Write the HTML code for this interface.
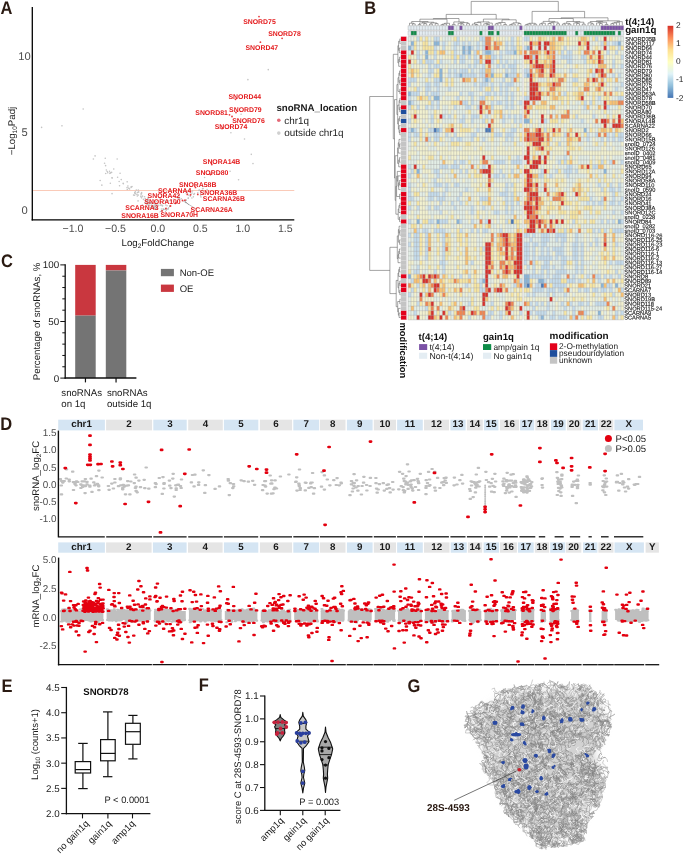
<!DOCTYPE html>
<html><head><meta charset="utf-8"><style>
html,body{margin:0;padding:0;background:#fff;}
svg{display:block;font-family:"Liberation Sans", sans-serif;text-rendering:geometricPrecision;will-change:transform;}
</style></head><body>
<svg width="685" height="855" viewBox="0 0 685 855">
<rect width="685" height="855" fill="#fff"/>
<text transform="translate(0.60,13.90) scale(1,1.1)" font-size="16.5" fill="#2a1a12" font-weight="bold">A</text>
<text transform="translate(364.30,13.70) scale(1,1.1)" font-size="16.5" fill="#2a1a12" font-weight="bold">B</text>
<text transform="translate(1.00,266.60) scale(1,1.1)" font-size="16.5" fill="#2a1a12" font-weight="bold">C</text>
<text transform="translate(0.30,429.60) scale(1,1.1)" font-size="16.5" fill="#2a1a12" font-weight="bold">D</text>
<text transform="translate(1.60,691.50) scale(1,1.1)" font-size="16.5" fill="#2a1a12" font-weight="bold">E</text>
<text transform="translate(198.80,691.40) scale(1,1.1)" font-size="16.5" fill="#2a1a12" font-weight="bold">F</text>
<text transform="translate(407.60,691.60) scale(1,1.1)" font-size="16.5" fill="#2a1a12" font-weight="bold">G</text>
<line x1="33.00" y1="190.50" x2="294.30" y2="190.50" stroke="#f9c4b0" stroke-width="0.9" />
<circle cx="138.06" cy="200.89" r="0.8" fill="#c4c4c4"/>
<circle cx="137.33" cy="196.03" r="0.8" fill="#c4c4c4"/>
<circle cx="134.97" cy="193.37" r="0.8" fill="#c4c4c4"/>
<circle cx="134.74" cy="192.49" r="0.8" fill="#c4c4c4"/>
<circle cx="127.89" cy="186.05" r="0.8" fill="#c4c4c4"/>
<circle cx="145.86" cy="200.77" r="0.8" fill="#c4c4c4"/>
<circle cx="155.24" cy="204.14" r="0.8" fill="#c4c4c4"/>
<circle cx="156.89" cy="209.03" r="0.8" fill="#c4c4c4"/>
<circle cx="105.60" cy="165.67" r="0.8" fill="#c4c4c4"/>
<circle cx="128.74" cy="188.14" r="0.8" fill="#c4c4c4"/>
<circle cx="152.59" cy="200.01" r="0.8" fill="#c4c4c4"/>
<circle cx="156.33" cy="206.43" r="0.8" fill="#c4c4c4"/>
<circle cx="151.18" cy="203.10" r="0.8" fill="#c4c4c4"/>
<circle cx="137.42" cy="192.44" r="0.8" fill="#c4c4c4"/>
<circle cx="138.70" cy="191.95" r="0.8" fill="#c4c4c4"/>
<circle cx="127.26" cy="189.43" r="0.8" fill="#c4c4c4"/>
<circle cx="135.42" cy="193.81" r="0.8" fill="#c4c4c4"/>
<circle cx="147.10" cy="203.40" r="0.8" fill="#c4c4c4"/>
<circle cx="104.57" cy="163.26" r="0.8" fill="#c4c4c4"/>
<circle cx="123.17" cy="183.25" r="0.8" fill="#c4c4c4"/>
<circle cx="145.26" cy="198.54" r="0.8" fill="#c4c4c4"/>
<circle cx="155.97" cy="203.79" r="0.8" fill="#c4c4c4"/>
<circle cx="119.55" cy="185.79" r="0.8" fill="#c4c4c4"/>
<circle cx="141.60" cy="192.43" r="0.8" fill="#c4c4c4"/>
<circle cx="107.20" cy="171.56" r="0.8" fill="#c4c4c4"/>
<circle cx="150.31" cy="202.60" r="0.8" fill="#c4c4c4"/>
<circle cx="110.34" cy="183.21" r="0.8" fill="#c4c4c4"/>
<circle cx="141.02" cy="194.08" r="0.8" fill="#c4c4c4"/>
<circle cx="155.87" cy="209.03" r="0.8" fill="#c4c4c4"/>
<circle cx="147.50" cy="204.78" r="0.8" fill="#c4c4c4"/>
<circle cx="155.37" cy="209.03" r="0.8" fill="#c4c4c4"/>
<circle cx="120.07" cy="173.26" r="0.8" fill="#c4c4c4"/>
<circle cx="154.20" cy="205.27" r="0.8" fill="#c4c4c4"/>
<circle cx="156.32" cy="205.25" r="0.8" fill="#c4c4c4"/>
<circle cx="117.62" cy="177.19" r="0.8" fill="#c4c4c4"/>
<circle cx="138.33" cy="190.03" r="0.8" fill="#c4c4c4"/>
<circle cx="151.16" cy="203.33" r="0.8" fill="#c4c4c4"/>
<circle cx="127.06" cy="187.64" r="0.8" fill="#c4c4c4"/>
<circle cx="154.26" cy="207.40" r="0.8" fill="#c4c4c4"/>
<circle cx="147.50" cy="199.38" r="0.8" fill="#c4c4c4"/>
<circle cx="106.35" cy="170.07" r="0.8" fill="#c4c4c4"/>
<circle cx="112.00" cy="177.79" r="0.8" fill="#c4c4c4"/>
<circle cx="150.26" cy="207.72" r="0.8" fill="#c4c4c4"/>
<circle cx="127.17" cy="181.84" r="0.8" fill="#c4c4c4"/>
<circle cx="154.88" cy="203.45" r="0.8" fill="#c4c4c4"/>
<circle cx="148.05" cy="201.05" r="0.8" fill="#c4c4c4"/>
<circle cx="119.15" cy="181.54" r="0.8" fill="#c4c4c4"/>
<circle cx="155.86" cy="203.99" r="0.8" fill="#c4c4c4"/>
<circle cx="155.26" cy="208.25" r="0.8" fill="#c4c4c4"/>
<circle cx="129.58" cy="188.92" r="0.8" fill="#c4c4c4"/>
<circle cx="142.38" cy="205.03" r="0.8" fill="#c4c4c4"/>
<circle cx="136.32" cy="190.01" r="0.8" fill="#c4c4c4"/>
<circle cx="131.14" cy="187.34" r="0.8" fill="#c4c4c4"/>
<circle cx="152.73" cy="205.85" r="0.8" fill="#c4c4c4"/>
<circle cx="110.46" cy="172.90" r="0.8" fill="#c4c4c4"/>
<circle cx="151.20" cy="205.49" r="0.8" fill="#c4c4c4"/>
<circle cx="121.23" cy="179.59" r="0.8" fill="#c4c4c4"/>
<circle cx="107.73" cy="172.82" r="0.8" fill="#c4c4c4"/>
<circle cx="112.17" cy="178.01" r="0.8" fill="#c4c4c4"/>
<circle cx="154.75" cy="207.84" r="0.8" fill="#c4c4c4"/>
<circle cx="156.98" cy="204.86" r="0.8" fill="#c4c4c4"/>
<circle cx="123.37" cy="183.79" r="0.8" fill="#c4c4c4"/>
<circle cx="148.11" cy="198.90" r="0.8" fill="#c4c4c4"/>
<circle cx="146.35" cy="203.76" r="0.8" fill="#c4c4c4"/>
<circle cx="151.83" cy="203.84" r="0.8" fill="#c4c4c4"/>
<circle cx="149.45" cy="203.16" r="0.8" fill="#c4c4c4"/>
<circle cx="132.03" cy="186.61" r="0.8" fill="#c4c4c4"/>
<circle cx="147.00" cy="203.88" r="0.8" fill="#c4c4c4"/>
<circle cx="109.88" cy="173.37" r="0.8" fill="#c4c4c4"/>
<circle cx="147.53" cy="199.93" r="0.8" fill="#c4c4c4"/>
<circle cx="138.42" cy="192.04" r="0.8" fill="#c4c4c4"/>
<circle cx="142.53" cy="196.16" r="0.8" fill="#c4c4c4"/>
<circle cx="131.28" cy="186.71" r="0.8" fill="#c4c4c4"/>
<circle cx="111.60" cy="172.42" r="0.8" fill="#c4c4c4"/>
<circle cx="105.71" cy="173.43" r="0.8" fill="#c4c4c4"/>
<circle cx="186.31" cy="200.16" r="0.8" fill="#c4c4c4"/>
<circle cx="165.83" cy="204.94" r="0.8" fill="#c4c4c4"/>
<circle cx="202.55" cy="188.73" r="0.8" fill="#c4c4c4"/>
<circle cx="192.04" cy="193.01" r="0.8" fill="#c4c4c4"/>
<circle cx="188.84" cy="195.22" r="0.8" fill="#c4c4c4"/>
<circle cx="181.38" cy="198.79" r="0.8" fill="#c4c4c4"/>
<circle cx="207.11" cy="189.47" r="0.8" fill="#c4c4c4"/>
<circle cx="163.16" cy="209.03" r="0.8" fill="#c4c4c4"/>
<circle cx="202.04" cy="190.53" r="0.8" fill="#c4c4c4"/>
<circle cx="193.83" cy="194.38" r="0.8" fill="#c4c4c4"/>
<circle cx="202.80" cy="193.99" r="0.8" fill="#c4c4c4"/>
<circle cx="175.25" cy="203.87" r="0.8" fill="#c4c4c4"/>
<circle cx="200.57" cy="195.84" r="0.8" fill="#c4c4c4"/>
<circle cx="178.30" cy="198.31" r="0.8" fill="#c4c4c4"/>
<circle cx="185.74" cy="202.43" r="0.8" fill="#c4c4c4"/>
<circle cx="188.29" cy="198.33" r="0.8" fill="#c4c4c4"/>
<circle cx="187.50" cy="192.94" r="0.8" fill="#c4c4c4"/>
<circle cx="163.36" cy="209.03" r="0.8" fill="#c4c4c4"/>
<circle cx="201.01" cy="197.05" r="0.8" fill="#c4c4c4"/>
<circle cx="193.39" cy="196.85" r="0.8" fill="#c4c4c4"/>
<circle cx="186.14" cy="193.06" r="0.8" fill="#c4c4c4"/>
<circle cx="179.40" cy="198.68" r="0.8" fill="#c4c4c4"/>
<circle cx="194.49" cy="193.61" r="0.8" fill="#c4c4c4"/>
<circle cx="161.43" cy="209.03" r="0.8" fill="#c4c4c4"/>
<circle cx="169.73" cy="205.84" r="0.8" fill="#c4c4c4"/>
<circle cx="191.91" cy="197.94" r="0.8" fill="#c4c4c4"/>
<circle cx="203.07" cy="188.55" r="0.8" fill="#c4c4c4"/>
<circle cx="170.87" cy="200.62" r="0.8" fill="#c4c4c4"/>
<circle cx="190.91" cy="193.95" r="0.8" fill="#c4c4c4"/>
<circle cx="168.51" cy="201.06" r="0.8" fill="#c4c4c4"/>
<circle cx="190.01" cy="188.69" r="0.8" fill="#c4c4c4"/>
<circle cx="179.46" cy="197.20" r="0.8" fill="#c4c4c4"/>
<circle cx="190.30" cy="196.14" r="0.8" fill="#c4c4c4"/>
<circle cx="168.33" cy="209.03" r="0.8" fill="#c4c4c4"/>
<circle cx="202.76" cy="186.42" r="0.8" fill="#c4c4c4"/>
<circle cx="201.03" cy="192.59" r="0.8" fill="#c4c4c4"/>
<circle cx="173.62" cy="199.27" r="0.8" fill="#c4c4c4"/>
<circle cx="165.66" cy="209.03" r="0.8" fill="#c4c4c4"/>
<circle cx="199.43" cy="190.14" r="0.8" fill="#c4c4c4"/>
<circle cx="192.54" cy="191.04" r="0.8" fill="#c4c4c4"/>
<circle cx="167.06" cy="205.72" r="0.8" fill="#c4c4c4"/>
<circle cx="179.88" cy="199.48" r="0.8" fill="#c4c4c4"/>
<circle cx="178.15" cy="197.81" r="0.8" fill="#c4c4c4"/>
<circle cx="188.33" cy="197.99" r="0.8" fill="#c4c4c4"/>
<circle cx="198.95" cy="190.39" r="0.8" fill="#c4c4c4"/>
<circle cx="162.22" cy="205.83" r="0.8" fill="#c4c4c4"/>
<circle cx="153.41" cy="207.74" r="0.8" fill="#c4c4c4"/>
<circle cx="153.18" cy="207.24" r="0.8" fill="#c4c4c4"/>
<circle cx="147.70" cy="200.03" r="0.8" fill="#c4c4c4"/>
<circle cx="144.57" cy="196.69" r="0.8" fill="#c4c4c4"/>
<circle cx="156.57" cy="209.03" r="0.8" fill="#c4c4c4"/>
<circle cx="148.92" cy="205.33" r="0.8" fill="#c4c4c4"/>
<circle cx="154.71" cy="206.45" r="0.8" fill="#c4c4c4"/>
<circle cx="153.11" cy="207.08" r="0.8" fill="#c4c4c4"/>
<circle cx="143.48" cy="199.38" r="0.8" fill="#c4c4c4"/>
<circle cx="140.93" cy="196.84" r="0.8" fill="#c4c4c4"/>
<circle cx="160.17" cy="198.41" r="0.8" fill="#c4c4c4"/>
<circle cx="148.39" cy="202.91" r="0.8" fill="#c4c4c4"/>
<circle cx="144.79" cy="202.80" r="0.8" fill="#c4c4c4"/>
<circle cx="162.60" cy="205.79" r="0.8" fill="#c4c4c4"/>
<circle cx="149.68" cy="203.66" r="0.8" fill="#c4c4c4"/>
<circle cx="149.79" cy="202.57" r="0.8" fill="#c4c4c4"/>
<circle cx="147.09" cy="200.10" r="0.8" fill="#c4c4c4"/>
<circle cx="138.23" cy="195.11" r="0.8" fill="#c4c4c4"/>
<circle cx="136.95" cy="194.39" r="0.8" fill="#c4c4c4"/>
<circle cx="154.73" cy="208.03" r="0.8" fill="#c4c4c4"/>
<circle cx="165.98" cy="201.59" r="0.8" fill="#c4c4c4"/>
<circle cx="158.78" cy="205.22" r="0.8" fill="#c4c4c4"/>
<circle cx="135.35" cy="191.70" r="0.8" fill="#c4c4c4"/>
<circle cx="141.66" cy="197.87" r="0.8" fill="#c4c4c4"/>
<circle cx="164.31" cy="200.37" r="0.8" fill="#c4c4c4"/>
<circle cx="161.79" cy="205.08" r="0.8" fill="#c4c4c4"/>
<circle cx="147.10" cy="202.39" r="0.8" fill="#c4c4c4"/>
<circle cx="147.81" cy="197.93" r="0.8" fill="#c4c4c4"/>
<circle cx="140.91" cy="196.17" r="0.8" fill="#c4c4c4"/>
<circle cx="156.11" cy="201.70" r="0.8" fill="#c4c4c4"/>
<circle cx="178.94" cy="195.31" r="0.8" fill="#c4c4c4"/>
<circle cx="133.57" cy="195.10" r="0.8" fill="#c4c4c4"/>
<circle cx="141.54" cy="193.65" r="0.8" fill="#c4c4c4"/>
<circle cx="156.93" cy="206.57" r="0.8" fill="#c4c4c4"/>
<circle cx="160.64" cy="205.16" r="0.8" fill="#c4c4c4"/>
<circle cx="134.55" cy="195.19" r="0.8" fill="#c4c4c4"/>
<circle cx="148.67" cy="205.35" r="0.8" fill="#c4c4c4"/>
<circle cx="152.45" cy="206.32" r="0.8" fill="#c4c4c4"/>
<circle cx="153.04" cy="205.71" r="0.8" fill="#c4c4c4"/>
<circle cx="41.59" cy="127.41" r="0.8" fill="#c4c4c4"/>
<circle cx="61.96" cy="125.87" r="0.8" fill="#c4c4c4"/>
<circle cx="83.19" cy="108.93" r="0.8" fill="#c4c4c4"/>
<circle cx="95.07" cy="155.90" r="0.8" fill="#c4c4c4"/>
<circle cx="105.26" cy="158.21" r="0.8" fill="#c4c4c4"/>
<circle cx="109.51" cy="171.30" r="0.8" fill="#c4c4c4"/>
<circle cx="100.17" cy="180.54" r="0.8" fill="#c4c4c4"/>
<circle cx="113.75" cy="168.99" r="0.8" fill="#c4c4c4"/>
<circle cx="93.38" cy="158.98" r="0.8" fill="#c4c4c4"/>
<circle cx="117.15" cy="158.98" r="0.8" fill="#c4c4c4"/>
<circle cx="101.87" cy="185.16" r="0.8" fill="#c4c4c4"/>
<circle cx="112.05" cy="193.63" r="0.8" fill="#c4c4c4"/>
<circle cx="241.10" cy="114.32" r="0.8" fill="#c4c4c4"/>
<circle cx="247.89" cy="79.67" r="0.8" fill="#c4c4c4"/>
<circle cx="268.27" cy="69.66" r="0.8" fill="#c4c4c4"/>
<circle cx="230.91" cy="132.80" r="0.8" fill="#c4c4c4"/>
<circle cx="244.50" cy="138.96" r="0.8" fill="#c4c4c4"/>
<circle cx="251.29" cy="154.36" r="0.8" fill="#c4c4c4"/>
<circle cx="252.99" cy="163.60" r="0.8" fill="#c4c4c4"/>
<circle cx="238.56" cy="179.77" r="0.8" fill="#c4c4c4"/>
<circle cx="230.06" cy="171.30" r="0.8" fill="#c4c4c4"/>
<circle cx="219.03" cy="173.61" r="0.8" fill="#c4c4c4"/>
<circle cx="210.54" cy="183.62" r="0.8" fill="#c4c4c4"/>
<circle cx="204.60" cy="177.46" r="0.8" fill="#c4c4c4"/>
<circle cx="190.16" cy="190.55" r="0.8" fill="#c4c4c4"/>
<circle cx="197.80" cy="192.86" r="0.8" fill="#c4c4c4"/>
<line x1="182.50" y1="200.50" x2="196.00" y2="209.00" stroke="#7f7f7f" stroke-width="0.5" />
<line x1="170.00" y1="206.00" x2="165.00" y2="212.00" stroke="#7f7f7f" stroke-width="0.5" />
<line x1="189.00" y1="205.00" x2="184.00" y2="200.00" stroke="#7f7f7f" stroke-width="0.5" />
<line x1="159.50" y1="212.00" x2="166.00" y2="208.50" stroke="#7f7f7f" stroke-width="0.5" />
<circle cx="259.00" cy="16.60" r="0.9" fill="#e41a1c" fill-opacity="0.85"/>
<circle cx="282.10" cy="38.30" r="0.9" fill="#e41a1c" fill-opacity="0.85"/>
<circle cx="260.40" cy="42.20" r="0.9" fill="#e41a1c" fill-opacity="0.85"/>
<circle cx="235.50" cy="99.30" r="0.9" fill="#e41a1c" fill-opacity="0.85"/>
<circle cx="236.00" cy="112.50" r="0.9" fill="#e41a1c" fill-opacity="0.85"/>
<circle cx="229.50" cy="114.80" r="0.9" fill="#e41a1c" fill-opacity="0.85"/>
<circle cx="232.00" cy="116.50" r="0.9" fill="#e41a1c" fill-opacity="0.85"/>
<circle cx="222.00" cy="128.50" r="0.9" fill="#e41a1c" fill-opacity="0.85"/>
<circle cx="211.80" cy="164.50" r="0.9" fill="#e41a1c" fill-opacity="0.85"/>
<circle cx="210.50" cy="174.50" r="0.9" fill="#e41a1c" fill-opacity="0.85"/>
<circle cx="195.50" cy="187.40" r="0.9" fill="#e41a1c" fill-opacity="0.85"/>
<circle cx="197.80" cy="194.40" r="0.9" fill="#e41a1c" fill-opacity="0.85"/>
<circle cx="187.30" cy="194.40" r="0.9" fill="#e41a1c" fill-opacity="0.85"/>
<circle cx="190.60" cy="194.80" r="0.9" fill="#e41a1c" fill-opacity="0.85"/>
<circle cx="185.00" cy="200.20" r="0.9" fill="#e41a1c" fill-opacity="0.85"/>
<circle cx="182.50" cy="200.50" r="0.9" fill="#e41a1c" fill-opacity="0.85"/>
<circle cx="176.00" cy="203.00" r="0.9" fill="#e41a1c" fill-opacity="0.85"/>
<circle cx="170.50" cy="206.00" r="0.9" fill="#e41a1c" fill-opacity="0.85"/>
<circle cx="166.00" cy="208.50" r="0.9" fill="#e41a1c" fill-opacity="0.85"/>
<circle cx="162.00" cy="211.00" r="0.9" fill="#e41a1c" fill-opacity="0.85"/>
<text x="243.20" y="24.05" font-size="6.9" fill="#e41a1c" text-anchor="start" font-weight="bold" >SNORD75</text>
<text x="268.20" y="36.05" font-size="6.9" fill="#e41a1c" text-anchor="start" font-weight="bold" >SNORD78</text>
<text x="245.50" y="50.45" font-size="6.9" fill="#e41a1c" text-anchor="start" font-weight="bold" >SNORD47</text>
<text x="228.50" y="99.25" font-size="6.9" fill="#e41a1c" text-anchor="start" font-weight="bold" >SNORD44</text>
<text x="229.10" y="112.05" font-size="6.9" fill="#e41a1c" text-anchor="start" font-weight="bold" >SNORD79</text>
<text x="195.30" y="115.05" font-size="6.9" fill="#e41a1c" text-anchor="start" font-weight="bold" >SNORD81</text>
<text x="232.20" y="122.85" font-size="6.9" fill="#e41a1c" text-anchor="start" font-weight="bold" >SNORD76</text>
<text x="214.70" y="128.95" font-size="6.9" fill="#e41a1c" text-anchor="start" font-weight="bold" >SNORD74</text>
<text x="202.80" y="163.85" font-size="6.9" fill="#e41a1c" text-anchor="start" font-weight="bold" >SNORA14B</text>
<text x="195.80" y="175.15" font-size="6.9" fill="#e41a1c" text-anchor="start" font-weight="bold" >SNORD80</text>
<text x="178.90" y="186.85" font-size="6.9" fill="#e41a1c" text-anchor="start" font-weight="bold" >SNORA58B</text>
<text x="158.00" y="192.65" font-size="6.9" fill="#e41a1c" text-anchor="start" font-weight="bold" >SCARNA4</text>
<text x="199.70" y="195.15" font-size="6.9" fill="#e41a1c" text-anchor="start" font-weight="bold" >SNORA36B</text>
<text x="147.60" y="197.55" font-size="6.9" fill="#e41a1c" text-anchor="start" font-weight="bold" >SNORA42</text>
<text x="202.80" y="201.25" font-size="6.9" fill="#e41a1c" text-anchor="start" font-weight="bold" >SCARNA26B</text>
<text x="144.30" y="203.65" font-size="6.9" fill="#e41a1c" text-anchor="start" font-weight="bold" >SNORA100</text>
<text x="125.30" y="209.85" font-size="6.9" fill="#e41a1c" text-anchor="start" font-weight="bold" >SCARNA3</text>
<text x="190.60" y="211.95" font-size="6.9" fill="#e41a1c" text-anchor="start" font-weight="bold" >SCARNA26A</text>
<text x="121.30" y="218.05" font-size="6.9" fill="#e41a1c" text-anchor="start" font-weight="bold" >SNORA16B</text>
<text x="160.50" y="217.45" font-size="6.9" fill="#e41a1c" text-anchor="start" font-weight="bold" >SNORA70H</text>
<line x1="32.30" y1="7.00" x2="32.30" y2="220.60" stroke="#000" stroke-width="1.3" />
<line x1="31.65" y1="219.95" x2="294.30" y2="219.95" stroke="#000" stroke-width="1.3" />
<text x="24.50" y="214.20" font-size="11.2" fill="#4d4d4d" text-anchor="middle" font-weight="normal" >0</text>
<text x="24.50" y="136.40" font-size="11.2" fill="#4d4d4d" text-anchor="middle" font-weight="normal" >5</text>
<text x="24.50" y="60.30" font-size="11.2" fill="#4d4d4d" text-anchor="middle" font-weight="normal" >10</text>
<text x="73.00" y="231.90" font-size="10.6" fill="#4d4d4d" text-anchor="middle" font-weight="normal" >−1.0</text>
<text x="115.45" y="231.90" font-size="10.6" fill="#4d4d4d" text-anchor="middle" font-weight="normal" >−0.5</text>
<text x="157.90" y="231.90" font-size="10.6" fill="#4d4d4d" text-anchor="middle" font-weight="normal" >0.0</text>
<text x="200.35" y="231.90" font-size="10.6" fill="#4d4d4d" text-anchor="middle" font-weight="normal" >0.5</text>
<text x="242.80" y="231.90" font-size="10.6" fill="#4d4d4d" text-anchor="middle" font-weight="normal" >1.0</text>
<text x="285.25" y="231.90" font-size="10.6" fill="#4d4d4d" text-anchor="middle" font-weight="normal" >1.5</text>
<text x="157.8" y="245.7" font-size="9.7" fill="#1a1a1a" text-anchor="middle">Log<tspan font-size="6.5" dy="2.2">2</tspan><tspan dy="-2.2">FoldChange</tspan></text>
<text transform="translate(14.5,131.0) rotate(-90)" x="0" y="0" font-size="9.7" fill="#1a1a1a" text-anchor="middle">−Log<tspan font-size="6.5" dy="2.2">10</tspan><tspan dy="-2.2">Padj</tspan></text>
<text x="276.40" y="110.80" font-size="9.7" fill="#1a1a1a" text-anchor="start" font-weight="bold" >snoRNA_location</text>
<circle cx="278.8" cy="120.2" r="1.8" fill="#e05060" fill-opacity="0.85"/>
<circle cx="278.8" cy="133.1" r="1.8" fill="#d0d0d0"/>
<text x="284.30" y="123.60" font-size="9.9" fill="#1a1a1a" text-anchor="start" font-weight="normal" >chr1q</text>
<text x="284.30" y="136.20" font-size="9.9" fill="#1a1a1a" text-anchor="start" font-weight="normal" >outside chr1q</text>
<path stroke="#e3eee6" stroke-width="4.568" d="M408.1 38.88h5.71M422.4 38.88h2.86M428.1 38.88h2.86M442.4 38.88h8.57M465.2 38.88h2.86M470.9 38.88h2.86M505.2 38.88h2.86M513.7 38.88h2.86M589.5 38.88h2.85M618.0 38.88h5.70M408.1 43.45h2.86M416.7 43.45h2.86M428.1 43.45h2.86M439.5 43.45h2.86M445.2 43.45h2.86M450.9 43.45h2.86M459.5 43.45h2.86M465.2 43.45h2.86M470.9 43.45h5.71M479.5 43.45h2.86M508.0 43.45h2.86M513.7 43.45h2.86M541.0 43.45h2.85M589.5 43.45h5.70M598.0 43.45h2.85M609.4 43.45h2.85M620.8 43.45h2.85M416.7 48.02h2.86M436.7 48.02h2.86M450.9 48.02h2.86M456.6 48.02h5.71M473.8 48.02h2.86M479.5 48.02h2.86M508.0 48.02h2.86M535.3 48.02h2.85M541.0 48.02h2.85M546.7 48.02h2.85M569.5 48.02h8.55M589.5 48.02h2.85M600.9 48.02h2.85M606.6 48.02h2.85M408.1 52.59h2.86M422.4 52.59h2.86M445.2 52.59h2.86M456.6 52.59h5.71M493.8 52.59h2.86M502.3 52.59h2.86M555.3 52.59h2.85M580.9 52.59h2.85M620.8 52.59h2.85M419.5 57.16h2.86M428.1 57.16h2.86M439.5 57.16h2.86M476.6 57.16h2.86M496.6 57.16h2.86M502.3 57.16h8.56M513.7 57.16h2.86M519.4 57.16h2.86M555.3 57.16h5.70M572.4 57.16h5.70M603.7 57.16h2.85M612.3 57.16h2.85M416.7 61.72h2.86M433.8 61.72h2.86M442.4 61.72h8.57M465.2 61.72h5.71M482.3 61.72h2.86M493.8 61.72h2.86M502.3 61.72h2.86M508.0 61.72h5.71M516.6 61.72h5.71M555.3 61.72h5.70M572.4 61.72h11.40M603.7 61.72h2.85M620.8 61.72h2.85M411.0 66.29h2.86M419.5 66.29h5.71M430.9 66.29h2.86M439.5 66.29h5.71M448.1 66.29h19.99M470.9 66.29h2.86M476.6 66.29h5.71M490.9 66.29h5.71M499.5 66.29h2.86M505.2 66.29h2.86M519.4 66.29h2.86M526.8 66.29h2.85M563.8 66.29h2.85M569.5 66.29h2.85M583.8 66.29h2.85M589.5 66.29h2.85M595.2 66.29h2.85M618.0 66.29h2.85M419.5 70.86h2.86M450.9 70.86h2.86M456.6 70.86h2.86M473.8 70.86h5.71M493.8 70.86h2.86M499.5 70.86h2.86M508.0 70.86h2.86M519.4 70.86h2.86M555.3 70.86h8.55M566.7 70.86h2.85M572.4 70.86h5.70M583.8 70.86h2.85M592.3 70.86h2.85M615.1 70.86h8.55M422.4 75.43h5.71M430.9 75.43h2.86M445.2 75.43h2.86M450.9 75.43h2.86M476.6 75.43h2.86M502.3 75.43h2.86M569.5 75.43h2.85M583.8 75.43h2.85M589.5 75.43h2.85M606.6 75.43h5.70M620.8 75.43h2.85M419.5 80.00h5.71M428.1 80.00h2.86M442.4 80.00h2.86M448.1 80.00h2.86M453.8 80.00h5.71M470.9 80.00h2.86M476.6 80.00h5.71M493.8 80.00h8.57M519.4 80.00h2.86M538.2 80.00h8.55M566.7 80.00h5.70M603.7 80.00h2.85M612.3 80.00h2.85M618.0 80.00h5.70M413.8 84.56h2.86M419.5 84.56h5.71M430.9 84.56h2.86M439.5 84.56h2.86M448.1 84.56h2.86M453.8 84.56h19.99M476.6 84.56h2.86M488.0 84.56h2.86M493.8 84.56h5.71M502.3 84.56h2.86M513.7 84.56h8.57M526.8 84.56h2.85M566.7 84.56h5.70M606.6 84.56h2.85M612.3 84.56h8.55M419.5 89.13h2.86M430.9 89.13h5.71M439.5 89.13h8.57M450.9 89.13h19.99M473.8 89.13h5.71M482.3 89.13h2.86M502.3 89.13h2.86M508.0 89.13h2.86M513.7 89.13h2.86M519.4 89.13h2.86M526.8 89.13h2.85M541.0 89.13h2.85M566.7 89.13h5.70M575.2 89.13h2.85M603.7 89.13h2.85M612.3 89.13h2.85M618.0 89.13h5.70M428.1 93.70h2.86M439.5 93.70h5.71M462.3 93.70h5.71M473.8 93.70h5.71M482.3 93.70h2.86M490.9 93.70h2.86M496.6 93.70h2.86M502.3 93.70h2.86M508.0 93.70h2.86M513.7 93.70h2.86M526.8 93.70h2.85M561.0 93.70h2.85M583.8 93.70h2.85M411.0 98.27h5.71M439.5 98.27h2.86M445.2 98.27h5.71M453.8 98.27h2.86M465.2 98.27h2.86M476.6 98.27h2.86M493.8 98.27h2.86M499.5 98.27h5.71M513.7 98.27h2.86M519.4 98.27h2.86M543.9 98.27h2.85M589.5 98.27h2.85M595.2 98.27h2.85M612.3 98.27h5.70M413.8 102.84h5.71M433.8 102.84h2.86M473.8 102.84h5.71M493.8 102.84h2.86M502.3 102.84h2.86M508.0 102.84h2.86M516.6 102.84h2.86M529.6 102.84h2.85M535.3 102.84h2.85M558.1 102.84h2.85M563.8 102.84h2.85M569.5 102.84h2.85M575.2 102.84h5.70M595.2 102.84h8.55M428.1 107.40h2.86M433.8 107.40h2.86M442.4 107.40h5.71M456.6 107.40h8.57M470.9 107.40h2.86M502.3 107.40h2.86M508.0 107.40h2.86M513.7 107.40h2.86M519.4 107.40h2.86M555.3 107.40h2.85M563.8 107.40h2.85M569.5 107.40h8.55M580.9 107.40h2.85M589.5 107.40h2.85M595.2 107.40h2.85M609.4 107.40h8.55M620.8 107.40h2.85M428.1 111.97h5.71M442.4 111.97h5.71M450.9 111.97h2.86M456.6 111.97h8.57M470.9 111.97h5.71M490.9 111.97h2.86M502.3 111.97h2.86M508.0 111.97h2.86M519.4 111.97h2.86M529.6 111.97h2.85M535.3 111.97h2.85M546.7 111.97h2.85M552.4 111.97h2.85M569.5 111.97h2.85M580.9 111.97h8.55M592.3 111.97h2.85M600.9 111.97h2.85M606.6 111.97h5.70M620.8 111.97h2.85M408.1 116.54h2.86M416.7 116.54h2.86M428.1 116.54h2.86M445.2 116.54h2.86M450.9 116.54h2.86M456.6 116.54h5.71M465.2 116.54h2.86M482.3 116.54h2.86M488.0 116.54h2.86M505.2 116.54h2.86M510.9 116.54h2.86M516.6 116.54h2.86M529.6 116.54h2.85M535.3 116.54h2.85M552.4 116.54h2.85M558.1 116.54h2.85M595.2 116.54h2.85M603.7 116.54h2.85M609.4 116.54h2.85M620.8 116.54h2.85M422.4 121.11h2.86M428.1 121.11h2.86M442.4 121.11h11.42M456.6 121.11h2.86M473.8 121.11h8.56M488.0 121.11h2.86M499.5 121.11h2.86M505.2 121.11h5.71M516.6 121.11h2.86M532.5 121.11h2.85M538.2 121.11h2.85M546.7 121.11h2.85M558.1 121.11h2.85M569.5 121.11h11.40M583.8 121.11h2.85M589.5 121.11h2.85M408.1 125.68h2.86M416.7 125.68h2.86M425.2 125.68h2.86M430.9 125.68h2.86M439.5 125.68h2.86M462.3 125.68h5.71M470.9 125.68h2.86M476.6 125.68h2.86M485.2 125.68h2.86M502.3 125.68h2.86M510.9 125.68h2.86M516.6 125.68h2.86M529.6 125.68h2.85M538.2 125.68h2.85M543.9 125.68h2.85M555.3 125.68h2.85M563.8 125.68h2.85M572.4 125.68h17.11M592.3 125.68h8.55M609.4 125.68h2.85M416.7 130.24h2.86M422.4 130.24h2.86M453.8 130.24h2.86M473.8 130.24h2.86M479.5 130.24h5.71M493.8 130.24h5.71M505.2 130.24h5.71M519.4 130.24h2.86M563.8 130.24h2.85M586.6 130.24h2.85M595.2 130.24h2.85M612.3 130.24h2.85M411.0 134.81h2.86M422.4 134.81h2.86M428.1 134.81h5.71M439.5 134.81h2.86M448.1 134.81h2.86M465.2 134.81h5.71M479.5 134.81h11.42M513.7 134.81h2.86M580.9 134.81h2.85M589.5 134.81h5.70M609.4 134.81h2.85M413.8 139.38h5.71M422.4 139.38h2.86M445.2 139.38h5.71M453.8 139.38h2.86M462.3 139.38h8.56M479.5 139.38h2.86M485.2 139.38h2.86M493.8 139.38h5.71M508.0 139.38h2.86M516.6 139.38h2.86M552.4 139.38h2.85M561.0 139.38h5.70M580.9 139.38h5.70M589.5 139.38h2.85M595.2 139.38h5.70M609.4 139.38h2.85M615.1 139.38h2.85M408.1 143.95h2.86M416.7 143.95h2.86M425.2 143.95h2.86M430.9 143.95h2.86M439.5 143.95h5.71M448.1 143.95h2.86M479.5 143.95h2.86M485.2 143.95h5.71M493.8 143.95h5.71M502.3 143.95h11.42M516.6 143.95h5.71M549.6 143.95h2.85M563.8 143.95h2.85M578.1 143.95h5.70M586.6 143.95h5.70M598.0 143.95h5.70M606.6 143.95h2.85M612.3 143.95h8.55M408.1 148.52h2.86M413.8 148.52h2.86M428.1 148.52h8.56M448.1 148.52h2.86M456.6 148.52h5.71M473.8 148.52h2.86M485.2 148.52h5.71M493.8 148.52h2.86M505.2 148.52h2.86M510.9 148.52h2.86M563.8 148.52h2.85M583.8 148.52h17.11M606.6 148.52h5.70M615.1 148.52h8.55M416.7 153.08h2.86M436.7 153.08h2.86M493.8 153.08h2.86M535.3 153.08h2.85M549.6 153.08h2.85M563.8 153.08h2.85M411.0 157.65h8.56M422.4 157.65h2.86M433.8 157.65h5.71M442.4 157.65h2.86M448.1 157.65h2.86M456.6 157.65h2.86M468.1 157.65h2.86M473.8 157.65h5.71M485.2 157.65h5.71M493.8 157.65h14.28M510.9 157.65h5.71M519.4 157.65h2.86M529.6 157.65h2.85M541.0 157.65h2.85M549.6 157.65h2.85M555.3 157.65h8.55M566.7 157.65h2.85M572.4 157.65h2.85M578.1 157.65h11.40M592.3 157.65h2.85M600.9 157.65h2.85M606.6 157.65h2.85M612.3 157.65h11.40M408.1 162.22h8.56M428.1 162.22h14.27M456.6 162.22h2.86M465.2 162.22h2.86M470.9 162.22h8.56M490.9 162.22h2.86M505.2 162.22h2.86M523.9 162.22h2.85M555.3 162.22h2.85M578.1 162.22h11.40M592.3 162.22h2.85M606.6 162.22h2.85M618.0 162.22h2.85M411.0 166.79h2.86M416.7 166.79h5.71M425.2 166.79h14.28M448.1 166.79h2.86M462.3 166.79h2.86M468.1 166.79h2.86M473.8 166.79h2.86M479.5 166.79h2.86M485.2 166.79h2.86M496.6 166.79h2.86M505.2 166.79h2.86M510.9 166.79h2.86M519.4 166.79h2.86M541.0 166.79h2.85M552.4 166.79h2.85M558.1 166.79h8.55M572.4 166.79h5.70M603.7 166.79h2.85M609.4 166.79h11.40M408.1 171.36h2.86M419.5 171.36h2.86M430.9 171.36h2.86M442.4 171.36h8.57M453.8 171.36h5.71M476.6 171.36h2.86M493.8 171.36h5.71M505.2 171.36h2.86M516.6 171.36h2.86M538.2 171.36h2.85M549.6 171.36h5.70M561.0 171.36h2.85M572.4 171.36h2.85M592.3 171.36h2.85M598.0 171.36h5.70M606.6 171.36h5.70M615.1 171.36h5.70M411.0 175.92h2.86M422.4 175.92h5.71M433.8 175.92h2.86M439.5 175.92h5.71M448.1 175.92h5.71M456.6 175.92h11.42M470.9 175.92h2.86M482.3 175.92h2.86M490.9 175.92h2.86M499.5 175.92h2.86M505.2 175.92h2.86M510.9 175.92h2.86M519.4 175.92h2.86M546.7 175.92h2.85M552.4 175.92h2.85M563.8 175.92h2.85M569.5 175.92h17.11M592.3 175.92h2.85M598.0 175.92h5.70M606.6 175.92h5.70M615.1 175.92h2.85M620.8 175.92h2.85M408.1 180.49h2.86M416.7 180.49h2.86M425.2 180.49h2.86M430.9 180.49h2.86M442.4 180.49h2.86M450.9 180.49h5.71M459.5 180.49h2.86M465.2 180.49h5.71M473.8 180.49h2.86M493.8 180.49h17.13M516.6 180.49h2.86M541.0 180.49h2.85M566.7 180.49h8.55M595.2 180.49h2.85M600.9 180.49h2.85M612.3 180.49h2.85M618.0 180.49h2.85M411.0 185.06h5.71M419.5 185.06h2.86M428.1 185.06h5.71M442.4 185.06h2.86M448.1 185.06h2.86M459.5 185.06h11.42M482.3 185.06h2.86M490.9 185.06h2.86M508.0 185.06h2.86M541.0 185.06h2.85M566.7 185.06h5.70M583.8 185.06h2.85M589.5 185.06h2.85M595.2 185.06h2.85M600.9 185.06h5.70M612.3 185.06h2.85M620.8 185.06h2.85M416.7 189.63h2.86M428.1 189.63h2.86M433.8 189.63h5.71M442.4 189.63h2.86M448.1 189.63h17.13M468.1 189.63h5.71M493.8 189.63h5.71M502.3 189.63h2.86M508.0 189.63h5.71M538.2 189.63h5.70M549.6 189.63h5.70M563.8 189.63h5.70M589.5 189.63h2.85M606.6 189.63h2.85M615.1 189.63h2.85M620.8 189.63h2.85M411.0 194.20h2.86M419.5 194.20h5.71M439.5 194.20h2.86M445.2 194.20h2.86M450.9 194.20h8.56M470.9 194.20h2.86M476.6 194.20h11.42M493.8 194.20h5.71M508.0 194.20h2.86M516.6 194.20h5.71M543.9 194.20h2.85M566.7 194.20h2.85M572.4 194.20h2.85M586.6 194.20h8.55M609.4 194.20h2.85M618.0 194.20h5.70M413.8 198.76h5.71M425.2 198.76h2.86M433.8 198.76h2.86M445.2 198.76h11.42M459.5 198.76h2.86M465.2 198.76h2.86M470.9 198.76h2.86M493.8 198.76h2.86M502.3 198.76h2.86M508.0 198.76h2.86M519.4 198.76h2.86M549.6 198.76h2.85M569.5 198.76h2.85M575.2 198.76h2.85M592.3 198.76h5.70M609.4 198.76h2.85M615.1 198.76h5.70M411.0 203.33h5.71M428.1 203.33h2.86M433.8 203.33h2.86M445.2 203.33h2.86M453.8 203.33h5.71M462.3 203.33h2.86M468.1 203.33h5.71M479.5 203.33h2.86M490.9 203.33h2.86M496.6 203.33h2.86M508.0 203.33h2.86M580.9 203.33h5.70M589.5 203.33h2.85M595.2 203.33h2.85M606.6 203.33h2.85M615.1 203.33h2.85M620.8 203.33h2.85M411.0 207.90h2.86M425.2 207.90h2.86M439.5 207.90h14.28M456.6 207.90h14.28M473.8 207.90h2.86M479.5 207.90h2.86M485.2 207.90h5.71M493.8 207.90h5.71M513.7 207.90h8.57M563.8 207.90h5.70M592.3 207.90h2.85M600.9 207.90h2.85M606.6 207.90h2.85M612.3 207.90h11.40M408.1 212.47h2.86M413.8 212.47h5.71M428.1 212.47h11.42M448.1 212.47h2.86M453.8 212.47h11.42M468.1 212.47h2.86M473.8 212.47h2.86M485.2 212.47h2.86M490.9 212.47h2.86M499.5 212.47h5.71M508.0 212.47h2.86M516.6 212.47h5.71M583.8 212.47h5.70M592.3 212.47h2.85M600.9 212.47h11.40M615.1 212.47h5.70M413.8 217.04h2.86M430.9 217.04h2.86M445.2 217.04h2.86M453.8 217.04h2.86M459.5 217.04h5.71M470.9 217.04h2.86M479.5 217.04h2.86M485.2 217.04h2.86M496.6 217.04h2.86M505.2 217.04h8.56M516.6 217.04h2.86M549.6 217.04h5.70M561.0 217.04h2.85M583.8 217.04h11.40M598.0 217.04h8.55M609.4 217.04h2.85M615.1 217.04h8.55M411.0 221.60h2.86M419.5 221.60h2.86M433.8 221.60h2.86M450.9 221.60h2.86M462.3 221.60h5.71M473.8 221.60h5.71M482.3 221.60h2.86M490.9 221.60h2.86M496.6 221.60h2.86M586.6 221.60h2.85M595.2 221.60h5.70M609.4 221.60h2.85M408.1 226.17h2.86M416.7 226.17h2.86M422.4 226.17h8.57M433.8 226.17h2.86M439.5 226.17h2.86M450.9 226.17h5.71M462.3 226.17h11.42M482.3 226.17h2.86M490.9 226.17h5.71M499.5 226.17h2.86M505.2 226.17h11.42M519.4 226.17h2.86M523.9 226.17h2.85M546.7 226.17h2.85M555.3 226.17h5.70M569.5 226.17h5.70M580.9 226.17h42.76M408.1 230.74h5.71M419.5 230.74h2.86M428.1 230.74h2.86M445.2 230.74h5.71M453.8 230.74h2.86M462.3 230.74h2.86M468.1 230.74h2.86M488.0 230.74h2.86M493.8 230.74h5.71M505.2 230.74h8.56M535.3 230.74h2.85M555.3 230.74h2.85M575.2 230.74h2.85M583.8 230.74h2.85M595.2 230.74h2.85M606.6 230.74h2.85M433.8 235.31h2.86M439.5 235.31h2.86M450.9 235.31h5.71M468.1 235.31h2.86M476.6 235.31h2.86M482.3 235.31h2.86M493.8 235.31h2.86M529.6 235.31h2.85M535.3 235.31h5.70M549.6 235.31h5.70M572.4 235.31h2.85M578.1 235.31h5.70M586.6 235.31h2.85M592.3 235.31h5.70M615.1 235.31h5.70M408.1 239.88h5.71M433.8 239.88h2.86M439.5 239.88h2.86M453.8 239.88h2.86M462.3 239.88h2.86M468.1 239.88h2.86M476.6 239.88h5.71M493.8 239.88h2.86M523.9 239.88h5.70M532.5 239.88h8.55M549.6 239.88h5.70M558.1 239.88h2.85M572.4 239.88h2.85M578.1 239.88h5.70M586.6 239.88h2.85M592.3 239.88h2.85M598.0 239.88h2.85M609.4 239.88h2.85M615.1 239.88h2.85M433.8 244.44h2.86M453.8 244.44h2.86M468.1 244.44h2.86M476.6 244.44h5.71M493.8 244.44h2.86M529.6 244.44h2.85M538.2 244.44h2.85M546.7 244.44h14.25M563.8 244.44h2.85M569.5 244.44h2.85M578.1 244.44h2.85M586.6 244.44h2.85M598.0 244.44h2.85M609.4 244.44h2.85M618.0 244.44h5.70M408.1 249.01h5.71M433.8 249.01h2.86M439.5 249.01h2.86M453.8 249.01h2.86M462.3 249.01h2.86M476.6 249.01h2.86M529.6 249.01h2.85M538.2 249.01h2.85M543.9 249.01h2.85M549.6 249.01h2.85M563.8 249.01h2.85M569.5 249.01h2.85M578.1 249.01h2.85M586.6 249.01h2.85M595.2 249.01h5.70M609.4 249.01h2.85M615.1 249.01h2.85M620.8 249.01h2.85M408.1 253.58h5.71M433.8 253.58h2.86M439.5 253.58h2.86M453.8 253.58h2.86M462.3 253.58h2.86M476.6 253.58h2.86M529.6 253.58h2.85M538.2 253.58h2.85M543.9 253.58h2.85M549.6 253.58h2.85M563.8 253.58h2.85M578.1 253.58h2.85M592.3 253.58h5.70M609.4 253.58h2.85M615.1 253.58h2.85M620.8 253.58h2.85M408.1 258.15h5.71M422.4 258.15h2.86M433.8 258.15h2.86M439.5 258.15h2.86M476.6 258.15h2.86M529.6 258.15h2.85M535.3 258.15h2.85M552.4 258.15h2.85M558.1 258.15h2.85M566.7 258.15h5.70M578.1 258.15h2.85M589.5 258.15h5.70M598.0 258.15h2.85M413.8 262.72h5.71M425.2 262.72h2.86M433.8 262.72h2.86M445.2 262.72h2.86M453.8 262.72h2.86M468.1 262.72h2.86M482.3 262.72h2.86M526.8 262.72h2.85M541.0 262.72h2.85M552.4 262.72h8.55M572.4 262.72h2.85M583.8 262.72h8.55M595.2 262.72h2.85M606.6 262.72h2.85M612.3 262.72h2.85M411.0 267.28h5.71M425.2 267.28h2.86M433.8 267.28h2.86M439.5 267.28h2.86M453.8 267.28h2.86M462.3 267.28h2.86M468.1 267.28h2.86M476.6 267.28h2.86M482.3 267.28h2.86M549.6 267.28h2.85M555.3 267.28h5.70M563.8 267.28h2.85M572.4 267.28h2.85M578.1 267.28h2.85M586.6 267.28h2.85M592.3 267.28h5.70M606.6 267.28h2.85M612.3 267.28h8.55M411.0 271.85h2.86M422.4 271.85h5.71M439.5 271.85h2.86M453.8 271.85h2.86M468.1 271.85h2.86M482.3 271.85h2.86M493.8 271.85h2.86M523.9 271.85h8.55M538.2 271.85h2.85M549.6 271.85h5.70M566.7 271.85h8.55M578.1 271.85h2.85M586.6 271.85h8.55M598.0 271.85h2.85M620.8 271.85h2.85M439.5 276.42h2.86M448.1 276.42h2.86M453.8 276.42h2.86M479.5 276.42h5.71M488.0 276.42h2.86M543.9 276.42h2.85M549.6 276.42h2.85M561.0 276.42h5.70M569.5 276.42h2.85M575.2 276.42h2.85M583.8 276.42h2.85M589.5 276.42h2.85M606.6 276.42h2.85M612.3 276.42h5.70M408.1 280.99h2.86M430.9 280.99h2.86M470.9 280.99h2.86M476.6 280.99h2.86M488.0 280.99h5.71M499.5 280.99h5.71M508.0 280.99h2.86M535.3 280.99h2.85M546.7 280.99h2.85M575.2 280.99h2.85M580.9 280.99h5.70M589.5 280.99h2.85M595.2 280.99h2.85M600.9 280.99h2.85M425.2 285.56h2.86M462.3 285.56h2.86M468.1 285.56h2.86M488.0 285.56h2.86M510.9 285.56h2.86M532.5 285.56h2.85M546.7 285.56h2.85M618.0 285.56h2.85M416.7 290.12h2.86M425.2 290.12h2.86M445.2 290.12h2.86M470.9 290.12h2.86M490.9 290.12h2.86M508.0 290.12h5.71M543.9 290.12h2.85M555.3 290.12h2.85M569.5 290.12h2.85M580.9 290.12h2.85M598.0 290.12h2.85M606.6 290.12h2.85M612.3 290.12h2.85M411.0 294.69h2.86M416.7 294.69h2.86M422.4 294.69h2.86M433.8 294.69h2.86M453.8 294.69h2.86M462.3 294.69h2.86M468.1 294.69h2.86M473.8 294.69h2.86M479.5 294.69h2.86M488.0 294.69h5.71M496.6 294.69h8.57M523.9 294.69h2.85M529.6 294.69h2.85M535.3 294.69h11.40M555.3 294.69h8.55M566.7 294.69h2.85M572.4 294.69h2.85M586.6 294.69h2.85M595.2 294.69h5.70M408.1 299.26h2.86M416.7 299.26h2.86M433.8 299.26h5.71M442.4 299.26h2.86M448.1 299.26h2.86M453.8 299.26h2.86M459.5 299.26h11.42M473.8 299.26h2.86M490.9 299.26h2.86M499.5 299.26h5.71M532.5 299.26h2.85M546.7 299.26h2.85M555.3 299.26h2.85M563.8 299.26h2.85M586.6 299.26h2.85M595.2 299.26h2.85M600.9 299.26h2.85M609.4 299.26h2.85M615.1 299.26h2.85M620.8 299.26h2.85M408.1 303.83h2.86M448.1 303.83h2.86M456.6 303.83h2.86M462.3 303.83h5.71M473.8 303.83h2.86M485.2 303.83h5.71M499.5 303.83h2.86M516.6 303.83h5.71M532.5 303.83h2.85M538.2 303.83h2.85M549.6 303.83h5.70M558.1 303.83h2.85M563.8 303.83h2.85M572.4 303.83h5.70M583.8 303.83h2.85M592.3 303.83h2.85M612.3 303.83h5.70M408.1 308.40h2.86M413.8 308.40h11.42M439.5 308.40h2.86M456.6 308.40h2.86M465.2 308.40h5.71M479.5 308.40h8.56M493.8 308.40h2.86M523.9 308.40h8.55M538.2 308.40h8.55M549.6 308.40h5.70M558.1 308.40h5.70M566.7 308.40h5.70M575.2 308.40h5.70M583.8 308.40h19.96M609.4 308.40h2.85M618.0 308.40h2.85M408.1 312.96h5.71M416.7 312.96h2.86M433.8 312.96h2.86M439.5 312.96h2.86M450.9 312.96h2.86M496.6 312.96h2.86M502.3 312.96h2.86M510.9 312.96h2.86M532.5 312.96h2.85M546.7 312.96h5.70M555.3 312.96h8.55M566.7 312.96h2.85M586.6 312.96h2.85M595.2 312.96h2.85M603.7 312.96h2.85M609.4 312.96h2.85M618.0 312.96h2.85M413.8 317.53h2.86M425.2 317.53h2.86M450.9 317.53h2.86M476.6 317.53h5.71M493.8 317.53h5.71M505.2 317.53h2.86M516.6 317.53h2.86M532.5 317.53h2.85M543.9 317.53h5.70M555.3 317.53h2.85M566.7 317.53h2.85M578.1 317.53h2.85M583.8 317.53h2.85M592.3 317.53h5.70M609.4 317.53h2.85"/>
<path stroke="#f2f1cf" stroke-width="4.568" d="M413.8 38.88h2.86M430.9 38.88h2.86M439.5 38.88h2.86M450.9 38.88h2.86M459.5 38.88h5.71M468.1 38.88h2.86M473.8 38.88h5.71M493.8 38.88h2.86M499.5 38.88h5.71M508.0 38.88h2.86M519.4 38.88h2.86M532.5 38.88h5.70M546.7 38.88h2.85M555.3 38.88h2.85M563.8 38.88h2.85M569.5 38.88h8.55M598.0 38.88h5.70M606.6 38.88h2.85M612.3 38.88h5.70M419.5 43.45h2.86M430.9 43.45h2.86M448.1 43.45h2.86M490.9 43.45h2.86M502.3 43.45h2.86M519.4 43.45h2.86M523.9 43.45h5.70M563.8 43.45h2.85M569.5 43.45h8.55M595.2 43.45h2.85M419.5 48.02h2.86M439.5 48.02h2.86M445.2 48.02h5.71M499.5 48.02h5.71M532.5 48.02h2.85M561.0 48.02h2.85M566.7 48.02h2.85M583.8 48.02h2.85M592.3 48.02h2.85M598.0 48.02h2.85M615.1 48.02h2.85M413.8 52.59h2.86M419.5 52.59h2.86M448.1 52.59h2.86M470.9 52.59h2.86M479.5 52.59h2.86M496.6 52.59h2.86M526.8 52.59h2.85M541.0 52.59h2.85M563.8 52.59h2.85M572.4 52.59h5.70M595.2 52.59h2.85M603.7 52.59h2.85M609.4 52.59h5.70M618.0 52.59h2.85M411.0 57.16h5.71M422.4 57.16h2.86M430.9 57.16h2.86M436.7 57.16h2.86M442.4 57.16h8.57M465.2 57.16h2.86M470.9 57.16h2.86M482.3 57.16h2.86M510.9 57.16h2.86M516.6 57.16h2.86M541.0 57.16h2.85M578.1 57.16h2.85M606.6 57.16h5.70M615.1 57.16h5.70M411.0 61.72h2.86M450.9 61.72h2.86M456.6 61.72h2.86M470.9 61.72h2.86M561.0 61.72h5.70M606.6 61.72h5.70M615.1 61.72h5.70M413.8 66.29h5.71M425.2 66.29h2.86M445.2 66.29h2.86M516.6 66.29h2.86M523.9 66.29h2.85M555.3 66.29h8.55M566.7 66.29h2.85M572.4 66.29h2.85M578.1 66.29h5.70M586.6 66.29h2.85M592.3 66.29h2.85M606.6 66.29h5.70M615.1 66.29h2.85M422.4 70.86h5.71M433.8 70.86h2.86M442.4 70.86h5.71M468.1 70.86h2.86M496.6 70.86h2.86M502.3 70.86h2.86M516.6 70.86h2.86M532.5 70.86h2.85M546.7 70.86h2.85M563.8 70.86h2.85M578.1 70.86h5.70M603.7 70.86h2.85M612.3 70.86h2.85M408.1 75.43h2.86M413.8 75.43h2.86M419.5 75.43h2.86M442.4 75.43h2.86M519.4 75.43h2.86M561.0 75.43h2.85M566.7 75.43h2.85M578.1 75.43h5.70M595.2 75.43h2.85M615.1 75.43h2.85M416.7 80.00h2.86M430.9 80.00h2.86M459.5 80.00h2.86M505.2 80.00h5.71M523.9 80.00h5.70M535.3 80.00h2.85M549.6 80.00h2.85M578.1 80.00h8.55M598.0 80.00h2.85M411.0 84.56h2.86M416.7 84.56h2.86M442.4 84.56h2.86M523.9 84.56h2.85M561.0 84.56h5.70M578.1 84.56h5.70M589.5 84.56h2.85M595.2 84.56h2.85M609.4 84.56h2.85M408.1 89.13h5.71M422.4 89.13h2.86M470.9 89.13h2.86M493.8 89.13h5.71M510.9 89.13h2.86M523.9 89.13h2.85M543.9 89.13h2.85M561.0 89.13h5.70M572.4 89.13h2.85M580.9 89.13h2.85M589.5 89.13h5.70M606.6 89.13h5.70M419.5 93.70h5.71M445.2 93.70h14.27M479.5 93.70h2.86M516.6 93.70h5.71M555.3 93.70h2.85M569.5 93.70h2.85M589.5 93.70h2.85M595.2 93.70h2.85M600.9 93.70h2.85M612.3 93.70h2.85M618.0 93.70h2.85M430.9 98.27h2.86M442.4 98.27h2.86M450.9 98.27h2.86M459.5 98.27h5.71M468.1 98.27h2.86M473.8 98.27h2.86M488.0 98.27h2.86M496.6 98.27h2.86M508.0 98.27h2.86M516.6 98.27h2.86M541.0 98.27h2.85M546.7 98.27h2.85M563.8 98.27h2.85M569.5 98.27h5.70M583.8 98.27h5.70M600.9 98.27h2.85M609.4 98.27h2.85M419.5 102.84h8.56M439.5 102.84h11.42M468.1 102.84h2.86M485.2 102.84h5.71M513.7 102.84h2.86M538.2 102.84h2.85M546.7 102.84h11.40M572.4 102.84h2.85M586.6 102.84h2.85M413.8 107.40h2.86M419.5 107.40h5.71M439.5 107.40h2.86M448.1 107.40h5.71M473.8 107.40h2.86M493.8 107.40h8.57M516.6 107.40h2.86M532.5 107.40h2.85M546.7 107.40h2.85M558.1 107.40h5.70M566.7 107.40h2.85M578.1 107.40h2.85M592.3 107.40h2.85M600.9 107.40h2.85M408.1 111.97h5.71M416.7 111.97h11.42M436.7 111.97h5.71M448.1 111.97h2.86M453.8 111.97h2.86M465.2 111.97h2.86M476.6 111.97h2.86M485.2 111.97h2.86M505.2 111.97h2.86M510.9 111.97h8.57M532.5 111.97h2.85M538.2 111.97h8.55M549.6 111.97h2.85M555.3 111.97h8.55M572.4 111.97h8.55M589.5 111.97h2.85M595.2 111.97h5.70M612.3 111.97h8.55M419.5 116.54h8.56M436.7 116.54h2.86M468.1 116.54h2.86M490.9 116.54h2.86M496.6 116.54h2.86M532.5 116.54h2.85M538.2 116.54h2.85M543.9 116.54h5.70M569.5 116.54h2.85M578.1 116.54h14.25M598.0 116.54h5.70M615.1 116.54h2.85M411.0 121.11h2.86M416.7 121.11h5.71M425.2 121.11h2.86M433.8 121.11h2.86M439.5 121.11h2.86M453.8 121.11h2.86M465.2 121.11h5.71M493.8 121.11h5.71M510.9 121.11h2.86M535.3 121.11h2.85M563.8 121.11h5.70M586.6 121.11h2.85M592.3 121.11h2.85M598.0 121.11h2.85M609.4 121.11h2.85M615.1 121.11h2.85M411.0 125.68h5.71M419.5 125.68h5.71M428.1 125.68h2.86M433.8 125.68h5.71M442.4 125.68h5.71M453.8 125.68h5.71M468.1 125.68h2.86M473.8 125.68h2.86M479.5 125.68h5.71M493.8 125.68h8.57M505.2 125.68h5.71M513.7 125.68h2.86M523.9 125.68h5.70M532.5 125.68h5.70M541.0 125.68h2.85M546.7 125.68h8.55M558.1 125.68h5.70M566.7 125.68h5.70M589.5 125.68h2.85M600.9 125.68h2.85M606.6 125.68h2.85M425.2 130.24h2.86M442.4 130.24h2.86M456.6 130.24h2.86M470.9 130.24h2.86M499.5 130.24h2.86M516.6 130.24h2.86M529.6 130.24h2.85M561.0 130.24h2.85M572.4 130.24h11.40M592.3 130.24h2.85M620.8 130.24h2.85M442.4 134.81h2.86M450.9 134.81h2.86M456.6 134.81h8.57M476.6 134.81h2.86M502.3 134.81h2.86M516.6 134.81h2.86M549.6 134.81h2.85M561.0 134.81h2.85M572.4 134.81h2.85M600.9 134.81h2.85M411.0 139.38h2.86M430.9 139.38h2.86M442.4 139.38h2.86M473.8 139.38h2.86M488.0 139.38h2.86M499.5 139.38h5.71M513.7 139.38h2.86M555.3 139.38h5.70M592.3 139.38h2.85M603.7 139.38h2.85M411.0 143.95h2.86M419.5 143.95h5.71M428.1 143.95h2.86M436.7 143.95h2.86M445.2 143.95h2.86M459.5 143.95h5.71M470.9 143.95h8.56M482.3 143.95h2.86M490.9 143.95h2.86M499.5 143.95h2.86M523.9 143.95h2.85M552.4 143.95h2.85M561.0 143.95h2.85M572.4 143.95h5.70M583.8 143.95h2.85M592.3 143.95h2.85M609.4 143.95h2.85M620.8 143.95h2.85M411.0 148.52h2.86M416.7 148.52h11.42M436.7 148.52h11.42M450.9 148.52h5.71M462.3 148.52h11.42M476.6 148.52h2.86M482.3 148.52h2.86M490.9 148.52h2.86M496.6 148.52h8.57M508.0 148.52h2.86M513.7 148.52h8.57M523.9 148.52h2.85M529.6 148.52h2.85M552.4 148.52h11.40M575.2 148.52h2.85M580.9 148.52h2.85M600.9 148.52h5.70M612.3 148.52h2.85M408.1 153.08h8.56M419.5 153.08h17.13M439.5 153.08h54.25M496.6 153.08h25.70M523.9 153.08h2.85M529.6 153.08h2.85M538.2 153.08h2.85M543.9 153.08h2.85M552.4 153.08h11.40M569.5 153.08h54.17M419.5 157.65h2.86M425.2 157.65h2.86M445.2 157.65h2.86M450.9 157.65h5.71M459.5 157.65h8.57M470.9 157.65h2.86M479.5 157.65h2.86M552.4 157.65h2.85M575.2 157.65h2.85M589.5 157.65h2.85M595.2 157.65h5.70M603.7 157.65h2.85M609.4 157.65h2.85M416.7 162.22h11.42M445.2 162.22h8.56M488.0 162.22h2.86M508.0 162.22h2.86M546.7 162.22h8.55M572.4 162.22h5.70M595.2 162.22h2.85M615.1 162.22h2.85M459.5 166.79h2.86M465.2 166.79h2.86M493.8 166.79h2.86M499.5 166.79h5.71M508.0 166.79h2.86M513.7 166.79h2.86M526.8 166.79h2.85M538.2 166.79h2.85M543.9 166.79h8.55M555.3 166.79h2.85M606.6 166.79h2.85M620.8 166.79h2.85M422.4 171.36h8.57M439.5 171.36h2.86M462.3 171.36h2.86M468.1 171.36h5.71M502.3 171.36h2.86M508.0 171.36h2.86M513.7 171.36h2.86M532.5 171.36h5.70M578.1 171.36h8.55M589.5 171.36h2.85M595.2 171.36h2.85M612.3 171.36h2.85M413.8 175.92h2.86M419.5 175.92h2.86M428.1 175.92h5.71M445.2 175.92h2.86M485.2 175.92h2.86M555.3 175.92h8.55M586.6 175.92h2.85M618.0 175.92h2.85M411.0 180.49h5.71M419.5 180.49h5.71M428.1 180.49h2.86M436.7 180.49h5.71M445.2 180.49h5.71M456.6 180.49h2.86M462.3 180.49h2.86M470.9 180.49h2.86M476.6 180.49h11.42M510.9 180.49h5.71M519.4 180.49h2.86M532.5 180.49h2.85M538.2 180.49h2.85M549.6 180.49h5.70M558.1 180.49h2.85M563.8 180.49h2.85M575.2 180.49h2.85M580.9 180.49h5.70M589.5 180.49h5.70M606.6 180.49h5.70M615.1 180.49h2.85M620.8 180.49h2.85M416.7 185.06h2.86M425.2 185.06h2.86M450.9 185.06h2.86M470.9 185.06h8.56M493.8 185.06h11.42M516.6 185.06h5.71M538.2 185.06h2.85M546.7 185.06h8.55M558.1 185.06h8.55M572.4 185.06h2.85M580.9 185.06h2.85M586.6 185.06h2.85M592.3 185.06h2.85M615.1 185.06h2.85M411.0 189.63h5.71M419.5 189.63h8.56M439.5 189.63h2.86M473.8 189.63h2.86M479.5 189.63h8.56M490.9 189.63h2.86M499.5 189.63h2.86M516.6 189.63h5.71M555.3 189.63h2.85M561.0 189.63h2.85M569.5 189.63h2.85M583.8 189.63h2.85M592.3 189.63h8.55M425.2 194.20h2.86M448.1 194.20h2.86M462.3 194.20h8.56M473.8 194.20h2.86M490.9 194.20h2.86M523.9 194.20h2.85M538.2 194.20h5.70M549.6 194.20h2.85M569.5 194.20h2.85M580.9 194.20h2.85M595.2 194.20h8.55M606.6 194.20h2.85M419.5 198.76h5.71M462.3 198.76h2.86M473.8 198.76h5.71M490.9 198.76h2.86M496.6 198.76h5.71M543.9 198.76h2.85M566.7 198.76h2.85M572.4 198.76h2.85M598.0 198.76h2.85M606.6 198.76h2.85M419.5 203.33h8.56M430.9 203.33h2.86M436.7 203.33h2.86M442.4 203.33h2.86M448.1 203.33h2.86M473.8 203.33h2.86M493.8 203.33h2.86M499.5 203.33h2.86M513.7 203.33h2.86M519.4 203.33h2.86M543.9 203.33h5.70M552.4 203.33h5.70M572.4 203.33h2.85M578.1 203.33h2.85M413.8 207.90h2.86M419.5 207.90h5.71M430.9 207.90h2.86M476.6 207.90h2.86M499.5 207.90h5.71M508.0 207.90h2.86M541.0 207.90h5.70M555.3 207.90h2.85M561.0 207.90h2.85M569.5 207.90h5.70M578.1 207.90h5.70M595.2 207.90h5.70M609.4 207.90h2.85M411.0 212.47h2.86M419.5 212.47h8.56M442.4 212.47h5.71M450.9 212.47h2.86M465.2 212.47h2.86M479.5 212.47h5.71M488.0 212.47h2.86M513.7 212.47h2.86M541.0 212.47h5.70M549.6 212.47h8.55M566.7 212.47h2.85M580.9 212.47h2.85M408.1 217.04h5.71M419.5 217.04h11.42M433.8 217.04h11.42M448.1 217.04h2.86M456.6 217.04h2.86M465.2 217.04h5.71M473.8 217.04h2.86M482.3 217.04h2.86M488.0 217.04h8.56M499.5 217.04h5.71M519.4 217.04h2.86M523.9 217.04h2.85M538.2 217.04h2.85M543.9 217.04h5.70M555.3 217.04h5.70M563.8 217.04h5.70M578.1 217.04h5.70M595.2 217.04h2.85M606.6 217.04h2.85M612.3 217.04h2.85M413.8 221.60h2.86M448.1 221.60h2.86M453.8 221.60h2.86M468.1 221.60h2.86M493.8 221.60h2.86M499.5 221.60h5.71M519.4 221.60h2.86M563.8 221.60h2.85M569.5 221.60h2.85M578.1 221.60h5.70M603.7 221.60h2.85M615.1 221.60h2.85M430.9 226.17h2.86M442.4 226.17h8.57M456.6 226.17h5.71M476.6 226.17h2.86M496.6 226.17h2.86M502.3 226.17h2.86M541.0 226.17h2.85M561.0 226.17h8.55M575.2 226.17h2.85M430.9 230.74h2.86M450.9 230.74h2.86M465.2 230.74h2.86M473.8 230.74h2.86M479.5 230.74h2.86M490.9 230.74h2.86M502.3 230.74h2.86M513.7 230.74h2.86M572.4 230.74h2.85M580.9 230.74h2.85M411.0 235.31h2.86M422.4 235.31h2.86M430.9 235.31h2.86M462.3 235.31h2.86M470.9 235.31h5.71M479.5 235.31h2.86M485.2 235.31h5.71M566.7 235.31h5.70M583.8 235.31h2.85M589.5 235.31h2.85M598.0 235.31h5.70M606.6 235.31h5.70M620.8 235.31h2.85M422.4 239.88h2.86M430.9 239.88h2.86M450.9 239.88h2.86M470.9 239.88h5.71M482.3 239.88h8.56M566.7 239.88h5.70M583.8 239.88h2.85M589.5 239.88h2.85M600.9 239.88h2.85M606.6 239.88h2.85M618.0 239.88h5.70M411.0 244.44h2.86M422.4 244.44h2.86M430.9 244.44h2.86M436.7 244.44h5.71M450.9 244.44h2.86M456.6 244.44h2.86M462.3 244.44h2.86M470.9 244.44h5.71M482.3 244.44h2.86M566.7 244.44h2.85M583.8 244.44h2.85M592.3 244.44h2.85M600.9 244.44h2.85M606.6 244.44h2.85M422.4 249.01h2.86M430.9 249.01h2.86M450.9 249.01h2.86M459.5 249.01h2.86M468.1 249.01h5.71M493.8 249.01h2.86M502.3 249.01h2.86M535.3 249.01h2.85M566.7 249.01h2.85M583.8 249.01h2.85M589.5 249.01h5.70M600.9 249.01h2.85M606.6 249.01h2.85M618.0 249.01h2.85M422.4 253.58h2.86M430.9 253.58h2.86M450.9 253.58h2.86M456.6 253.58h2.86M468.1 253.58h8.57M482.3 253.58h2.86M493.8 253.58h2.86M513.7 253.58h2.86M535.3 253.58h2.85M552.4 253.58h2.85M566.7 253.58h5.70M583.8 253.58h8.55M598.0 253.58h2.85M603.7 253.58h2.85M618.0 253.58h2.85M419.5 258.15h2.86M430.9 258.15h2.86M436.7 258.15h2.86M448.1 258.15h8.56M459.5 258.15h5.71M470.9 258.15h2.86M479.5 258.15h5.71M493.8 258.15h2.86M502.3 258.15h2.86M583.8 258.15h5.70M595.2 258.15h2.85M609.4 258.15h2.85M615.1 258.15h8.55M408.1 262.72h5.71M422.4 262.72h2.86M428.1 262.72h5.71M436.7 262.72h2.86M448.1 262.72h5.71M456.6 262.72h8.57M473.8 262.72h8.56M493.8 262.72h5.71M538.2 262.72h2.85M549.6 262.72h2.85M578.1 262.72h2.85M592.3 262.72h2.85M598.0 262.72h5.70M408.1 267.28h2.86M419.5 267.28h5.71M430.9 267.28h2.86M445.2 267.28h8.56M459.5 267.28h2.86M465.2 267.28h2.86M470.9 267.28h5.71M479.5 267.28h2.86M493.8 267.28h5.71M523.9 267.28h2.85M529.6 267.28h2.85M535.3 267.28h5.70M566.7 267.28h5.70M583.8 267.28h2.85M589.5 267.28h2.85M598.0 267.28h8.55M609.4 267.28h2.85M620.8 267.28h2.85M419.5 271.85h2.86M428.1 271.85h5.71M436.7 271.85h2.86M445.2 271.85h8.56M456.6 271.85h5.71M470.9 271.85h2.86M476.6 271.85h5.71M499.5 271.85h2.86M535.3 271.85h2.85M543.9 271.85h2.85M583.8 271.85h2.85M595.2 271.85h2.85M600.9 271.85h5.70M609.4 271.85h5.70M618.0 271.85h2.85M411.0 276.42h2.86M456.6 276.42h2.86M462.3 276.42h5.71M470.9 276.42h2.86M476.6 276.42h2.86M490.9 276.42h2.86M499.5 276.42h2.86M508.0 276.42h5.71M519.4 276.42h2.86M578.1 276.42h2.85M600.9 276.42h2.85M620.8 276.42h2.85M436.7 280.99h2.86M445.2 280.99h2.86M493.8 280.99h5.71M505.2 280.99h2.86M510.9 280.99h2.86M532.5 280.99h2.85M603.7 280.99h2.85M609.4 280.99h2.85M615.1 280.99h5.70M413.8 285.56h2.86M445.2 285.56h17.13M470.9 285.56h2.86M482.3 285.56h2.86M490.9 285.56h2.86M496.6 285.56h2.86M505.2 285.56h5.71M566.7 285.56h2.85M572.4 285.56h5.70M586.6 285.56h2.85M595.2 285.56h5.70M612.3 285.56h2.85M620.8 285.56h2.85M408.1 290.12h2.86M419.5 290.12h2.86M430.9 290.12h2.86M450.9 290.12h2.86M462.3 290.12h5.71M516.6 290.12h2.86M529.6 290.12h2.85M572.4 290.12h5.70M589.5 290.12h2.85M615.1 290.12h2.85M413.8 294.69h2.86M436.7 294.69h2.86M448.1 294.69h5.71M456.6 294.69h2.86M465.2 294.69h2.86M470.9 294.69h2.86M476.6 294.69h2.86M493.8 294.69h2.86M505.2 294.69h5.71M513.7 294.69h2.86M519.4 294.69h2.86M549.6 294.69h2.85M569.5 294.69h2.85M575.2 294.69h11.40M589.5 294.69h2.85M600.9 294.69h2.85M606.6 294.69h2.85M615.1 294.69h5.70M411.0 299.26h5.71M422.4 299.26h11.42M439.5 299.26h2.86M445.2 299.26h2.86M450.9 299.26h2.86M456.6 299.26h2.86M476.6 299.26h5.71M488.0 299.26h2.86M493.8 299.26h5.71M505.2 299.26h11.42M523.9 299.26h8.55M535.3 299.26h11.40M552.4 299.26h2.85M558.1 299.26h5.70M566.7 299.26h5.70M575.2 299.26h5.70M583.8 299.26h2.85M589.5 299.26h5.70M598.0 299.26h2.85M606.6 299.26h2.85M612.3 299.26h2.85M618.0 299.26h2.85M411.0 303.83h5.71M422.4 303.83h2.86M433.8 303.83h5.71M442.4 303.83h5.71M476.6 303.83h5.71M493.8 303.83h5.71M502.3 303.83h2.86M513.7 303.83h2.86M543.9 303.83h2.85M555.3 303.83h2.85M589.5 303.83h2.85M609.4 303.83h2.85M618.0 303.83h5.70M433.8 308.40h2.86M442.4 308.40h5.71M453.8 308.40h2.86M470.9 308.40h2.86M488.0 308.40h2.86M499.5 308.40h5.71M513.7 308.40h5.71M535.3 308.40h2.85M555.3 308.40h2.85M580.9 308.40h2.85M603.7 308.40h2.85M615.1 308.40h2.85M620.8 308.40h2.85M419.5 312.96h8.56M465.2 312.96h2.86M485.2 312.96h2.86M493.8 312.96h2.86M513.7 312.96h5.71M523.9 312.96h2.85M569.5 312.96h2.85M575.2 312.96h2.85M589.5 312.96h5.70M600.9 312.96h2.85M606.6 312.96h2.85M612.3 312.96h2.85M408.1 317.53h5.71M419.5 317.53h5.71M442.4 317.53h2.86M448.1 317.53h2.86M462.3 317.53h5.71M470.9 317.53h5.71M490.9 317.53h2.86M502.3 317.53h2.86M508.0 317.53h2.86M513.7 317.53h2.86M519.4 317.53h2.86M523.9 317.53h2.85M529.6 317.53h2.85M535.3 317.53h2.85M603.7 317.53h5.70M618.0 317.53h2.85"/>
<path stroke="#c5dcec" stroke-width="4.568" d="M416.7 38.88h2.86M433.8 38.88h5.71M456.6 38.88h2.86M479.5 38.88h5.71M510.9 38.88h2.86M523.9 38.88h5.70M595.2 38.88h2.85M442.4 43.45h2.86M453.8 43.45h5.71M462.3 43.45h2.86M468.1 43.45h2.86M476.6 43.45h2.86M482.3 43.45h2.86M505.2 43.45h2.86M510.9 43.45h2.86M600.9 43.45h2.85M606.6 43.45h2.85M612.3 43.45h5.70M411.0 48.02h2.86M433.8 48.02h2.86M442.4 48.02h2.86M453.8 48.02h2.86M465.2 48.02h2.86M470.9 48.02h2.86M476.6 48.02h2.86M482.3 48.02h2.86M505.2 48.02h2.86M510.9 48.02h5.71M523.9 48.02h2.85M563.8 48.02h2.85M618.0 48.02h2.85M416.7 52.59h2.86M433.8 52.59h2.86M453.8 52.59h2.86M465.2 52.59h2.86M473.8 52.59h2.86M482.3 52.59h2.86M490.9 52.59h2.86M499.5 52.59h2.86M505.2 52.59h8.56M561.0 52.59h2.85M566.7 52.59h5.70M606.6 52.59h2.85M615.1 52.59h2.85M416.7 57.16h2.86M433.8 57.16h2.86M453.8 57.16h2.86M459.5 57.16h5.71M468.1 57.16h2.86M473.8 57.16h2.86M490.9 57.16h5.71M499.5 57.16h2.86M532.5 57.16h2.85M561.0 57.16h11.40M580.9 57.16h5.70M620.8 57.16h2.85M419.5 61.72h2.86M425.2 61.72h8.56M439.5 61.72h2.86M453.8 61.72h2.86M459.5 61.72h5.71M473.8 61.72h5.71M490.9 61.72h2.86M499.5 61.72h2.86M505.2 61.72h2.86M513.7 61.72h2.86M566.7 61.72h5.70M583.8 61.72h2.85M612.3 61.72h2.85M428.1 66.29h2.86M433.8 66.29h5.71M468.1 66.29h2.86M473.8 66.29h2.86M482.3 66.29h2.86M496.6 66.29h2.86M502.3 66.29h2.86M508.0 66.29h8.56M612.3 66.29h2.85M620.8 66.29h2.85M428.1 70.86h5.71M448.1 70.86h2.86M453.8 70.86h2.86M459.5 70.86h8.57M470.9 70.86h2.86M479.5 70.86h5.71M490.9 70.86h2.86M505.2 70.86h2.86M510.9 70.86h5.71M523.9 70.86h5.70M569.5 70.86h2.85M428.1 75.43h2.86M448.1 75.43h2.86M453.8 75.43h5.71M462.3 75.43h14.28M479.5 75.43h5.71M508.0 75.43h8.56M523.9 75.43h2.85M592.3 75.43h2.85M612.3 75.43h2.85M618.0 75.43h2.85M408.1 80.00h8.56M433.8 80.00h5.71M482.3 80.00h2.86M488.0 80.00h2.86M502.3 80.00h2.86M510.9 80.00h2.86M572.4 80.00h5.70M408.1 84.56h2.86M425.2 84.56h5.71M433.8 84.56h5.71M473.8 84.56h2.86M479.5 84.56h8.56M490.9 84.56h2.86M499.5 84.56h2.86M505.2 84.56h8.56M620.8 84.56h2.85M416.7 89.13h2.86M425.2 89.13h5.71M436.7 89.13h2.86M448.1 89.13h2.86M479.5 89.13h2.86M490.9 89.13h2.86M499.5 89.13h2.86M505.2 89.13h2.86M615.1 89.13h2.85M411.0 93.70h8.56M425.2 93.70h2.86M430.9 93.70h8.57M459.5 93.70h2.86M468.1 93.70h5.71M485.2 93.70h5.71M493.8 93.70h2.86M499.5 93.70h2.86M505.2 93.70h2.86M510.9 93.70h2.86M563.8 93.70h2.85M408.1 98.27h2.86M428.1 98.27h2.86M456.6 98.27h2.86M470.9 98.27h2.86M479.5 98.27h5.71M505.2 98.27h2.86M510.9 98.27h2.86M523.9 98.27h5.70M598.0 98.27h2.85M618.0 98.27h5.70M411.0 102.84h2.86M430.9 102.84h2.86M436.7 102.84h2.86M462.3 102.84h5.71M470.9 102.84h2.86M490.9 102.84h2.86M496.6 102.84h5.71M505.2 102.84h2.86M510.9 102.84h2.86M519.4 102.84h2.86M583.8 102.84h2.85M589.5 102.84h2.85M408.1 107.40h2.86M416.7 107.40h2.86M425.2 107.40h2.86M430.9 107.40h2.86M436.7 107.40h2.86M453.8 107.40h2.86M465.2 107.40h5.71M476.6 107.40h2.86M490.9 107.40h2.86M505.2 107.40h2.86M510.9 107.40h2.86M583.8 107.40h2.85M606.6 107.40h2.85M430.9 116.54h2.86M442.4 116.54h2.86M448.1 116.54h2.86M462.3 116.54h2.86M470.9 116.54h8.56M485.2 116.54h2.86M502.3 116.54h2.86M508.0 116.54h2.86M513.7 116.54h2.86M519.4 116.54h2.86M575.2 116.54h2.85M592.3 116.54h2.85M408.1 121.11h2.86M430.9 121.11h2.86M459.5 121.11h5.71M470.9 121.11h2.86M482.3 121.11h2.86M502.3 121.11h2.86M513.7 121.11h2.86M519.4 121.11h2.86M543.9 121.11h2.85M580.9 121.11h2.85M408.1 130.24h2.86M413.8 130.24h2.86M428.1 130.24h5.71M439.5 130.24h2.86M476.6 130.24h2.86M510.9 130.24h5.71M543.9 130.24h2.85M408.1 134.81h2.86M413.8 134.81h5.71M433.8 134.81h5.71M445.2 134.81h2.86M453.8 134.81h2.86M470.9 134.81h5.71M493.8 134.81h8.57M505.2 134.81h8.56M563.8 134.81h2.85M586.6 134.81h2.85M595.2 134.81h2.85M606.6 134.81h2.85M612.3 134.81h2.85M618.0 134.81h5.70M408.1 139.38h2.86M428.1 139.38h2.86M433.8 139.38h5.71M450.9 139.38h2.86M456.6 139.38h5.71M470.9 139.38h2.86M482.3 139.38h2.86M505.2 139.38h2.86M510.9 139.38h2.86M586.6 139.38h2.85M600.9 139.38h2.85M606.6 139.38h2.85M612.3 139.38h2.85M618.0 139.38h5.70M558.1 143.95h2.85M516.6 157.65h2.86M563.8 157.65h2.85M453.8 162.22h2.86M459.5 162.22h5.71M493.8 162.22h11.42M510.9 162.22h11.42M558.1 162.22h2.85M563.8 162.22h2.85M600.9 162.22h2.85M609.4 162.22h2.85M620.8 162.22h2.85M408.1 166.79h2.86M439.5 166.79h8.57M450.9 166.79h8.56M482.3 166.79h2.86M566.7 166.79h5.70M592.3 166.79h5.70M411.0 171.36h2.86M433.8 171.36h5.71M459.5 171.36h2.86M465.2 171.36h2.86M499.5 171.36h2.86M510.9 171.36h2.86M541.0 171.36h2.85M555.3 171.36h2.85M563.8 171.36h8.55M575.2 171.36h2.85M408.1 175.92h2.86M436.7 175.92h2.86M493.8 175.92h5.71M502.3 175.92h2.86M538.2 175.92h5.70M549.6 175.92h2.85M566.7 175.92h2.85M433.8 180.49h2.86M408.1 185.06h2.86M433.8 185.06h8.56M445.2 185.06h2.86M453.8 185.06h5.71M505.2 185.06h2.86M510.9 185.06h2.86M598.0 185.06h2.85M609.4 185.06h2.85M618.0 185.06h2.85M408.1 189.63h2.86M445.2 189.63h2.86M465.2 189.63h2.86M505.2 189.63h2.86M600.9 189.63h2.85M609.4 189.63h5.70M618.0 189.63h2.85M408.1 194.20h2.86M428.1 194.20h11.42M442.4 194.20h2.86M459.5 194.20h2.86M499.5 194.20h8.56M510.9 194.20h2.86M612.3 194.20h2.85M408.1 198.76h5.71M428.1 198.76h5.71M436.7 198.76h8.56M456.6 198.76h2.86M479.5 198.76h8.56M505.2 198.76h2.86M510.9 198.76h2.86M589.5 198.76h2.85M600.9 198.76h2.85M612.3 198.76h2.85M620.8 198.76h2.85M439.5 203.33h2.86M450.9 203.33h2.86M459.5 203.33h2.86M505.2 203.33h2.86M510.9 203.33h2.86M516.6 203.33h2.86M586.6 203.33h2.85M592.3 203.33h2.85M598.0 203.33h5.70M609.4 203.33h5.70M618.0 203.33h2.85M408.1 207.90h2.86M416.7 207.90h2.86M428.1 207.90h2.86M433.8 207.90h5.71M453.8 207.90h2.86M470.9 207.90h2.86M482.3 207.90h2.86M505.2 207.90h2.86M510.9 207.90h2.86M439.5 212.47h2.86M470.9 212.47h2.86M493.8 212.47h5.71M505.2 212.47h2.86M510.9 212.47h2.86M612.3 212.47h2.85M620.8 212.47h2.85M408.1 221.60h2.86M428.1 221.60h5.71M439.5 221.60h8.57M459.5 221.60h2.86M470.9 221.60h2.86M485.2 221.60h2.86M505.2 221.60h2.86M572.4 221.60h2.85M600.9 221.60h2.85M606.6 221.60h2.85M612.3 221.60h2.85M620.8 221.60h2.85M416.7 230.74h2.86M422.4 230.74h5.71M433.8 230.74h11.42M459.5 230.74h2.86M470.9 230.74h2.86M476.6 230.74h2.86M482.3 230.74h5.71M499.5 230.74h2.86M563.8 230.74h2.85M592.3 230.74h2.85M598.0 230.74h2.85M603.7 230.74h2.85M612.3 230.74h11.40M408.1 235.31h2.86M413.8 235.31h5.71M425.2 235.31h2.86M442.4 235.31h2.86M523.9 235.31h5.70M532.5 235.31h2.85M541.0 235.31h8.55M555.3 235.31h11.40M575.2 235.31h2.85M413.8 239.88h5.71M425.2 239.88h2.86M442.4 239.88h2.86M529.6 239.88h2.85M541.0 239.88h8.55M555.3 239.88h2.85M561.0 239.88h5.70M575.2 239.88h2.85M595.2 239.88h2.85M408.1 244.44h2.86M413.8 244.44h5.71M425.2 244.44h2.86M442.4 244.44h2.86M523.9 244.44h5.70M532.5 244.44h5.70M541.0 244.44h5.70M561.0 244.44h2.85M572.4 244.44h5.70M580.9 244.44h2.85M589.5 244.44h2.85M595.2 244.44h2.85M615.1 244.44h2.85M413.8 249.01h5.71M425.2 249.01h2.86M442.4 249.01h2.86M482.3 249.01h2.86M523.9 249.01h5.70M532.5 249.01h2.85M541.0 249.01h2.85M546.7 249.01h2.85M552.4 249.01h11.40M572.4 249.01h5.70M580.9 249.01h2.85M413.8 253.58h5.71M425.2 253.58h2.86M442.4 253.58h2.86M523.9 253.58h5.70M532.5 253.58h2.85M541.0 253.58h2.85M546.7 253.58h2.85M555.3 253.58h8.55M572.4 253.58h5.70M580.9 253.58h2.85M413.8 258.15h5.71M425.2 258.15h2.86M442.4 258.15h2.86M523.9 258.15h5.70M532.5 258.15h2.85M538.2 258.15h14.25M555.3 258.15h2.85M561.0 258.15h5.70M572.4 258.15h5.70M580.9 258.15h2.85M439.5 262.72h5.71M470.9 262.72h2.86M523.9 262.72h2.85M532.5 262.72h2.85M543.9 262.72h5.70M561.0 262.72h5.70M575.2 262.72h2.85M580.9 262.72h2.85M609.4 262.72h2.85M615.1 262.72h8.55M416.7 267.28h2.86M442.4 267.28h2.86M526.8 267.28h2.85M532.5 267.28h2.85M541.0 267.28h8.55M552.4 267.28h2.85M561.0 267.28h2.85M575.2 267.28h2.85M580.9 267.28h2.85M413.8 271.85h5.71M433.8 271.85h2.86M442.4 271.85h2.86M532.5 271.85h2.85M541.0 271.85h2.85M546.7 271.85h2.85M555.3 271.85h11.40M575.2 271.85h2.85M580.9 271.85h2.85M615.1 271.85h2.85M459.5 276.42h2.86M468.1 276.42h2.86M529.6 276.42h14.25M546.7 276.42h2.85M552.4 276.42h8.55M572.4 276.42h2.85M586.6 276.42h2.85M595.2 276.42h5.70M603.7 276.42h2.85M609.4 276.42h2.85M618.0 276.42h2.85M411.0 280.99h2.86M479.5 280.99h2.86M519.4 280.99h2.86M543.9 280.99h2.85M549.6 280.99h11.40M566.7 280.99h8.55M578.1 280.99h2.85M598.0 280.99h2.85M416.7 285.56h2.86M465.2 285.56h2.86M479.5 285.56h2.86M513.7 285.56h2.86M535.3 285.56h5.70M552.4 285.56h14.25M606.6 285.56h5.70M411.0 290.12h2.86M479.5 290.12h5.71M532.5 290.12h11.40M546.7 290.12h8.55M558.1 290.12h5.70M578.1 290.12h2.85M583.8 290.12h5.70M592.3 290.12h5.70M600.9 290.12h5.70M609.4 290.12h2.85M620.8 290.12h2.85M408.1 294.69h2.86M526.8 294.69h2.85M532.5 294.69h2.85M546.7 294.69h2.85M552.4 294.69h2.85M563.8 294.69h2.85M612.3 294.69h2.85M416.7 303.83h2.86M468.1 303.83h2.86M490.9 303.83h2.86M529.6 303.83h2.85M535.3 303.83h2.85M541.0 303.83h2.85M546.7 303.83h2.85M561.0 303.83h2.85M569.5 303.83h2.85M578.1 303.83h5.70M586.6 303.83h2.85M595.2 303.83h11.40M425.2 308.40h2.86M532.5 308.40h2.85M546.7 308.40h2.85M563.8 308.40h2.85M572.4 308.40h2.85M413.8 312.96h2.86M448.1 312.96h2.86M488.0 312.96h5.71M499.5 312.96h2.86M519.4 312.96h2.86M529.6 312.96h2.85M535.3 312.96h11.40M552.4 312.96h2.85M572.4 312.96h2.85M583.8 312.96h2.85M615.1 312.96h2.85M620.8 312.96h2.85M468.1 317.53h2.86M485.2 317.53h5.71M499.5 317.53h2.86M538.2 317.53h2.85M549.6 317.53h5.70M558.1 317.53h8.55M572.4 317.53h2.85M598.0 317.53h5.70M615.1 317.53h2.85"/>
<path stroke="#f7e6a2" stroke-width="4.568" d="M419.5 38.88h2.86M425.2 38.88h2.86M453.8 38.88h2.86M490.9 38.88h2.86M496.6 38.88h2.86M516.6 38.88h2.86M529.6 38.88h2.85M541.0 38.88h5.70M549.6 38.88h2.85M566.7 38.88h2.85M578.1 38.88h2.85M586.6 38.88h2.85M592.3 38.88h2.85M609.4 38.88h2.85M413.8 43.45h2.86M422.4 43.45h5.71M516.6 43.45h2.86M555.3 43.45h8.55M566.7 43.45h2.85M580.9 43.45h2.85M413.8 48.02h2.86M422.4 48.02h11.42M490.9 48.02h2.86M516.6 48.02h5.71M555.3 48.02h5.70M578.1 48.02h5.70M595.2 48.02h2.85M609.4 48.02h5.70M620.8 48.02h2.85M428.1 52.59h5.71M436.7 52.59h2.86M450.9 52.59h2.86M516.6 52.59h2.86M558.1 52.59h2.85M578.1 52.59h2.85M589.5 52.59h2.85M600.9 52.59h2.85M408.1 57.16h2.86M450.9 57.16h2.86M456.6 57.16h2.86M538.2 57.16h2.85M543.9 57.16h2.85M586.6 57.16h2.85M592.3 57.16h5.70M413.8 61.72h2.86M422.4 61.72h2.86M436.7 61.72h2.86M496.6 61.72h2.86M523.9 61.72h5.70M532.5 61.72h2.85M538.2 61.72h5.70M546.7 61.72h2.85M586.6 61.72h5.70M595.2 61.72h2.85M408.1 66.29h2.86M485.2 66.29h2.86M575.2 66.29h2.85M408.1 70.86h2.86M413.8 70.86h5.71M436.7 70.86h2.86M543.9 70.86h2.85M586.6 70.86h2.85M606.6 70.86h2.85M416.7 75.43h2.86M433.8 75.43h5.71M493.8 75.43h8.57M535.3 75.43h2.85M543.9 75.43h5.70M555.3 75.43h5.70M572.4 75.43h5.70M586.6 75.43h2.85M425.2 80.00h2.86M445.2 80.00h2.86M450.9 80.00h2.86M490.9 80.00h2.86M516.6 80.00h2.86M532.5 80.00h2.85M546.7 80.00h2.85M552.4 80.00h5.70M563.8 80.00h2.85M589.5 80.00h2.85M606.6 80.00h5.70M445.2 84.56h2.86M450.9 84.56h2.86M541.0 84.56h5.70M572.4 84.56h5.70M592.3 84.56h2.85M603.7 84.56h2.85M413.8 89.13h2.86M485.2 89.13h5.71M516.6 89.13h2.86M538.2 89.13h2.85M546.7 89.13h2.85M555.3 89.13h5.70M578.1 89.13h2.85M600.9 89.13h2.85M523.9 93.70h2.85M543.9 93.70h2.85M549.6 93.70h2.85M566.7 93.70h2.85M572.4 93.70h5.70M586.6 93.70h2.85M592.3 93.70h2.85M598.0 93.70h2.85M606.6 93.70h2.85M615.1 93.70h2.85M620.8 93.70h2.85M416.7 98.27h2.86M422.4 98.27h5.71M485.2 98.27h2.86M490.9 98.27h2.86M549.6 98.27h2.85M558.1 98.27h5.70M566.7 98.27h2.85M575.2 98.27h2.85M592.3 98.27h2.85M603.7 98.27h5.70M428.1 102.84h2.86M450.9 102.84h8.56M561.0 102.84h2.85M566.7 102.84h2.85M580.9 102.84h2.85M592.3 102.84h2.85M606.6 102.84h2.85M411.0 107.40h2.86M482.3 107.40h2.86M535.3 107.40h11.40M618.0 107.40h2.85M413.8 111.97h2.86M433.8 111.97h2.86M468.1 111.97h2.86M482.3 111.97h2.86M493.8 111.97h5.71M563.8 111.97h2.85M603.7 111.97h2.85M411.0 116.54h2.86M433.8 116.54h2.86M453.8 116.54h2.86M479.5 116.54h2.86M493.8 116.54h2.86M526.8 116.54h2.85M572.4 116.54h2.85M606.6 116.54h2.85M612.3 116.54h2.85M413.8 121.11h2.86M436.7 121.11h2.86M485.2 121.11h2.86M529.6 121.11h2.85M549.6 121.11h8.55M561.0 121.11h2.85M448.1 125.68h2.86M459.5 125.68h2.86M490.9 125.68h2.86M519.4 125.68h2.86M419.5 130.24h2.86M459.5 130.24h11.42M502.3 130.24h2.86M532.5 130.24h2.85M541.0 130.24h2.85M546.7 130.24h5.70M555.3 130.24h2.85M566.7 130.24h2.85M589.5 130.24h2.85M598.0 130.24h2.85M606.6 130.24h2.85M618.0 130.24h2.85M419.5 134.81h2.86M425.2 134.81h2.86M490.9 134.81h2.86M519.4 134.81h2.86M543.9 134.81h2.85M555.3 134.81h5.70M569.5 134.81h2.85M578.1 134.81h2.85M583.8 134.81h2.85M615.1 134.81h2.85M419.5 139.38h2.86M439.5 139.38h2.86M476.6 139.38h2.86M490.9 139.38h2.86M519.4 139.38h2.86M543.9 139.38h2.85M549.6 139.38h2.85M572.4 139.38h5.70M413.8 143.95h2.86M433.8 143.95h2.86M450.9 143.95h8.56M465.2 143.95h5.71M513.7 143.95h2.86M526.8 143.95h5.70M541.0 143.95h5.70M555.3 143.95h2.85M569.5 143.95h2.85M595.2 143.95h2.85M603.7 143.95h2.85M479.5 148.52h2.86M532.5 148.52h2.85M543.9 148.52h8.55M566.7 148.52h8.55M578.1 148.52h2.85M532.5 153.08h2.85M541.0 153.08h2.85M408.1 157.65h2.86M428.1 157.65h5.71M439.5 157.65h2.86M490.9 157.65h2.86M508.0 157.65h2.86M535.3 157.65h2.85M546.7 157.65h2.85M569.5 157.65h2.85M468.1 162.22h2.86M479.5 162.22h2.86M529.6 162.22h2.85M541.0 162.22h2.85M561.0 162.22h2.85M566.7 162.22h2.85M589.5 162.22h2.85M598.0 162.22h2.85M603.7 162.22h2.85M422.4 166.79h2.86M476.6 166.79h2.86M490.9 166.79h2.86M523.9 166.79h2.85M578.1 166.79h2.85M583.8 166.79h2.85M589.5 166.79h2.85M413.8 171.36h2.86M450.9 171.36h2.86M473.8 171.36h2.86M490.9 171.36h2.86M519.4 171.36h2.86M529.6 171.36h2.85M546.7 171.36h2.85M558.1 171.36h2.85M586.6 171.36h2.85M620.8 171.36h2.85M468.1 175.92h2.86M473.8 175.92h8.56M508.0 175.92h2.86M523.9 175.92h2.85M543.9 175.92h2.85M595.2 175.92h2.85M603.7 175.92h2.85M612.3 175.92h2.85M490.9 180.49h2.86M535.3 180.49h2.85M543.9 180.49h5.70M555.3 180.49h2.85M561.0 180.49h2.85M578.1 180.49h2.85M586.6 180.49h2.85M598.0 180.49h2.85M603.7 180.49h2.85M422.4 185.06h2.86M479.5 185.06h2.86M485.2 185.06h2.86M513.7 185.06h2.86M575.2 185.06h2.85M606.6 185.06h2.85M430.9 189.63h2.86M476.6 189.63h2.86M513.7 189.63h2.86M532.5 189.63h2.85M546.7 189.63h2.85M558.1 189.63h2.85M575.2 189.63h2.85M580.9 189.63h2.85M586.6 189.63h2.85M603.7 189.63h2.85M413.8 194.20h5.71M488.0 194.20h2.86M513.7 194.20h2.86M552.4 194.20h2.85M563.8 194.20h2.85M583.8 194.20h2.85M603.7 194.20h2.85M615.1 194.20h2.85M513.7 198.76h2.86M523.9 198.76h2.85M541.0 198.76h2.85M546.7 198.76h2.85M563.8 198.76h2.85M578.1 198.76h11.40M408.1 203.33h2.86M416.7 203.33h2.86M465.2 203.33h2.86M476.6 203.33h2.86M482.3 203.33h5.71M502.3 203.33h2.86M532.5 203.33h2.85M549.6 203.33h2.85M558.1 203.33h2.85M563.8 203.33h8.55M575.2 203.33h2.85M603.7 203.33h2.85M490.9 207.90h2.86M546.7 207.90h8.55M575.2 207.90h2.85M583.8 207.90h8.55M603.7 207.90h2.85M476.6 212.47h2.86M523.9 212.47h2.85M538.2 212.47h2.85M558.1 212.47h8.55M569.5 212.47h8.55M589.5 212.47h2.85M595.2 212.47h5.70M416.7 217.04h2.86M450.9 217.04h2.86M476.6 217.04h2.86M541.0 217.04h2.85M569.5 217.04h8.55M422.4 221.60h5.71M508.0 221.60h2.86M513.7 221.60h5.71M546.7 221.60h2.85M552.4 221.60h2.85M558.1 221.60h2.85M566.7 221.60h2.85M575.2 221.60h2.85M583.8 221.60h2.85M589.5 221.60h5.70M411.0 226.17h5.71M419.5 226.17h2.86M436.7 226.17h2.86M479.5 226.17h2.86M485.2 226.17h2.86M516.6 226.17h2.86M526.8 226.17h2.85M535.3 226.17h2.85M552.4 226.17h2.85M578.1 226.17h2.85M456.6 230.74h2.86M519.4 230.74h2.86M538.2 230.74h2.85M543.9 230.74h2.85M558.1 230.74h5.70M566.7 230.74h2.85M586.6 230.74h5.70M600.9 230.74h2.85M609.4 230.74h2.85M419.5 235.31h2.86M436.7 235.31h2.86M448.1 235.31h2.86M456.6 235.31h5.71M510.9 235.31h2.86M419.5 239.88h2.86M436.7 239.88h2.86M445.2 239.88h5.71M456.6 239.88h5.71M465.2 239.88h2.86M496.6 239.88h2.86M510.9 239.88h2.86M419.5 244.44h2.86M448.1 244.44h2.86M459.5 244.44h2.86M465.2 244.44h2.86M612.3 244.44h2.85M419.5 249.01h2.86M436.7 249.01h2.86M448.1 249.01h2.86M456.6 249.01h2.86M473.8 249.01h2.86M479.5 249.01h2.86M490.9 249.01h2.86M508.0 249.01h2.86M612.3 249.01h2.85M419.5 253.58h2.86M428.1 253.58h2.86M436.7 253.58h2.86M445.2 253.58h5.71M459.5 253.58h2.86M479.5 253.58h2.86M490.9 253.58h2.86M496.6 253.58h2.86M508.0 253.58h2.86M600.9 253.58h2.85M606.6 253.58h2.85M612.3 253.58h2.85M428.1 258.15h2.86M445.2 258.15h2.86M456.6 258.15h2.86M468.1 258.15h2.86M473.8 258.15h2.86M490.9 258.15h2.86M496.6 258.15h5.71M600.9 258.15h2.85M606.6 258.15h2.85M419.5 262.72h2.86M505.2 262.72h2.86M510.9 262.72h2.86M535.3 262.72h2.85M566.7 262.72h5.70M603.7 262.72h2.85M428.1 267.28h2.86M436.7 267.28h2.86M456.6 267.28h2.86M408.1 271.85h2.86M462.3 271.85h2.86M490.9 271.85h2.86M496.6 271.85h2.86M510.9 271.85h2.86M606.6 271.85h2.85M413.8 276.42h2.86M425.2 276.42h2.86M445.2 276.42h2.86M450.9 276.42h2.86M473.8 276.42h2.86M493.8 276.42h2.86M513.7 276.42h2.86M580.9 276.42h2.85M419.5 280.99h2.86M442.4 280.99h2.86M448.1 280.99h5.71M459.5 280.99h8.57M473.8 280.99h2.86M529.6 280.99h2.85M561.0 280.99h5.70M586.6 280.99h2.85M620.8 280.99h2.85M411.0 285.56h2.86M419.5 285.56h2.86M439.5 285.56h2.86M473.8 285.56h5.71M493.8 285.56h2.86M549.6 285.56h2.85M569.5 285.56h2.85M583.8 285.56h2.85M589.5 285.56h5.70M413.8 290.12h2.86M422.4 290.12h2.86M448.1 290.12h2.86M456.6 290.12h2.86M468.1 290.12h2.86M473.8 290.12h5.71M502.3 290.12h2.86M513.7 290.12h2.86M519.4 290.12h2.86M523.9 290.12h5.70M563.8 290.12h2.85M439.5 294.69h2.86M445.2 294.69h2.86M459.5 294.69h2.86M510.9 294.69h2.86M516.6 294.69h2.86M592.3 294.69h2.85M603.7 294.69h2.85M609.4 294.69h2.85M470.9 299.26h2.86M516.6 299.26h5.71M572.4 299.26h2.85M580.9 299.26h2.85M419.5 303.83h2.86M450.9 303.83h2.86M459.5 303.83h2.86M470.9 303.83h2.86M428.1 308.40h2.86M450.9 308.40h2.86M473.8 308.40h5.71M490.9 308.40h2.86M496.6 308.40h2.86M606.6 308.40h2.85M436.7 312.96h2.86M445.2 312.96h2.86M453.8 312.96h2.86M468.1 312.96h2.86M476.6 312.96h2.86M563.8 312.96h2.85M436.7 317.53h2.86M456.6 317.53h2.86M580.9 317.53h2.85M586.6 317.53h5.70M620.8 317.53h2.85"/>
<path stroke="#ef8551" stroke-width="4.568" d="M485.2 38.88h5.71M558.1 38.88h2.85M485.2 43.45h5.71M493.8 43.45h2.86M488.0 48.02h2.86M493.8 48.02h5.71M523.9 52.59h2.85M529.6 52.59h8.55M552.4 52.59h2.85M583.8 52.59h5.70M592.3 52.59h2.85M479.5 57.16h2.86M529.6 57.16h2.85M552.4 57.16h2.85M589.5 57.16h2.85M600.9 61.72h2.85M488.0 66.29h2.86M532.5 66.29h2.85M549.6 66.29h2.85M529.6 70.86h2.85M538.2 70.86h2.85M549.6 70.86h2.85M598.0 70.86h2.85M609.4 70.86h2.85M485.2 75.43h2.86M538.2 75.43h5.70M552.4 75.43h2.85M603.7 75.43h2.85M462.3 80.00h2.86M513.7 80.00h2.86M558.1 80.00h5.70M586.6 80.00h2.85M595.2 80.00h2.85M555.3 84.56h5.70M549.6 89.13h5.70M583.8 89.13h5.70M598.0 89.13h2.85M535.3 93.70h2.85M546.7 93.70h2.85M603.7 93.70h2.85M609.4 93.70h2.85M459.5 102.84h2.86M479.5 102.84h5.71M532.5 102.84h2.85M618.0 102.84h5.70M485.2 107.40h2.86M488.0 111.97h2.86M566.7 111.97h2.85M523.9 116.54h2.85M549.6 116.54h2.85M561.0 116.54h8.55M490.9 121.11h2.86M595.2 121.11h2.85M606.6 121.11h2.85M612.3 121.11h2.85M620.8 125.68h2.85M523.9 130.24h5.70M535.3 130.24h2.85M558.1 130.24h2.85M529.6 134.81h5.70M541.0 134.81h2.85M546.7 134.81h2.85M566.7 134.81h2.85M598.0 134.81h2.85M603.7 134.81h2.85M425.2 139.38h2.86M523.9 139.38h2.85M529.6 139.38h8.55M546.7 139.38h2.85M578.1 139.38h2.85M538.2 148.52h2.85M546.7 153.08h2.85M566.7 153.08h2.85M482.3 162.22h5.71M612.3 162.22h2.85M470.9 166.79h2.86M580.9 166.79h2.85M479.5 171.36h2.86M488.0 180.49h2.86M529.6 180.49h2.85M543.9 185.06h2.85M529.6 189.63h2.85M535.3 189.63h2.85M526.8 194.20h2.85M546.7 194.20h2.85M558.1 194.20h2.85M526.8 198.76h2.85M532.5 198.76h2.85M538.2 198.76h2.85M552.4 198.76h8.55M603.7 198.76h2.85M523.9 203.33h2.85M529.6 203.33h2.85M532.5 207.90h2.85M532.5 212.47h2.85M529.6 217.04h5.70M479.5 221.60h2.86M535.3 221.60h2.85M541.0 221.60h2.85M543.9 226.17h2.85M549.6 226.17h2.85M541.0 230.74h2.85M549.6 230.74h2.85M578.1 230.74h2.85M490.9 235.31h2.86M499.5 235.31h2.86M603.7 235.31h2.85M490.9 239.88h2.86M502.3 239.88h2.86M603.7 239.88h2.85M502.3 244.44h2.86M508.0 244.44h2.86M428.1 249.01h2.86M445.2 249.01h2.86M499.5 249.01h2.86M510.9 249.01h2.86M510.9 253.58h2.86M510.9 258.15h2.86M499.5 262.72h5.71M529.6 262.72h2.85M490.9 267.28h2.86M499.5 267.28h2.86M513.7 267.28h2.86M502.3 271.85h2.86M508.0 271.85h2.86M419.5 276.42h2.86M430.9 276.42h2.86M436.7 276.42h2.86M496.6 276.42h2.86M566.7 276.42h2.85M592.3 276.42h2.85M428.1 280.99h2.86M453.8 280.99h2.86M513.7 280.99h2.86M408.1 285.56h2.86M430.9 285.56h2.86M499.5 285.56h2.86M519.4 285.56h2.86M543.9 285.56h2.85M436.7 290.12h2.86M459.5 290.12h2.86M485.2 290.12h2.86M493.8 290.12h2.86M505.2 290.12h2.86M566.7 290.12h2.85M430.9 294.69h2.86M442.4 294.69h2.86M419.5 299.26h2.86M425.2 303.83h2.86M505.2 303.83h2.86M510.9 303.83h2.86M523.9 303.83h2.85M606.6 303.83h2.85M430.9 308.40h2.86M436.7 308.40h2.86M459.5 308.40h2.86M508.0 308.40h2.86M612.3 308.40h2.85M456.6 312.96h8.57M473.8 312.96h2.86M479.5 312.96h5.71M578.1 312.96h5.70M445.2 317.53h2.86M459.5 317.53h2.86M482.3 317.53h2.86M575.2 317.53h2.85"/>
<path stroke="#f8c172" stroke-width="4.568" d="M538.2 38.88h2.85M552.4 38.88h2.85M561.0 38.88h2.85M580.9 38.88h5.70M496.6 43.45h5.71M532.5 43.45h5.70M549.6 43.45h5.70M583.8 43.45h2.85M603.7 43.45h2.85M549.6 48.02h5.70M439.5 52.59h5.71M476.6 52.59h2.86M519.4 52.59h2.86M538.2 52.59h2.85M543.9 52.59h2.85M549.6 52.59h2.85M485.2 57.16h5.71M546.7 57.16h5.70M600.9 57.16h2.85M479.5 61.72h2.86M543.9 61.72h2.85M549.6 61.72h2.85M592.3 61.72h2.85M529.6 66.29h2.85M543.9 66.29h5.70M598.0 66.29h8.55M411.0 70.86h2.86M485.2 70.86h5.71M535.3 70.86h2.85M589.5 70.86h2.85M411.0 75.43h2.86M488.0 75.43h2.86M516.6 75.43h2.86M532.5 75.43h2.85M563.8 75.43h2.85M598.0 75.43h2.85M465.2 80.00h5.71M473.8 80.00h2.86M600.9 80.00h2.85M615.1 80.00h2.85M538.2 84.56h2.85M546.7 84.56h5.70M583.8 84.56h5.70M598.0 84.56h2.85M595.2 89.13h2.85M541.0 93.70h2.85M552.4 93.70h2.85M558.1 93.70h2.85M578.1 93.70h5.70M419.5 98.27h2.86M552.4 98.27h5.70M578.1 98.27h2.85M541.0 102.84h5.70M609.4 102.84h8.55M488.0 107.40h2.86M526.8 107.40h5.70M549.6 107.40h5.70M586.6 107.40h2.85M598.0 107.40h2.85M499.5 111.97h2.86M523.9 111.97h2.85M499.5 116.54h2.86M555.3 116.54h2.85M620.8 121.11h2.85M450.9 125.68h2.86M445.2 130.24h5.71M490.9 130.24h2.86M569.5 130.24h2.85M600.9 130.24h5.70M609.4 130.24h2.85M615.1 130.24h2.85M523.9 134.81h2.85M552.4 134.81h2.85M566.7 139.38h5.70M546.7 143.95h2.85M566.7 143.95h2.85M535.3 148.52h2.85M532.5 157.65h2.85M442.4 162.22h2.86M569.5 162.22h2.85M516.6 166.79h2.86M598.0 166.79h5.70M416.7 175.92h2.86M453.8 175.92h2.86M513.7 175.92h5.71M532.5 175.92h5.70M589.5 175.92h2.85M523.9 180.49h2.85M523.9 185.06h2.85M532.5 185.06h2.85M555.3 185.06h2.85M578.1 185.06h2.85M488.0 189.63h2.86M572.4 189.63h2.85M578.1 189.63h2.85M555.3 194.20h2.85M578.1 194.20h2.85M468.1 198.76h2.86M488.0 198.76h2.86M516.6 198.76h2.86M561.0 198.76h2.85M488.0 203.33h2.86M538.2 203.33h5.70M538.2 207.90h2.85M558.1 207.90h2.85M535.3 212.47h2.85M546.7 212.47h2.85M578.1 212.47h2.85M513.7 217.04h2.86M523.9 221.60h5.70M543.9 221.60h2.85M473.8 226.17h2.86M488.0 226.17h2.86M413.8 230.74h2.86M516.6 230.74h2.86M523.9 230.74h2.85M569.5 230.74h2.85M428.1 235.31h2.86M445.2 235.31h2.86M465.2 235.31h2.86M496.6 235.31h2.86M508.0 235.31h2.86M513.7 235.31h2.86M612.3 235.31h2.85M428.1 239.88h2.86M499.5 239.88h2.86M508.0 239.88h2.86M513.7 239.88h2.86M612.3 239.88h2.85M428.1 244.44h2.86M445.2 244.44h2.86M490.9 244.44h2.86M496.6 244.44h5.71M510.9 244.44h5.71M465.2 249.01h2.86M496.6 249.01h2.86M513.7 249.01h2.86M603.7 249.01h2.85M465.2 253.58h2.86M499.5 253.58h5.71M465.2 258.15h2.86M508.0 258.15h2.86M513.7 258.15h2.86M603.7 258.15h2.85M612.3 258.15h2.85M465.2 262.72h2.86M490.9 262.72h2.86M508.0 262.72h2.86M488.0 267.28h2.86M502.3 267.28h2.86M508.0 267.28h5.71M465.2 271.85h2.86M473.8 271.85h2.86M416.7 276.42h2.86M442.4 276.42h2.86M502.3 276.42h5.71M413.8 280.99h5.71M433.8 280.99h2.86M439.5 280.99h2.86M456.6 280.99h2.86M468.1 280.99h2.86M516.6 280.99h2.86M592.3 280.99h2.85M606.6 280.99h2.85M612.3 280.99h2.85M422.4 285.56h2.86M428.1 285.56h2.86M442.4 285.56h2.86M502.3 285.56h2.86M516.6 285.56h2.86M529.6 285.56h2.85M578.1 285.56h5.70M603.7 285.56h2.85M428.1 290.12h2.86M439.5 290.12h5.71M453.8 290.12h2.86M618.0 290.12h2.85M425.2 294.69h2.86M620.8 294.69h2.85M485.2 299.26h2.86M603.7 299.26h2.85M428.1 303.83h2.86M439.5 303.83h2.86M453.8 303.83h2.86M526.8 303.83h2.85M566.7 303.83h2.85M411.0 308.40h2.86M448.1 308.40h2.86M510.9 308.40h2.86M428.1 312.96h2.86M505.2 312.96h2.86M433.8 317.53h2.86M453.8 317.53h2.86M510.9 317.53h2.86M569.5 317.53h2.85M612.3 317.53h2.85"/>
<path stroke="#d7302a" stroke-width="4.568" d="M603.7 38.88h2.85M529.6 43.45h2.85M538.2 43.45h2.85M543.9 43.45h5.70M578.1 43.45h2.85M586.6 43.45h2.85M485.2 48.02h2.86M529.6 48.02h2.85M538.2 48.02h2.85M543.9 48.02h2.85M586.6 48.02h2.85M603.7 48.02h2.85M411.0 52.59h2.86M546.7 52.59h2.85M598.0 52.59h2.85M523.9 57.16h5.70M535.3 57.16h2.85M598.0 57.16h2.85M408.1 61.72h2.86M485.2 61.72h5.71M529.6 61.72h2.85M535.3 61.72h2.85M552.4 61.72h2.85M598.0 61.72h2.85M535.3 66.29h8.55M552.4 66.29h2.85M541.0 70.86h2.85M552.4 70.86h2.85M595.2 70.86h2.85M600.9 70.86h2.85M529.6 75.43h2.85M549.6 75.43h2.85M600.9 75.43h2.85M529.6 80.00h2.85M592.3 80.00h2.85M529.6 84.56h8.55M552.4 84.56h2.85M600.9 84.56h2.85M529.6 89.13h8.55M529.6 93.70h5.70M538.2 93.70h2.85M529.6 98.27h11.40M580.9 98.27h2.85M523.9 102.84h5.70M603.7 102.84h2.85M479.5 107.40h2.86M523.9 107.40h2.85M603.7 107.40h2.85M479.5 111.97h2.86M526.8 111.97h2.85M413.8 116.54h2.86M439.5 116.54h2.86M541.0 116.54h2.85M618.0 116.54h2.85M541.0 121.11h2.85M600.9 121.11h5.70M618.0 121.11h2.85M488.0 125.68h2.86M603.7 125.68h2.85M612.3 125.68h8.55M450.9 130.24h2.86M538.2 130.24h2.85M552.4 130.24h2.85M526.8 134.81h2.85M535.3 134.81h5.70M575.2 134.81h2.85M526.8 139.38h2.85M538.2 139.38h5.70M532.5 143.95h8.55M526.8 148.52h2.85M541.0 148.52h2.85M526.8 153.08h2.85M482.3 157.65h2.86M523.9 157.65h5.70M538.2 157.65h2.85M543.9 157.65h2.85M526.8 162.22h2.85M532.5 162.22h8.55M543.9 162.22h2.85M413.8 166.79h2.86M488.0 166.79h2.86M529.6 166.79h8.55M586.6 166.79h2.85M482.3 171.36h8.56M523.9 171.36h5.70M543.9 171.36h2.85M488.0 175.92h2.86M526.8 175.92h5.70M526.8 180.49h2.85M488.0 185.06h2.86M526.8 185.06h5.70M535.3 185.06h2.85M523.9 189.63h5.70M543.9 189.63h2.85M529.6 194.20h8.55M561.0 194.20h2.85M575.2 194.20h2.85M529.6 198.76h2.85M535.3 198.76h2.85M526.8 203.33h2.85M535.3 203.33h2.85M561.0 203.33h2.85M523.9 207.90h8.55M535.3 207.90h2.85M526.8 212.47h5.70M526.8 217.04h2.85M535.3 217.04h2.85M488.0 221.60h2.86M529.6 221.60h5.70M538.2 221.60h2.85M549.6 221.60h2.85M555.3 221.60h2.85M561.0 221.60h2.85M529.6 226.17h5.70M538.2 226.17h2.85M526.8 230.74h8.55M546.7 230.74h2.85M552.4 230.74h2.85M502.3 235.31h5.71M516.6 235.31h5.71M505.2 239.88h2.86M516.6 239.88h5.71M485.2 244.44h5.71M505.2 244.44h2.86M516.6 244.44h5.71M603.7 244.44h2.85M485.2 249.01h5.71M505.2 249.01h2.86M516.6 249.01h5.71M485.2 253.58h5.71M505.2 253.58h2.86M516.6 253.58h5.71M485.2 258.15h5.71M505.2 258.15h2.86M516.6 258.15h5.71M485.2 262.72h5.71M513.7 262.72h8.57M485.2 267.28h2.86M505.2 267.28h2.86M516.6 267.28h5.71M485.2 271.85h5.71M505.2 271.85h2.86M513.7 271.85h8.57M422.4 276.42h2.86M428.1 276.42h2.86M433.8 276.42h2.86M485.2 276.42h2.86M516.6 276.42h2.86M422.4 280.99h5.71M485.2 280.99h2.86M433.8 285.56h5.71M485.2 285.56h2.86M433.8 290.12h2.86M488.0 290.12h2.86M496.6 290.12h5.71M419.5 294.69h2.86M428.1 294.69h2.86M482.3 294.69h5.71M482.3 299.26h2.86M549.6 299.26h2.85M430.9 303.83h2.86M482.3 303.83h2.86M508.0 303.83h2.86M462.3 308.40h2.86M505.2 308.40h2.86M519.4 308.40h2.86M430.9 312.96h2.86M442.4 312.96h2.86M470.9 312.96h2.86M508.0 312.96h2.86M526.8 312.96h2.85M416.7 317.53h2.86M428.1 317.53h5.71M439.5 317.53h2.86M526.8 317.53h2.85"/>
<path stroke="#8ab5d8" stroke-width="4.568" d="M411.0 43.45h2.86M433.8 43.45h5.71M618.0 43.45h2.85M408.1 48.02h2.86M462.3 48.02h2.86M468.1 48.02h2.86M526.8 48.02h2.85M425.2 52.59h2.86M462.3 52.59h2.86M468.1 52.59h2.86M485.2 52.59h5.71M513.7 52.59h2.86M425.2 57.16h2.86M439.5 70.86h2.86M439.5 75.43h2.86M459.5 75.43h2.86M490.9 75.43h2.86M505.2 75.43h2.86M526.8 75.43h2.85M439.5 80.00h2.86M485.2 80.00h2.86M408.1 93.70h2.86M433.8 98.27h5.71M408.1 102.84h2.86M523.9 121.11h5.70M411.0 130.24h2.86M436.7 130.24h2.86M583.8 130.24h2.85M416.7 171.36h2.86M603.7 171.36h2.85M416.7 221.60h2.86M436.7 221.60h2.86M456.6 221.60h2.86M618.0 221.60h2.85M408.1 276.42h2.86M523.9 276.42h5.70M482.3 280.99h2.86M523.9 280.99h5.70M538.2 280.99h5.70M523.9 285.56h2.85M600.9 285.56h2.85M615.1 285.56h2.85M598.0 312.96h2.85M541.0 317.53h2.85"/>
<path stroke="#4a78b6" stroke-width="4.568" d="M433.8 130.24h2.86M485.2 130.24h5.71M510.9 221.60h2.86M526.8 285.56h2.85M541.0 285.56h2.85"/>
<path fill="none" stroke="#a4a4a4" stroke-width="0.4" d="M408.10 36.60V319.82M410.96 36.60V319.82M413.81 36.60V319.82M416.67 36.60V319.82M419.52 36.60V319.82M422.38 36.60V319.82M425.23 36.60V319.82M428.09 36.60V319.82M430.94 36.60V319.82M433.80 36.60V319.82M436.65 36.60V319.82M439.50 36.60V319.82M442.36 36.60V319.82M445.22 36.60V319.82M448.07 36.60V319.82M450.93 36.60V319.82M453.78 36.60V319.82M456.63 36.60V319.82M459.49 36.60V319.82M462.35 36.60V319.82M465.20 36.60V319.82M468.06 36.60V319.82M470.91 36.60V319.82M473.77 36.60V319.82M476.62 36.60V319.82M479.48 36.60V319.82M482.33 36.60V319.82M485.19 36.60V319.82M488.04 36.60V319.82M490.90 36.60V319.82M493.75 36.60V319.82M496.61 36.60V319.82M499.46 36.60V319.82M502.32 36.60V319.82M505.17 36.60V319.82M508.03 36.60V319.82M510.88 36.60V319.82M513.74 36.60V319.82M516.59 36.60V319.82M519.45 36.60V319.82M522.30 36.60V319.82M408.10 36.60H522.30M408.10 41.17H522.30M408.10 45.74H522.30M408.10 50.30H522.30M408.10 54.87H522.30M408.10 59.44H522.30M408.10 64.01H522.30M408.10 68.58H522.30M408.10 73.14H522.30M408.10 77.71H522.30M408.10 82.28H522.30M408.10 86.85H522.30M408.10 91.42H522.30M408.10 95.98H522.30M408.10 100.55H522.30M408.10 105.12H522.30M408.10 109.69H522.30M408.10 114.26H522.30M408.10 118.82H522.30M408.10 123.39H522.30M408.10 127.96H522.30M408.10 132.53H522.30M408.10 137.10H522.30M408.10 141.66H522.30M408.10 146.23H522.30M408.10 150.80H522.30M408.10 155.37H522.30M408.10 159.94H522.30M408.10 164.50H522.30M408.10 169.07H522.30M408.10 173.64H522.30M408.10 178.21H522.30M408.10 182.78H522.30M408.10 187.34H522.30M408.10 191.91H522.30M408.10 196.48H522.30M408.10 201.05H522.30M408.10 205.62H522.30M408.10 210.18H522.30M408.10 214.75H522.30M408.10 219.32H522.30M408.10 223.89H522.30M408.10 228.46H522.30M408.10 233.02H522.30M408.10 237.59H522.30M408.10 242.16H522.30M408.10 246.73H522.30M408.10 251.30H522.30M408.10 255.86H522.30M408.10 260.43H522.30M408.10 265.00H522.30M408.10 269.57H522.30M408.10 274.14H522.30M408.10 278.70H522.30M408.10 283.27H522.30M408.10 287.84H522.30M408.10 292.41H522.30M408.10 296.98H522.30M408.10 301.54H522.30M408.10 306.11H522.30M408.10 310.68H522.30M408.10 315.25H522.30M408.10 319.82H522.30M523.90 36.60V319.82M526.75 36.60V319.82M529.60 36.60V319.82M532.45 36.60V319.82M535.30 36.60V319.82M538.15 36.60V319.82M541.01 36.60V319.82M543.86 36.60V319.82M546.71 36.60V319.82M549.56 36.60V319.82M552.41 36.60V319.82M555.26 36.60V319.82M558.11 36.60V319.82M560.96 36.60V319.82M563.81 36.60V319.82M566.66 36.60V319.82M569.52 36.60V319.82M572.37 36.60V319.82M575.22 36.60V319.82M578.07 36.60V319.82M580.92 36.60V319.82M583.77 36.60V319.82M586.62 36.60V319.82M589.47 36.60V319.82M592.32 36.60V319.82M595.17 36.60V319.82M598.03 36.60V319.82M600.88 36.60V319.82M603.73 36.60V319.82M606.58 36.60V319.82M609.43 36.60V319.82M612.28 36.60V319.82M615.13 36.60V319.82M617.98 36.60V319.82M620.83 36.60V319.82M623.68 36.60V319.82M523.90 36.60H623.68M523.90 41.17H623.68M523.90 45.74H623.68M523.90 50.30H623.68M523.90 54.87H623.68M523.90 59.44H623.68M523.90 64.01H623.68M523.90 68.58H623.68M523.90 73.14H623.68M523.90 77.71H623.68M523.90 82.28H623.68M523.90 86.85H623.68M523.90 91.42H623.68M523.90 95.98H623.68M523.90 100.55H623.68M523.90 105.12H623.68M523.90 109.69H623.68M523.90 114.26H623.68M523.90 118.82H623.68M523.90 123.39H623.68M523.90 127.96H623.68M523.90 132.53H623.68M523.90 137.10H623.68M523.90 141.66H623.68M523.90 146.23H623.68M523.90 150.80H623.68M523.90 155.37H623.68M523.90 159.94H623.68M523.90 164.50H623.68M523.90 169.07H623.68M523.90 173.64H623.68M523.90 178.21H623.68M523.90 182.78H623.68M523.90 187.34H623.68M523.90 191.91H623.68M523.90 196.48H623.68M523.90 201.05H623.68M523.90 205.62H623.68M523.90 210.18H623.68M523.90 214.75H623.68M523.90 219.32H623.68M523.90 223.89H623.68M523.90 228.46H623.68M523.90 233.02H623.68M523.90 237.59H623.68M523.90 242.16H623.68M523.90 246.73H623.68M523.90 251.30H623.68M523.90 255.86H623.68M523.90 260.43H623.68M523.90 265.00H623.68M523.90 269.57H623.68M523.90 274.14H623.68M523.90 278.70H623.68M523.90 283.27H623.68M523.90 287.84H623.68M523.90 292.41H623.68M523.90 296.98H623.68M523.90 301.54H623.68M523.90 306.11H623.68M523.90 310.68H623.68M523.90 315.25H623.68M523.90 319.82H623.68"/>
<path fill="#e4edf3" d="M408.10 25.7h2.85v4.4h-2.85zM410.96 25.7h2.85v4.4h-2.85zM413.81 25.7h2.85v4.4h-2.85zM416.67 25.7h2.85v4.4h-2.85zM419.52 25.7h2.85v4.4h-2.85zM422.38 25.7h2.85v4.4h-2.85zM425.23 25.7h2.85v4.4h-2.85zM428.09 25.7h2.85v4.4h-2.85zM430.94 25.7h2.85v4.4h-2.85zM433.80 25.7h2.85v4.4h-2.85zM436.65 25.7h2.85v4.4h-2.85zM439.50 25.7h2.85v4.4h-2.85zM442.36 25.7h2.85v4.4h-2.85zM445.22 25.7h2.85v4.4h-2.85zM453.78 25.7h2.85v4.4h-2.85zM456.63 25.7h2.85v4.4h-2.85zM462.35 25.7h2.85v4.4h-2.85zM465.20 25.7h2.85v4.4h-2.85zM468.06 25.7h2.85v4.4h-2.85zM470.91 25.7h2.85v4.4h-2.85zM473.77 25.7h2.85v4.4h-2.85zM476.62 25.7h2.85v4.4h-2.85zM479.48 25.7h2.85v4.4h-2.85zM482.33 25.7h2.85v4.4h-2.85zM485.19 25.7h2.85v4.4h-2.85zM493.75 25.7h2.85v4.4h-2.85zM496.61 25.7h2.85v4.4h-2.85zM499.46 25.7h2.85v4.4h-2.85zM502.32 25.7h2.85v4.4h-2.85zM505.17 25.7h2.85v4.4h-2.85zM508.03 25.7h2.85v4.4h-2.85zM510.88 25.7h2.85v4.4h-2.85zM513.74 25.7h2.85v4.4h-2.85zM516.59 25.7h2.85v4.4h-2.85zM523.90 25.7h2.85v4.4h-2.85zM526.75 25.7h2.85v4.4h-2.85zM529.60 25.7h2.85v4.4h-2.85zM532.45 25.7h2.85v4.4h-2.85zM535.30 25.7h2.85v4.4h-2.85zM538.15 25.7h2.85v4.4h-2.85zM541.01 25.7h2.85v4.4h-2.85zM543.86 25.7h2.85v4.4h-2.85zM546.71 25.7h2.85v4.4h-2.85zM549.56 25.7h2.85v4.4h-2.85zM555.26 25.7h2.85v4.4h-2.85zM558.11 25.7h2.85v4.4h-2.85zM560.96 25.7h2.85v4.4h-2.85zM563.81 25.7h2.85v4.4h-2.85zM566.66 25.7h2.85v4.4h-2.85zM569.52 25.7h2.85v4.4h-2.85zM572.37 25.7h2.85v4.4h-2.85zM575.22 25.7h2.85v4.4h-2.85zM578.07 25.7h2.85v4.4h-2.85zM580.92 25.7h2.85v4.4h-2.85zM583.77 25.7h2.85v4.4h-2.85zM586.62 25.7h2.85v4.4h-2.85zM589.47 25.7h2.85v4.4h-2.85zM592.32 25.7h2.85v4.4h-2.85zM595.17 25.7h2.85v4.4h-2.85zM598.03 25.7h2.85v4.4h-2.85z"/>
<path fill="#7b52a6" d="M448.07 25.7h2.85v4.4h-2.85zM450.93 25.7h2.85v4.4h-2.85zM459.49 25.7h2.85v4.4h-2.85zM488.04 25.7h2.85v4.4h-2.85zM490.90 25.7h2.85v4.4h-2.85zM519.45 25.7h2.85v4.4h-2.85zM552.41 25.7h2.85v4.4h-2.85zM600.88 25.7h2.85v4.4h-2.85zM603.73 25.7h2.85v4.4h-2.85zM606.58 25.7h2.85v4.4h-2.85zM609.43 25.7h2.85v4.4h-2.85zM612.28 25.7h2.85v4.4h-2.85zM615.13 25.7h2.85v4.4h-2.85zM617.98 25.7h2.85v4.4h-2.85zM620.83 25.7h2.85v4.4h-2.85z"/>
<path fill="none" stroke="#a4a4a4" stroke-width="0.4" d="M408.10 25.7v4.4M410.96 25.7v4.4M413.81 25.7v4.4M416.67 25.7v4.4M419.52 25.7v4.4M422.38 25.7v4.4M425.23 25.7v4.4M428.09 25.7v4.4M430.94 25.7v4.4M433.80 25.7v4.4M436.65 25.7v4.4M439.50 25.7v4.4M442.36 25.7v4.4M445.22 25.7v4.4M448.07 25.7v4.4M450.93 25.7v4.4M453.78 25.7v4.4M456.63 25.7v4.4M459.49 25.7v4.4M462.35 25.7v4.4M465.20 25.7v4.4M468.06 25.7v4.4M470.91 25.7v4.4M473.77 25.7v4.4M476.62 25.7v4.4M479.48 25.7v4.4M482.33 25.7v4.4M485.19 25.7v4.4M488.04 25.7v4.4M490.90 25.7v4.4M493.75 25.7v4.4M496.61 25.7v4.4M499.46 25.7v4.4M502.32 25.7v4.4M505.17 25.7v4.4M508.03 25.7v4.4M510.88 25.7v4.4M513.74 25.7v4.4M516.59 25.7v4.4M519.45 25.7v4.4M522.30 25.7v4.4M408.10 25.7h114.20M408.10 30.10h114.20M523.90 25.7v4.4M526.75 25.7v4.4M529.60 25.7v4.4M532.45 25.7v4.4M535.30 25.7v4.4M538.15 25.7v4.4M541.01 25.7v4.4M543.86 25.7v4.4M546.71 25.7v4.4M549.56 25.7v4.4M552.41 25.7v4.4M555.26 25.7v4.4M558.11 25.7v4.4M560.96 25.7v4.4M563.81 25.7v4.4M566.66 25.7v4.4M569.52 25.7v4.4M572.37 25.7v4.4M575.22 25.7v4.4M578.07 25.7v4.4M580.92 25.7v4.4M583.77 25.7v4.4M586.62 25.7v4.4M589.47 25.7v4.4M592.32 25.7v4.4M595.17 25.7v4.4M598.03 25.7v4.4M600.88 25.7v4.4M603.73 25.7v4.4M606.58 25.7v4.4M609.43 25.7v4.4M612.28 25.7v4.4M615.13 25.7v4.4M617.98 25.7v4.4M620.83 25.7v4.4M623.68 25.7v4.4M523.90 25.7h99.78M523.90 30.10h99.78"/>
<path fill="#e4edf3" d="M408.10 30.9h2.85v4.4h-2.85zM416.67 30.9h2.85v4.4h-2.85zM419.52 30.9h2.85v4.4h-2.85zM422.38 30.9h2.85v4.4h-2.85zM425.23 30.9h2.85v4.4h-2.85zM428.09 30.9h2.85v4.4h-2.85zM430.94 30.9h2.85v4.4h-2.85zM433.80 30.9h2.85v4.4h-2.85zM436.65 30.9h2.85v4.4h-2.85zM439.50 30.9h2.85v4.4h-2.85zM442.36 30.9h2.85v4.4h-2.85zM445.22 30.9h2.85v4.4h-2.85zM453.78 30.9h2.85v4.4h-2.85zM456.63 30.9h2.85v4.4h-2.85zM459.49 30.9h2.85v4.4h-2.85zM462.35 30.9h2.85v4.4h-2.85zM465.20 30.9h2.85v4.4h-2.85zM468.06 30.9h2.85v4.4h-2.85zM470.91 30.9h2.85v4.4h-2.85zM473.77 30.9h2.85v4.4h-2.85zM476.62 30.9h2.85v4.4h-2.85zM482.33 30.9h2.85v4.4h-2.85zM485.19 30.9h2.85v4.4h-2.85zM493.75 30.9h2.85v4.4h-2.85zM499.46 30.9h2.85v4.4h-2.85zM502.32 30.9h2.85v4.4h-2.85zM505.17 30.9h2.85v4.4h-2.85zM508.03 30.9h2.85v4.4h-2.85zM510.88 30.9h2.85v4.4h-2.85zM513.74 30.9h2.85v4.4h-2.85zM516.59 30.9h2.85v4.4h-2.85zM519.45 30.9h2.85v4.4h-2.85zM566.66 30.9h2.85v4.4h-2.85zM569.52 30.9h2.85v4.4h-2.85zM572.37 30.9h2.85v4.4h-2.85zM578.07 30.9h2.85v4.4h-2.85zM580.92 30.9h2.85v4.4h-2.85zM615.13 30.9h2.85v4.4h-2.85zM620.83 30.9h2.85v4.4h-2.85z"/>
<path fill="#0e8c48" d="M410.96 30.9h2.85v4.4h-2.85zM413.81 30.9h2.85v4.4h-2.85zM448.07 30.9h2.85v4.4h-2.85zM450.93 30.9h2.85v4.4h-2.85zM479.48 30.9h2.85v4.4h-2.85zM488.04 30.9h2.85v4.4h-2.85zM490.90 30.9h2.85v4.4h-2.85zM496.61 30.9h2.85v4.4h-2.85zM523.90 30.9h2.85v4.4h-2.85zM526.75 30.9h2.85v4.4h-2.85zM529.60 30.9h2.85v4.4h-2.85zM532.45 30.9h2.85v4.4h-2.85zM535.30 30.9h2.85v4.4h-2.85zM538.15 30.9h2.85v4.4h-2.85zM541.01 30.9h2.85v4.4h-2.85zM543.86 30.9h2.85v4.4h-2.85zM546.71 30.9h2.85v4.4h-2.85zM549.56 30.9h2.85v4.4h-2.85zM552.41 30.9h2.85v4.4h-2.85zM555.26 30.9h2.85v4.4h-2.85zM558.11 30.9h2.85v4.4h-2.85zM560.96 30.9h2.85v4.4h-2.85zM563.81 30.9h2.85v4.4h-2.85zM575.22 30.9h2.85v4.4h-2.85zM583.77 30.9h2.85v4.4h-2.85zM586.62 30.9h2.85v4.4h-2.85zM589.47 30.9h2.85v4.4h-2.85zM592.32 30.9h2.85v4.4h-2.85zM595.17 30.9h2.85v4.4h-2.85zM598.03 30.9h2.85v4.4h-2.85zM600.88 30.9h2.85v4.4h-2.85zM603.73 30.9h2.85v4.4h-2.85zM606.58 30.9h2.85v4.4h-2.85zM609.43 30.9h2.85v4.4h-2.85zM612.28 30.9h2.85v4.4h-2.85zM617.98 30.9h2.85v4.4h-2.85z"/>
<path fill="none" stroke="#a4a4a4" stroke-width="0.4" d="M408.10 30.9v4.4M410.96 30.9v4.4M413.81 30.9v4.4M416.67 30.9v4.4M419.52 30.9v4.4M422.38 30.9v4.4M425.23 30.9v4.4M428.09 30.9v4.4M430.94 30.9v4.4M433.80 30.9v4.4M436.65 30.9v4.4M439.50 30.9v4.4M442.36 30.9v4.4M445.22 30.9v4.4M448.07 30.9v4.4M450.93 30.9v4.4M453.78 30.9v4.4M456.63 30.9v4.4M459.49 30.9v4.4M462.35 30.9v4.4M465.20 30.9v4.4M468.06 30.9v4.4M470.91 30.9v4.4M473.77 30.9v4.4M476.62 30.9v4.4M479.48 30.9v4.4M482.33 30.9v4.4M485.19 30.9v4.4M488.04 30.9v4.4M490.90 30.9v4.4M493.75 30.9v4.4M496.61 30.9v4.4M499.46 30.9v4.4M502.32 30.9v4.4M505.17 30.9v4.4M508.03 30.9v4.4M510.88 30.9v4.4M513.74 30.9v4.4M516.59 30.9v4.4M519.45 30.9v4.4M522.30 30.9v4.4M408.10 30.9h114.20M408.10 35.30h114.20M523.90 30.9v4.4M526.75 30.9v4.4M529.60 30.9v4.4M532.45 30.9v4.4M535.30 30.9v4.4M538.15 30.9v4.4M541.01 30.9v4.4M543.86 30.9v4.4M546.71 30.9v4.4M549.56 30.9v4.4M552.41 30.9v4.4M555.26 30.9v4.4M558.11 30.9v4.4M560.96 30.9v4.4M563.81 30.9v4.4M566.66 30.9v4.4M569.52 30.9v4.4M572.37 30.9v4.4M575.22 30.9v4.4M578.07 30.9v4.4M580.92 30.9v4.4M583.77 30.9v4.4M586.62 30.9v4.4M589.47 30.9v4.4M592.32 30.9v4.4M595.17 30.9v4.4M598.03 30.9v4.4M600.88 30.9v4.4M603.73 30.9v4.4M606.58 30.9v4.4M609.43 30.9v4.4M612.28 30.9v4.4M615.13 30.9v4.4M617.98 30.9v4.4M620.83 30.9v4.4M623.68 30.9v4.4M523.90 30.9h99.78M523.90 35.30h99.78"/>
<rect x="400.9" y="36.60" width="5.6" height="4.57" fill="#e3001b" stroke="#e0e0e0" stroke-width="0.25"/>
<rect x="400.9" y="41.17" width="5.6" height="4.57" fill="#c4c4c4" stroke="#e0e0e0" stroke-width="0.25"/>
<rect x="400.9" y="45.74" width="5.6" height="4.57" fill="#c4c4c4" stroke="#e0e0e0" stroke-width="0.25"/>
<rect x="400.9" y="50.30" width="5.6" height="4.57" fill="#e3001b" stroke="#e0e0e0" stroke-width="0.25"/>
<rect x="400.9" y="54.87" width="5.6" height="4.57" fill="#e3001b" stroke="#e0e0e0" stroke-width="0.25"/>
<rect x="400.9" y="59.44" width="5.6" height="4.57" fill="#e3001b" stroke="#e0e0e0" stroke-width="0.25"/>
<rect x="400.9" y="64.01" width="5.6" height="4.57" fill="#e3001b" stroke="#e0e0e0" stroke-width="0.25"/>
<rect x="400.9" y="68.58" width="5.6" height="4.57" fill="#e3001b" stroke="#e0e0e0" stroke-width="0.25"/>
<rect x="400.9" y="73.14" width="5.6" height="4.57" fill="#e3001b" stroke="#e0e0e0" stroke-width="0.25"/>
<rect x="400.9" y="77.71" width="5.6" height="4.57" fill="#e3001b" stroke="#e0e0e0" stroke-width="0.25"/>
<rect x="400.9" y="82.28" width="5.6" height="4.57" fill="#e3001b" stroke="#e0e0e0" stroke-width="0.25"/>
<rect x="400.9" y="86.85" width="5.6" height="4.57" fill="#e3001b" stroke="#e0e0e0" stroke-width="0.25"/>
<rect x="400.9" y="91.42" width="5.6" height="4.57" fill="#e3001b" stroke="#e0e0e0" stroke-width="0.25"/>
<rect x="400.9" y="95.98" width="5.6" height="4.57" fill="#e3001b" stroke="#e0e0e0" stroke-width="0.25"/>
<rect x="400.9" y="100.55" width="5.6" height="4.57" fill="#c4c4c4" stroke="#e0e0e0" stroke-width="0.25"/>
<rect x="400.9" y="105.12" width="5.6" height="4.57" fill="#e3001b" stroke="#e0e0e0" stroke-width="0.25"/>
<rect x="400.9" y="109.69" width="5.6" height="4.57" fill="#1f4e9c" stroke="#e0e0e0" stroke-width="0.25"/>
<rect x="400.9" y="114.26" width="5.6" height="4.57" fill="#c4c4c4" stroke="#e0e0e0" stroke-width="0.25"/>
<rect x="400.9" y="118.82" width="5.6" height="4.57" fill="#1f4e9c" stroke="#e0e0e0" stroke-width="0.25"/>
<rect x="400.9" y="123.39" width="5.6" height="4.57" fill="#c4c4c4" stroke="#e0e0e0" stroke-width="0.25"/>
<rect x="400.9" y="127.96" width="5.6" height="4.57" fill="#e3001b" stroke="#e0e0e0" stroke-width="0.25"/>
<rect x="400.9" y="132.53" width="5.6" height="4.57" fill="#c4c4c4" stroke="#e0e0e0" stroke-width="0.25"/>
<rect x="400.9" y="137.10" width="5.6" height="4.57" fill="#c4c4c4" stroke="#e0e0e0" stroke-width="0.25"/>
<rect x="400.9" y="141.66" width="5.6" height="4.57" fill="#c4c4c4" stroke="#e0e0e0" stroke-width="0.25"/>
<rect x="400.9" y="146.23" width="5.6" height="4.57" fill="#c4c4c4" stroke="#e0e0e0" stroke-width="0.25"/>
<rect x="400.9" y="150.80" width="5.6" height="4.57" fill="#c4c4c4" stroke="#e0e0e0" stroke-width="0.25"/>
<rect x="400.9" y="155.37" width="5.6" height="4.57" fill="#c4c4c4" stroke="#e0e0e0" stroke-width="0.25"/>
<rect x="400.9" y="159.94" width="5.6" height="4.57" fill="#c4c4c4" stroke="#e0e0e0" stroke-width="0.25"/>
<rect x="400.9" y="164.50" width="5.6" height="4.57" fill="#e3001b" stroke="#e0e0e0" stroke-width="0.25"/>
<rect x="400.9" y="169.07" width="5.6" height="4.57" fill="#e3001b" stroke="#e0e0e0" stroke-width="0.25"/>
<rect x="400.9" y="173.64" width="5.6" height="4.57" fill="#e3001b" stroke="#e0e0e0" stroke-width="0.25"/>
<rect x="400.9" y="178.21" width="5.6" height="4.57" fill="#e3001b" stroke="#e0e0e0" stroke-width="0.25"/>
<rect x="400.9" y="182.78" width="5.6" height="4.57" fill="#e3001b" stroke="#e0e0e0" stroke-width="0.25"/>
<rect x="400.9" y="187.34" width="5.6" height="4.57" fill="#c4c4c4" stroke="#e0e0e0" stroke-width="0.25"/>
<rect x="400.9" y="191.91" width="5.6" height="4.57" fill="#e3001b" stroke="#e0e0e0" stroke-width="0.25"/>
<rect x="400.9" y="196.48" width="5.6" height="4.57" fill="#e3001b" stroke="#e0e0e0" stroke-width="0.25"/>
<rect x="400.9" y="201.05" width="5.6" height="4.57" fill="#e3001b" stroke="#e0e0e0" stroke-width="0.25"/>
<rect x="400.9" y="205.62" width="5.6" height="4.57" fill="#e3001b" stroke="#e0e0e0" stroke-width="0.25"/>
<rect x="400.9" y="210.18" width="5.6" height="4.57" fill="#e3001b" stroke="#e0e0e0" stroke-width="0.25"/>
<rect x="400.9" y="214.75" width="5.6" height="4.57" fill="#c4c4c4" stroke="#e0e0e0" stroke-width="0.25"/>
<rect x="400.9" y="219.32" width="5.6" height="4.57" fill="#e3001b" stroke="#e0e0e0" stroke-width="0.25"/>
<rect x="400.9" y="223.89" width="5.6" height="4.57" fill="#c4c4c4" stroke="#e0e0e0" stroke-width="0.25"/>
<rect x="400.9" y="228.46" width="5.6" height="4.57" fill="#c4c4c4" stroke="#e0e0e0" stroke-width="0.25"/>
<rect x="400.9" y="233.02" width="5.6" height="4.57" fill="#c4c4c4" stroke="#e0e0e0" stroke-width="0.25"/>
<rect x="400.9" y="237.59" width="5.6" height="4.57" fill="#c4c4c4" stroke="#e0e0e0" stroke-width="0.25"/>
<rect x="400.9" y="242.16" width="5.6" height="4.57" fill="#c4c4c4" stroke="#e0e0e0" stroke-width="0.25"/>
<rect x="400.9" y="246.73" width="5.6" height="4.57" fill="#c4c4c4" stroke="#e0e0e0" stroke-width="0.25"/>
<rect x="400.9" y="251.30" width="5.6" height="4.57" fill="#c4c4c4" stroke="#e0e0e0" stroke-width="0.25"/>
<rect x="400.9" y="255.86" width="5.6" height="4.57" fill="#c4c4c4" stroke="#e0e0e0" stroke-width="0.25"/>
<rect x="400.9" y="260.43" width="5.6" height="4.57" fill="#c4c4c4" stroke="#e0e0e0" stroke-width="0.25"/>
<rect x="400.9" y="265.00" width="5.6" height="4.57" fill="#c4c4c4" stroke="#e0e0e0" stroke-width="0.25"/>
<rect x="400.9" y="269.57" width="5.6" height="4.57" fill="#c4c4c4" stroke="#e0e0e0" stroke-width="0.25"/>
<rect x="400.9" y="274.14" width="5.6" height="4.57" fill="#e3001b" stroke="#e0e0e0" stroke-width="0.25"/>
<rect x="400.9" y="278.70" width="5.6" height="4.57" fill="#c4c4c4" stroke="#e0e0e0" stroke-width="0.25"/>
<rect x="400.9" y="283.27" width="5.6" height="4.57" fill="#e3001b" stroke="#e0e0e0" stroke-width="0.25"/>
<rect x="400.9" y="287.84" width="5.6" height="4.57" fill="#e3001b" stroke="#e0e0e0" stroke-width="0.25"/>
<rect x="400.9" y="292.41" width="5.6" height="4.57" fill="#c4c4c4" stroke="#e0e0e0" stroke-width="0.25"/>
<rect x="400.9" y="296.98" width="5.6" height="4.57" fill="#c4c4c4" stroke="#e0e0e0" stroke-width="0.25"/>
<rect x="400.9" y="301.54" width="5.6" height="4.57" fill="#c4c4c4" stroke="#e0e0e0" stroke-width="0.25"/>
<rect x="400.9" y="306.11" width="5.6" height="4.57" fill="#c4c4c4" stroke="#e0e0e0" stroke-width="0.25"/>
<rect x="400.9" y="310.68" width="5.6" height="4.57" fill="#e3001b" stroke="#e0e0e0" stroke-width="0.25"/>
<rect x="400.9" y="315.25" width="5.6" height="4.57" fill="#e3001b" stroke="#e0e0e0" stroke-width="0.25"/>
<g transform="translate(625.3,0) rotate(0.2) scale(0.5)" fill="#111" stroke="#222" stroke-width="0.24" font-size="11.4">
<text x="0" y="81.77">SNORD35B</text>
<text x="0" y="90.90">SNORD117</text>
<text x="0" y="100.04">SNORD64</text>
<text x="0" y="109.18">SNORD74</text>
<text x="0" y="118.31">SNORD44</text>
<text x="0" y="127.45">SNORD81</text>
<text x="0" y="136.58">SNORD76</text>
<text x="0" y="145.72">SNORD79</text>
<text x="0" y="154.86">SNORD80</text>
<text x="0" y="163.99">SNORD85</text>
<text x="0" y="173.13">SNORD75</text>
<text x="0" y="182.26">SNORD47</text>
<text x="0" y="191.40">SNORD63A</text>
<text x="0" y="200.54">SNORD78</text>
<text x="0" y="209.67">SNORD58B</text>
<text x="0" y="218.81">SNORD70</text>
<text x="0" y="227.94">SNORA80</text>
<text x="0" y="237.08">SNORD36B</text>
<text x="0" y="246.22">SNORA14B</text>
<text x="0" y="255.35">SCARNA22</text>
<text x="0" y="264.49">SNORD2</text>
<text x="0" y="273.62">SNORD66</text>
<text x="0" y="282.76">SNORD15B</text>
<text x="0" y="291.90">snoID_0724</text>
<text x="0" y="301.03">SNORD126</text>
<text x="0" y="310.17">snoID_0402</text>
<text x="0" y="319.30">snoID_0481</text>
<text x="0" y="328.44">snoID_0409</text>
<text x="0" y="337.58">SNORD65</text>
<text x="0" y="346.71">SNORD12A</text>
<text x="0" y="355.85">SNORD94</text>
<text x="0" y="364.98">SNORD58A</text>
<text x="0" y="374.12">SNORD110</text>
<text x="0" y="383.26">snoID_0590</text>
<text x="0" y="392.39">SNORD24</text>
<text x="0" y="401.53">SNORD16</text>
<text x="0" y="410.66">SNORD41</text>
<text x="0" y="419.80">SNORD38A</text>
<text x="0" y="428.94">SNORD12C</text>
<text x="0" y="438.07">snoID_0228</text>
<text x="0" y="447.21">SNORD84</text>
<text x="0" y="456.34">snoID_0282</text>
<text x="0" y="465.48">snoID_0703</text>
<text x="0" y="474.62">SNORD116-26</text>
<text x="0" y="483.75">SNORD116-25</text>
<text x="0" y="492.89">SNORD116-23</text>
<text x="0" y="502.02">SNORD116-6</text>
<text x="0" y="511.16">SNORD116-1</text>
<text x="0" y="520.30">SNORD116-2</text>
<text x="0" y="529.43">SNORD116-13</text>
<text x="0" y="538.57">SNORD116-27</text>
<text x="0" y="547.70">SNORD116-14</text>
<text x="0" y="556.84">SNORD8</text>
<text x="0" y="565.98">SNORD89</text>
<text x="0" y="575.11">SNORD21</text>
<text x="0" y="584.25">SCARNA7</text>
<text x="0" y="593.38">SNORD13</text>
<text x="0" y="602.52">SNORD19B</text>
<text x="0" y="611.66">SNORD118</text>
<text x="0" y="620.79">SNORD115-24</text>
<text x="0" y="629.93">SCARNA9</text>
<text x="0" y="639.06">SCARNA5</text>
</g>
<text x="625.20" y="25.00" font-size="9.7" fill="#111" text-anchor="start" font-weight="bold" >t(4;14)</text>
<text x="625.20" y="33.40" font-size="9.7" fill="#111" text-anchor="start" font-weight="bold" >gain1q</text>
<defs><linearGradient id="cb" x1="0" y1="0" x2="0" y2="1"><stop offset="0.000" stop-color="#d73027"/><stop offset="0.167" stop-color="#fc8d59"/><stop offset="0.333" stop-color="#fee090"/><stop offset="0.500" stop-color="#ffffbf"/><stop offset="0.667" stop-color="#e0f3f8"/><stop offset="0.833" stop-color="#91bfdb"/><stop offset="1.000" stop-color="#4575b4"/></linearGradient></defs>
<rect x="667.60" y="25.80" width="5.70" height="72.10" fill="url(#cb)" />
<text x="676.00" y="28.30" font-size="8.4" fill="#1a1a1a" text-anchor="start" font-weight="normal" >2</text>
<text x="676.00" y="46.30" font-size="8.4" fill="#1a1a1a" text-anchor="start" font-weight="normal" >1</text>
<text x="676.00" y="64.30" font-size="8.4" fill="#1a1a1a" text-anchor="start" font-weight="normal" >0</text>
<text x="676.00" y="82.30" font-size="8.4" fill="#1a1a1a" text-anchor="start" font-weight="normal" >-1</text>
<text x="676.00" y="100.50" font-size="8.4" fill="#1a1a1a" text-anchor="start" font-weight="normal" >-2</text>
<path fill="none" stroke="#5a5a5a" stroke-width="0.55" d="M412.4 23.9L412.4 25.4M415.2 23.9L415.2 25.4M412.4 23.9L415.2 23.9M409.5 23.2L409.5 25.4M413.8 23.2L413.8 23.9M409.5 23.2L413.8 23.2M418.1 24.6L418.1 25.4M420.9 24.6L420.9 25.4M418.1 24.6L420.9 24.6M423.8 23.7L423.8 25.4M426.7 23.7L426.7 25.4M423.8 23.7L426.7 23.7M419.5 23.0L419.5 24.6M425.2 23.0L425.2 23.7M419.5 23.0L425.2 23.0M429.5 24.1L429.5 25.4M432.4 24.1L432.4 25.4M429.5 24.1L432.4 24.1M435.2 23.6L435.2 25.4M438.1 23.6L438.1 25.4M435.2 23.6L438.1 23.6M430.9 22.9L430.9 24.1M436.7 22.9L436.7 23.6M430.9 22.9L436.7 22.9M422.4 22.2L422.4 23.0M433.8 22.2L433.8 22.9M422.4 22.2L433.8 22.2M411.7 21.5L411.7 23.2M428.1 21.5L428.1 22.2M411.7 21.5L428.1 21.5M440.9 24.7L440.9 25.4M443.8 24.7L443.8 25.4M440.9 24.7L443.8 24.7M442.4 24.0L442.4 24.7M446.6 24.0L446.6 25.4M442.4 24.0L446.6 24.0M444.5 23.3L444.5 24.0M449.5 23.3L449.5 25.4M444.5 23.3L449.5 23.3M419.9 19.2L419.9 21.5M447.0 19.2L447.0 23.3M419.9 19.2L447.0 19.2M452.4 24.4L452.4 25.4M455.2 24.4L455.2 25.4M452.4 24.4L455.2 24.4M460.9 24.0L460.9 25.4M463.8 24.0L463.8 25.4M460.9 24.0L463.8 24.0M458.1 23.3L458.1 25.4M462.3 23.3L462.3 24.0M458.1 23.3L462.3 23.3M466.6 23.7L466.6 25.4M469.5 23.7L469.5 25.4M466.6 23.7L469.5 23.7M460.2 22.6L460.2 23.3M468.1 22.6L468.1 23.7M460.2 22.6L468.1 22.6M453.8 21.9L453.8 24.4M464.1 21.9L464.1 22.6M453.8 21.9L464.1 21.9M433.4 18.5L433.4 19.2M459.0 18.5L459.0 21.9M433.4 18.5L459.0 18.5M475.2 24.7L475.2 25.4M478.0 24.7L478.0 25.4M475.2 24.7L478.0 24.7M472.3 24.0L472.3 25.4M476.6 24.0L476.6 24.7M472.3 24.0L476.6 24.0M474.5 22.6L474.5 24.0M480.9 22.6L480.9 25.4M474.5 22.6L480.9 22.6M486.6 24.5L486.6 25.4M489.5 24.5L489.5 25.4M486.6 24.5L489.5 24.5M483.8 23.8L483.8 25.4M488.0 23.8L488.0 24.5M483.8 23.8L488.0 23.8M485.9 23.1L485.9 23.8M492.3 23.1L492.3 25.4M485.9 23.1L492.3 23.1M477.7 21.9L477.7 22.6M489.1 21.9L489.1 23.1M477.7 21.9L489.1 21.9M495.2 23.9L495.2 25.4M498.0 23.9L498.0 25.4M495.2 23.9L498.0 23.9M496.6 23.2L496.6 23.9M500.9 23.2L500.9 25.4M496.6 23.2L500.9 23.2M503.7 24.5L503.7 25.4M506.6 24.5L506.6 25.4M503.7 24.5L506.6 24.5M498.7 22.5L498.7 23.2M505.2 22.5L505.2 24.5M498.7 22.5L505.2 22.5M509.5 24.7L509.5 25.4M512.3 24.7L512.3 25.4M509.5 24.7L512.3 24.7M510.9 24.0L510.9 24.7M515.2 24.0L515.2 25.4M510.9 24.0L515.2 24.0M518.0 23.5L518.0 25.4M520.9 23.5L520.9 25.4M518.0 23.5L520.9 23.5M513.0 22.8L513.0 24.0M519.4 22.8L519.4 23.5M513.0 22.8L519.4 22.8M502.0 19.8L502.0 22.5M516.2 19.8L516.2 22.8M502.0 19.8L516.2 19.8M483.4 19.1L483.4 21.9M509.1 19.1L509.1 19.8M483.4 19.1L509.1 19.1M446.2 14.4L446.2 18.5M496.2 14.4L496.2 19.1M446.2 14.4L496.2 14.4M525.3 24.7L525.3 25.4M528.2 24.7L528.2 25.4M525.3 24.7L528.2 24.7M526.8 24.0L526.8 24.7M531.0 24.0L531.0 25.4M526.8 24.0L531.0 24.0M533.9 24.2L533.9 25.4M536.7 24.2L536.7 25.4M533.9 24.2L536.7 24.2M528.9 23.3L528.9 24.0M535.3 23.3L535.3 24.2M528.9 23.3L535.3 23.3M539.6 23.9L539.6 25.4M542.4 23.9L542.4 25.4M539.6 23.9L542.4 23.9M541.0 23.2L541.0 23.9M545.3 23.2L545.3 25.4M541.0 23.2L545.3 23.2M548.1 23.5L548.1 25.4M551.0 23.5L551.0 25.4M548.1 23.5L551.0 23.5M549.6 22.8L549.6 23.5M553.8 22.8L553.8 25.4M549.6 22.8L553.8 22.8M556.7 23.8L556.7 25.4M559.5 23.8L559.5 25.4M556.7 23.8L559.5 23.8M551.7 22.1L551.7 22.8M558.1 22.1L558.1 23.8M551.7 22.1L558.1 22.1M543.1 21.4L543.1 23.2M554.9 21.4L554.9 22.1M543.1 21.4L554.9 21.4M562.4 24.0L562.4 25.4M565.2 24.0L565.2 25.4M562.4 24.0L565.2 24.0M568.1 24.1L568.1 25.4M570.9 24.1L570.9 25.4M568.1 24.1L570.9 24.1M563.8 23.3L563.8 24.0M569.5 23.3L569.5 24.1M563.8 23.3L569.5 23.3M576.6 23.6L576.6 25.4M579.5 23.6L579.5 25.4M576.6 23.6L579.5 23.6M573.8 22.9L573.8 25.4M578.1 22.9L578.1 23.6M573.8 22.9L578.1 22.9M582.3 24.1L582.3 25.4M585.2 24.1L585.2 25.4M582.3 24.1L585.2 24.1M575.9 22.2L575.9 22.9M583.8 22.2L583.8 24.1M575.9 22.2L583.8 22.2M566.7 21.5L566.7 23.3M579.9 21.5L579.9 22.2M566.7 21.5L579.9 21.5M549.0 18.5L549.0 21.4M573.3 18.5L573.3 21.5M549.0 18.5L573.3 18.5M590.9 23.9L590.9 25.4M593.7 23.9L593.7 25.4M590.9 23.9L593.7 23.9M588.0 22.9L588.0 25.4M592.3 22.9L592.3 23.9M588.0 22.9L592.3 22.9M599.5 23.6L599.5 25.4M602.3 23.6L602.3 25.4M599.5 23.6L602.3 23.6M596.6 22.9L596.6 25.4M600.9 22.9L600.9 23.6M596.6 22.9L600.9 22.9M605.2 24.4L605.2 25.4M608.0 24.4L608.0 25.4M605.2 24.4L608.0 24.4M598.7 22.2L598.7 22.9M606.6 22.2L606.6 24.4M598.7 22.2L606.6 22.2M590.2 21.5L590.2 22.9M602.7 21.5L602.7 22.2M590.2 21.5L602.7 21.5M610.9 23.7L610.9 25.4M613.7 23.7L613.7 25.4M610.9 23.7L613.7 23.7M612.3 23.0L612.3 23.7M616.6 23.0L616.6 25.4M612.3 23.0L616.6 23.0M614.4 22.3L614.4 23.0M619.4 22.3L619.4 25.4M614.4 22.3L619.4 22.3M616.9 21.6L616.9 22.3M622.3 21.6L622.3 25.4M616.9 21.6L622.3 21.6M596.4 20.8L596.4 21.5M619.6 20.8L619.6 21.6M596.4 20.8L619.6 20.8M561.1 17.8L561.1 18.5M608.0 17.8L608.0 20.8M561.1 17.8L608.0 17.8M532.1 11.4L532.1 23.3M584.6 11.4L584.6 17.8M532.1 11.4L584.6 11.4M471.2 1.4L471.2 14.4M558.3 1.4L558.3 11.4M471.2 1.4L558.3 1.4M399.8 38.9L400.5 38.9M399.8 43.5L400.5 43.5M399.8 38.9L399.8 43.5M399.3 48.0L400.5 48.0M399.3 52.6L400.5 52.6M399.3 48.0L399.3 52.6M398.6 41.2L399.8 41.2M398.6 50.3L399.3 50.3M398.6 41.2L398.6 50.3M399.4 57.2L400.5 57.2M399.4 61.7L400.5 61.7M399.4 57.2L399.4 61.7M398.7 59.4L399.4 59.4M398.7 66.3L400.5 66.3M398.7 59.4L398.7 66.3M397.9 45.7L398.6 45.7M397.9 62.9L398.7 62.9M397.9 45.7L397.9 62.9M399.6 70.9L400.5 70.9M399.6 75.4L400.5 75.4M399.6 70.9L399.6 75.4M399.8 80.0L400.5 80.0M399.8 84.6L400.5 84.6M399.8 80.0L399.8 84.6M398.9 73.1L399.6 73.1M398.9 82.3L399.8 82.3M398.9 73.1L398.9 82.3M399.8 89.1L400.5 89.1M399.8 93.7L400.5 93.7M399.8 89.1L399.8 93.7M398.0 77.7L398.9 77.7M398.0 91.4L399.8 91.4M398.0 77.7L398.0 91.4M399.8 98.3L400.5 98.3M399.8 102.8L400.5 102.8M399.8 98.3L399.8 102.8M399.8 107.4L400.5 107.4M399.8 112.0L400.5 112.0M399.8 107.4L399.8 112.0M399.1 100.6L399.8 100.6M399.1 109.7L399.8 109.7M399.1 100.6L399.1 109.7M399.6 116.5L400.5 116.5M399.6 121.1L400.5 121.1M399.6 116.5L399.6 121.1M399.8 130.2L400.5 130.2M399.8 134.8L400.5 134.8M399.8 130.2L399.8 134.8M399.1 125.7L400.5 125.7M399.1 132.5L399.8 132.5M399.1 125.7L399.1 132.5M398.4 118.8L399.6 118.8M398.4 129.1L399.1 129.1M398.4 118.8L398.4 129.1M397.7 105.1L399.1 105.1M397.7 124.0L398.4 124.0M397.7 105.1L397.7 124.0M396.9 84.6L398.0 84.6M396.9 114.5L397.7 114.5M396.9 84.6L396.9 114.5M399.7 143.9L400.5 143.9M399.7 148.5L400.5 148.5M399.7 143.9L399.7 148.5M399.0 139.4L400.5 139.4M399.0 146.2L399.7 146.2M399.0 139.4L399.0 146.2M398.3 142.8L399.0 142.8M398.3 153.1L400.5 153.1M398.3 142.8L398.3 153.1M399.4 157.7L400.5 157.7M399.4 162.2L400.5 162.2M399.4 157.7L399.4 162.2M398.7 159.9L399.4 159.9M398.7 166.8L400.5 166.8M398.7 159.9L398.7 166.8M397.6 147.9L398.3 147.9M397.6 163.4L398.7 163.4M397.6 147.9L397.6 163.4M399.4 180.5L400.5 180.5M399.4 185.1L400.5 185.1M399.4 180.5L399.4 185.1M398.7 182.8L399.4 182.8M398.7 189.6L400.5 189.6M398.7 182.8L398.7 189.6M398.0 175.9L400.5 175.9M398.0 186.2L398.7 186.2M398.0 175.9L398.0 186.2M397.3 171.4L400.5 171.4M397.3 181.1L398.0 181.1M397.3 171.4L397.3 181.1M399.6 194.2L400.5 194.2M399.6 198.8L400.5 198.8M399.6 194.2L399.6 198.8M396.6 176.2L397.3 176.2M396.6 196.5L399.6 196.5M396.6 176.2L396.6 196.5M399.8 203.3L400.5 203.3M399.8 207.9L400.5 207.9M399.8 203.3L399.8 207.9M398.9 205.6L399.8 205.6M398.9 212.5L400.5 212.5M398.9 205.6L398.9 212.5M399.5 217.0L400.5 217.0M399.5 221.6L400.5 221.6M399.5 217.0L399.5 221.6M398.2 209.0L398.9 209.0M398.2 219.3L399.5 219.3M398.2 209.0L398.2 219.3M395.9 186.3L396.6 186.3M395.9 214.2L398.2 214.2M395.9 186.3L395.9 214.2M395.2 155.7L397.6 155.7M395.2 200.3L395.9 200.3M395.2 155.7L395.2 200.3M394.5 99.6L396.9 99.6M394.5 178.0L395.2 178.0M394.5 99.6L394.5 178.0M393.3 54.3L397.9 54.3M393.3 138.8L394.5 138.8M393.3 54.3L393.3 138.8M399.8 230.7L400.5 230.7M399.8 235.3L400.5 235.3M399.8 230.7L399.8 235.3M399.1 226.2L400.5 226.2M399.1 233.0L399.8 233.0M399.1 226.2L399.1 233.0M399.6 239.9L400.5 239.9M399.6 244.4L400.5 244.4M399.6 239.9L399.6 244.4M398.4 229.6L399.1 229.6M398.4 242.2L399.6 242.2M398.4 229.6L398.4 242.2M399.4 249.0L400.5 249.0M399.4 253.6L400.5 253.6M399.4 249.0L399.4 253.6M398.7 251.3L399.4 251.3M398.7 258.1L400.5 258.1M398.7 251.3L398.7 258.1M398.0 254.7L398.7 254.7M398.0 262.7L400.5 262.7M398.0 254.7L398.0 262.7M397.3 235.9L398.4 235.9M397.3 258.7L398.0 258.7M397.3 235.9L397.3 258.7M399.4 267.3L400.5 267.3M399.4 271.9L400.5 271.9M399.4 267.3L399.4 271.9M398.7 269.6L399.4 269.6M398.7 276.4L400.5 276.4M398.7 269.6L398.7 276.4M399.8 281.0L400.5 281.0M399.8 285.6L400.5 285.6M399.8 281.0L399.8 285.6M399.8 290.1L400.5 290.1M399.8 294.7L400.5 294.7M399.8 290.1L399.8 294.7M398.8 283.3L399.8 283.3M398.8 292.4L399.8 292.4M398.8 283.3L398.8 292.4M398.0 273.0L398.7 273.0M398.0 287.8L398.8 287.8M398.0 273.0L398.0 287.8M399.8 299.3L400.5 299.3M399.8 303.8L400.5 303.8M399.8 299.3L399.8 303.8M399.1 313.0L400.5 313.0M399.1 317.5L400.5 317.5M399.1 313.0L399.1 317.5M398.4 308.4L400.5 308.4M398.4 315.2L399.1 315.2M398.4 308.4L398.4 315.2M397.7 301.5L399.8 301.5M397.7 311.8L398.4 311.8M397.7 301.5L397.7 311.8M396.2 280.4L398.0 280.4M396.2 306.7L397.7 306.7M396.2 280.4L396.2 306.7M389.9 247.3L397.3 247.3M389.9 293.6L396.2 293.6M389.9 247.3L389.9 293.6M369.7 96.5L393.3 96.5M369.7 270.4L389.9 270.4M369.7 96.5L369.7 270.4"/>
<text transform="translate(400.4,322.5) rotate(90)" font-size="9.4" fill="#111" font-weight="bold">modification</text>
<text x="418.50" y="340.20" font-size="9.6" fill="#111" text-anchor="start" font-weight="bold" >t(4;14)</text>
<rect x="419.10" y="344.10" width="8.10" height="5.90" fill="#7b52a6" />
<rect x="419.10" y="352.70" width="8.10" height="6.10" fill="#e4edf3" />
<text x="429.40" y="349.90" font-size="8.7" fill="#1a1a1a" text-anchor="start" font-weight="normal" >t(4;14)</text>
<text x="429.40" y="358.60" font-size="8.7" fill="#1a1a1a" text-anchor="start" font-weight="normal" >Non-t(4;14)</text>
<text x="483.00" y="340.20" font-size="9.6" fill="#111" text-anchor="start" font-weight="bold" >gain1q</text>
<rect x="483.00" y="344.10" width="8.20" height="5.90" fill="#0e8c48" />
<rect x="483.00" y="352.70" width="8.20" height="6.10" fill="#e4edf3" />
<text x="493.40" y="349.90" font-size="8.4" fill="#1a1a1a" text-anchor="start" font-weight="normal" >amp/gain 1q</text>
<text x="493.40" y="358.60" font-size="8.4" fill="#1a1a1a" text-anchor="start" font-weight="normal" >No gain1q</text>
<text x="549.60" y="339.20" font-size="9.95" fill="#111" text-anchor="start" font-weight="bold" >modification</text>
<rect x="549.90" y="343.30" width="7.30" height="6.80" fill="#e3001b" />
<rect x="549.90" y="350.10" width="7.30" height="6.80" fill="#1f4e9c" />
<rect x="549.90" y="356.90" width="7.30" height="6.80" fill="#c4c4c4" />
<text x="559.00" y="349.30" font-size="8.3" fill="#1a1a1a" text-anchor="start" font-weight="normal" >2-O-methylation</text>
<text x="559.00" y="356.10" font-size="8.3" fill="#1a1a1a" text-anchor="start" font-weight="normal" >pseudouridylation</text>
<text x="559.00" y="362.90" font-size="8.3" fill="#1a1a1a" text-anchor="start" font-weight="normal" >unknown</text>
<rect x="75.20" y="264.90" width="20.50" height="50.71" fill="#c9373f" />
<rect x="75.20" y="315.61" width="20.50" height="62.49" fill="#747474" />
<rect x="105.80" y="264.90" width="20.50" height="5.55" fill="#c9373f" />
<rect x="105.80" y="270.45" width="20.50" height="107.65" fill="#747474" />
<line x1="65.20" y1="264.30" x2="65.20" y2="378.80" stroke="#111" stroke-width="1.3" />
<line x1="64.60" y1="378.00" x2="136.40" y2="378.00" stroke="#111" stroke-width="1.3" />
<line x1="60.30" y1="378.10" x2="65.20" y2="378.10" stroke="#111" stroke-width="1.0" />
<line x1="62.30" y1="366.78" x2="65.20" y2="366.78" stroke="#111" stroke-width="1.0" />
<line x1="62.30" y1="355.46" x2="65.20" y2="355.46" stroke="#111" stroke-width="1.0" />
<line x1="62.30" y1="344.14" x2="65.20" y2="344.14" stroke="#111" stroke-width="1.0" />
<line x1="62.30" y1="332.82" x2="65.20" y2="332.82" stroke="#111" stroke-width="1.0" />
<line x1="60.30" y1="321.50" x2="65.20" y2="321.50" stroke="#111" stroke-width="1.0" />
<line x1="62.30" y1="310.18" x2="65.20" y2="310.18" stroke="#111" stroke-width="1.0" />
<line x1="62.30" y1="298.86" x2="65.20" y2="298.86" stroke="#111" stroke-width="1.0" />
<line x1="62.30" y1="287.54" x2="65.20" y2="287.54" stroke="#111" stroke-width="1.0" />
<line x1="62.30" y1="276.22" x2="65.20" y2="276.22" stroke="#111" stroke-width="1.0" />
<line x1="60.30" y1="264.90" x2="65.20" y2="264.90" stroke="#111" stroke-width="1.0" />
<line x1="85.45" y1="378.00" x2="85.45" y2="382.40" stroke="#111" stroke-width="1.2" />
<line x1="116.05" y1="378.00" x2="116.05" y2="382.40" stroke="#111" stroke-width="1.2" />
<text x="59.20" y="381.60" font-size="9.8" fill="#1a1a1a" text-anchor="end" font-weight="normal" >0</text>
<text x="59.20" y="325.00" font-size="9.8" fill="#1a1a1a" text-anchor="end" font-weight="normal" >50</text>
<text x="59.20" y="268.40" font-size="9.8" fill="#1a1a1a" text-anchor="end" font-weight="normal" >100</text>
<text x="61.30" y="395.50" font-size="9.66" fill="#1a1a1a" text-anchor="start" font-weight="normal" >snoRNAs</text>
<text x="61.30" y="406.90" font-size="9.66" fill="#1a1a1a" text-anchor="start" font-weight="normal" >on 1q</text>
<text x="106.90" y="395.50" font-size="9.66" fill="#1a1a1a" text-anchor="start" font-weight="normal" >snoRNAs</text>
<text x="106.90" y="406.90" font-size="9.66" fill="#1a1a1a" text-anchor="start" font-weight="normal" >outside 1q</text>
<text transform="translate(39.6,321.4) rotate(-90)" font-size="9.66" fill="#1a1a1a" text-anchor="middle">Percentage of snoRNAs, %</text>
<rect x="160.90" y="268.90" width="13.00" height="7.30" fill="#747474" />
<rect x="160.90" y="284.60" width="13.00" height="7.30" fill="#c9373f" />
<text x="179.70" y="275.90" font-size="9.5" fill="#1a1a1a" text-anchor="start" font-weight="normal" >Non-OE</text>
<text x="179.70" y="291.60" font-size="9.5" fill="#1a1a1a" text-anchor="start" font-weight="normal" >OE</text>
<rect x="58.20" y="419.70" width="46.70" height="10.70" fill="#d5e5f3" />
<text x="81.55" y="427.45" font-size="9.8" fill="#1a1a1a" text-anchor="middle" font-weight="bold" >chr1</text>
<rect x="106.10" y="419.70" width="46.00" height="10.70" fill="#e5e5e5" />
<text x="129.10" y="427.45" font-size="9.8" fill="#1a1a1a" text-anchor="middle" font-weight="bold" >2</text>
<rect x="153.30" y="419.70" width="33.40" height="10.70" fill="#d5e5f3" />
<text x="170.00" y="427.45" font-size="9.8" fill="#1a1a1a" text-anchor="middle" font-weight="bold" >3</text>
<rect x="188.20" y="419.70" width="34.60" height="10.70" fill="#e5e5e5" />
<text x="205.50" y="427.45" font-size="9.8" fill="#1a1a1a" text-anchor="middle" font-weight="bold" >4</text>
<rect x="223.90" y="419.70" width="34.40" height="10.70" fill="#d5e5f3" />
<text x="241.10" y="427.45" font-size="9.8" fill="#1a1a1a" text-anchor="middle" font-weight="bold" >5</text>
<rect x="259.90" y="419.70" width="32.20" height="10.70" fill="#e5e5e5" />
<text x="276.00" y="427.45" font-size="9.8" fill="#1a1a1a" text-anchor="middle" font-weight="bold" >6</text>
<rect x="293.30" y="419.70" width="25.70" height="10.70" fill="#d5e5f3" />
<text x="306.15" y="427.45" font-size="9.8" fill="#1a1a1a" text-anchor="middle" font-weight="bold" >7</text>
<rect x="319.80" y="419.70" width="25.70" height="10.70" fill="#e5e5e5" />
<text x="332.65" y="427.45" font-size="9.8" fill="#1a1a1a" text-anchor="middle" font-weight="bold" >8</text>
<rect x="346.90" y="419.70" width="25.70" height="10.70" fill="#d5e5f3" />
<text x="359.75" y="427.45" font-size="9.8" fill="#1a1a1a" text-anchor="middle" font-weight="bold" >9</text>
<rect x="373.80" y="419.70" width="22.20" height="10.70" fill="#e5e5e5" />
<text x="384.90" y="427.45" font-size="9.8" fill="#1a1a1a" text-anchor="middle" font-weight="bold" >10</text>
<rect x="397.10" y="419.70" width="25.70" height="10.70" fill="#d5e5f3" />
<text x="409.95" y="427.45" font-size="9.8" fill="#1a1a1a" text-anchor="middle" font-weight="bold" >11</text>
<rect x="424.00" y="419.70" width="25.00" height="10.70" fill="#e5e5e5" />
<text x="436.50" y="427.45" font-size="9.8" fill="#1a1a1a" text-anchor="middle" font-weight="bold" >12</text>
<rect x="450.40" y="419.70" width="15.20" height="10.70" fill="#d5e5f3" />
<text x="458.00" y="427.45" font-size="9.8" fill="#1a1a1a" text-anchor="middle" font-weight="bold" >13</text>
<rect x="466.90" y="419.70" width="15.90" height="10.70" fill="#e5e5e5" />
<text x="474.85" y="427.45" font-size="9.8" fill="#1a1a1a" text-anchor="middle" font-weight="bold" >14</text>
<rect x="483.90" y="419.70" width="14.50" height="10.70" fill="#d5e5f3" />
<text x="491.15" y="427.45" font-size="9.8" fill="#1a1a1a" text-anchor="middle" font-weight="bold" >15</text>
<rect x="500.00" y="419.70" width="19.00" height="10.70" fill="#e5e5e5" />
<text x="509.50" y="427.45" font-size="9.8" fill="#1a1a1a" text-anchor="middle" font-weight="bold" >16</text>
<rect x="520.10" y="419.70" width="14.10" height="10.70" fill="#d5e5f3" />
<text x="527.15" y="427.45" font-size="9.8" fill="#1a1a1a" text-anchor="middle" font-weight="bold" >17</text>
<rect x="535.30" y="419.70" width="14.00" height="10.70" fill="#e5e5e5" />
<text x="542.30" y="427.45" font-size="9.8" fill="#1a1a1a" text-anchor="middle" font-weight="bold" >18</text>
<rect x="551.00" y="419.70" width="14.70" height="10.70" fill="#d5e5f3" />
<text x="558.35" y="427.45" font-size="9.8" fill="#1a1a1a" text-anchor="middle" font-weight="bold" >19</text>
<rect x="567.00" y="419.70" width="14.30" height="10.70" fill="#e5e5e5" />
<text x="574.15" y="427.45" font-size="9.8" fill="#1a1a1a" text-anchor="middle" font-weight="bold" >20</text>
<rect x="582.70" y="419.70" width="15.30" height="10.70" fill="#d5e5f3" />
<text x="590.35" y="427.45" font-size="9.8" fill="#1a1a1a" text-anchor="middle" font-weight="bold" >21</text>
<rect x="599.20" y="419.70" width="14.10" height="10.70" fill="#e5e5e5" />
<text x="606.25" y="427.45" font-size="9.8" fill="#1a1a1a" text-anchor="middle" font-weight="bold" >22</text>
<rect x="614.40" y="419.70" width="28.60" height="10.70" fill="#d5e5f3" />
<text x="628.70" y="427.45" font-size="9.8" fill="#1a1a1a" text-anchor="middle" font-weight="bold" >X</text>
<rect x="58.20" y="542.40" width="46.70" height="10.30" fill="#d5e5f3" />
<text x="81.55" y="549.95" font-size="9.8" fill="#1a1a1a" text-anchor="middle" font-weight="bold" >chr1</text>
<rect x="106.10" y="542.40" width="45.50" height="10.30" fill="#e5e5e5" />
<text x="128.85" y="549.95" font-size="9.8" fill="#1a1a1a" text-anchor="middle" font-weight="bold" >2</text>
<rect x="152.90" y="542.40" width="33.70" height="10.30" fill="#d5e5f3" />
<text x="169.75" y="549.95" font-size="9.8" fill="#1a1a1a" text-anchor="middle" font-weight="bold" >3</text>
<rect x="188.00" y="542.40" width="34.60" height="10.30" fill="#e5e5e5" />
<text x="205.30" y="549.95" font-size="9.8" fill="#1a1a1a" text-anchor="middle" font-weight="bold" >4</text>
<rect x="223.90" y="542.40" width="34.40" height="10.30" fill="#d5e5f3" />
<text x="241.10" y="549.95" font-size="9.8" fill="#1a1a1a" text-anchor="middle" font-weight="bold" >5</text>
<rect x="259.90" y="542.40" width="32.20" height="10.30" fill="#e5e5e5" />
<text x="276.00" y="549.95" font-size="9.8" fill="#1a1a1a" text-anchor="middle" font-weight="bold" >6</text>
<rect x="293.30" y="542.40" width="25.70" height="10.30" fill="#d5e5f3" />
<text x="306.15" y="549.95" font-size="9.8" fill="#1a1a1a" text-anchor="middle" font-weight="bold" >7</text>
<rect x="319.80" y="542.40" width="25.70" height="10.30" fill="#e5e5e5" />
<text x="332.65" y="549.95" font-size="9.8" fill="#1a1a1a" text-anchor="middle" font-weight="bold" >8</text>
<rect x="346.90" y="542.40" width="25.70" height="10.30" fill="#d5e5f3" />
<text x="359.75" y="549.95" font-size="9.8" fill="#1a1a1a" text-anchor="middle" font-weight="bold" >9</text>
<rect x="373.80" y="542.40" width="22.20" height="10.30" fill="#e5e5e5" />
<text x="384.90" y="549.95" font-size="9.8" fill="#1a1a1a" text-anchor="middle" font-weight="bold" >10</text>
<rect x="397.10" y="542.40" width="25.70" height="10.30" fill="#d5e5f3" />
<text x="409.95" y="549.95" font-size="9.8" fill="#1a1a1a" text-anchor="middle" font-weight="bold" >11</text>
<rect x="424.00" y="542.40" width="25.50" height="10.30" fill="#e5e5e5" />
<text x="436.75" y="549.95" font-size="9.8" fill="#1a1a1a" text-anchor="middle" font-weight="bold" >12</text>
<rect x="450.70" y="542.40" width="16.10" height="10.30" fill="#d5e5f3" />
<text x="458.75" y="549.95" font-size="9.8" fill="#1a1a1a" text-anchor="middle" font-weight="bold" >13</text>
<rect x="467.90" y="542.40" width="14.30" height="10.30" fill="#e5e5e5" />
<text x="475.05" y="549.95" font-size="9.8" fill="#1a1a1a" text-anchor="middle" font-weight="bold" >14</text>
<rect x="483.60" y="542.40" width="15.40" height="10.30" fill="#d5e5f3" />
<text x="491.30" y="549.95" font-size="9.8" fill="#1a1a1a" text-anchor="middle" font-weight="bold" >15</text>
<rect x="500.00" y="542.40" width="16.90" height="10.30" fill="#e5e5e5" />
<text x="508.45" y="549.95" font-size="9.8" fill="#1a1a1a" text-anchor="middle" font-weight="bold" >16</text>
<rect x="518.00" y="542.40" width="15.70" height="10.30" fill="#d5e5f3" />
<text x="525.85" y="549.95" font-size="9.8" fill="#1a1a1a" text-anchor="middle" font-weight="bold" >17</text>
<rect x="534.80" y="542.40" width="14.30" height="10.30" fill="#e5e5e5" />
<text x="541.95" y="549.95" font-size="9.8" fill="#1a1a1a" text-anchor="middle" font-weight="bold" >18</text>
<rect x="550.20" y="542.40" width="15.00" height="10.30" fill="#d5e5f3" />
<text x="557.70" y="549.95" font-size="9.8" fill="#1a1a1a" text-anchor="middle" font-weight="bold" >19</text>
<rect x="565.90" y="542.40" width="15.40" height="10.30" fill="#e5e5e5" />
<text x="573.60" y="549.95" font-size="9.8" fill="#1a1a1a" text-anchor="middle" font-weight="bold" >20</text>
<rect x="583.00" y="542.40" width="14.40" height="10.30" fill="#d5e5f3" />
<text x="590.20" y="549.95" font-size="9.8" fill="#1a1a1a" text-anchor="middle" font-weight="bold" >21</text>
<rect x="598.40" y="542.40" width="15.10" height="10.30" fill="#e5e5e5" />
<text x="605.95" y="549.95" font-size="9.8" fill="#1a1a1a" text-anchor="middle" font-weight="bold" >22</text>
<rect x="614.50" y="542.40" width="29.40" height="10.30" fill="#d5e5f3" />
<text x="629.20" y="549.95" font-size="9.8" fill="#1a1a1a" text-anchor="middle" font-weight="bold" >X</text>
<rect x="645.60" y="542.40" width="13.30" height="10.30" fill="#e5e5e5" />
<text x="652.25" y="549.95" font-size="9.8" fill="#1a1a1a" text-anchor="middle" font-weight="bold" >Y</text>
<path fill="none" stroke="#bfbfbf" stroke-width="2.20" stroke-linecap="round" d="M86.3 484.4h1.4M91.3 491.9h1.4M60.8 494.4h1.4M98.2 470.6h1.4M75.9 481.3h1.4M77.1 482.0h1.4M96.7 483.8h1.4M59.7 479.2h1.4M68.6 481.3h1.4M72.0 471.7h1.4M82.7 485.3h1.4M89.2 486.7h1.4M97.9 485.3h1.4M65.8 469.3h1.4M84.7 479.0h1.4M80.2 488.0h1.4M80.2 484.4h1.4M60.6 485.5h1.4M95.8 476.2h1.4M84.4 493.1h1.4M86.3 481.9h1.4M94.7 484.6h1.4M81.5 481.4h1.4M84.8 486.1h1.4M75.3 485.3h1.4M68.5 479.5h1.4M75.1 481.9h1.4M63.5 481.1h1.4M72.7 482.1h1.4M72.8 490.0h1.4M90.4 478.7h1.4M61.0 481.1h1.4M74.3 484.0h1.4M101.5 477.5h1.4M93.9 485.5h1.4M83.7 481.4h1.4M98.0 486.3h1.4M62.1 482.6h1.4M65.6 478.5h1.4M81.9 486.9h1.4M89.1 485.5h1.4M98.2 490.2h1.4M81.0 485.0h1.4M93.1 482.4h1.4M75.1 482.3h1.4M135.4 490.9h1.4M122.6 484.9h1.4M139.8 487.2h1.4M119.7 478.4h1.4M107.7 486.0h1.4M117.8 486.2h1.4M134.7 488.0h1.4M122.0 488.1h1.4M122.0 489.3h1.4M144.1 488.2h1.4M129.2 494.4h1.4M114.2 479.0h1.4M136.5 492.3h1.4M138.2 480.6h1.4M135.4 477.7h1.4M133.6 483.1h1.4M108.4 489.8h1.4M125.9 485.7h1.4M133.9 474.5h1.4M114.2 482.5h1.4M127.7 485.3h1.4M124.8 494.3h1.4M145.5 467.5h1.4M143.5 479.8h1.4M148.1 488.7h1.4M120.0 485.4h1.4M119.6 479.3h1.4M112.7 488.5h1.4M127.0 481.1h1.4M123.4 486.7h1.4M111.1 483.6h1.4M135.3 486.7h1.4M130.1 481.5h1.4M180.5 488.0h1.4M169.1 485.7h1.4M175.5 490.0h1.4M172.1 478.6h1.4M163.3 484.0h1.4M163.5 483.2h1.4M158.6 478.0h1.4M161.6 493.9h1.4M154.7 487.2h1.4M177.7 484.7h1.4M162.3 477.1h1.4M172.5 473.8h1.4M173.6 496.6h1.4M170.3 488.1h1.4M163.2 488.5h1.4M176.6 484.9h1.4M155.4 484.1h1.4M180.8 479.5h1.4M154.7 483.2h1.4M175.5 488.3h1.4M168.7 480.6h1.4M179.8 486.1h1.4M163.2 483.3h1.4M175.1 485.3h1.4M198.1 482.3h1.4M204.1 492.9h1.4M204.7 485.2h1.4M214.4 488.9h1.4M191.8 475.0h1.4M202.6 470.3h1.4M190.7 482.4h1.4M218.8 486.4h1.4M193.4 486.4h1.4M208.2 475.1h1.4M194.2 474.7h1.4M197.9 484.9h1.4M228.6 495.1h1.4M243.4 481.2h1.4M253.9 484.8h1.4M229.6 483.2h1.4M240.5 480.3h1.4M233.0 486.3h1.4M232.8 484.0h1.4M232.1 488.1h1.4M247.7 481.7h1.4M227.5 479.1h1.4M227.7 480.7h1.4M252.0 480.8h1.4M270.2 483.7h1.4M262.4 485.0h1.4M288.2 474.5h1.4M264.9 486.6h1.4M271.1 483.7h1.4M270.9 480.3h1.4M264.8 481.1h1.4M273.3 489.2h1.4M275.8 488.5h1.4M272.3 493.3h1.4M266.5 493.6h1.4M270.9 483.4h1.4M269.5 475.5h1.4M274.2 487.7h1.4M279.7 476.5h1.4M274.4 480.4h1.4M264.1 481.2h1.4M261.9 490.2h1.4M270.8 493.7h1.4M274.4 487.6h1.4M264.3 485.7h1.4M310.5 487.2h1.4M298.8 469.5h1.4M310.0 483.5h1.4M298.4 485.1h1.4M304.7 482.7h1.4M298.2 483.7h1.4M310.4 482.7h1.4M304.6 490.4h1.4M295.0 482.0h1.4M312.9 493.7h1.4M299.6 488.2h1.4M296.3 490.6h1.4M305.3 482.8h1.4M295.4 481.6h1.4M313.7 488.2h1.4M298.6 486.1h1.4M299.5 490.0h1.4M311.9 473.0h1.4M296.0 477.3h1.4M308.2 487.9h1.4M311.4 482.5h1.4M323.7 475.4h1.4M340.6 483.3h1.4M333.1 480.2h1.4M326.6 479.5h1.4M323.7 489.6h1.4M338.5 485.3h1.4M335.6 485.0h1.4M336.4 478.1h1.4M340.4 482.5h1.4M329.2 485.3h1.4M320.8 486.7h1.4M321.4 472.1h1.4M363.2 476.8h1.4M365.9 485.0h1.4M350.8 481.1h1.4M362.9 482.7h1.4M349.3 495.2h1.4M366.2 490.5h1.4M353.6 483.1h1.4M350.7 484.3h1.4M355.9 480.3h1.4M369.7 477.9h1.4M361.4 486.0h1.4M357.5 486.1h1.4M355.3 487.5h1.4M351.7 491.5h1.4M369.4 486.0h1.4M357.2 490.7h1.4M360.7 494.5h1.4M352.7 482.8h1.4M352.4 488.5h1.4M353.3 485.8h1.4M353.4 474.2h1.4M386.4 484.9h1.4M377.5 489.5h1.4M388.9 488.1h1.4M392.0 482.0h1.4M383.6 490.6h1.4M376.5 492.7h1.4M375.2 478.0h1.4M386.2 488.8h1.4M387.7 484.4h1.4M389.5 492.4h1.4M375.9 488.6h1.4M382.6 483.2h1.4M378.7 484.2h1.4M375.3 483.2h1.4M392.4 489.6h1.4M419.6 473.8h1.4M398.9 471.8h1.4M413.4 480.2h1.4M402.7 490.2h1.4M418.0 483.2h1.4M406.8 464.3h1.4M414.8 487.0h1.4M405.2 484.5h1.4M416.8 478.8h1.4M403.6 481.1h1.4M404.0 490.8h1.4M412.1 490.6h1.4M403.1 478.7h1.4M417.6 481.8h1.4M407.4 488.9h1.4M404.8 481.5h1.4M411.5 488.4h1.4M410.4 484.6h1.4M407.7 484.9h1.4M405.4 476.1h1.4M409.6 481.4h1.4M406.6 482.7h1.4M417.9 490.0h1.4M398.1 489.3h1.4M400.6 486.2h1.4M410.9 480.3h1.4M405.3 483.7h1.4M410.3 486.8h1.4M417.4 481.1h1.4M402.4 487.1h1.4M401.9 473.8h1.4M403.6 492.4h1.4M408.4 471.5h1.4M427.9 471.9h1.4M445.3 477.8h1.4M431.4 469.0h1.4M441.1 482.7h1.4M444.5 480.5h1.4M441.5 482.3h1.4M445.3 477.5h1.4M434.0 471.8h1.4M436.9 477.9h1.4M428.9 479.5h1.4M434.7 490.7h1.4M426.8 483.1h1.4M425.5 486.1h1.4M445.6 482.9h1.4M429.2 485.2h1.4M425.3 494.2h1.4M443.0 485.2h1.4M425.5 480.2h1.4M443.5 478.1h1.4M439.2 488.0h1.4M434.1 487.7h1.4M442.5 482.1h1.4M425.3 487.9h1.4M428.6 485.8h1.4M461.2 474.9h1.4M456.3 484.5h1.4M459.2 480.2h1.4M453.4 485.3h1.4M461.9 483.6h1.4M453.7 477.6h1.4M475.3 483.0h1.4M470.8 485.5h1.4M469.0 489.0h1.4M476.0 485.6h1.4M479.0 481.3h1.4M474.8 484.4h1.4M471.7 481.9h1.4M474.7 492.4h1.4M469.6 491.0h1.4M469.6 498.9h1.4M474.2 483.2h1.4M477.7 467.9h1.4M477.5 482.2h1.4M473.4 482.2h1.4M475.0 482.6h1.4M475.1 487.7h1.4M478.4 486.5h1.4M476.4 484.9h1.4M475.6 474.5h1.4M472.5 497.1h1.4M470.5 481.3h1.4M485.7 480.0h1.4M494.9 481.5h1.4M487.9 482.2h1.4M493.5 492.2h1.4M489.0 486.7h1.4M494.0 486.8h1.4M494.2 473.8h1.4M485.2 471.8h1.4M491.7 478.8h1.4M490.5 483.1h1.4M490.9 491.7h1.4M492.4 485.8h1.4M502.5 484.7h1.4M509.2 487.4h1.4M514.8 485.4h1.4M506.0 487.0h1.4M505.9 481.4h1.4M508.6 486.5h1.4M510.8 480.7h1.4M508.1 485.2h1.4M515.3 486.8h1.4M507.2 487.4h1.4M514.3 481.7h1.4M506.5 472.8h1.4M508.6 492.6h1.4M510.8 486.0h1.4M512.5 474.2h1.4M513.3 486.9h1.4M508.5 484.4h1.4M511.2 491.5h1.4M510.4 474.7h1.4M506.4 488.5h1.4M503.2 478.7h1.4M505.9 490.6h1.4M515.4 496.9h1.4M512.6 483.2h1.4M508.7 480.6h1.4M502.3 481.4h1.4M505.8 480.2h1.4M514.7 480.9h1.4M503.3 483.8h1.4M503.0 486.0h1.4M509.2 487.0h1.4M515.0 482.7h1.4M504.7 493.1h1.4M528.4 484.8h1.4M524.5 482.1h1.4M521.2 488.7h1.4M526.3 492.6h1.4M526.7 480.8h1.4M529.7 484.2h1.4M528.0 479.4h1.4M523.0 492.3h1.4M522.6 483.4h1.4M526.3 487.3h1.4M524.2 490.6h1.4M528.3 485.7h1.4M523.1 479.4h1.4M526.6 477.5h1.4M524.6 490.6h1.4M522.1 487.7h1.4M522.1 482.0h1.4M529.9 484.0h1.4M524.4 484.2h1.4M528.7 490.9h1.4M524.7 480.3h1.4M526.8 485.4h1.4M522.5 489.5h1.4M520.5 482.2h1.4M521.0 490.8h1.4M526.4 482.0h1.4M531.1 482.1h1.4M530.8 486.4h1.4M523.3 487.3h1.4M520.6 487.0h1.4M526.7 488.5h1.4M524.3 484.4h1.4M529.9 487.9h1.4M529.0 481.0h1.4M522.3 489.2h1.4M522.9 480.0h1.4M526.3 476.4h1.4M521.4 483.2h1.4M526.3 490.3h1.4M541.6 478.4h1.4M541.8 487.6h1.4M541.3 478.8h1.4M541.4 485.0h1.4M556.6 495.0h1.4M557.8 483.3h1.4M561.0 479.1h1.4M557.9 487.9h1.4M557.9 479.5h1.4M559.6 483.3h1.4M559.5 483.3h1.4M560.1 492.3h1.4M559.4 488.6h1.4M558.1 491.1h1.4M557.5 484.0h1.4M556.7 477.8h1.4M560.4 485.2h1.4M557.7 482.6h1.4M557.2 481.7h1.4M556.2 472.2h1.4M560.4 495.9h1.4M561.2 475.7h1.4M557.7 481.6h1.4M560.7 486.1h1.4M561.1 487.5h1.4M561.2 474.7h1.4M560.3 479.4h1.4M559.4 481.8h1.4M571.6 484.5h1.4M576.8 488.2h1.4M573.0 484.9h1.4M571.5 485.9h1.4M577.2 484.8h1.4M574.1 484.9h1.4M571.9 495.9h1.4M576.6 479.6h1.4M571.4 487.0h1.4M575.2 481.0h1.4M577.7 475.5h1.4M576.8 486.8h1.4M575.6 503.2h1.4M573.0 481.6h1.4M577.0 480.9h1.4M589.5 484.7h1.4M589.4 483.1h1.4M589.5 483.1h1.4M603.8 492.3h1.4M602.2 490.3h1.4M602.3 486.4h1.4M602.1 486.4h1.4M602.7 487.1h1.4M605.6 478.5h1.4M604.6 482.5h1.4M603.3 486.1h1.4M602.5 481.0h1.4M606.0 486.6h1.4M603.6 475.3h1.4M605.1 495.0h1.4M603.9 484.4h1.4M605.9 481.5h1.4M603.1 487.2h1.4M626.8 486.5h1.4M615.9 481.9h1.4M627.9 488.6h1.4M628.0 479.2h1.4M623.8 487.5h1.4M619.2 483.0h1.4M622.1 484.4h1.4M616.2 482.3h1.4M620.7 473.9h1.4M615.8 482.4h1.4M623.1 482.5h1.4M616.7 475.4h1.4M638.8 476.9h1.4M635.3 484.1h1.4M616.7 481.9h1.4M633.6 484.5h1.4M637.0 484.0h1.4M633.9 484.9h1.4M624.9 491.5h1.4M622.3 481.4h1.4M618.1 490.7h1.4"/>
<path fill="none" stroke="#bfbfbf" stroke-width="1.90" stroke-linecap="round" d="M485.1 485.5h0.1M485.1 487.3h0.1M485.1 489.1h0.1M485.1 490.9h0.1M485.1 492.7h0.1M485.1 494.5h0.1M485.1 496.3h0.1M485.1 498.1h0.1M485.1 499.9h0.1M485.1 501.7h0.1M485.1 503.5h0.1M485.1 505.3h0.1"/>
<path fill="none" stroke="#e3000f" stroke-width="2.70" stroke-linecap="round" d="M64.7 468.1h1.2M75.2 503.1h1.2M89.4 435.7h1.2M89.4 444.9h1.2M89.4 454.7h1.2M89.4 456.8h1.2M89.4 458.6h1.2M89.4 460.4h1.2M87.2 464.8h1.2M89.7 464.8h1.2M97.5 464.2h1.2M100.4 464.0h1.2M111.3 461.5h1.2M112.0 466.3h1.2M119.7 462.6h1.2M119.7 465.2h1.2M122.3 469.0h1.2M124.5 504.0h1.2M147.9 501.8h1.2M161.0 449.9h1.2M159.9 532.4h1.2M184.2 473.8h1.2M179.6 506.2h1.2M188.6 449.5h1.2M248.6 466.3h1.2M256.2 469.0h1.2M265.9 469.6h1.2M265.9 472.7h1.2M296.1 454.3h1.2M323.4 470.7h1.2M328.5 447.0h1.2M324.5 524.8h1.2M369.9 441.6h1.2M433.9 472.9h1.2M413.7 502.4h1.2M467.4 516.9h1.2M491.1 454.3h1.2M484.5 506.8h1.2M484.5 509.3h1.2M484.5 512.1h1.2M519.8 505.5h1.2M539.3 448.1h1.2M539.3 461.9h1.2M555.3 460.4h1.2M556.4 463.0h1.2M562.5 467.9h1.2M571.0 458.0h1.2M571.0 466.3h1.2M571.0 470.3h1.2M589.2 467.4h1.2M604.5 453.8h1.2M604.5 471.1h1.2"/>
<line x1="58.40" y1="430.60" x2="58.40" y2="537.40" stroke="#111" stroke-width="1.4" />
<line x1="58.60" y1="536.80" x2="104.80" y2="536.80" stroke="#111" stroke-width="1.3" />
<line x1="106.20" y1="536.80" x2="152.00" y2="536.80" stroke="#111" stroke-width="1.3" />
<line x1="153.30" y1="536.80" x2="186.60" y2="536.80" stroke="#111" stroke-width="1.3" />
<line x1="188.20" y1="536.80" x2="222.70" y2="536.80" stroke="#111" stroke-width="1.3" />
<line x1="223.90" y1="536.80" x2="258.20" y2="536.80" stroke="#111" stroke-width="1.3" />
<line x1="259.90" y1="536.80" x2="292.00" y2="536.80" stroke="#111" stroke-width="1.3" />
<line x1="293.30" y1="536.80" x2="318.90" y2="536.80" stroke="#111" stroke-width="1.3" />
<line x1="319.80" y1="536.80" x2="345.40" y2="536.80" stroke="#111" stroke-width="1.3" />
<line x1="346.90" y1="536.80" x2="372.50" y2="536.80" stroke="#111" stroke-width="1.3" />
<line x1="373.80" y1="536.80" x2="395.90" y2="536.80" stroke="#111" stroke-width="1.3" />
<line x1="397.10" y1="536.80" x2="422.70" y2="536.80" stroke="#111" stroke-width="1.3" />
<line x1="424.00" y1="536.80" x2="448.90" y2="536.80" stroke="#111" stroke-width="1.3" />
<line x1="450.40" y1="536.80" x2="465.50" y2="536.80" stroke="#111" stroke-width="1.3" />
<line x1="466.90" y1="536.80" x2="482.70" y2="536.80" stroke="#111" stroke-width="1.3" />
<line x1="484.10" y1="536.80" x2="497.60" y2="536.80" stroke="#111" stroke-width="1.3" />
<line x1="500.90" y1="536.80" x2="517.80" y2="536.80" stroke="#111" stroke-width="1.3" />
<line x1="519.50" y1="536.80" x2="535.30" y2="536.80" stroke="#111" stroke-width="1.3" />
<line x1="538.80" y1="536.80" x2="545.20" y2="536.80" stroke="#111" stroke-width="1.3" />
<line x1="554.60" y1="536.80" x2="563.70" y2="536.80" stroke="#111" stroke-width="1.3" />
<line x1="569.90" y1="536.80" x2="580.20" y2="536.80" stroke="#111" stroke-width="1.3" />
<line x1="588.50" y1="536.80" x2="591.80" y2="536.80" stroke="#111" stroke-width="1.3" />
<line x1="601.00" y1="536.80" x2="608.60" y2="536.80" stroke="#111" stroke-width="1.3" />
<line x1="614.00" y1="536.80" x2="643.30" y2="536.80" stroke="#111" stroke-width="1.3" />
<text x="56.50" y="436.30" font-size="9.9" fill="#4d4d4d" text-anchor="end" font-weight="normal" >1.5</text>
<text x="56.50" y="453.40" font-size="9.9" fill="#4d4d4d" text-anchor="end" font-weight="normal" >1.0</text>
<text x="56.50" y="470.50" font-size="9.9" fill="#4d4d4d" text-anchor="end" font-weight="normal" >0.5</text>
<text x="56.50" y="487.60" font-size="9.9" fill="#4d4d4d" text-anchor="end" font-weight="normal" >0.0</text>
<text x="56.50" y="504.70" font-size="9.9" fill="#4d4d4d" text-anchor="end" font-weight="normal" >-0.5</text>
<text x="56.50" y="521.80" font-size="9.9" fill="#4d4d4d" text-anchor="end" font-weight="normal" >-1.0</text>
<text transform="translate(38.7,476.0) rotate(-90)" font-size="9.6" fill="#1a1a1a" text-anchor="middle">snoRNA_log<tspan font-size="6.4" dy="2.2">2</tspan><tspan dy="-2.2">FC</tspan></text>
<circle cx="608.4" cy="438.5" r="3.5" fill="#e3000f"/>
<circle cx="608.4" cy="448.4" r="3.5" fill="#c0c0c0"/>
<text x="615.50" y="442.00" font-size="9.6" fill="#1a1a1a" text-anchor="start" font-weight="normal" >P&lt;0.05</text>
<text x="615.50" y="451.90" font-size="9.6" fill="#1a1a1a" text-anchor="start" font-weight="normal" >P&gt;0.05</text>
<path fill="#bfbfbf" d="M60.6 610.9H103.4V620.1H60.6zM106.6 610.9H150.7V620.1H106.6zM153.9 610.9H185.8V620.1H153.9zM188.9 610.9H221.7V620.1H188.9zM224.8 610.9H257.4V620.1H224.8zM260.8 610.9H291.2V620.1H260.8zM294.2 610.9H318.1V620.1H294.2zM320.7 610.9H344.6V620.1H320.7zM347.8 610.9H371.7V620.1H347.8zM374.7 610.9H395.1V620.1H374.7zM398.0 610.9H421.9V620.1H398.0zM424.9 610.9H448.6V620.1H424.9zM451.6 610.9H465.9V620.1H451.6zM468.8 610.9H481.3V620.1H468.8zM484.5 610.9H498.1V620.1H484.5zM500.9 610.9H516.0V620.1H500.9zM521.1 610.9H534.2V620.1H521.1zM540.6 610.9H546.0V620.1H540.6zM549.6 610.9H559.2V620.1H549.6zM571.1 610.9H578.9V620.1H571.1zM589.0 610.9H591.4V620.1H589.0zM601.6 610.9H607.4V620.1H601.6zM615.1 610.9H648.6V620.1H615.1z"/>
<path fill="none" stroke="#bfbfbf" stroke-width="2.10" stroke-linecap="round" d="M67.5 610.4h1.1M69.6 610.3h1.1M94.3 620.6h1.1M60.8 611.1h1.1M99.5 609.5h1.1M70.3 620.6h1.1M89.5 609.5h1.1M97.1 611.1h1.1M62.1 609.6h1.1M87.6 610.8h1.1M61.6 621.5h1.1M79.5 609.5h1.1M77.3 620.0h1.1M96.7 620.1h1.1M63.8 620.6h1.1M97.8 622.5h1.1M65.7 610.2h1.1M74.8 620.2h1.1M97.6 610.5h1.1M81.5 608.7h1.1M102.0 611.0h1.1M67.3 609.2h1.1M60.8 621.5h1.1M69.9 610.6h1.1M83.8 620.1h1.1M75.1 610.6h1.1M75.1 611.1h1.1M99.1 620.5h1.1M93.0 611.0h1.1M82.3 620.1h1.1M77.6 621.2h1.1M97.4 610.8h1.1M81.7 620.6h1.1M84.0 610.9h1.1M94.1 610.4h1.1M96.1 610.9h1.1M62.1 620.0h1.1M74.7 620.2h1.1M101.6 610.6h1.1M87.7 611.0h1.1M61.8 620.7h1.1M67.0 610.6h1.1M85.7 608.9h1.1M80.5 620.1h1.1M82.9 610.1h1.1M76.6 621.1h1.1M100.3 619.9h1.1M71.0 610.2h1.1M71.3 611.1h1.1M66.4 621.7h1.1M64.6 620.4h1.1M93.4 621.2h1.1M96.7 610.3h1.1M74.1 610.2h1.1M97.6 620.7h1.1M69.0 621.7h1.1M85.8 619.9h1.1M79.9 620.0h1.1M77.2 620.3h1.1M100.8 610.6h1.1M91.7 620.5h1.1M98.1 610.6h1.1M94.7 610.7h1.1M85.7 611.0h1.1M100.9 610.8h1.1M92.2 621.3h1.1M63.3 610.2h1.1M73.9 611.0h1.1M65.1 620.7h1.1M94.2 610.0h1.1M81.7 620.5h1.1M80.2 609.7h1.1M97.1 619.9h1.1M78.7 620.2h1.1M72.1 611.0h1.1M70.5 610.0h1.1M74.3 621.7h1.1M64.2 609.2h1.1M67.8 610.7h1.1M93.1 609.0h1.1M70.9 610.1h1.1M95.0 620.8h1.1M67.4 620.3h1.1M66.7 620.8h1.1M64.0 610.4h1.1M91.6 620.5h1.1M101.9 620.1h1.1M74.6 620.5h1.1M71.5 620.2h1.1M95.8 620.6h1.1M98.1 620.0h1.1M90.4 621.4h1.1M99.8 610.2h1.1M88.3 620.5h1.1M88.4 608.9h1.1M69.6 609.5h1.1M128.0 610.8h1.1M121.0 609.6h1.1M107.0 620.0h1.1M142.0 620.6h1.1M111.9 620.6h1.1M136.9 611.1h1.1M128.1 611.0h1.1M147.5 620.0h1.1M121.5 610.4h1.1M128.7 620.7h1.1M125.5 621.3h1.1M126.2 620.0h1.1M139.9 620.2h1.1M107.2 610.7h1.1M120.7 610.3h1.1M126.2 622.4h1.1M113.2 620.3h1.1M111.4 620.5h1.1M133.6 619.9h1.1M136.7 620.6h1.1M110.3 620.1h1.1M117.1 609.8h1.1M131.4 622.0h1.1M141.2 609.6h1.1M144.6 610.0h1.1M144.9 610.9h1.1M114.5 620.0h1.1M126.9 610.4h1.1M129.4 620.1h1.1M127.7 610.2h1.1M123.4 610.4h1.1M110.5 610.9h1.1M141.9 619.9h1.1M119.9 620.4h1.1M118.2 610.9h1.1M138.6 611.0h1.1M128.6 620.7h1.1M130.5 610.3h1.1M137.8 620.7h1.1M120.8 619.9h1.1M139.7 620.5h1.1M108.0 620.2h1.1M113.7 609.4h1.1M143.1 611.0h1.1M117.3 610.2h1.1M118.7 620.0h1.1M136.3 610.5h1.1M145.4 620.6h1.1M119.0 620.4h1.1M149.4 610.6h1.1M130.7 619.9h1.1M131.4 610.9h1.1M115.7 620.4h1.1M145.0 609.1h1.1M148.6 610.3h1.1M115.7 621.1h1.1M134.8 609.4h1.1M139.7 609.5h1.1M108.7 619.9h1.1M111.4 610.5h1.1M108.7 610.2h1.1M119.3 610.4h1.1M144.1 610.3h1.1M137.9 620.4h1.1M118.6 620.4h1.1M148.7 609.3h1.1M126.5 610.6h1.1M121.6 610.6h1.1M134.6 611.0h1.1M110.6 620.4h1.1M106.8 609.4h1.1M136.4 620.4h1.1M108.5 620.5h1.1M130.4 621.1h1.1M143.0 620.4h1.1M114.1 610.7h1.1M124.3 610.9h1.1M140.6 610.1h1.1M138.7 619.9h1.1M119.7 610.3h1.1M139.7 620.3h1.1M148.0 611.1h1.1M126.4 620.4h1.1M148.8 609.8h1.1M145.8 620.9h1.1M145.5 620.6h1.1M141.7 620.0h1.1M139.5 611.1h1.1M129.0 620.1h1.1M147.4 610.9h1.1M110.5 610.2h1.1M123.7 610.1h1.1M127.6 610.8h1.1M139.4 620.7h1.1M119.6 620.4h1.1M120.1 610.3h1.1M139.6 610.7h1.1M129.5 620.0h1.1M145.7 620.7h1.1M157.3 610.4h1.1M162.6 620.9h1.1M180.9 621.9h1.1M175.1 621.5h1.1M166.9 620.8h1.1M165.4 611.1h1.1M154.5 620.7h1.1M155.0 609.9h1.1M163.6 610.7h1.1M175.7 620.6h1.1M173.2 620.3h1.1M162.0 610.6h1.1M158.0 621.4h1.1M171.4 610.6h1.1M172.9 619.9h1.1M178.2 620.0h1.1M178.0 609.6h1.1M165.6 611.0h1.1M168.9 610.4h1.1M161.4 611.0h1.1M168.6 610.6h1.1M183.1 620.0h1.1M184.0 619.9h1.1M158.4 610.9h1.1M182.0 620.4h1.1M168.6 620.2h1.1M168.8 620.8h1.1M180.5 620.4h1.1M174.6 610.5h1.1M163.1 609.7h1.1M172.4 609.7h1.1M180.7 620.4h1.1M170.2 610.6h1.1M160.7 610.5h1.1M176.8 621.0h1.1M171.6 610.3h1.1M167.9 621.1h1.1M179.5 609.8h1.1M158.5 620.4h1.1M164.4 622.6h1.1M167.0 610.2h1.1M167.1 619.9h1.1M161.5 611.0h1.1M179.2 620.7h1.1M176.3 610.8h1.1M167.6 610.0h1.1M160.8 621.4h1.1M183.9 620.1h1.1M172.7 610.0h1.1M159.2 609.8h1.1M177.5 609.9h1.1M170.9 610.5h1.1M160.0 610.6h1.1M171.5 621.7h1.1M165.4 610.9h1.1M172.4 620.7h1.1M165.9 609.6h1.1M157.5 620.5h1.1M154.9 621.4h1.1M175.3 609.9h1.1M166.2 620.5h1.1M156.3 621.5h1.1M174.8 610.4h1.1M172.8 620.9h1.1M172.1 620.0h1.1M177.9 621.2h1.1M173.8 611.1h1.1M157.9 620.4h1.1M173.2 621.2h1.1M163.1 610.5h1.1M176.0 610.4h1.1M177.5 609.0h1.1M218.0 621.0h1.1M209.8 620.1h1.1M199.4 620.7h1.1M211.1 610.7h1.1M205.5 610.2h1.1M189.8 610.7h1.1M205.6 620.0h1.1M219.8 610.0h1.1M203.7 610.9h1.1M201.7 620.1h1.1M193.0 620.0h1.1M190.0 609.8h1.1M217.9 609.1h1.1M214.5 610.5h1.1M214.9 621.2h1.1M216.6 621.0h1.1M207.6 620.4h1.1M208.5 610.7h1.1M191.7 620.4h1.1M202.3 609.2h1.1M196.7 609.6h1.1M214.2 620.1h1.1M202.7 620.2h1.1M189.3 620.3h1.1M219.7 611.1h1.1M191.8 610.1h1.1M197.6 620.2h1.1M213.6 620.1h1.1M217.9 609.5h1.1M198.5 610.9h1.1M189.1 608.9h1.1M197.9 610.5h1.1M216.0 611.0h1.1M218.2 611.0h1.1M208.9 610.0h1.1M216.3 620.1h1.1M191.6 610.3h1.1M198.6 610.6h1.1M192.7 609.4h1.1M213.3 620.7h1.1M200.8 620.8h1.1M194.7 620.0h1.1M217.2 620.1h1.1M191.6 610.6h1.1M207.1 610.3h1.1M194.5 620.1h1.1M198.6 610.4h1.1M215.1 609.5h1.1M196.6 620.5h1.1M215.1 621.0h1.1M220.4 620.0h1.1M192.6 610.5h1.1M191.3 609.2h1.1M210.8 620.7h1.1M194.6 610.9h1.1M190.8 620.2h1.1M209.6 619.9h1.1M193.3 620.2h1.1M204.7 621.5h1.1M192.2 610.6h1.1M215.4 619.9h1.1M199.3 610.1h1.1M189.7 622.3h1.1M191.0 620.9h1.1M203.6 620.2h1.1M202.4 620.5h1.1M205.6 619.9h1.1M212.8 610.0h1.1M217.6 619.9h1.1M193.5 610.4h1.1M219.9 620.6h1.1M214.9 620.1h1.1M200.0 621.5h1.1M209.2 611.0h1.1M241.4 610.2h1.1M231.0 620.0h1.1M248.4 609.4h1.1M254.4 620.2h1.1M230.1 619.9h1.1M227.5 610.9h1.1M238.5 609.9h1.1M237.4 620.2h1.1M242.1 621.4h1.1M230.4 620.1h1.1M241.2 609.5h1.1M249.8 610.6h1.1M233.6 611.0h1.1M230.9 610.3h1.1M230.1 611.1h1.1M256.1 620.7h1.1M227.6 610.8h1.1M241.2 620.4h1.1M250.5 610.4h1.1M244.5 610.5h1.1M226.8 609.8h1.1M255.0 610.0h1.1M233.3 610.4h1.1M242.0 611.1h1.1M230.6 620.4h1.1M231.2 621.0h1.1M249.4 620.0h1.1M252.4 621.6h1.1M254.9 620.0h1.1M241.4 621.0h1.1M228.0 610.6h1.1M230.5 610.4h1.1M228.8 620.6h1.1M247.2 621.2h1.1M248.2 611.1h1.1M252.1 610.2h1.1M240.7 620.0h1.1M247.4 611.1h1.1M245.6 620.7h1.1M246.7 609.8h1.1M251.2 609.9h1.1M231.9 611.1h1.1M235.2 620.6h1.1M239.7 610.7h1.1M255.3 619.9h1.1M237.5 620.1h1.1M244.8 621.9h1.1M248.2 610.1h1.1M245.2 620.5h1.1M254.6 610.8h1.1M234.8 621.2h1.1M252.8 620.5h1.1M227.1 610.6h1.1M231.3 621.8h1.1M226.3 622.2h1.1M232.0 611.1h1.1M255.0 610.9h1.1M253.0 620.0h1.1M233.7 610.2h1.1M236.2 610.5h1.1M241.5 609.3h1.1M252.0 608.9h1.1M247.8 621.3h1.1M235.5 610.6h1.1M243.1 610.2h1.1M237.8 611.0h1.1M249.8 609.1h1.1M250.3 609.9h1.1M251.1 621.1h1.1M242.8 622.4h1.1M240.0 620.2h1.1M228.5 620.1h1.1M235.4 620.4h1.1M253.2 608.6h1.1M262.9 622.2h1.1M265.3 621.3h1.1M267.4 620.2h1.1M269.3 621.0h1.1M275.1 620.6h1.1M287.8 621.5h1.1M282.2 610.5h1.1M276.5 609.8h1.1M263.8 609.7h1.1M261.8 620.4h1.1M271.0 620.4h1.1M263.8 620.6h1.1M274.0 620.8h1.1M283.2 610.9h1.1M272.2 609.0h1.1M272.9 620.0h1.1M281.1 620.1h1.1M269.8 610.7h1.1M279.6 620.8h1.1M263.5 611.0h1.1M287.8 621.0h1.1M281.7 620.2h1.1M289.0 609.7h1.1M281.5 621.0h1.1M274.4 622.1h1.1M274.9 621.2h1.1M276.6 610.1h1.1M261.3 620.6h1.1M268.4 610.9h1.1M270.7 610.1h1.1M265.2 620.6h1.1M268.9 610.7h1.1M287.2 620.4h1.1M268.7 610.3h1.1M287.7 610.3h1.1M288.2 620.3h1.1M265.0 611.1h1.1M288.3 610.0h1.1M288.7 621.8h1.1M279.0 620.6h1.1M278.1 621.2h1.1M282.2 610.5h1.1M288.8 610.0h1.1M277.5 611.0h1.1M263.4 621.4h1.1M264.5 620.2h1.1M262.9 610.2h1.1M276.6 620.7h1.1M277.5 620.0h1.1M280.9 609.4h1.1M261.9 610.7h1.1M276.4 620.5h1.1M277.0 621.9h1.1M280.3 621.4h1.1M281.6 610.9h1.1M281.6 620.3h1.1M271.7 610.7h1.1M283.1 610.6h1.1M286.5 620.3h1.1M267.0 621.5h1.1M283.5 620.8h1.1M264.8 621.1h1.1M288.8 620.8h1.1M264.7 620.7h1.1M270.9 611.0h1.1M287.1 610.9h1.1M289.6 620.6h1.1M271.0 620.1h1.1M275.5 620.1h1.1M316.9 621.4h1.1M304.2 620.8h1.1M298.9 610.2h1.1M304.6 619.9h1.1M296.0 610.4h1.1M315.9 610.5h1.1M311.5 610.8h1.1M305.9 610.2h1.1M313.0 620.6h1.1M309.3 610.2h1.1M300.1 611.0h1.1M295.6 621.0h1.1M306.2 610.5h1.1M294.8 610.8h1.1M306.4 611.0h1.1M312.2 610.8h1.1M298.7 620.2h1.1M316.5 620.4h1.1M299.4 620.9h1.1M310.2 621.7h1.1M296.1 609.7h1.1M298.2 610.1h1.1M312.2 621.3h1.1M300.0 621.8h1.1M309.2 621.6h1.1M305.5 620.2h1.1M297.0 610.4h1.1M312.9 620.0h1.1M294.6 610.2h1.1M307.5 620.7h1.1M303.0 609.9h1.1M308.1 610.9h1.1M299.3 620.4h1.1M300.7 610.1h1.1M300.0 620.3h1.1M306.8 610.6h1.1M299.8 610.9h1.1M305.8 610.6h1.1M302.5 620.7h1.1M303.6 610.6h1.1M314.0 620.5h1.1M298.8 610.5h1.1M294.7 609.9h1.1M312.0 609.9h1.1M303.4 610.1h1.1M296.1 621.3h1.1M295.6 621.2h1.1M305.8 610.6h1.1M305.7 610.4h1.1M309.8 620.0h1.1M312.9 620.7h1.1M310.7 610.9h1.1M295.9 610.0h1.1M308.0 620.0h1.1M306.4 610.6h1.1M335.2 611.0h1.1M321.4 609.1h1.1M341.5 620.5h1.1M324.1 620.6h1.1M327.3 619.9h1.1M325.3 620.3h1.1M334.9 610.3h1.1M334.5 620.8h1.1M335.9 620.4h1.1M333.2 620.2h1.1M336.9 611.0h1.1M338.0 609.2h1.1M335.0 620.3h1.1M331.7 610.9h1.1M324.9 610.9h1.1M325.8 610.6h1.1M339.7 610.3h1.1M335.1 620.0h1.1M329.1 610.9h1.1M322.7 620.7h1.1M329.3 620.2h1.1M340.0 620.4h1.1M321.9 619.9h1.1M338.3 610.2h1.1M342.3 620.6h1.1M334.1 610.9h1.1M325.5 620.4h1.1M336.8 620.6h1.1M321.1 621.0h1.1M339.5 611.0h1.1M326.7 620.5h1.1M322.7 621.5h1.1M336.0 609.9h1.1M339.8 610.3h1.1M328.9 620.6h1.1M341.1 611.0h1.1M332.0 621.0h1.1M324.1 610.8h1.1M343.0 610.6h1.1M335.0 621.5h1.1M323.9 611.2h1.1M321.6 611.1h1.1M334.4 610.3h1.1M341.6 609.9h1.1M338.9 609.7h1.1M336.1 621.4h1.1M336.8 610.7h1.1M324.8 619.9h1.1M325.8 611.0h1.1M321.8 611.0h1.1M341.6 610.1h1.1M330.8 620.1h1.1M328.8 620.5h1.1M323.3 610.6h1.1M329.0 609.7h1.1M351.1 620.1h1.1M363.1 620.3h1.1M370.4 609.8h1.1M348.5 620.4h1.1M350.7 610.9h1.1M368.6 609.9h1.1M367.7 621.1h1.1M359.6 611.1h1.1M352.1 620.5h1.1M357.4 610.4h1.1M350.1 621.5h1.1M359.1 609.5h1.1M360.4 609.9h1.1M354.9 621.7h1.1M355.8 610.0h1.1M366.7 620.5h1.1M364.1 610.1h1.1M358.6 610.7h1.1M362.7 620.0h1.1M354.1 621.2h1.1M362.3 610.2h1.1M358.0 610.3h1.1M368.0 610.2h1.1M367.3 620.4h1.1M357.7 609.7h1.1M366.8 611.0h1.1M359.7 610.9h1.1M350.4 610.1h1.1M369.2 620.9h1.1M350.3 621.3h1.1M362.5 610.4h1.1M352.8 621.5h1.1M365.3 619.9h1.1M368.4 609.3h1.1M358.6 608.8h1.1M368.3 620.4h1.1M349.0 620.6h1.1M351.6 611.0h1.1M356.0 620.9h1.1M353.1 610.8h1.1M349.9 620.5h1.1M359.2 611.0h1.1M356.0 622.4h1.1M367.6 621.3h1.1M360.6 610.9h1.1M369.7 611.0h1.1M354.8 620.2h1.1M349.3 610.6h1.1M367.1 620.1h1.1M363.0 619.9h1.1M361.4 609.0h1.1M356.8 620.4h1.1M370.2 610.6h1.1M353.3 619.9h1.1M369.6 610.8h1.1M392.0 609.8h1.1M386.9 609.9h1.1M378.8 610.9h1.1M378.4 610.5h1.1M377.9 610.5h1.1M379.7 609.0h1.1M382.2 609.3h1.1M384.3 611.1h1.1M389.8 609.1h1.1M380.6 620.5h1.1M390.8 609.5h1.1M387.0 621.8h1.1M383.3 620.5h1.1M389.0 620.5h1.1M390.9 609.9h1.1M382.3 610.2h1.1M386.2 620.8h1.1M388.7 610.1h1.1M384.9 620.7h1.1M393.5 620.1h1.1M375.0 609.0h1.1M375.2 620.8h1.1M377.3 608.6h1.1M382.4 609.6h1.1M384.0 621.2h1.1M386.6 610.7h1.1M384.3 620.9h1.1M378.2 620.8h1.1M382.9 610.9h1.1M390.0 611.1h1.1M378.1 609.3h1.1M387.1 620.8h1.1M392.3 610.2h1.1M393.7 621.0h1.1M385.2 611.0h1.1M393.7 611.0h1.1M384.1 621.4h1.1M383.5 621.6h1.1M392.8 620.4h1.1M375.2 611.1h1.1M382.7 620.1h1.1M376.7 610.8h1.1M383.7 610.4h1.1M376.8 610.2h1.1M390.9 610.7h1.1M381.3 621.0h1.1M393.6 610.3h1.1M408.3 619.9h1.1M413.7 610.7h1.1M412.0 621.3h1.1M420.4 610.6h1.1M409.4 621.2h1.1M419.6 610.7h1.1M406.5 620.8h1.1M401.2 610.3h1.1M399.4 611.1h1.1M404.5 610.9h1.1M413.3 610.3h1.1M409.2 610.6h1.1M400.2 610.9h1.1M419.4 621.7h1.1M400.2 610.0h1.1M404.2 610.8h1.1M412.2 620.5h1.1M410.1 610.6h1.1M405.6 611.1h1.1M406.8 609.1h1.1M399.3 610.5h1.1M398.2 610.7h1.1M404.1 609.9h1.1M406.1 611.1h1.1M401.4 609.9h1.1M420.3 611.2h1.1M420.4 610.8h1.1M401.0 621.9h1.1M407.2 610.2h1.1M407.3 621.4h1.1M398.6 620.4h1.1M413.6 609.9h1.1M403.5 620.0h1.1M410.9 621.6h1.1M403.4 620.5h1.1M418.2 610.6h1.1M400.3 621.7h1.1M419.4 610.9h1.1M402.7 620.4h1.1M398.5 611.0h1.1M413.8 620.5h1.1M406.5 620.0h1.1M401.1 620.6h1.1M416.4 620.0h1.1M412.6 610.3h1.1M420.2 620.0h1.1M413.1 620.3h1.1M419.3 620.3h1.1M402.0 610.7h1.1M412.3 620.2h1.1M419.5 609.6h1.1M418.6 619.9h1.1M398.3 611.0h1.1M404.1 611.0h1.1M414.5 611.0h1.1M432.9 610.6h1.1M431.4 619.9h1.1M432.3 622.4h1.1M433.5 610.3h1.1M434.0 620.2h1.1M433.8 610.7h1.1M434.5 611.1h1.1M432.8 620.6h1.1M432.7 610.4h1.1M446.9 611.1h1.1M435.6 620.1h1.1M441.4 621.6h1.1M440.4 610.0h1.1M440.9 610.5h1.1M434.9 622.1h1.1M437.9 611.1h1.1M430.5 620.0h1.1M425.3 620.4h1.1M427.7 621.4h1.1M428.5 609.6h1.1M437.9 610.0h1.1M427.3 610.3h1.1M439.1 610.8h1.1M436.0 620.0h1.1M433.2 620.6h1.1M427.4 621.1h1.1M433.0 610.2h1.1M443.1 621.8h1.1M430.0 609.7h1.1M433.2 621.4h1.1M443.7 609.6h1.1M440.6 610.6h1.1M426.9 620.0h1.1M434.3 620.6h1.1M430.9 610.2h1.1M435.4 620.4h1.1M446.8 620.4h1.1M439.1 610.1h1.1M446.7 620.6h1.1M428.7 620.8h1.1M444.0 620.4h1.1M427.2 620.3h1.1M429.9 610.1h1.1M438.9 620.8h1.1M428.0 621.4h1.1M437.8 610.7h1.1M438.3 610.6h1.1M431.6 610.8h1.1M430.7 621.2h1.1M431.1 621.5h1.1M427.9 610.8h1.1M438.3 620.7h1.1M444.4 621.1h1.1M435.9 620.1h1.1M453.0 620.8h1.1M454.3 620.6h1.1M462.9 611.2h1.1M462.1 611.1h1.1M451.9 620.0h1.1M462.2 620.1h1.1M455.1 620.9h1.1M461.6 620.0h1.1M463.8 620.4h1.1M462.8 619.9h1.1M459.2 610.0h1.1M460.3 610.3h1.1M461.6 610.7h1.1M463.8 610.9h1.1M461.0 610.8h1.1M459.9 610.1h1.1M456.8 620.4h1.1M452.2 611.1h1.1M453.5 611.0h1.1M462.0 609.9h1.1M463.6 620.1h1.1M453.2 610.8h1.1M462.9 620.5h1.1M464.3 620.9h1.1M462.5 620.4h1.1M461.0 609.7h1.1M452.8 620.0h1.1M462.4 610.7h1.1M455.3 610.5h1.1M451.8 621.4h1.1M458.0 619.9h1.1M462.8 620.8h1.1M452.5 610.8h1.1M463.1 610.6h1.1M477.5 620.1h1.1M476.7 610.6h1.1M472.5 620.0h1.1M474.4 611.1h1.1M474.4 610.8h1.1M475.6 610.6h1.1M470.1 620.9h1.1M479.2 620.0h1.1M472.0 620.9h1.1M473.0 609.9h1.1M473.0 621.1h1.1M474.1 610.3h1.1M473.6 621.6h1.1M472.1 623.1h1.1M478.1 621.3h1.1M479.8 620.1h1.1M472.5 610.9h1.1M471.2 610.4h1.1M473.3 609.3h1.1M477.3 620.5h1.1M477.8 610.5h1.1M475.8 620.5h1.1M477.4 622.1h1.1M471.2 620.4h1.1M479.2 620.0h1.1M478.6 620.8h1.1M476.8 610.7h1.1M478.7 610.0h1.1M468.9 610.9h1.1M469.4 620.0h1.1M489.9 610.7h1.1M485.1 611.0h1.1M484.9 610.6h1.1M489.6 620.1h1.1M487.7 620.0h1.1M492.7 609.9h1.1M488.0 620.9h1.1M495.8 610.6h1.1M493.3 610.5h1.1M485.4 610.1h1.1M484.8 610.8h1.1M492.1 610.3h1.1M495.3 610.4h1.1M491.6 610.2h1.1M493.7 611.1h1.1M492.6 620.3h1.1M493.2 611.2h1.1M490.0 608.9h1.1M489.2 621.0h1.1M493.3 621.3h1.1M495.2 620.6h1.1M489.0 619.9h1.1M484.9 620.9h1.1M496.8 610.3h1.1M494.2 620.0h1.1M493.3 611.1h1.1M484.6 610.9h1.1M496.6 610.5h1.1M485.2 620.2h1.1M488.7 610.9h1.1M488.8 610.8h1.1M487.7 609.5h1.1M502.6 610.0h1.1M502.9 611.0h1.1M509.9 620.6h1.1M513.7 610.9h1.1M505.0 620.1h1.1M513.0 610.0h1.1M501.2 611.0h1.1M502.3 610.6h1.1M510.6 610.4h1.1M502.3 620.2h1.1M505.0 621.4h1.1M502.9 620.8h1.1M510.6 622.0h1.1M504.7 610.4h1.1M501.2 620.6h1.1M514.8 610.2h1.1M506.2 611.1h1.1M507.4 621.4h1.1M511.5 620.5h1.1M508.4 610.5h1.1M507.5 610.2h1.1M505.9 620.1h1.1M502.9 620.2h1.1M503.8 610.1h1.1M504.1 610.5h1.1M501.2 610.4h1.1M510.7 610.6h1.1M503.5 620.9h1.1M501.9 611.1h1.1M502.4 609.5h1.1M505.5 609.9h1.1M502.1 621.0h1.1M506.8 608.6h1.1M503.1 611.0h1.1M513.3 610.4h1.1M531.2 609.9h1.1M532.5 620.9h1.1M526.4 620.7h1.1M530.2 620.5h1.1M530.9 620.8h1.1M525.3 620.8h1.1M523.2 610.8h1.1M531.7 620.3h1.1M523.6 610.4h1.1M532.3 621.3h1.1M527.9 621.4h1.1M532.7 609.7h1.1M523.7 610.9h1.1M525.2 620.8h1.1M527.2 621.3h1.1M527.0 620.5h1.1M528.9 619.9h1.1M530.9 621.6h1.1M523.6 619.9h1.1M521.2 610.8h1.1M532.4 610.5h1.1M521.7 621.5h1.1M527.1 620.1h1.1M530.3 609.7h1.1M522.9 621.5h1.1M529.0 620.3h1.1M521.5 609.1h1.1M529.5 610.7h1.1M524.5 609.8h1.1M525.9 610.5h1.1M527.3 609.8h1.1M543.0 619.9h1.1M542.9 620.3h1.1M540.7 610.3h1.1M542.9 610.0h1.1M541.2 622.0h1.1M544.2 619.9h1.1M542.1 611.1h1.1M543.6 610.7h1.1M543.1 610.3h1.1M542.7 609.8h1.1M544.0 621.1h1.1M543.9 620.5h1.1M541.2 619.9h1.1M542.0 611.1h1.1M551.1 619.9h1.1M558.0 609.9h1.1M553.0 621.1h1.1M554.6 620.9h1.1M553.8 619.9h1.1M556.7 611.1h1.1M550.2 610.6h1.1M550.0 608.5h1.1M555.6 610.7h1.1M556.8 609.4h1.1M550.4 621.6h1.1M552.4 611.1h1.1M552.1 620.6h1.1M556.2 610.7h1.1M552.6 620.0h1.1M553.3 610.3h1.1M557.6 620.1h1.1M556.3 620.1h1.1M555.7 621.1h1.1M552.5 610.9h1.1M553.7 620.4h1.1M553.5 619.9h1.1M556.0 621.4h1.1M573.5 620.3h1.1M573.6 620.6h1.1M575.8 609.9h1.1M576.5 610.3h1.1M577.2 620.1h1.1M574.4 610.1h1.1M575.7 620.5h1.1M576.8 622.3h1.1M576.1 610.9h1.1M571.2 620.1h1.1M575.5 609.9h1.1M574.6 620.9h1.1M573.1 610.2h1.1M573.1 609.5h1.1M577.1 610.5h1.1M571.5 620.1h1.1M576.8 610.4h1.1M573.9 620.2h1.1M571.2 611.0h1.1M589.3 610.8h1.1M589.2 610.3h1.1M589.2 610.5h1.1M589.6 610.8h1.1M590.0 611.1h1.1M590.2 610.0h1.1M589.8 621.0h1.1M605.6 621.2h1.1M605.9 610.8h1.1M601.7 620.7h1.1M603.5 609.7h1.1M604.6 609.2h1.1M603.6 611.1h1.1M602.6 620.0h1.1M605.2 620.6h1.1M604.3 611.0h1.1M605.0 619.9h1.1M604.3 609.9h1.1M605.2 621.3h1.1M603.6 610.4h1.1M604.5 611.1h1.1M605.9 619.9h1.1M615.3 609.9h1.1M645.8 620.6h1.1M626.7 610.8h1.1M642.4 610.6h1.1M646.2 620.4h1.1M627.7 610.2h1.1M645.6 620.8h1.1M624.2 610.0h1.1M636.9 620.7h1.1M624.6 621.0h1.1M643.2 611.0h1.1M644.2 610.5h1.1M619.0 620.3h1.1M621.3 610.7h1.1M636.0 610.8h1.1M626.6 610.6h1.1M646.0 609.3h1.1M632.2 610.2h1.1M636.3 610.6h1.1M626.3 621.3h1.1M629.9 611.1h1.1M630.8 610.9h1.1M632.2 621.1h1.1M626.5 610.4h1.1M634.3 610.5h1.1M620.7 611.0h1.1M636.2 609.7h1.1M642.7 608.6h1.1M645.3 610.2h1.1M618.8 610.2h1.1M645.1 619.9h1.1M635.1 620.8h1.1M625.2 610.4h1.1M618.4 609.4h1.1M644.8 610.5h1.1M632.0 620.0h1.1M642.3 610.1h1.1M615.2 609.8h1.1M618.8 620.5h1.1M618.6 620.7h1.1M625.3 611.1h1.1M622.7 621.0h1.1M623.0 619.9h1.1M646.8 620.1h1.1M627.6 620.8h1.1M633.3 620.8h1.1M616.2 611.1h1.1M630.8 620.5h1.1M643.0 620.5h1.1M625.4 620.0h1.1M623.0 619.9h1.1M639.0 621.9h1.1M647.3 620.2h1.1M642.5 608.6h1.1M629.3 610.9h1.1M642.2 610.7h1.1M621.1 609.6h1.1M623.5 611.1h1.1M621.1 610.9h1.1M630.6 620.4h1.1M625.5 609.1h1.1M641.7 620.3h1.1M625.1 610.6h1.1M637.6 610.1h1.1M617.7 620.5h1.1M620.5 610.7h1.1M645.9 610.5h1.1M629.4 619.9h1.1M627.9 619.9h1.1M623.3 610.7h1.1M639.5 620.9h1.1M629.6 621.4h1.1M639.4 619.9h1.1M646.7 611.0h1.1M635.2 620.1h1.1M641.3 620.9h1.1"/>
<path fill="none" stroke="#e3000f" stroke-width="2.40" stroke-linecap="round" d="M94.3 594.1h1.3M61.3 593.2h1.3M85.8 603.7h1.3M60.9 592.6h1.3M73.4 607.5h1.3M75.9 610.4h1.3M94.8 592.8h1.3M68.4 608.0h1.3M69.9 601.1h1.3M99.0 584.0h1.3M84.8 610.7h1.3M91.6 602.3h1.3M63.0 600.6h1.3M86.4 607.3h1.3M74.6 609.3h1.3M72.9 605.1h1.3M63.5 610.8h1.3M88.8 609.9h1.3M63.0 611.0h1.3M88.9 604.6h1.3M64.9 594.4h1.3M77.5 603.9h1.3M82.4 610.8h1.3M69.4 611.0h1.3M82.7 605.0h1.3M90.1 607.0h1.3M95.9 600.9h1.3M88.8 609.7h1.3M98.1 606.5h1.3M100.9 608.2h1.3M99.5 587.6h1.3M75.2 605.3h1.3M92.0 604.7h1.3M99.3 606.4h1.3M69.2 571.9h1.3M92.8 602.8h1.3M75.6 620.9h1.3M68.0 624.4h1.3M75.6 631.5h1.3M78.1 635.2h1.3M88.2 632.0h1.3M99.1 624.2h1.3M81.9 621.1h1.3M78.2 625.7h1.3M91.8 625.9h1.3M78.4 622.9h1.3M71.6 624.4h1.3M62.0 629.4h1.3M93.9 627.3h1.3M101.9 622.9h1.3M60.7 626.1h1.3M84.5 651.6h1.3M70.0 627.3h1.3M80.6 620.7h1.3M94.9 624.0h1.3M76.8 625.5h1.3M89.4 630.8h1.3M76.1 621.9h1.3M93.5 634.0h1.3M95.8 642.1h1.3M73.4 625.6h1.3M95.1 622.0h1.3M72.9 621.7h1.3M126.8 606.7h1.3M130.2 609.2h1.3M131.1 608.9h1.3M127.3 607.8h1.3M145.1 598.4h1.3M114.3 606.4h1.3M113.6 593.1h1.3M142.3 607.1h1.3M118.1 593.1h1.3M132.5 600.8h1.3M142.9 592.3h1.3M149.2 596.4h1.3M139.6 606.8h1.3M133.9 604.8h1.3M149.3 599.4h1.3M133.0 610.0h1.3M137.1 589.5h1.3M144.8 604.5h1.3M137.5 604.4h1.3M118.7 603.0h1.3M135.3 609.4h1.3M129.3 606.7h1.3M113.4 597.0h1.3M111.0 604.6h1.3M113.9 605.8h1.3M129.1 595.4h1.3M108.0 610.9h1.3M142.0 606.0h1.3M147.7 608.3h1.3M140.3 586.2h1.3M146.7 608.3h1.3M113.6 601.1h1.3M111.6 604.3h1.3M142.1 610.6h1.3M108.2 589.9h1.3M121.0 608.0h1.3M118.3 629.0h1.3M108.9 627.9h1.3M131.3 621.3h1.3M110.4 630.0h1.3M124.2 623.5h1.3M118.7 635.7h1.3M117.0 632.8h1.3M138.3 624.8h1.3M117.9 624.8h1.3M116.5 634.9h1.3M125.2 632.0h1.3M144.2 628.9h1.3M142.6 622.2h1.3M135.9 620.6h1.3M148.7 631.1h1.3M127.9 625.9h1.3M142.7 623.3h1.3M129.1 620.8h1.3M114.1 637.9h1.3M122.5 623.1h1.3M147.1 633.4h1.3M128.7 642.6h1.3M133.1 635.6h1.3M146.8 621.5h1.3M116.3 639.5h1.3M134.4 621.6h1.3M123.6 626.6h1.3M155.1 596.0h1.3M163.2 607.1h1.3M179.8 609.1h1.3M170.3 608.2h1.3M181.8 591.8h1.3M160.8 609.3h1.3M156.8 583.6h1.3M184.2 608.7h1.3M154.4 597.1h1.3M158.2 608.9h1.3M165.9 596.6h1.3M158.2 610.0h1.3M173.5 601.0h1.3M161.8 606.0h1.3M155.0 587.5h1.3M156.3 601.5h1.3M181.4 601.3h1.3M160.9 606.9h1.3M159.4 609.2h1.3M159.4 597.8h1.3M172.5 611.1h1.3M178.2 609.3h1.3M165.7 607.6h1.3M173.2 598.9h1.3M156.5 601.2h1.3M176.0 610.4h1.3M179.8 595.5h1.3M162.1 621.5h1.3M156.9 621.8h1.3M172.8 635.2h1.3M177.1 624.6h1.3M169.5 624.1h1.3M179.6 622.3h1.3M178.3 620.5h1.3M173.1 630.5h1.3M181.8 639.0h1.3M184.3 633.7h1.3M180.6 628.9h1.3M178.4 622.1h1.3M158.1 621.9h1.3M163.0 628.8h1.3M165.8 624.1h1.3M176.9 621.1h1.3M171.3 631.2h1.3M158.8 623.6h1.3M171.8 628.2h1.3M168.9 631.4h1.3M155.2 625.6h1.3M191.6 602.1h1.3M215.9 608.6h1.3M219.7 591.3h1.3M207.2 595.9h1.3M214.6 610.9h1.3M189.4 590.2h1.3M207.7 608.6h1.3M218.7 607.8h1.3M212.4 609.4h1.3M206.9 602.8h1.3M218.0 586.4h1.3M194.1 608.8h1.3M194.8 595.0h1.3M196.5 608.1h1.3M200.7 606.1h1.3M193.1 591.8h1.3M200.2 594.4h1.3M219.4 605.8h1.3M199.6 609.7h1.3M207.7 610.8h1.3M213.7 597.4h1.3M195.9 601.6h1.3M196.1 627.4h1.3M207.6 635.8h1.3M218.8 630.8h1.3M193.7 621.6h1.3M196.7 632.9h1.3M218.7 621.8h1.3M212.3 626.0h1.3M197.5 625.3h1.3M216.3 627.7h1.3M202.9 643.1h1.3M219.1 629.3h1.3M194.4 627.8h1.3M191.1 642.4h1.3M206.8 624.6h1.3M211.8 623.8h1.3M220.3 622.0h1.3M233.1 606.1h1.3M255.3 593.8h1.3M227.9 610.3h1.3M227.6 603.8h1.3M226.1 603.3h1.3M248.5 605.9h1.3M227.0 599.2h1.3M233.0 610.7h1.3M254.0 602.7h1.3M255.9 610.4h1.3M239.4 610.5h1.3M250.4 609.4h1.3M232.7 586.9h1.3M228.5 620.7h1.3M225.5 626.5h1.3M253.2 622.9h1.3M248.4 622.9h1.3M243.6 625.1h1.3M229.6 624.2h1.3M238.3 641.4h1.3M253.4 635.0h1.3M242.4 621.5h1.3M239.8 628.1h1.3M289.5 595.3h1.3M282.3 604.5h1.3M287.2 601.0h1.3M278.6 607.9h1.3M269.3 603.1h1.3M276.0 604.6h1.3M264.2 610.7h1.3M267.1 606.0h1.3M280.3 604.9h1.3M278.4 594.1h1.3M274.1 603.0h1.3M287.7 611.3h1.3M283.1 596.0h1.3M275.7 605.4h1.3M271.6 604.9h1.3M263.1 610.8h1.3M272.6 610.4h1.3M280.8 608.2h1.3M272.9 598.3h1.3M280.9 608.2h1.3M275.6 608.7h1.3M280.3 597.2h1.3M274.6 601.9h1.3M276.2 610.4h1.3M272.7 608.5h1.3M278.0 600.1h1.3M278.4 606.2h1.3M281.1 620.5h1.3M275.1 620.7h1.3M283.0 622.8h1.3M261.9 627.3h1.3M284.3 623.7h1.3M272.9 630.8h1.3M270.2 621.7h1.3M263.4 625.8h1.3M287.9 622.7h1.3M276.1 625.2h1.3M273.4 620.5h1.3M261.1 626.3h1.3M277.5 626.5h1.3M289.1 621.4h1.3M270.5 623.6h1.3M283.6 622.5h1.3M285.7 620.5h1.3M287.8 626.1h1.3M264.6 626.2h1.3M312.1 607.6h1.3M303.0 610.2h1.3M310.4 610.7h1.3M298.5 596.2h1.3M315.5 603.8h1.3M311.1 606.7h1.3M294.3 611.0h1.3M306.3 607.8h1.3M308.6 609.2h1.3M307.4 608.5h1.3M307.8 607.8h1.3M300.0 609.3h1.3M302.6 599.7h1.3M316.0 610.4h1.3M314.6 600.9h1.3M294.3 608.6h1.3M305.5 597.6h1.3M303.5 594.6h1.3M309.8 607.2h1.3M314.4 608.7h1.3M307.8 605.7h1.3M313.8 621.0h1.3M308.7 624.2h1.3M300.2 625.6h1.3M316.6 627.9h1.3M308.2 637.3h1.3M297.9 620.9h1.3M298.6 623.7h1.3M307.8 635.5h1.3M316.3 631.8h1.3M311.3 633.0h1.3M307.1 623.7h1.3M296.0 621.2h1.3M310.2 623.8h1.3M300.7 624.1h1.3M303.9 623.5h1.3M306.2 625.6h1.3M330.4 607.9h1.3M335.3 608.8h1.3M341.0 594.1h1.3M334.8 608.1h1.3M334.4 606.9h1.3M327.4 600.7h1.3M326.5 611.2h1.3M332.7 598.6h1.3M326.1 605.7h1.3M341.7 606.2h1.3M333.3 606.9h1.3M322.9 598.2h1.3M340.4 592.3h1.3M341.2 586.3h1.3M336.4 611.0h1.3M323.8 605.2h1.3M334.0 597.8h1.3M342.7 590.9h1.3M321.5 596.0h1.3M329.4 610.4h1.3M340.0 603.7h1.3M323.4 620.9h1.3M322.1 621.2h1.3M328.1 639.9h1.3M324.2 620.7h1.3M340.5 630.3h1.3M338.7 623.0h1.3M327.1 622.5h1.3M329.4 621.6h1.3M321.5 622.9h1.3M333.3 622.0h1.3M332.7 621.2h1.3M326.8 621.0h1.3M328.4 637.3h1.3M331.6 624.9h1.3M350.2 600.0h1.3M353.2 598.9h1.3M365.7 605.2h1.3M364.1 603.5h1.3M357.3 608.6h1.3M354.6 609.3h1.3M355.1 609.0h1.3M367.2 603.7h1.3M370.4 611.0h1.3M361.2 609.8h1.3M367.9 602.4h1.3M357.1 608.2h1.3M356.9 606.4h1.3M365.1 608.9h1.3M354.9 607.5h1.3M354.3 608.4h1.3M349.4 600.3h1.3M366.4 610.4h1.3M354.3 603.5h1.3M350.8 621.6h1.3M362.6 622.4h1.3M368.2 624.7h1.3M368.1 623.4h1.3M357.5 641.1h1.3M366.5 637.3h1.3M360.6 638.1h1.3M359.3 625.7h1.3M353.7 629.0h1.3M366.5 622.6h1.3M349.1 635.9h1.3M354.9 621.9h1.3M377.6 606.9h1.3M393.2 608.5h1.3M383.1 606.7h1.3M389.9 607.6h1.3M393.1 606.3h1.3M378.3 610.3h1.3M380.0 607.3h1.3M379.1 595.7h1.3M393.5 591.6h1.3M386.7 601.0h1.3M388.2 608.8h1.3M375.5 597.6h1.3M391.2 607.2h1.3M381.8 594.7h1.3M391.0 626.0h1.3M383.0 623.8h1.3M387.4 631.3h1.3M385.1 628.6h1.3M380.0 622.2h1.3M383.2 621.1h1.3M393.8 648.4h1.3M381.5 620.8h1.3M378.8 620.7h1.3M375.4 621.3h1.3M404.0 598.4h1.3M417.3 605.5h1.3M412.4 609.9h1.3M418.8 579.3h1.3M408.3 597.2h1.3M420.6 611.1h1.3M413.0 601.6h1.3M400.2 591.2h1.3M413.0 610.4h1.3M417.6 602.8h1.3M410.6 605.7h1.3M407.5 604.6h1.3M402.3 608.3h1.3M411.4 610.8h1.3M406.9 600.0h1.3M414.4 606.3h1.3M405.1 588.5h1.3M417.0 609.5h1.3M418.4 591.7h1.3M417.0 605.6h1.3M400.2 601.1h1.3M418.2 603.8h1.3M400.1 609.5h1.3M416.6 606.3h1.3M415.2 610.7h1.3M399.5 596.8h1.3M410.8 597.6h1.3M411.4 609.4h1.3M410.3 604.8h1.3M405.4 606.8h1.3M415.2 627.8h1.3M405.1 623.6h1.3M409.1 622.0h1.3M408.7 623.3h1.3M420.4 638.3h1.3M417.3 622.1h1.3M413.8 625.2h1.3M402.2 630.2h1.3M413.3 635.4h1.3M414.6 622.1h1.3M412.9 622.8h1.3M403.2 620.7h1.3M420.0 625.5h1.3M418.4 636.5h1.3M408.4 622.1h1.3M403.6 642.6h1.3M398.4 631.0h1.3M417.6 625.0h1.3M420.2 620.9h1.3M398.5 623.0h1.3M405.8 626.5h1.3M405.7 630.2h1.3M408.8 622.5h1.3M431.7 583.0h1.3M431.4 611.0h1.3M429.0 586.9h1.3M435.8 607.3h1.3M445.8 597.5h1.3M427.3 609.5h1.3M443.8 609.8h1.3M439.1 589.4h1.3M445.5 593.5h1.3M442.0 604.4h1.3M441.3 607.6h1.3M435.1 601.5h1.3M432.9 596.2h1.3M440.5 603.7h1.3M438.0 601.5h1.3M434.7 611.1h1.3M432.0 608.7h1.3M435.2 606.7h1.3M441.5 608.1h1.3M431.1 604.9h1.3M434.2 603.3h1.3M441.0 594.0h1.3M440.8 605.5h1.3M425.8 597.3h1.3M426.3 580.3h1.3M444.9 607.9h1.3M425.6 609.9h1.3M437.5 632.5h1.3M444.4 624.6h1.3M436.7 629.5h1.3M431.3 622.6h1.3M429.2 632.7h1.3M441.8 630.8h1.3M427.7 630.2h1.3M433.4 624.9h1.3M434.9 634.0h1.3M426.1 642.3h1.3M441.7 621.2h1.3M442.0 624.5h1.3M446.9 621.3h1.3M434.8 621.2h1.3M430.8 621.0h1.3M425.7 622.1h1.3M438.8 620.8h1.3M442.7 627.1h1.3M457.2 602.7h1.3M457.2 610.6h1.3M457.6 606.9h1.3M454.6 606.2h1.3M453.8 620.6h1.3M459.1 622.9h1.3M456.4 620.9h1.3M469.9 607.5h1.3M472.4 609.9h1.3M472.0 601.6h1.3M471.3 606.3h1.3M470.6 584.7h1.3M474.7 591.5h1.3M472.6 609.7h1.3M476.3 609.6h1.3M474.8 610.1h1.3M469.1 635.5h1.3M469.4 633.5h1.3M469.9 630.8h1.3M470.1 624.0h1.3M477.2 621.5h1.3M494.4 580.5h1.3M493.4 605.8h1.3M484.8 611.1h1.3M490.9 595.2h1.3M494.3 604.2h1.3M484.5 605.3h1.3M494.1 601.2h1.3M495.9 610.3h1.3M486.5 596.8h1.3M495.7 601.7h1.3M492.9 601.9h1.3M491.7 611.1h1.3M487.6 609.9h1.3M488.9 610.5h1.3M495.8 621.3h1.3M493.4 636.1h1.3M492.4 623.9h1.3M492.4 621.6h1.3M491.4 624.1h1.3M485.5 621.5h1.3M492.2 623.8h1.3M490.2 622.0h1.3M486.5 623.7h1.3M512.7 607.1h1.3M505.1 611.1h1.3M501.6 592.2h1.3M510.8 608.9h1.3M504.9 608.2h1.3M512.9 609.8h1.3M512.3 591.3h1.3M507.4 611.2h1.3M503.4 595.9h1.3M506.5 610.0h1.3M508.4 602.4h1.3M503.0 607.6h1.3M509.5 597.4h1.3M507.4 605.8h1.3M511.3 594.2h1.3M511.9 592.8h1.3M508.0 606.3h1.3M505.8 597.2h1.3M512.2 625.9h1.3M512.5 627.8h1.3M508.6 624.9h1.3M504.5 620.8h1.3M508.3 621.3h1.3M506.1 621.0h1.3M514.0 623.1h1.3M502.4 622.7h1.3M512.8 629.5h1.3M501.1 623.2h1.3M504.7 631.6h1.3M511.5 621.2h1.3M528.2 609.0h1.3M529.0 611.3h1.3M522.8 608.5h1.3M523.9 598.4h1.3M523.0 592.1h1.3M531.7 600.2h1.3M528.3 595.1h1.3M522.5 610.4h1.3M525.0 592.0h1.3M522.5 610.7h1.3M532.2 602.8h1.3M527.0 605.1h1.3M521.9 609.7h1.3M532.4 600.8h1.3M528.3 610.6h1.3M521.8 597.1h1.3M525.1 591.7h1.3M523.0 607.0h1.3M522.9 602.7h1.3M521.7 608.2h1.3M531.6 608.0h1.3M525.9 606.7h1.3M526.5 609.3h1.3M531.2 626.7h1.3M526.2 638.8h1.3M522.0 625.9h1.3M521.8 624.2h1.3M522.7 624.6h1.3M531.3 621.2h1.3M524.2 629.1h1.3M526.1 621.0h1.3M526.6 624.1h1.3M526.7 621.5h1.3M524.6 622.1h1.3M521.2 635.2h1.3M527.5 623.2h1.3M529.6 623.7h1.3M527.3 622.1h1.3M532.4 624.5h1.3M521.6 632.5h1.3M523.7 625.2h1.3M542.5 590.3h1.3M540.8 609.9h1.3M543.0 610.9h1.3M540.9 605.2h1.3M544.3 598.4h1.3M542.5 604.8h1.3M541.1 598.0h1.3M544.0 607.1h1.3M541.0 605.9h1.3M542.1 637.4h1.3M541.8 620.8h1.3M542.4 629.1h1.3M541.0 641.1h1.3M541.7 636.4h1.3M542.6 637.7h1.3M540.6 628.7h1.3M550.4 609.7h1.3M552.4 611.0h1.3M553.0 592.1h1.3M556.2 600.1h1.3M553.1 610.0h1.3M554.7 609.3h1.3M552.2 599.2h1.3M552.6 607.0h1.3M555.4 591.6h1.3M557.0 608.3h1.3M551.7 596.9h1.3M552.0 606.0h1.3M553.4 604.0h1.3M557.6 582.9h1.3M552.0 598.1h1.3M557.3 595.0h1.3M556.8 608.7h1.3M555.7 603.7h1.3M552.0 608.6h1.3M550.8 596.1h1.3M552.2 609.1h1.3M551.0 625.2h1.3M554.2 622.3h1.3M550.2 623.8h1.3M557.1 623.8h1.3M555.7 621.5h1.3M555.9 625.9h1.3M556.8 639.2h1.3M556.8 633.1h1.3M556.4 627.1h1.3M551.2 630.4h1.3M554.6 621.2h1.3M553.7 623.2h1.3M550.9 625.8h1.3M556.9 621.8h1.3M549.7 635.1h1.3M550.3 642.1h1.3M557.2 632.9h1.3M551.6 628.4h1.3M550.0 623.8h1.3M572.4 602.8h1.3M571.6 596.5h1.3M573.5 596.6h1.3M575.6 582.8h1.3M574.2 608.6h1.3M571.8 599.7h1.3M575.9 585.6h1.3M577.5 626.9h1.3M576.1 623.7h1.3M575.7 622.1h1.3M576.9 621.3h1.3M573.5 621.6h1.3M589.7 606.8h1.3M589.7 610.9h1.3M590.1 610.9h1.3M589.8 625.3h1.3M590.1 630.7h1.3M602.8 604.3h1.3M602.7 591.4h1.3M601.8 607.7h1.3M603.1 609.8h1.3M605.4 610.4h1.3M605.6 567.8h1.3M604.2 610.2h1.3M601.6 602.4h1.3M603.9 608.1h1.3M603.3 634.9h1.3M604.1 634.4h1.3M602.2 622.1h1.3M602.2 621.6h1.3M603.9 625.0h1.3M605.0 631.1h1.3M603.2 621.8h1.3M640.4 600.7h1.3M646.9 608.7h1.3M627.3 611.2h1.3M626.0 604.9h1.3M622.4 608.0h1.3M629.2 592.7h1.3M625.8 594.6h1.3M637.5 604.5h1.3M621.8 604.8h1.3M642.3 591.5h1.3M616.3 594.6h1.3M623.0 605.6h1.3M628.5 602.1h1.3M625.4 608.9h1.3M624.0 621.1h1.3M625.9 635.5h1.3M622.9 635.2h1.3M621.5 620.8h1.3M634.6 620.6h1.3M621.7 621.5h1.3M630.4 622.7h1.3M643.1 628.1h1.3M642.0 624.9h1.3M618.6 632.8h1.3M88.0 607.7h1.3M87.2 603.4h1.3M94.1 604.8h1.3M98.9 609.4h1.3M94.0 608.3h1.3M91.4 608.9h1.3M89.5 605.4h1.3M93.0 609.7h1.3M90.3 610.9h1.3M86.2 607.2h1.3M102.2 611.5h1.3M97.6 601.5h1.3M90.6 603.3h1.3M98.5 611.5h1.3M84.5 608.7h1.3M95.4 609.7h1.3M85.1 600.5h1.3M95.2 611.5h1.3M101.6 605.6h1.3M98.6 606.7h1.3M102.4 599.6h1.3M87.8 597.6h1.3M95.2 610.2h1.3M89.5 600.9h1.3M84.5 602.7h1.3M90.3 604.8h1.3M100.0 599.7h1.3M91.2 604.0h1.3M97.7 598.1h1.3M88.8 607.5h1.3M94.8 603.7h1.3M96.9 603.3h1.3M92.4 609.2h1.3M101.1 609.9h1.3M102.3 608.1h1.3M91.2 608.7h1.3M92.9 604.5h1.3M83.0 601.4h1.3M83.2 608.6h1.3M87.5 610.2h1.3M83.8 607.0h1.3M83.4 607.4h1.3M99.8 607.9h1.3M102.3 603.5h1.3M100.4 604.8h1.3M101.7 604.1h1.3M100.7 609.8h1.3M101.1 611.2h1.3M93.3 608.6h1.3M83.1 605.8h1.3M84.7 603.5h1.3M90.6 608.4h1.3M87.8 611.5h1.3M89.3 602.0h1.3M96.3 606.0h1.3M96.8 607.3h1.3M101.1 607.4h1.3M84.6 607.5h1.3M100.9 606.7h1.3M102.2 605.9h1.3M87.0 610.2h1.3M101.5 607.5h1.3M92.3 606.8h1.3M99.9 604.0h1.3M92.4 610.1h1.3M92.4 611.8h1.3M93.2 608.3h1.3M90.5 605.6h1.3M87.8 605.8h1.3M86.3 604.8h1.3M100.8 609.2h1.3M88.5 601.4h1.3M88.1 607.7h1.3M102.5 608.3h1.3M101.2 607.2h1.3M92.8 609.2h1.3M87.5 608.9h1.3M101.9 611.7h1.3M84.2 611.8h1.3M91.9 603.1h1.3M85.8 609.6h1.3M97.0 607.5h1.3M96.7 610.1h1.3M97.5 608.9h1.3M85.7 607.9h1.3M86.4 568.0h1.3M86.9 570.5h1.3M490.4 559.3h1.3M560.4 559.6h1.3M138.3 581.0h1.3M393.4 564.6h1.3M161.3 662.0h1.3M127.3 637.0h1.3M331.4 661.0h1.3M517.4 661.5h1.3M544.4 658.5h1.3"/>
<line x1="58.60" y1="557.60" x2="58.60" y2="665.40" stroke="#111" stroke-width="1.4" />
<line x1="57.90" y1="664.70" x2="105.20" y2="664.70" stroke="#111" stroke-width="1.3" />
<line x1="105.80" y1="664.70" x2="151.90" y2="664.70" stroke="#111" stroke-width="1.3" />
<line x1="152.60" y1="664.70" x2="186.90" y2="664.70" stroke="#111" stroke-width="1.3" />
<line x1="187.70" y1="664.70" x2="222.90" y2="664.70" stroke="#111" stroke-width="1.3" />
<line x1="223.60" y1="664.70" x2="258.60" y2="664.70" stroke="#111" stroke-width="1.3" />
<line x1="259.60" y1="664.70" x2="292.40" y2="664.70" stroke="#111" stroke-width="1.3" />
<line x1="293.00" y1="664.70" x2="319.30" y2="664.70" stroke="#111" stroke-width="1.3" />
<line x1="319.50" y1="664.70" x2="345.80" y2="664.70" stroke="#111" stroke-width="1.3" />
<line x1="346.60" y1="664.70" x2="372.90" y2="664.70" stroke="#111" stroke-width="1.3" />
<line x1="373.50" y1="664.70" x2="396.30" y2="664.70" stroke="#111" stroke-width="1.3" />
<line x1="396.80" y1="664.70" x2="423.10" y2="664.70" stroke="#111" stroke-width="1.3" />
<line x1="423.70" y1="664.70" x2="449.80" y2="664.70" stroke="#111" stroke-width="1.3" />
<line x1="450.40" y1="664.70" x2="467.10" y2="664.70" stroke="#111" stroke-width="1.3" />
<line x1="467.60" y1="664.70" x2="482.50" y2="664.70" stroke="#111" stroke-width="1.3" />
<line x1="483.30" y1="664.70" x2="499.30" y2="664.70" stroke="#111" stroke-width="1.3" />
<line x1="499.70" y1="664.70" x2="517.20" y2="664.70" stroke="#111" stroke-width="1.3" />
<line x1="517.70" y1="664.70" x2="534.00" y2="664.70" stroke="#111" stroke-width="1.3" />
<line x1="534.50" y1="664.70" x2="549.40" y2="664.70" stroke="#111" stroke-width="1.3" />
<line x1="549.90" y1="664.70" x2="565.50" y2="664.70" stroke="#111" stroke-width="1.3" />
<line x1="565.60" y1="664.70" x2="581.60" y2="664.70" stroke="#111" stroke-width="1.3" />
<line x1="582.70" y1="664.70" x2="597.70" y2="664.70" stroke="#111" stroke-width="1.3" />
<line x1="598.10" y1="664.70" x2="613.80" y2="664.70" stroke="#111" stroke-width="1.3" />
<line x1="614.20" y1="664.70" x2="644.20" y2="664.70" stroke="#111" stroke-width="1.3" />
<line x1="645.30" y1="664.70" x2="659.20" y2="664.70" stroke="#111" stroke-width="1.3" />
<text x="56.50" y="563.35" font-size="9.9" fill="#4d4d4d" text-anchor="end" font-weight="normal" >5.0</text>
<text x="56.50" y="591.98" font-size="9.9" fill="#4d4d4d" text-anchor="end" font-weight="normal" >2.5</text>
<text x="56.50" y="620.60" font-size="9.9" fill="#4d4d4d" text-anchor="end" font-weight="normal" >0.0</text>
<text x="56.50" y="649.23" font-size="9.9" fill="#4d4d4d" text-anchor="end" font-weight="normal" >-2.5</text>
<text transform="translate(38.9,596.0) rotate(-90)" font-size="9.6" fill="#1a1a1a" text-anchor="middle">mRNA_log<tspan font-size="6.4" dy="2.2">2</tspan><tspan dy="-2.2">FC</tspan></text>
<line x1="66.40" y1="686.90" x2="66.40" y2="814.30" stroke="#111" stroke-width="1.3" />
<line x1="65.80" y1="813.70" x2="150.40" y2="813.70" stroke="#111" stroke-width="1.3" />
<line x1="61.20" y1="813.60" x2="66.40" y2="813.60" stroke="#111" stroke-width="1.1" />
<text x="59.60" y="817.00" font-size="9.8" fill="#1a1a1a" text-anchor="end" font-weight="normal" >2.0</text>
<line x1="61.20" y1="788.38" x2="66.40" y2="788.38" stroke="#111" stroke-width="1.1" />
<text x="59.60" y="791.78" font-size="9.8" fill="#1a1a1a" text-anchor="end" font-weight="normal" >2.5</text>
<line x1="61.20" y1="763.16" x2="66.40" y2="763.16" stroke="#111" stroke-width="1.1" />
<text x="59.60" y="766.56" font-size="9.8" fill="#1a1a1a" text-anchor="end" font-weight="normal" >3.0</text>
<line x1="61.20" y1="737.94" x2="66.40" y2="737.94" stroke="#111" stroke-width="1.1" />
<text x="59.60" y="741.34" font-size="9.8" fill="#1a1a1a" text-anchor="end" font-weight="normal" >3.5</text>
<line x1="61.20" y1="712.72" x2="66.40" y2="712.72" stroke="#111" stroke-width="1.1" />
<text x="59.60" y="716.12" font-size="9.8" fill="#1a1a1a" text-anchor="end" font-weight="normal" >4.0</text>
<line x1="61.20" y1="687.50" x2="66.40" y2="687.50" stroke="#111" stroke-width="1.1" />
<text x="59.60" y="690.90" font-size="9.8" fill="#1a1a1a" text-anchor="end" font-weight="normal" >4.5</text>
<line x1="82.50" y1="813.70" x2="82.50" y2="818.40" stroke="#111" stroke-width="1.1" />
<line x1="107.90" y1="813.70" x2="107.90" y2="818.40" stroke="#111" stroke-width="1.1" />
<line x1="132.50" y1="813.70" x2="132.50" y2="818.40" stroke="#111" stroke-width="1.1" />
<line x1="82.90" y1="743.40" x2="82.90" y2="761.60" stroke="#111" stroke-width="1.2" />
<line x1="82.90" y1="773.00" x2="82.90" y2="788.60" stroke="#111" stroke-width="1.2" />
<line x1="78.20" y1="743.40" x2="87.70" y2="743.40" stroke="#111" stroke-width="1.2" />
<line x1="78.20" y1="788.60" x2="87.70" y2="788.60" stroke="#111" stroke-width="1.2" />
<rect x="75.20" y="761.60" width="15.40" height="11.40" fill="#fff" stroke="#111" stroke-width="1.2"/>
<line x1="75.20" y1="769.60" x2="90.60" y2="769.60" stroke="#111" stroke-width="1.2" />
<line x1="107.90" y1="711.90" x2="107.90" y2="739.60" stroke="#111" stroke-width="1.2" />
<line x1="107.90" y1="760.80" x2="107.90" y2="776.70" stroke="#111" stroke-width="1.2" />
<line x1="103.00" y1="711.90" x2="112.40" y2="711.90" stroke="#111" stroke-width="1.2" />
<line x1="103.00" y1="776.70" x2="112.40" y2="776.70" stroke="#111" stroke-width="1.2" />
<rect x="100.60" y="739.60" width="14.60" height="21.20" fill="#fff" stroke="#111" stroke-width="1.2"/>
<line x1="100.60" y1="753.40" x2="115.20" y2="753.40" stroke="#111" stroke-width="1.2" />
<line x1="132.90" y1="715.40" x2="132.90" y2="723.30" stroke="#111" stroke-width="1.2" />
<line x1="132.90" y1="744.30" x2="132.90" y2="758.90" stroke="#111" stroke-width="1.2" />
<line x1="128.30" y1="715.40" x2="137.50" y2="715.40" stroke="#111" stroke-width="1.2" />
<line x1="128.30" y1="758.90" x2="137.50" y2="758.90" stroke="#111" stroke-width="1.2" />
<rect x="125.50" y="723.30" width="14.80" height="21.00" fill="#fff" stroke="#111" stroke-width="1.2"/>
<line x1="125.50" y1="731.70" x2="140.30" y2="731.70" stroke="#111" stroke-width="1.2" />
<text x="105.90" y="694.70" font-size="9.6" fill="#111" text-anchor="middle" font-weight="bold" >SNORD78</text>
<text x="104.50" y="802.50" font-size="9.3" fill="#1a1a1a" text-anchor="start" font-weight="normal" >P &lt; 0.0001</text>
<text transform="translate(37.8,744.5) rotate(-90)" font-size="9.5" fill="#1a1a1a" text-anchor="middle">Log<tspan font-size="6.4" dy="2.2">10</tspan><tspan dy="-2.2"> (counts+1)</tspan></text>
<text transform="translate(89.50,824.2) rotate(-45)" font-size="9.5" fill="#1a1a1a" text-anchor="end">no gain1q</text>
<text transform="translate(111.90,824.2) rotate(-45)" font-size="9.5" fill="#1a1a1a" text-anchor="end">gain1q</text>
<text transform="translate(135.50,824.2) rotate(-45)" font-size="9.5" fill="#1a1a1a" text-anchor="end">amp1q</text>
<line x1="264.80" y1="695.40" x2="264.80" y2="811.00" stroke="#111" stroke-width="1.3" />
<line x1="264.20" y1="810.40" x2="340.40" y2="810.40" stroke="#111" stroke-width="1.3" />
<line x1="260.00" y1="810.40" x2="264.80" y2="810.40" stroke="#111" stroke-width="1.1" />
<text x="258.60" y="813.80" font-size="9.8" fill="#1a1a1a" text-anchor="end" font-weight="normal" >0.6</text>
<line x1="260.00" y1="787.52" x2="264.80" y2="787.52" stroke="#111" stroke-width="1.1" />
<text x="258.60" y="790.92" font-size="9.8" fill="#1a1a1a" text-anchor="end" font-weight="normal" >0.7</text>
<line x1="260.00" y1="764.64" x2="264.80" y2="764.64" stroke="#111" stroke-width="1.1" />
<text x="258.60" y="768.04" font-size="9.8" fill="#1a1a1a" text-anchor="end" font-weight="normal" >0.8</text>
<line x1="260.00" y1="741.76" x2="264.80" y2="741.76" stroke="#111" stroke-width="1.1" />
<text x="258.60" y="745.16" font-size="9.8" fill="#1a1a1a" text-anchor="end" font-weight="normal" >0.9</text>
<line x1="260.00" y1="718.88" x2="264.80" y2="718.88" stroke="#111" stroke-width="1.1" />
<text x="258.60" y="722.28" font-size="9.8" fill="#1a1a1a" text-anchor="end" font-weight="normal" >1.0</text>
<line x1="260.00" y1="696.00" x2="264.80" y2="696.00" stroke="#111" stroke-width="1.1" />
<text x="258.60" y="699.40" font-size="9.8" fill="#1a1a1a" text-anchor="end" font-weight="normal" >1.1</text>
<line x1="280.30" y1="810.40" x2="280.30" y2="815.30" stroke="#111" stroke-width="1.1" />
<line x1="302.80" y1="810.40" x2="302.80" y2="815.30" stroke="#111" stroke-width="1.1" />
<line x1="325.20" y1="810.40" x2="325.20" y2="815.30" stroke="#111" stroke-width="1.1" />
<path d="M280.20,714.60 L279.60,717.40 L276.50,719.90 L273.20,722.30 L275.90,724.80 L274.60,726.70 L275.90,729.80 L275.50,732.90 L277.10,736.00 L279.20,738.50 L280.20,740.90 L280.20,740.90 L281.20,738.50 L283.30,736.00 L284.90,732.90 L284.50,729.80 L285.80,726.70 L284.50,724.80 L287.20,722.30 L283.90,719.90 L280.80,717.40 L280.20,714.60 Z" fill="#808080" stroke="#111" stroke-width="1.1" stroke-linejoin="round"/>
<line x1="273.30" y1="722.40" x2="287.10" y2="722.40" stroke="#111" stroke-width="0.9" />
<line x1="275.40" y1="728.50" x2="285.00" y2="728.50" stroke="#111" stroke-width="0.9" />
<line x1="275.50" y1="733.00" x2="284.90" y2="733.00" stroke="#111" stroke-width="0.9" />
<path d="M302.80,712.40 L302.30,716.10 L299.70,719.90 L298.80,722.30 L299.70,726.10 L299.70,729.20 L295.60,732.90 L298.10,736.00 L296.60,741.60 L299.10,745.30 L302.10,748.40 L302.30,762.00 L301.30,767.00 L300.80,770.70 L301.80,774.40 L302.10,777.50 L300.80,783.10 L302.10,788.10 L302.80,793.00 L302.80,793.00 L303.50,788.10 L304.80,783.10 L303.50,777.50 L303.80,774.40 L304.80,770.70 L304.30,767.00 L303.30,762.00 L303.50,748.40 L306.50,745.30 L309.00,741.60 L307.50,736.00 L310.00,732.90 L305.90,729.20 L305.90,726.10 L306.80,722.30 L305.90,719.90 L303.30,716.10 L302.80,712.40 Z" fill="#c8c8c8" stroke="#111" stroke-width="1.1" stroke-linejoin="round"/>
<line x1="299.00" y1="723.50" x2="306.60" y2="723.50" stroke="#111" stroke-width="0.9" />
<line x1="295.80" y1="733.30" x2="309.80" y2="733.30" stroke="#111" stroke-width="0.9" />
<line x1="296.70" y1="741.20" x2="308.90" y2="741.20" stroke="#111" stroke-width="0.9" />
<path d="M325.50,727.00 L325.00,732.30 L323.00,737.20 L320.50,742.20 L318.30,749.00 L319.50,754.60 L321.20,759.60 L322.80,764.50 L323.30,769.50 L323.60,774.40 L323.30,778.20 L324.00,781.90 L325.00,786.80 L325.50,792.40 L325.50,792.40 L326.00,786.80 L327.00,781.90 L327.70,778.20 L327.40,774.40 L327.70,769.50 L328.20,764.50 L329.80,759.60 L331.50,754.60 L332.70,749.00 L330.50,742.20 L328.00,737.20 L326.00,732.30 L325.50,727.00 Z" fill="#a8a8a8" stroke="#111" stroke-width="1.1" stroke-linejoin="round"/>
<line x1="318.50" y1="747.20" x2="332.50" y2="747.20" stroke="#111" stroke-width="0.9" />
<line x1="319.50" y1="754.60" x2="331.50" y2="754.60" stroke="#111" stroke-width="0.9" />
<line x1="322.80" y1="765.00" x2="328.20" y2="765.00" stroke="#111" stroke-width="0.9" />
<circle cx="274.3" cy="722.3" r="1.9" fill="#c8203c"/>
<circle cx="278.0" cy="722.1" r="1.9" fill="#c8203c"/>
<circle cx="282.3" cy="722.0" r="1.9" fill="#c8203c"/>
<circle cx="286.1" cy="722.6" r="1.9" fill="#c8203c"/>
<circle cx="286.3" cy="727.0" r="1.9" fill="#c8203c"/>
<circle cx="280.5" cy="728.5" r="1.9" fill="#c8203c"/>
<circle cx="277.4" cy="732.9" r="1.9" fill="#c8203c"/>
<circle cx="282.3" cy="732.9" r="1.9" fill="#c8203c"/>
<circle cx="276.7" cy="734.1" r="1.9" fill="#c8203c"/>
<circle cx="300.9" cy="723.0" r="1.9" fill="#2a3f9f"/>
<circle cx="305.3" cy="722.3" r="1.9" fill="#2a3f9f"/>
<circle cx="296.6" cy="732.9" r="1.9" fill="#2a3f9f"/>
<circle cx="299.7" cy="733.5" r="1.9" fill="#2a3f9f"/>
<circle cx="302.8" cy="733.3" r="1.9" fill="#2a3f9f"/>
<circle cx="305.9" cy="733.3" r="1.9" fill="#2a3f9f"/>
<circle cx="309.0" cy="732.9" r="1.9" fill="#2a3f9f"/>
<circle cx="300.9" cy="735.0" r="1.9" fill="#2a3f9f"/>
<circle cx="297.2" cy="741.0" r="1.9" fill="#2a3f9f"/>
<circle cx="300.9" cy="742.8" r="1.9" fill="#2a3f9f"/>
<circle cx="304.7" cy="742.2" r="1.9" fill="#2a3f9f"/>
<circle cx="302.8" cy="771.3" r="1.9" fill="#2a3f9f"/>
<circle cx="302.8" cy="783.1" r="1.9" fill="#2a3f9f"/>
<circle cx="325.5" cy="741.6" r="1.6" fill="#111"/>
<circle cx="322.0" cy="747.8" r="1.6" fill="#111"/>
<circle cx="328.9" cy="748.4" r="1.6" fill="#111"/>
<circle cx="322.0" cy="750.9" r="1.6" fill="#111"/>
<circle cx="322.0" cy="759.6" r="1.6" fill="#111"/>
<circle cx="328.9" cy="757.7" r="1.6" fill="#111"/>
<circle cx="325.5" cy="765.1" r="1.6" fill="#111"/>
<circle cx="325.5" cy="778.2" r="1.6" fill="#111"/>
<text x="299.30" y="805.30" font-size="9.3" fill="#1a1a1a" text-anchor="start" font-weight="normal" >P = 0.003</text>
<text transform="translate(240.7,756.6) rotate(-90)" font-size="9.47" fill="#1a1a1a" text-anchor="middle">score C at 28S-4593-SNORD78</text>
<text transform="translate(284.30,821.3) rotate(-45)" font-size="9.5" fill="#1a1a1a" text-anchor="end">amp1q</text>
<text transform="translate(306.80,821.3) rotate(-45)" font-size="9.5" fill="#1a1a1a" text-anchor="end">gain1q</text>
<text transform="translate(329.20,821.3) rotate(-45)" font-size="9.5" fill="#1a1a1a" text-anchor="end">no gain1q</text>
<defs><filter id="gb" x="-20%" y="-20%" width="140%" height="140%"><feGaussianBlur stdDeviation="4.5"/></filter></defs>
<path filter="url(#gb)" fill="#d2d2d2" d="M475.6,717.1 L474.6,731.3 L483.1,741.1 L488.5,749.8 L490.6,767.4 L499.1,778.3 L502.4,793.5 L509.8,806.7 L520.5,817.6 L533.3,828.5 L537.6,837.2 L556.7,837.2 L578.1,830.7 L582.4,815.4 L593.0,797.9 L597.3,782.7 L599.4,769.6 L594.4,755.7 L593.0,749.8 L601.5,734.6 L603.7,721.5 L599.4,704.0 L586.7,693.1 L569.6,690.9 L560.0,694.1 L552.5,689.8 L531.1,693.1 L514.1,694.2 L499.1,700.7 L486.3,708.4 L477.8,714.9Z"/>
<g transform="scale(0.5)" fill="none" stroke-linejoin="round" stroke-linecap="round">
<path stroke="#9c9c9c" stroke-width="1.0" d="M1119 1371l2 4l4 0l4 -2l5 3l1 4l-5 4l-5 2l-4 -2l-6 -1l-5 5l1 6l2 6l4 4l5 1M958 1456l-7 -3l-6 -2l-5 -3l-3 -5l-7 0l3 -6l4 -5l-3 -4l-1 -6l2 6l2 6l0 6M1020 1382l6 3l5 0l1 -7l-3 -4l-4 3l0 6l5 1l6 -2l3 -6l7 0l4 5l0 5l-7 1l-4 -2M1130 1692l5 0l-7 -1l-2 -4l2 -7l0 -5l-2 -4l-4 -6l-4 -4l-1 -7l-5 -2l-6 0l-4 5l-4 6M951 1425l-3 -4l0 -6l0 5l1 5l-2 4l4 3l1 5l-5 2l-6 4l-6 3l-5 5l-1 5M1009 1565l-6 -4l-5 1l-3 6l-5 2l-4 0l-7 0l-5 -5l5 -5l-1 -5M1164 1399l3 -6l-3 -4l-6 -4l-5 -3l-3 6l-5 5l-4 -1l2 -6l3 -4l5 1l5 4l3 6l1 6l5 2M1182 1604l2 4l3 6l5 1l2 -4l0 -6l1 -6l0 -7l1 -5l-5 -4l-6 -2l-5 0l-5 -4l0 -5l3 -5M1001 1582l4 2l4 4l0 6l-3 5l-7 -1l-6 -3l5 1l5 3l-1 5l-4 3l6 0l2 -5M989 1503l-1 -4l-3 -6l4 -5l0 -6l2 -4l6 -3l4 -2l4 1l6 0l6 0l5 1l5 0l4 -2l-1 -6M1154 1681l5 3l6 -1l4 -5l-3 -6l3 -4l-2 -7l-6 2l-2 -4l2 -4l3 -6l5 -3l5 4l0 6l-4 5M1058 1608l-1 6l-3 6l-5 2l-6 0l-4 -2l-3 -6l-2 -5l6 -4l6 -3l5 -4l-2 -4l1 -5l1 -6l2 -5M964 1427l4 4l6 4l5 1l5 1l6 4l5 4l2 7l-2 5l0 7l-1 7l-1 5l-2 6l1 6l-6 2M1060 1651l4 -6l-1 -5l-3 -4l-5 -2l-6 -2l-5 -2l-6 -2l-7 2l-6 4l-5 0l-5 -4l-1 -5l-1 -6l-2 -4M1100 1681l5 2l5 5l1 6l-3 -6l-7 0l-5 1l-4 6l-2 -4l-6 -1l-5 -3l-4 -3l-6 -1M1093 1394l6 1l4 3l2 6l7 0l2 -5l2 -5l4 -3l3 -5l5 -3l5 -3l2 -5l1 -6l-4 4M1127 1637l0 7l4 4l4 -5l1 -6l-2 -6l-6 -3l-6 1l-1 7l3 6l6 2l5 -4l1 -6l-3 -4l-5 0M1189 1570l-4 3l-5 -4l-5 -3l-5 4l1 7l5 1l4 -5l0 -5l0 -6l-5 -4l-6 -4l-7 -1l-3 5l3 6M1199 1579l2 5l3 4l1 6l-2 6l-3 6l-5 1l-4 -6l2 -6l5 1l4 1l-6 4l-7 2l-7 1M994 1384l-4 -2l-1 -6l-5 2M1163 1653l-5 -1l-6 -1l-6 -1l-5 -1l-7 2l-4 4l-3 6l-2 6l0 5l2 5l3 5l3 4l2 4M1127 1614l1 -5l4 -3l4 5l-5 5l-4 -4l-4 -2l3 -4l5 -3l6 2l2 4l-2 5l-5 2l-6 1l-1 -4M1012 1590l-3 -3l-2 -5l1 -4l3 -4l3 -6l4 -1l7 1l6 -2l1 -5l-2 -5l1 -7l-2 -7l-3 -5l-1 -5M1199 1479l3 -4l5 -4l5 -2l7 0l-6 0l-4 -4l0 -5l0 -5l3 -4l6 2l6 1l-6 -1M1122 1384l5 5l-1 5l-3 7l-3 5l1 5l3 6l3 5l5 3l5 2l4 6l3 4l2 4l-1 4l3 6M967 1489l-1 6l1 6l-3 6l5 3l6 4l4 4l0 7l-4 5l-5 3l-4 -4l2 -5l7 -3l6 0M1040 1372l-3 3l-4 1l-1 7l4 1l5 -3l5 -3l3 -6l-6 2l-4 -1l5 1l4 4M1222 1447l-2 -4l-5 -4l-4 -5l-4 -5l-5 2l-6 4l-7 0l-5 -1l-5 -4l-1 -5l0 -6l5 -3l6 -3M1189 1481l4 4l3 6l4 5l-6 -2l-6 -2l-2 -6l-1 -5l0 -6l-3 -4l-6 -1l-5 2l-6 2l-4 6M1061 1392l0 -6l-1 -7l-6 -3l-1 5l1 4l3 5l4 2l6 -4l1 -7l-6 -4l-4 -4l-2 7l-4 -2M973 1418l-1 7l-6 0l-6 0l-5 -2l-3 -5l-2 -6l6 -2l5 -3l1 -5l2 4l4 5l1 6M1148 1651l5 1l5 -1l4 -3l5 -2l4 -5l5 -3l3 -7l4 -6l5 -3l6 -2l2 -5l1 -6l0 -6l-4 -5M1157 1456l-3 -4l-6 -1l-4 1l-5 2l1 6l4 5l3 4l0 7l7 1l5 -4l5 -4l0 -4l-6 2l-4 5M1132 1373l5 -4l2 -6l0 6l-2 7l-4 3l-6 -1l-5 0l-5 -5l3 -4l5 -1l1 5l-6 4l-6 -4M1089 1675l-6 -1l-3 5l-2 4l0 4l7 -2l2 -5l0 -6l3 -4l-4 -6l-5 0l-7 3l-2 5l-5 4l2 6M1090 1528l4 -4l4 -3l4 -5l-2 -7l2 -4l-1 -5l0 -5l2 -6l3 -3l3 -6l3 -4l5 -5l4 -6l1 -6M993 1407l3 5l3 6l-1 7l-4 4l-2 4l1 6l5 3l5 0l6 2l5 3l4 5l1 5l-3 4l-1 4M1158 1619l-2 -7l-3 -6l-4 -3l-6 0l-2 4l-2 5l-1 7l1 5l1 4l-5 3l-5 2l0 4l3 6l4 3M1201 1572l-5 -4l-5 -3l-4 -4l-2 -5l-4 -5l-6 0l-6 -2l-6 -3l-2 -5l0 -6l2 -6l0 -6l2 -4l0 -7M1208 1556l-1 6l0 6l4 5l-6 -4l-5 -4l-7 -2l-6 2l1 6l2 5l1 6l-5 4l-5 -3l-7 0M1130 1632l7 1l5 -2l1 -7l-1 -6l-3 -6l-5 1l-5 -1l-5 3l-2 4l3 3l6 1l4 2l-3 4l-4 4M950 1417l2 6l-6 4l-5 0l-7 0l2 5l3 6l6 3l6 -2l2 -4l2 -6l2 -4l1 -5l-2 -5M1044 1391l4 4l1 5l-2 5l-4 2l-6 -2l-1 -5l1 -6l5 2l6 5l-3 4l-7 -1l-4 -3l-2 -5l-1 -7M1093 1682l-6 2l-5 -2l-6 0l-6 -2l3 -5l7 0l5 1l6 0l6 1l6 2l-3 5l-7 2l-6 0l-5 -3M1216 1401l1 6l4 3l-5 -1l-4 -4l-4 -2l-5 2l-6 2l-5 4l-2 4l-4 6l-5 1l-4 -4M1104 1479l-2 -4l-1 -5l1 -6l4 -2l6 -1l6 4l4 3l2 4l0 7l-3 5l-3 6l-4 3l-4 -4l0 -5M1160 1638l-6 -4l-2 -6l-4 -4l-6 2l4 4l4 4l5 -1l5 -1l4 -3l2 -5l-2 -7l-6 -2l-5 -5l-4 -6M1002 1601l3 -4l3 -4l2 -5l-5 -5l-4 2l-6 1l-4 3l1 6l6 -2l6 -3l5 -1l6 -4l0 -4M1215 1430l-5 -2l-4 3l2 5l2 6l3 3l3 3l6 1l0 7l-3 5l0 5l-7 -3l-6 -1l-2 -6M1104 1491l2 6l4 5l5 -1l-1 -6l-5 -5l-3 -5l3 -5l7 0l4 5l1 6l-3 4l0 5l3 5l5 3M1213 1538l3 -4l-6 1l-5 -2l-5 2l-4 1l-1 6l4 6l1 5l-5 5l-1 6l-1 5l-3 5l2 7M988 1551l1 7l-2 7l-3 -6l2 -6l-2 -6l2 -5l6 -4l4 -5l1 -6l-4 -3l2 -6l6 -3l5 0M1022 1631l0 -5l-1 -6l-2 -5l-4 -6l-4 -3l-5 -4l-5 -4l-4 -2l-4 -5l1 -7l6 -3l6 0l6 3l5 -1M1171 1370l4 5l-1 4l-4 6l-4 1l-5 -2l-5 -5l3 -4l6 0l2 4l-2 5l-3 6l-3 5l-4 4l-5 1M1023 1436l0 -7l-3 -3l-7 2l-1 7l-5 2l-2 -7l5 -4l3 3l3 5l5 5l-2 5l-4 4l-1 7l-5 0M1143 1670l5 -4l4 -5l4 -4l2 -5l5 -4l6 -1l5 5l-3 4l-4 4l-5 4l-5 -5l-3 -3l-5 -1l-7 1M1004 1399l5 -2l-2 -6l0 -6l0 -5l4 -4l1 7l-2 6l0 7l4 6l3 4l4 5l4 3l6 0M1091 1424l-3 4l-6 3l-5 3l-5 3l-1 5l0 7l4 3l4 5l6 -1l5 0l7 1l5 -1l1 -7l6 -4M1202 1385l-3 6l-4 5l0 5l2 6l-3 4l0 6l3 5l1 4l3 6l3 6l3 6l-1 4l-3 5l-1 4M1188 1407l-5 -1l-2 -6l2 -7l0 -5l2 -6l4 0l3 4l-5 5l-5 2l-5 1l-3 -4l0 -6l3 -6l5 -2M1201 1579l-7 2l-5 1l-1 6l3 6l6 0l4 -3l-2 -4l-7 2l-6 0l-5 0l-1 -7l6 -1l6 2l4 3M1163 1666l0 -5l-3 -4l-3 -4l1 -5l3 -5l4 -4l4 -4l5 -3l6 -2l5 -2l4 -2l-6 1l-5 3M929 1454l5 -2l4 -2l4 0l6 1l0 5l-3 5l-3 4l-6 1l-5 0l1 -6l5 0M1109 1408l2 5l3 4l5 1l6 -1l4 2l-3 6l-4 1l-5 3l-7 -1l-4 -4l-1 -5l-2 -5l-3 -3l-6 -1M1216 1453l-5 -1l-5 0l-3 -5l0 -6l3 -3l6 2l2 4l-1 4l-4 4l-6 -2l-5 2l-6 2l-3 -4l2 -5M1179 1549l3 6l-3 5l-2 5l-5 -2l-4 -4l0 -6l3 -4l6 -1l6 2l5 3l3 4l-2 5l3 5l3 5M994 1477l1 -5l3 -6l4 -3l4 -3l2 -4l6 -3l6 1l7 0l3 3l0 7l1 5l-2 6l-6 4l-5 -1M1156 1454l6 0l6 2l4 4l6 1l7 -1l7 2l4 -3l4 -4l1 -6l-1 -5l1 -4l-4 -5l-3 -5l1 -7M1206 1492l-7 2l-5 3l4 4l4 -4l-4 -5l-5 -1l-6 2l-4 4l-2 4l1 7l-5 3l-6 2l-4 -3M1153 1540l6 3l1 6l-7 1l-5 -3l-4 -6l1 -7l4 -3l7 2l-1 4l-5 -3l-5 1l3 6l3 6l5 1M1138 1387l3 -6l4 -4l4 -2l7 -1l5 -4l6 -2l6 2l4 3l-3 6l-6 3l-5 -4l-2 -4l2 -5l6 3M1124 1396l-2 -5l5 -4l4 -1l3 4l0 5l-1 7l-2 6l-6 2l-4 -5l-5 -5l1 -6l-3 -5l-2 -6l5 -5M1126 1646l-6 3l-3 6l1 5l4 1l6 -3l3 -5l-1 -5l-4 -5l-4 -4l-5 4l1 6l2 7l6 1l6 -2M1178 1370l4 4l2 5l-2 6l-6 0l-5 2l-6 3l-7 0l-3 -4l-3 -4l-4 -4l-3 -4l-2 -6l4 5M1039 1377l-6 0l-2 6l2 5l6 4l5 -1l6 2l6 -2l5 0l5 2l3 5l2 6l-3 6l-2 5l-5 3M1139 1609l-4 -3l-1 -5l-2 -4l-1 -4l2 -5l4 -3l5 -5l2 -6l-2 -6l-6 -1l-5 0l-6 -1l-4 -1l-3 -3M1202 1479l4 -5l0 -6l-1 -7l-3 -6l-1 -6l-6 -2l-6 0l-2 6l-1 6l-4 5l-5 3l-6 -2l-7 0l-7 2M1070 1481l-2 4l-2 7l-6 2l-3 -3l4 -5l5 -3l4 4l-2 7l-7 1l-5 -1l-4 -5l0 -6l2 -7l6 0M991 1557l-3 5l7 0l3 4l0 5l-3 4l-3 6l4 3l6 1l7 1l4 -4l4 -5M1207 1449l6 2l1 -5l-2 -5l-7 -1l-3 4l-2 6l5 5l4 3l1 5l-4 3l-4 4l-5 -1l-4 -5l1 -6M951 1418l5 2l4 3l1 7l-4 3l-7 0l-1 -6l-4 -6l-5 1l3 4l5 4l5 -3l-2 -5l-5 2l-1 5M1170 1501l6 2l4 -2l4 -2l5 -3l3 -5l-1 -5l0 -7l-6 3l-3 3l-2 4l-3 4l3 4l4 3l6 -2M1084 1691l-5 0l-4 -4l-4 -6l2 -4l5 -1l4 3l4 5l5 3l5 0l7 -1l6 2l6 4l-1 -6M1035 1408l-4 2l-6 -1l-6 0l-3 -3l-3 -3l-2 -5l-1 -6l0 -6l-1 -6l5 3l4 6l-1 6l-5 3M1109 1386l-3 -6l1 -6l1 -6l-3 -4l-6 -4l2 6l1 5l-3 4l-6 0l-5 -1l-3 -6M1205 1448l3 -5l6 -4l5 -5l6 -3l5 -3l-4 3l-4 1l-3 6l-5 2l-7 -1l-5 2l-4 2l-2 5M1173 1502l-1 -7l-1 -5l5 -4l5 0l6 2l5 2l3 3l-1 4l-3 6l-4 2l-4 2l-6 1l-5 -1l-3 -4M1112 1694l-5 1l7 -2l4 -2l1 -4l-3 -5l-5 -3l-4 -2l-6 1l-3 4l-4 2l-2 -4l-1 -6l3 -3M1188 1580l1 7l2 5l4 2l6 1l5 -1l-6 0l-7 2l-5 2l-5 5l-3 6l-1 6l0 7l0 5M1090 1630l-3 6l-5 5l-7 0l-5 -1l-6 -2l-5 3l3 6l3 6l3 5l4 5l5 3l5 3l5 -3l4 -5M1157 1367l0 5l7 -1l6 0l-3 5l1 6l6 2l7 0l1 5l-1 6l4 4l3 4l1 6l3 5M1161 1677l-6 -1l-5 1l-2 7l-4 -4l-6 -3l-1 5l4 6l6 -2l2 -6l-4 -4l-4 -2l-5 0l-6 3M1113 1549l6 -2l2 -5l0 -5l-4 -4l-5 0l-1 6l1 5l4 3l4 -3l3 -4l-3 -5l-6 -2l-6 1l-6 4M1085 1696l-6 1l6 -3l-3 -4l-6 -1l-4 -2l-2 -5l6 -1l6 -2l1 -6M1133 1630l-6 1l-4 -5l-2 -6l4 -3l4 3l0 7l-6 4l-4 6l2 5l6 3l4 -2l-3 -6l-3 -5l-6 1M1112 1467l-5 -2l-6 -2l-3 -6l-2 -5l0 -6l3 -4l4 -5l1 -4l1 -5l3 -5l6 -4l6 -1l5 2l6 1M1030 1635l-5 -1l-2 -4l4 -5l5 -4l5 0l7 1l6 -1l2 -6l4 0l5 0l5 0l5 2l7 -1l7 -1M1031 1392l4 4l-1 4l-5 5l-3 4l-5 0l-6 -2l-3 -4l-2 -6l5 0l-3 3l2 7l6 -1l6 2l1 5M1067 1389l-3 -4l-6 -2l-6 3l-3 5l6 3l5 0l6 2l4 -1l2 -7l6 -3l7 2l2 4l-1 5l-2 6M973 1512l-2 -7l-4 -2l-5 -3l-3 -6l-4 -3l5 1l5 -3l4 -5l-2 -4l-4 -4l-7 -2l-6 2l-4 4M1092 1588l5 -1l4 -3l6 -2l6 -3l2 -4l-4 -6l-4 5l3 5l3 4l7 -1l3 -3l-2 -5l-5 -2l-6 1M1206 1567l0 6l-4 5l-4 3l-6 4l-6 1l-6 -2l-4 -5l-5 -3l-3 -5l-7 -2l-6 -3l-6 0l-4 3l-7 1M1197 1574l3 4l6 -2l1 -5l-3 -6l-2 4l-5 0l-1 -6l6 -2l3 3l-3 5l-1 6l2 5l4 4M1167 1436l-5 -5l-1 -5l4 -4l3 -4l6 -1l5 5l0 6l-3 3l-4 2l-7 -1l-6 0l-3 -5l-3 -5l0 -5M1077 1681l-1 -5l1 -5l1 -5l6 -1l6 2l3 5l-2 6l-3 5l2 4l1 7l1 5l-4 -5l-2 -4M1195 1411l-7 0l-4 -2l-7 -1l-5 1l-4 5l-6 2l-5 -1l-3 -5l0 -5l-2 -6l-3 -6l-1 -5l-2 -4l-4 -5M1071 1630l-5 5l-1 5l2 5l6 4l7 1l5 -3l4 -5l-1 -5l-2 -5l-1 -7l-2 -4l-2 -6l7 -2l4 3M1095 1385l-2 -5l0 -6l4 -3l5 -1l5 1l4 -4l-4 6l-4 3l0 6l-3 6l-2 5l-4 4l-4 4M967 1479l-5 1l-6 -2l-5 -1l-5 -4l-2 -4l-3 -4l-2 -6l3 -5l0 -6l-1 -7l0 -5l-4 -3l-5 -1M976 1463l-4 1l-7 -1l-5 1l-6 -3l-7 -2l-6 -1l-6 0l0 -6l0 -5l2 -5l1 -6l4 -4l6 -3M1200 1483l2 5l-4 5l-7 -3l-1 -5l6 -4l2 -6l7 -2l4 2l-2 5l2 5l-2 -6l-4 1M928 1450l5 -2l6 2l4 6l-1 6l5 4l6 -2l6 -3l4 -3l-1 -5l1 -5l0 -6l-4 -4l-6 -1l-6 -3M958 1414l1 6l5 2l5 -1l4 -6l-2 -6l-5 -4l-4 -1l-3 4l-2 4l2 4l6 2l5 0l1 4l-4 4M1154 1624l-4 5l-2 7l3 5l5 3l5 2l1 5l-4 2l-6 1l-5 -3l-4 -3l-2 -5l5 -5l1 -6l-2 -6M1125 1391l6 4l7 2l5 0l4 5l3 4l-1 6l0 6l-2 5l-4 5l-3 4l-5 4l-4 4l-2 4l-1 6M1091 1682l5 3l4 1l4 -5l1 -5l-1 -6l-3 -5l-5 -4l-5 -3l-2 -7l-1 -4l5 -4l6 -2l4 -3l5 -3M1002 1580l1 -4l5 -3l4 3l4 5l-3 5l-4 2l-6 -1l-5 -3l-4 -5l3 -6l5 -5l0 -5l-3 -3l-5 1M1068 1676l-5 -3l-5 -1l5 4l-2 -6l-2 -5l0 -6l-1 -4l-1 -5l-1 -5l6 -4l4 -2l7 -2M1198 1499l-4 -2l-1 -6l0 -7l-2 -5l-3 -6l-5 -3l-5 2l-5 1l-6 -1l-5 1l-6 1l-6 4l-6 3l-5 5M1036 1635l-1 5l-2 5l-5 -2l-1 -7l-1 -5l-2 -7l-2 -5l-6 3l-6 3l-4 -3l6 -2l5 0M975 1535l6 3l6 1l5 4l3 4l3 7l-2 5l-5 -3l-5 -5l0 -6l5 -1l3 3l0 6l-4 2l-5 1M1186 1624l-6 4l-6 0l-5 2l-6 1l-6 -1l-5 0l-6 2l-6 -2l-5 -2l-6 -3l1 -6l0 -5l0 -5l5 -5M1079 1674l-1 -5l-1 -5l6 -3l6 -3l5 -2l5 -2l3 6l-1 6l-4 2l-6 -2l-4 2l-4 -5l-4 -5l0 -5M1080 1454l-2 -5l-2 -6l-5 -4l-5 0l-3 4l-1 7l2 6l6 4l6 1l5 -5l4 -5l1 -4l5 -2l7 1M1187 1392l1 -6l-5 -4l-5 4l-3 5l-2 7l5 4l5 -4l4 -4l3 -4l0 -5l-5 -2l-7 2l-3 6l1 6M1016 1378l6 0l2 5l-2 4l-5 0l-4 -6l-5 -3l-3 4l0 7l4 5l4 2l4 -2l6 2l-2 5l-2 7M977 1413l-2 -4l4 -6l6 -1l5 5l0 5l-1 6l-2 6l-5 4l-4 2l-5 -2l-4 -3l0 -4l3 -4l7 2M1029 1564l-7 -1l-6 -1l-6 1l1 6l5 4l5 -1l3 3l1 7l6 4l5 1l5 1l2 5l-1 5l-5 4M1162 1680l1 -7l-1 -5l-5 0l-4 3l-4 4l-3 4l0 5l6 2l4 -5l2 -5l-2 -5l-7 0l-3 4l1 7M953 1468l6 0l4 -1l1 -6l-5 -3l-6 2l0 4l4 5l3 4l6 -3l2 -6l-3 -4l-6 -3l-5 1l-3 5M1013 1625l0 -5l-2 -6l-1 -7l1 -4l2 -5l-1 -6l-5 -3l-6 -1l-6 -2l-5 1l1 -6l-1 -7M1099 1376l3 6l4 5l-1 5l-1 6l-2 5l-2 6l-5 4l-1 6l3 4l4 3l4 3l6 -2l5 3l6 0M1101 1380l-3 6l0 4l3 6l7 1l5 -5l5 -3l-2 -5l-2 -4l1 -4l5 -3l4 2l0 5l4 4l4 3M1050 1441l-5 5l-5 2l-3 -7l5 -5l7 1l4 2l7 2l2 7l5 -1l4 -5l-4 -5l-1 -5l3 -5l6 -1M1111 1683l-3 5l-7 3l-4 2l-6 -3l-1 -6l1 -7l1 -6l-1 -4l5 -4l7 -1l6 3l4 2l5 -2l5 1M1204 1482l5 3l1 5l-3 -5l-5 -4l-4 -5l-1 -5l-1 -5l-6 -1l-6 1l-4 4l-3 5l-3 5l-1 5M1155 1658l4 3l2 6l0 6l1 5l-2 4l-6 3l3 -4l7 -1l-5 0l-4 4l-7 2l-5 0M1115 1384l-3 -6l-1 -6l-2 -6l0 5l2 4l3 4l5 4l5 3l4 5l3 7l2 5l-1 5l2 5M1131 1382l-3 -4l-3 -6l-4 5l-4 -2l-4 -5l3 4l6 2l0 -5l-1 5l0 4l4 2M1193 1603l-5 5l-5 4l-1 7l-4 3l-7 2l-4 5l-5 4l-4 3l-4 6l-4 2l-5 4l-3 3l-7 3l-1 5M1127 1384l-6 -1l-5 -1l-5 -2l-7 0l-5 -2l-4 -4l-5 -5l-6 2l-6 -3l3 3l1 4l-5 4M1121 1626l5 1l6 -3l1 -7l-6 -3l-5 2l-5 4l-6 2l-4 -4l0 -5l3 -5l2 -6l6 -3l6 1l2 5M1163 1671l1 6l-7 2l-4 -3l2 -6l-5 -1l-1 -4l1 -4l3 -4l5 0l5 -1l4 -3l-2 -5l0 -5l-2 -5M1209 1559l-4 -2l-5 -4l-6 0l-6 -1l-6 -1l0 -5l-2 -5l-4 -5l-6 -1l-5 -5l-2 -6l6 -4l5 -3l4 -5M1203 1472l4 -6l5 -5l4 -3l4 -5l3 -5l-6 3l-6 2l-4 4l-1 4l-6 3l-5 2l-5 -1l-6 -3M1167 1641l6 1l5 -1l-2 -5l-5 -1l-4 4l-3 6l-4 3l1 6l3 6l4 2l-5 4l0 5l0 6M1104 1694l0 -5l-1 -4l-1 -6l2 -5l0 -7l-5 0l-6 3l-6 3l-5 -1l-5 0l-5 3l-4 -3l-4 -2M989 1393l0 -6l6 0l5 -1l4 -4l6 4l4 -4l6 1l6 1l4 4l-1 4l-5 1l-4 -4M1145 1527l6 0l1 4l-4 3l-5 0l0 -6l3 -6l3 -4l4 -6l-4 -4l-5 3l0 7l4 1l5 -2l-3 -6M1190 1606l4 5l4 3l1 -6l0 -5l-2 -4l2 -6l5 0l-2 -6l1 -5l1 -5l0 -5l0 -6M1108 1693l2 -5l7 -2l3 4l4 3l6 -2l5 -5l2 -5l1 -7l-5 -3l-5 -1l-3 -3l-4 1l-4 5l3 5M1199 1608l-1 7l-6 -3l-4 -3l-4 -3l-5 -4l-4 -2l-7 -2l-6 2l-2 4l-1 4l-1 7l-2 6l3 6M1096 1649l4 5l4 1l3 -5l2 -4l2 -5l4 -4l5 0l6 1l5 4l1 6l-2 6l-4 4l-6 4l-1 -6M1027 1640l-5 -3l-5 -6l-5 -2l6 0l4 -5l3 -4l-2 -6l-5 -4l-4 -3l-7 -1l-4 6M1056 1644l5 -6l6 -1l2 4l-1 6l-3 5l0 7l-2 6l-2 6l0 -4l-6 -2l-2 -4l-7 1M1166 1424l5 -4l5 -4l6 -4l4 -3l4 -5l3 -4l5 -5l7 -3l3 -5l-4 5l-2 6l0 5l3 4M950 1448l-5 1l-5 -4l3 -5l5 0l5 2l7 2l3 3l0 5l-3 4l-5 2l-4 -3l-5 2l-6 1l-7 1M1197 1420l-3 5l5 3l5 1l5 0l7 -2l4 -3l0 -7l-4 -4l-6 -3l-4 -3l-2 -5l-5 0l-5 0l-4 4M1075 1655l-6 4l-3 6l0 6l-2 6l-2 -6l-5 -4l-6 -2l-5 -2l0 -5l-1 -6l1 -5M1208 1578l-5 -3l-5 1l-3 4l1 5l5 1l5 -3l3 -5l2 -5l0 -6l-5 -1l-2 -4l-1 -5l5 -3M1025 1618l5 1l4 -1l5 0l5 2l1 5l3 6l2 5l1 7l-1 5l-2 6l0 7l3 5l3 6M1023 1378l6 -4l-1 -5l2 5l6 2l6 2l6 1l6 0l2 -4l4 -2l3 -6l2 -7M1062 1603l4 4l4 3l1 6l-1 5l0 5l4 4l3 4l4 3l5 3l5 -2l6 -2l4 1l7 2l4 3M1172 1638l-7 2l1 -7l6 0l1 6l1 5l-2 6l-6 2l-7 -1l-2 -6l4 -4l5 -1l-1 -5l-5 -2l-3 -7M1176 1618l-6 -1l-6 4l-5 -3l-1 -5l0 -5l3 -3l3 3l-1 5l-4 3l-3 -3l-1 -5l4 -4l4 3l3 -3M1112 1402l6 0l4 2l3 4l2 7l6 0l-1 -4l4 -4l6 -1l5 4l4 -3l5 1l5 1l4 -3l-2 -6M1088 1541l-3 6l-4 3l-3 -5l-4 -6l-2 -6l-2 -5l1 -7l5 -5l5 -4l3 -3l6 -3l5 -4l4 -2l6 -2M1177 1590l-1 -6l1 -7l-3 -4l-1 -5l5 -5l5 3l3 4l-3 5l-6 2l-3 3l-1 6l-5 1l-5 2l-2 5M1153 1606l-7 1l-3 -5l-2 -5l4 -4l7 1l4 4l0 6l-2 6l-5 0l-6 -3l-5 -1l-1 -6l4 -4l5 1M1189 1546l-1 -5l-3 -4l-5 -2l-5 1l-4 2l0 4l3 6l5 0l6 -1l-2 -5l-3 -5l-5 1l-3 4l1 5M974 1520l-2 -7l-3 -5l-6 -4l5 -1l6 -3l0 -7l-3 -6l-3 -5l3 -5l4 -4l4 -4l4 2l4 4M1065 1412l3 5l4 2l0 -5l5 -2l5 1l4 6l-1 4l-5 3l-4 -4l-2 -5l-1 -5l3 -5l5 0l0 6M1153 1673l5 2l5 1l5 0l-4 0l-3 4l4 -3l-5 5l0 -5l-3 -5l-5 -3M1221 1421l-4 6l-2 7l0 5l2 4l1 7l-1 5l-3 5l-2 5l-3 4l-5 4l0 7l2 4M1036 1643l-4 2l4 0l5 -3l6 -5l4 -4l3 -6l2 -4l6 -4l4 -3l5 -4l5 -2l5 1l6 0M1166 1682l-6 1l-3 -5l-2 -4l1 -4l1 -7l5 -5l5 -1l4 3l-3 6l-5 1l-4 -5l1 -6l1 -4l6 -1M1024 1428l-4 -3l0 -6l5 -5l4 4l-3 6l-5 4l-1 6l4 5l6 -3l4 -5l-4 -2l-6 1l-3 4l-6 0M1198 1486l2 6l-1 7l3 6l-4 5l1 7l6 0l5 -3l4 5l1 4M1079 1669l-3 6l-1 5l-1 6l-2 7l5 1l6 0l6 0l5 2l-4 -5l-4 -2l-5 2M995 1570l1 -5l3 -6l1 -6l1 -6l2 -7l0 -5l2 -4l4 -4l2 -4l3 -6l-4 -4l-5 1l-7 1l-3 4M1019 1609l-5 -3l-3 -4l-7 -2l-2 6l-2 4l1 -6l1 -5l-1 -6l-6 -4l-2 -6l-3 -7M1165 1459l-6 0l-5 -2l-4 -2l-3 -5l-2 -6l-3 -4l-3 -5l1 -5l4 -3l5 -1l6 2l2 5l-1 5l-2 5M1040 1656l-4 -4l4 -4l0 -5l-2 -6l-5 -2l-6 -4l0 -5l-5 -3l-6 1l-4 3M995 1589l-2 -6l5 0l3 4l2 6l-2 4l3 6l3 6l7 0l3 -4l0 -6l0 -6l3 -6l3 -4l1 -5M1018 1579l-3 -5l-6 4l2 5l2 5l4 5l6 3l5 -2l0 -7l-5 -3l-5 5l-1 5l5 1l4 -5l4 -2M1070 1617l5 -4l4 4l-2 7l-1 6l1 5l2 5l-3 4l-5 3l-7 0l-5 -4l-5 -4l-5 -3l-5 -2l-7 -2M1120 1529l-5 0l-5 -3l-6 -3l-4 -2l-4 -3l-3 -6l-3 -6l2 -4l-3 -5l-3 -3l-5 -4l-4 -2l-6 -2l-5 -4M1148 1672l1 -7l6 -3l0 6l-4 3l-2 4l-4 4l2 7l4 1l6 2l3 -5l4 -2l-2 -4M997 1560l-6 4l-5 4l5 1l5 2l5 1l4 3l4 3l6 0l4 2l0 6l-1 5l-2 5M1172 1410l-1 -4l0 -5l2 -6l3 -6l3 -4l4 -2l4 -2l6 3l0 6l1 5l-2 6l-1 5l-4 4l-7 1M1151 1672l5 2l5 0l6 2l-1 7l0 -7l-3 -4l-4 2l3 4M1039 1638l-7 0l-6 0l6 -4l5 -5l3 -6l-2 -5l-3 -3l-4 -2l-7 1l-6 -1l-4 -5l0 -6l-4 -4M1033 1532l-5 -4l-3 -5l-1 -5l-3 -4l-3 -6l-1 -6l1 -4l-3 -4l-5 0l-6 1l-4 5l6 4l6 1l7 2M1197 1561l4 -4l5 2l0 5l-3 6l-5 -5l-4 3l2 6l7 0l5 -3l2 -6l-1 -5l-5 0l-4 3l4 5M1193 1459l2 4l3 6l-5 3l-4 -1l-5 -5l-3 -6l-4 -3l-4 -5l-4 -5l0 -6l4 -5l3 -4l-2 -6l-4 -5M1166 1469l3 -3l2 -7l-4 -6l-5 0l-6 3l-4 0l-5 1l-4 3l1 6l2 4l5 2l5 0l2 -4l6 1M1080 1660l-3 -5l-5 1l-4 3l0 5l5 1l7 -2l1 -4l-5 -4l-6 -4l-6 -1l-2 4l2 6l5 3l5 4M958 1496l1 -7l-3 -4l-5 -1l5 0l5 3l5 2l3 4l1 6l-1 7l3 5l2 4l5 0M956 1419l4 -4l5 -3l5 -3l5 1l4 0l6 3l5 4l6 1l3 -4l3 -5l0 -6l3 -5l3 -4l4 -4M1204 1589l-6 1l-5 -3l-5 -3l-7 -2l-6 -2l-4 2l-6 3l-4 3l-3 4l1 5l4 4l2 5l1 5l5 1M951 1413l6 3l7 -1l4 -4l3 -3l4 -2l7 -2l6 1l6 0l5 3l5 -1l6 -1l7 1l4 -5M1021 1394l-4 3l-4 2l-7 2l-7 1l2 -6l0 -7l2 -4l-4 -3l-3 4l-4 1l-5 -4M1062 1574l6 2l1 7l-3 5l-5 5l-5 -3l0 -5l-4 -4l-5 0l-4 4l-1 4l4 3l5 2l6 -4l6 0M1058 1496l4 6l1 6l0 7l3 5l1 7l2 7l0 5l-6 4l-6 3l-4 3l-4 3l-3 4l-5 4l-5 1M1134 1596l-1 -5l-5 0l-6 3l3 5l3 5l5 4l7 1l4 -5l3 -4l-2 -5l-5 -1l-6 -2l-3 -4l-6 -4M1067 1390l-3 -5l-3 -5l-2 -5l3 -4l6 -2l3 5l1 5l-4 6l-3 3l-7 1l-6 -2l-3 -3l0 -5l5 -4M1035 1375l6 4l7 0l4 -4l1 -5l5 4l4 1l7 1l5 -2l4 -3l-1 7l5 4M1107 1689l-2 5l5 -5l4 -3l1 -6l1 -6l-4 -6l-2 -6l-2 -7l0 -5l1 -6l2 -5l-7 0l-2 -5M1182 1395l-3 6l-5 2l-6 1l-2 -5l6 -2l2 5l1 6l-5 2l-4 -4l0 -6l6 -1l-1 6l-3 5l-5 4M1147 1679l3 5l-4 -2l-6 -4l0 -5l7 0l5 3l0 7l-5 3l-4 0l-5 -5l3 -4l1 -6M1047 1638l-1 -5l-4 -2l-5 -1l-4 -4l-5 0l-5 -4l2 -5l5 -3l3 -5l6 -3l5 0l5 3l3 5l2 5M936 1433l-3 7l5 -3l7 -1l5 -1l4 0l4 2l6 3l4 4l7 2l3 5l5 1l5 1l5 -2M1088 1611l2 -6l-4 -5l-4 0l-6 0l-4 2l-3 5l0 6l4 5l5 1l2 -4l6 0l1 6l-4 5l-7 1M980 1532l-4 -3l4 -4l2 -5l7 1l5 3l7 -1l0 -5l-4 -5l-6 -1l-5 0l-5 -2l-5 -4l3 -7l4 -5M1207 1521l-2 5l5 5l4 5l2 6l0 6l-1 6l-5 3l-7 1l-4 -3l-6 0l-4 -1l-5 3l0 6M1010 1486l6 0l2 -4l-1 -5l4 -5l4 -1l2 4l-2 6l-1 6l-5 3l-6 0l-4 -2l-4 -4l-6 2l-4 -4M1167 1627l-6 3l-4 5l-6 3l0 7l1 5l6 3l6 2l6 -2l4 -2l1 -4l3 -5l3 -4l3 -5l1 -6M1090 1682l-1 5l-1 7l-1 -5l-5 -1l-5 -1l-5 0l6 1l6 2l7 -1l5 -1l7 0l6 4M1179 1508l-6 -2l0 -5l3 -4l4 -2l3 4l-5 4l-5 0l-6 -3l3 -4l5 -1l4 5l-3 4l-7 2l-1 -7M1197 1393l-3 -5l-5 -3l-6 3l0 6l5 3l7 2l7 -2l4 -3l3 -4l-6 -2l-6 0l-4 2M1199 1491l7 -1l-6 -3l-3 -5l1 -5l6 -1l4 4l-3 -5l-4 -4l-4 2l2 4l5 1l6 -4M1079 1496l6 -2l6 -1l4 6l-4 4l-4 -2l-5 -4l-4 -2l-6 -3l-2 -7l-1 -7l5 0l4 1l5 5l-3 6M1157 1633l-1 7l-2 7l3 6l-1 5l4 2l5 1l2 6l-3 4l-7 3l-1 5l0 -6l0 -7l-4 -3M1107 1484l4 -6l6 -3l6 0l4 6l-1 5l-5 3l-6 1l-6 -2l-5 -3l0 -6l4 -3l2 -5l2 -5l0 -5M1164 1648l-1 -6l-2 -4l-3 -4l-4 -6l-4 -5l-7 0l-6 0l-4 -3l-5 -3l-5 -1l-6 2l-6 -2l-7 -2l-5 4M1140 1480l6 1l6 -2l0 -6l-3 -4l-3 -4l-4 -5l-5 1l-5 4l-3 3l0 6l-1 5l1 7l1 6l3 3M1152 1599l-4 -4l-3 -6l-1 -5l0 -5l3 -5l0 -7l-5 -3l-7 3l-1 6l-3 4l-6 1l-5 -1l-5 0l-5 4M971 1543l0 -5l-3 -7l-3 -6l2 5l-1 5l-2 -4l-5 -4l5 1l2 6l0 5l1 5M1043 1372l6 2l4 -3l-6 2l-7 0l-4 1l-1 7l2 5l4 6l3 5l-4 6l-2 5l0 5l0 5M1200 1599l-5 -4l-6 1l-1 5l1 5l2 4l4 1l-5 -3l-2 -5l2 -7l2 -6l4 -4l4 -6l4 5M1137 1667l-2 4l5 4l3 6l4 2l7 -3l6 -2l-1 -5l6 -2l4 5l1 5M1119 1401l-2 6l-4 4l1 5l5 5l-4 4l-3 6l-5 5l-6 1l-5 -3l-4 -4l4 -3l5 1l7 -2l5 -2M947 1424l4 3l5 4l2 6l-5 4l-4 3l-4 2l-7 1l-4 -3l-3 -4l3 -6l6 -1l6 -2l7 -2l6 -4M973 1542l1 7l5 3l4 4l6 2l5 -2l5 -2l-1 -5l-2 -5l-5 1l-5 2l-6 3l0 7l5 1l6 0M993 1547l6 3l6 1l5 -1l6 3l6 3l5 5l6 0l4 5l5 5l5 5l5 1l4 5l7 0l5 4M1014 1396l-1 -6l5 -3l2 -7l6 -2l3 3l-2 5l-6 3l-6 -2l0 -7l7 0l-1 5l3 5l2 6l-1 5M1141 1680l4 4l-5 -3l-1 -4l0 -6l4 -5l3 -5l1 -7l-2 -5l-5 -3l-3 -5l-3 -6l-4 -6l-6 -2M1074 1452l0 -5l-6 -3l-5 0l-5 4l-1 7l-5 4l-5 -2l1 -6l5 -2l4 2l-4 5l-3 4l-1 6l2 7M1090 1688l2 -7l5 -4l3 -4l4 -5l6 -4l4 -5l6 -2l7 1l2 4l-2 4l1 6l2 4l1 6l-5 2M1157 1467l-1 6l-3 6l-5 2l-6 2l-5 1l-6 0l-6 0l-6 -2l-4 -2l-3 -3l-5 -4l-2 -5l-2 -5l-3 -3"/>
<path stroke="#858585" stroke-width="1.0" d="M1024 1522l-2 2l1 3l2 0l1 -3l-1 -4l-2 1l-3 0l-2 -2l3 0M1101 1473l3 -1l3 -2l3 0l3 1l2 2l3 1l2 2l1 2l2 1M1001 1574l2 -3l3 -1l3 0l2 -3l1 -2l0 -3l0 -2l0 -3l0 -3M1094 1561l3 0l3 -2l2 -3l-1 -3l-3 -2l-3 1l-1 2l0 2l-1 2M1051 1614l-3 0l-3 1l-2 -1l0 -3l2 -1l3 0l2 2l0 3l-3 1M1137 1547l-2 0l-3 2l1 2l2 -1l1 -3l0 -3l-1 -2l-1 -3l1 -3M1049 1424l3 -2l3 -1l1 2l2 2l0 3l0 2l0 3l-2 1l-3 0M1166 1586l0 -2l2 -2l3 0l2 2l0 3l-1 2l-2 0l-3 2l-2 1M1119 1681l3 0l1 3l-1 2l-2 1l-3 0l-2 1l-4 0l-3 2l0 3M1185 1550l1 -3l3 -1l3 1l3 2l3 1l2 -1l2 3l1 2l1 2M1089 1590l-3 0l-2 -2l-3 0l-3 0l2 -2l0 -3l-1 -3l0 -3l0 -4M1084 1637l-2 0l-3 2l0 2l-1 2l1 3l1 3l0 3l-1 2l-1 2M1054 1482l-3 -2l-3 -1l-2 -2l-1 -3l-1 -2l-3 -2l-2 2l-3 0l-1 -2M1145 1602l-3 1l-3 -2l-1 -3l2 -3l2 -2l2 -2l3 -1l2 2l0 3M976 1460l2 1l3 -2l2 -1l3 -1l3 1l2 2l-1 3l-3 -1l-2 -2M1118 1398l0 2l0 3l-3 0l-3 -1l-3 -1l-1 -2l-1 -2l-2 -1l-2 -3M1164 1400l-3 0l-1 2l3 1l1 3l-2 2l-2 1l-1 2l-3 1l-2 -1M1109 1653l1 3l2 2l3 1l2 1l2 1l3 -1l2 -3l0 -3l2 -2M1136 1672l-2 -2l-1 -3l-1 -2l1 -3l3 0l3 -2l1 -3l1 -3l2 -2M1190 1576l2 -2l2 -2l3 -1l2 3l-2 3l-3 0l-3 -2l-2 -2l-1 -3M1070 1492l2 2l2 1l2 1l2 -3l2 -2l1 -2l-1 -3l-2 -1l-3 1M1175 1430l1 -3l-1 -3l2 -2l2 1l0 3l0 2l0 2l2 2l2 -1M1090 1453l-3 0l-3 -1l-3 -1l0 -3l1 -2l3 0l4 0l2 -3l-2 -2M1042 1527l1 -2l-2 0l-2 -2l-2 3l2 3l1 3l-2 1l-3 2l0 3M996 1467l0 4l1 2l1 -2l-1 -2l-3 -1l-2 -2l-2 -1l0 -3l3 1M942 1415l3 -1l2 1l3 1l3 0l2 3l2 2l-2 3l-2 3l-3 -1M1050 1531l-2 -2l-3 0l-1 2l-2 3l-2 2l-2 1l-2 2l-1 3l3 0M1043 1581l-2 -2l0 -3l-3 -2l-1 -3l2 -1l2 -1l3 1l3 1l3 -1M1074 1618l1 -3l2 -2l1 -2l2 -1l2 -2l2 -1l0 -2l-2 -2l-3 -2M1007 1524l-2 -2l2 -3l3 1l0 3l-2 2l-3 1l-3 1l-2 -3l-2 -2M1105 1631l2 -2l1 -2l0 -3l0 -2l1 -2l3 -1l1 -3l3 -2l2 -1M1049 1647l-2 -1l-3 1l-3 -1l-3 2l-2 3l-2 -3l-3 1l-1 -2M1174 1427l-2 -2l2 -2l2 2l-1 2l-2 3l3 2l3 0l0 -3l-2 -2M1025 1443l2 0l2 -1l2 -2l-2 -2l-3 2l1 2l2 0l2 -1l2 2M983 1529l-3 1l-3 -1l-1 -2l-1 -3l-1 -2l1 -2l-2 -3l-3 -1l-3 0M1175 1530l0 3l2 2l2 2l-2 3l-1 3l-2 2l-3 2l0 3l-1 2M1022 1560l-2 1l-3 1l0 -3l2 -3l3 -2l2 -2l2 1l2 1l1 2M962 1441l-2 0l-3 1l-1 2l-3 2l-3 2l-3 1l-3 1l-2 3l-1 2M1161 1518l0 -3l0 -3l-2 -3l-3 2l-2 2l-3 2l-1 2l1 2l2 -1M1119 1622l1 3l-2 1l-2 0l0 -3l-2 -3l-3 1l0 2l1 2l2 -2M1030 1572l-1 -3l1 -2l2 -1l3 0l2 0l2 1l-2 2l-3 1l-2 2M1007 1474l3 0l2 -2l3 -1l0 -3l-2 -2l-1 -3l-1 -3l0 -4l-1 -2M1071 1520l-2 2l0 3l2 0l2 -3l2 -2l2 1l3 -2l1 -3l1 -2M1086 1478l0 -3l2 -2l3 -1l2 0l1 3l-2 1l-2 -2l-1 -2l-1 -3M1123 1603l3 -2l2 -2l-2 -2l-3 -2l-3 0l-3 1l-3 1l-1 3l0 2M961 1459l2 2l-1 2l-3 2l-2 -2l-2 0l-3 -2l-3 -1l-1 -2l1 -3M1082 1466l-2 2l-3 -2l1 -3l2 -3l0 3l-2 2l-2 -1l-2 1l-2 3M1041 1572l-1 3l-1 3l-2 2l-2 -1l-3 -2l1 -2l3 0l3 2l0 4M1120 1660l1 3l-1 3l-2 1l-2 -2l2 -3l2 -1l2 0l3 2l1 3M1128 1427l3 0l2 -2l2 1l1 3l2 3l1 2l-2 2l-3 -1l-1 -2M1058 1597l2 -2l2 -2l2 -2l2 0l3 0l3 2l-1 2l-1 3l-1 3M1149 1541l-3 -1l-3 0l-2 1l-2 -1l-1 -2l-3 -1l-2 0l-1 3l-1 2M972 1511l-4 0l-1 2l1 2l2 1l2 -2l2 -1l3 1l1 3l-1 3M1021 1588l-1 2l1 3l2 2l2 1l2 -1l2 -2l1 -2l0 -3l1 -3M998 1412l2 2l2 0l2 -1l2 -3l0 -2l0 -3l2 0l2 0l2 2M1094 1540l-2 -2l-2 -2l-3 -1l-2 1l-2 2l-2 2l-3 2l-2 1l-3 0M1145 1539l-2 -1l0 -3l-1 -3l2 -1l2 -2l3 -2l2 -2l2 -1l3 0M1078 1422l-3 -2l2 -2l1 -3l3 -1l-1 3l-2 2l-2 -2l1 -3l3 -1M1091 1566l-2 -2l0 -3l3 -2l1 -3l2 -2l1 -3l-1 -2l-2 -2l-1 -3M1205 1444l-3 0l-2 -2l-1 -3l-1 -2l-1 -2l1 -3l2 -2l3 -1l3 2M1050 1420l2 -1l2 -1l2 2l2 2l2 2l3 0l2 -1l2 0l1 2M1084 1430l2 -1l2 -3l1 -2l3 -1l0 2l-1 3l-2 3l-1 3l1 2M1019 1548l3 1l1 3l1 3l-1 2l-1 3l-1 3l1 3l3 2l3 -1M1107 1554l-3 0l-3 2l-1 3l-2 2l2 2l2 0l2 -2l2 -3l-2 -3M1170 1437l-3 -1l-3 1l-3 0l-2 -2l-3 -2l-2 -3l-3 -1l-1 -3l-3 -2M1097 1508l1 -3l1 -2l2 -2l2 -2l3 2l-1 3l-3 0l-3 1l0 -3M1159 1647l2 0l3 1l4 0l4 0l1 -2l3 0l-2 -2l-1 -2M1050 1422l1 3l-1 2l-3 1l-2 2l-2 2l1 3l0 3l-3 2l-3 0M1130 1450l0 3l0 2l-1 3l0 2l-2 1l-2 1l-3 1l-3 0l0 2M1062 1661l0 2l0 3l0 3l1 3l0 3l2 3l0 -3l1 -3M1104 1640l0 3l0 3l1 3l1 3l-1 3l1 2l1 2l-2 2l-2 3M1064 1597l0 -3l1 -2l1 -2l1 -2l-2 -3l-3 -1l-4 0l-2 0l-3 0M1026 1496l-1 3l2 2l3 -1l1 -2l3 1l0 4l0 3l-1 3l-2 3M1122 1457l-2 -3l-2 -2l-3 0l-3 1l-3 0l-2 1l-2 -3l-2 -1l-3 -1M1079 1603l-1 -3l-3 -2l-2 -3l-2 -2l-2 -3l-3 0l-3 2l-3 -1l-1 -2M982 1538l-3 1l-2 2l-1 3l0 4l3 0l1 -2l-1 -3l-2 -3l-1 -3M1110 1592l2 1l-1 3l-1 -2l0 -3l1 -2l0 -2l2 -3l2 -2l-1 -3M1102 1453l0 -3l-2 -1l-3 -1l-3 -2l-2 2l2 3l-1 3l-2 3l2 2M1034 1515l0 -3l1 -3l2 -2l3 1l1 3l-2 2l-3 -1l-1 -2l-1 -3M1029 1475l-1 -3l2 -2l2 -2l3 1l0 3l1 3l0 3l1 2l0 2M1029 1374l1 3l-1 3l-1 2l1 3l0 2l-2 2l-2 2l-3 1M1149 1426l-1 2l0 2l1 2l0 3l-2 1l1 3l-1 3l-1 2l-3 1M1025 1570l-2 -2l0 -3l1 -3l3 -1l3 -1l3 2l0 2l2 2l3 -1M1147 1630l-3 0l-3 -1l-2 -3l0 -3l0 -3l-1 -2l-2 -2l0 -3l0 -3M1111 1605l-2 -2l-2 -2l-3 -1l-1 -2l-2 2l0 3l1 3l2 3l2 2M1007 1548l2 2l1 3l0 3l-1 3l-3 2l-1 2l2 -2l2 -2l-1 -2M976 1433l3 1l1 3l0 3l-2 2l-2 -1l0 -3l3 -2l2 -1l1 -2M1134 1597l-3 -1l-3 0l-2 0l-2 -3l2 -3l2 -2l-1 -2l-2 -3l-1 -2M1161 1397l2 2l1 2l1 2l2 1l3 1l2 -3l0 -3l-2 -1l-3 2M1076 1368l3 1l2 0l2 1l3 -2l0 -2l2 2l2 1M996 1405l-1 -3l3 -2l2 1l-1 3l-3 0l-3 -1l0 -3l-3 -2l-2 2M1071 1398l-1 3l-1 2l1 3l1 3l2 1l1 3l-1 3l0 3l0 3M1067 1428l-1 2l-2 2l-3 2l-3 1l-2 -2l0 -3l0 -2l1 -2l2 -1M1048 1638l-3 0l-3 1l-2 3l0 3l1 2l3 1l3 2l1 2l1 3M1091 1678l2 -2l2 -3l3 1l3 1l3 -1l3 1l2 1l3 0l3 0M1051 1490l3 1l2 2l0 3l-3 1l-4 0l-3 -1l-2 -2l1 -3l0 -3M1090 1420l3 -1l2 -3l2 2l2 3l2 2l1 2l-3 1l0 -3l3 1M1019 1409l-3 0l0 -3l0 -2l2 0l0 3l-3 0l-1 -3l0 -2l3 -2M1105 1628l-2 -3l2 -2l3 -1l1 -2l0 -3l-3 1l-3 -1l-2 -2l-1 -3M1102 1650l-2 -3l-1 -3l-3 0l-2 2l-2 -2l1 -2l0 -3l-1 -3l-3 1M1100 1627l-2 1l-3 1l-3 -2l-3 -2l-2 -3l-1 -3l-1 -3l-2 -3l0 -2M1143 1662l0 -3l-1 -2l-3 -2l-2 1l-2 2l-2 -1l0 -3l3 0l1 3M965 1449l-3 -1l-3 -1l-2 -2l-2 -3l0 -3l-1 -3l-2 -2l-2 -2l-3 -1M955 1476l-1 3l1 3l2 2l2 2l2 1l3 1l3 -1l3 -1l3 -1M1005 1487l0 2l3 1l3 -1l2 -2l0 -3l-3 0l-2 -2l0 -3l2 -2M1162 1466l0 2l-3 2l-2 -3l0 -3l1 -3l-1 -2l-1 -3l-2 -2l-3 -2M1112 1493l-1 3l-3 1l-3 2l-1 2l2 3l2 1l3 2l3 0l3 2M1050 1451l-1 -3l-1 -3l-2 -2l-3 2l-2 2l-1 -2l0 -3l3 -1l1 2M1153 1681l-2 -2l-1 -2l-1 -2l-2 -2l-2 -3l-3 0l-3 0l-2 1l-2 2M1094 1490l1 3l-2 2l-2 1l-2 2l-2 0l-3 1l-2 3l-2 2l-2 2M1082 1602l-2 -1l-3 2l-3 2l-1 3l0 3l1 3l-1 3l0 3l2 2M1126 1655l1 -3l0 -3l0 -4l-1 -3l1 -3l1 -2l3 -1l2 -1l2 -2M1122 1561l-3 1l-2 -2l0 -4l-3 -1l-1 -2l0 -3l1 -2l2 -2l2 -2M1117 1587l1 -2l2 -2l3 -2l3 -2l2 1l3 0l3 0l3 -1l3 -2M1165 1374l-1 -2l-3 1l-2 1l0 3l1 2l-2 1l1 2l2 -3l3 1M1090 1396l3 -1l3 -1l3 0l3 0l2 1l3 -1l2 -2l2 -2l2 -2M1168 1506l2 -2l2 -2l3 1l3 -1l4 0l2 -1l2 1l3 0l3 -1M1065 1599l2 3l1 3l0 3l2 0l1 -3l-1 -3l0 -3l-1 -2l0 -3M1016 1525l-3 -1l0 -3l1 -2l3 -2l3 1l2 1l1 2l1 2l0 2M1084 1679l2 1l1 3l-1 3l-1 3l-1 3l-1 3l0 3l3 -1M1166 1380l1 2l2 1l2 -2l-1 -3l1 -2l3 0l3 1l2 2l-3 2M1082 1410l2 -3l0 -2l-2 -2l-3 0l-2 3l-1 3l2 1l3 0l2 -2M1117 1647l2 -1l2 -1l3 0l2 1l0 3l0 2l0 3l-2 3l-3 -1M1143 1487l2 -1l2 1l3 -1l2 -2l-2 -2l-2 -1l-3 0l0 -3l3 0M1118 1569l0 3l-2 2l-2 -2l0 -2l-2 -2l-1 -3l3 0l1 -2l-3 -1M1079 1596l0 3l-3 -1l-4 0l-2 2l-2 0l-4 0l-3 -1l-3 1l-2 2M1092 1603l2 2l0 4l0 3l1 3l0 3l-1 2l-2 3l-2 0l-2 2M1138 1412l-3 1l-2 2l-1 3l-2 3l0 3l0 3l-2 -1l-1 -3l1 -3M1106 1504l1 3l-2 1l-3 0l-2 1l-1 2l1 2l3 1l1 -2l-1 -3M1084 1667l-3 -1l-3 0l-3 -1l-3 1l-2 -1l-4 -1l-2 -1l-2 2l-2 2M1021 1380l-3 1l-3 1l-3 1l-2 2l-2 1l-2 -3l-1 -3l-2 1M938 1432l2 0l2 0l3 0l2 0l3 1l3 1l3 1l3 0l2 -2M1133 1611l-3 1l-3 1l-3 2l-3 -1l-2 -2l0 -3l-2 -2l-3 -2l-2 -3M1042 1597l3 0l3 0l2 1l2 -3l2 -1l3 -1l2 -1l2 0l2 1M992 1500l-1 -2l-3 -1l-1 2l3 2l2 -1l1 -3l0 -3l-1 -2l-3 -2M995 1450l2 -1l2 2l3 1l3 2l0 3l-1 3l-3 0l-3 -2l-3 0M1039 1521l-2 1l-3 0l-1 -3l2 -2l1 2l1 3l3 2l1 -2l0 -3M1103 1445l3 0l3 0l3 1l2 0l2 3l0 3l-1 2l2 3l-1 2M1123 1590l-2 -1l0 -3l3 -1l2 -2l1 -3l3 -2l2 -3l1 -3l1 -3M1122 1583l2 -1l2 -2l1 -2l1 -3l-1 -3l-2 -2l-3 2l-1 2l-1 3M1108 1425l2 -2l3 1l2 3l-1 3l-2 2l-2 2l2 3l2 2l3 1M1068 1393l3 -1l1 -2l-2 -2l-2 -1l-3 -1l-3 0l-1 2l-2 2l-2 3M1161 1523l-1 -3l2 -3l2 -3l-1 -3l-3 2l-3 -1l-2 3l2 1l2 1M1124 1664l2 -3l2 1l1 3l-2 2l-3 1l-2 -1l-2 0l-3 -1l-3 0M1176 1521l2 2l2 3l1 3l1 3l1 2l2 1l3 0l1 -3l0 -2M1004 1508l1 2l2 3l2 3l3 0l2 2l2 1l3 1l1 2l-1 3M1070 1545l3 2l1 2l-2 1l-2 -3l1 -2l1 -2l2 -2l1 -3l-3 -1M1054 1550l-1 3l0 3l0 3l2 2l1 2l3 0l3 0l1 3l1 2M1118 1580l-2 -3l-1 -3l-1 -2l-2 -3l-2 -2l-3 1l-1 2l-1 2l1 3M1151 1465l0 3l-3 0l-3 -1l-2 -3l2 -2l1 -3l2 -1l3 0l1 3M1128 1541l-2 -1l-3 -2l-2 -1l1 -3l1 -3l-2 -2l-2 2l-1 2l1 3M1097 1638l1 -2l0 -3l-2 -2l-3 -2l-1 -3l-3 0l-3 0l-2 1l-2 1M994 1544l3 -2l3 0l3 0l2 0l3 0l3 0l1 -2l3 -3l0 -3M1074 1660l-1 3l-3 0l-1 -2l2 -2l2 -2l2 0l4 -1l2 1l2 3M996 1436l-1 3l2 1l3 -1l1 -3l-1 -2l-3 -1l-1 -3l2 -2l3 2M976 1417l-3 2l0 3l3 -1l3 0l3 0l3 1l2 1l2 -3l2 -3M1116 1476l1 -3l-2 -2l-3 0l-3 0l-1 2l2 2l3 1l3 0l1 3M1073 1595l3 -1l3 -1l3 -2l3 -1l3 0l2 1l1 2l0 3l-2 3M1200 1610l-3 -1l-3 1l-2 1l-2 0l-1 -2l2 -1l2 -3l1 -3l2 0M997 1424l-3 0l-2 -2l1 -3l1 -3l1 -2l3 -1l2 -1l1 -3l2 -2M1144 1414l0 -3l-3 0l-1 2l0 2l2 1l3 0l2 1l2 1l1 2M1126 1658l-3 0l-1 -3l-2 -1l-2 -2l0 -3l3 0l2 2l2 2l1 3M1119 1457l2 -2l3 1l2 1l2 1l0 3l-1 2l-2 2l0 3l-3 0M1049 1567l-2 1l-2 2l0 3l-1 2l-2 3l-2 2l-1 2l-1 2l-1 2M1140 1676l2 3l2 1l3 0l3 0l3 2l1 3l-3 1M1158 1422l2 2l1 3l1 2l1 3l1 2l0 2l-3 2l-3 1l1 3M1039 1557l3 0l2 2l3 1l3 2l2 -2l3 0l3 1l2 2l3 0M1100 1394l-3 2l-3 0l-2 -1l-3 -1l-2 -2l-3 1l-2 1l0 3l0 3M1020 1590l-1 3l1 3l1 3l2 3l3 1l2 2l1 2l2 1l3 0M969 1516l1 3l1 3l0 2l-2 3l0 3l1 3l2 2l2 3l2 2M1188 1562l3 2l-1 3l0 3l-2 2l-1 2l1 3l3 1l2 3l-2 2M1127 1682l2 1l1 2l-1 3l-1 3l-3 1l-2 -1l1 -3l2 -2l3 -1M1133 1472l-1 -2l0 -3l2 -2l3 -2l3 0l4 0l2 2l2 2l2 2M1088 1545l1 3l0 3l-1 3l1 3l0 2l0 3l-2 2l-2 2l-2 2M1034 1410l-2 -2l-2 -2l0 -3l-1 -2l-1 -2l2 -2l2 1l0 3l-2 2M1088 1421l2 2l-2 2l-2 0l-2 3l-1 3l2 0l2 -1l1 -3l0 -3M1060 1489l2 -1l3 -1l3 2l3 1l2 -1l2 -2l0 -3l1 -3l2 -2M1084 1665l-2 3l0 3l-2 3l2 3l2 2l3 1l3 -2l2 -2l2 -3M1179 1637l-1 -2l-3 -1l-3 1l-2 -3l-2 -2l-1 -3l1 -2l2 -3l1 -2M1089 1455l-2 -3l-3 1l2 3l2 -1l2 -3l-1 -2l-3 -1l-1 3l2 3M1128 1428l1 2l0 3l-3 0l-1 2l-2 2l-1 3l-1 2l-1 3l-1 2M1137 1626l-1 2l1 3l2 1l3 -1l1 -3l2 -3l0 -3l-2 -1l-2 1M958 1460l-2 -2l-3 -2l-2 2l1 3l-1 2l-3 -1l-3 2l-3 -1l-3 -2M1128 1546l1 -3l-2 1l-3 2l2 3l3 1l1 -3l2 -2l1 3l0 2M1079 1618l-2 -1l-2 -3l-1 -2l-3 -1l-3 -1l-4 0l-3 -1l-2 2l-3 1M1084 1384l-3 -1l-3 -1l-3 -2l-1 -3l1 -3l2 -3l2 1l2 1l1 3M1196 1567l-2 0l-3 0l-2 -1l-3 0l-2 -2l-2 0l-3 1l-2 2l-2 3M1187 1555l2 -1l2 -2l1 -2l-1 -2l-3 -1l-1 3l0 3l2 1l3 -1M1052 1408l-1 3l-2 1l-1 3l0 3l-2 2l-2 0l-1 -2l3 -2l2 0M1160 1611l1 -3l1 -2l2 -2l1 2l0 3l-2 1l-2 -1l-3 0l-3 -1M1103 1465l1 -2l3 -1l2 2l0 3l0 2l1 3l2 2l1 3l-3 2M1013 1566l-3 -1l-1 -3l-2 -3l-2 -1l-2 -1l-2 1l1 3l0 2l1 3M1210 1430l-2 -2l-2 -2l-2 -1l-2 1l-1 2l0 2l-2 2l-2 3l-1 2M1002 1460l-1 2l-1 4l-1 2l-3 2l-3 0l-3 1l-2 2l-2 3l-2 2M1044 1544l-2 -2l0 -3l2 -2l3 1l1 2l3 -1l1 -2l0 -3l-3 -1M984 1449l2 0l3 -1l2 -1l0 -3l-1 -2l-2 -3l-2 -3l-3 -1l-3 0M1106 1619l-1 2l-3 -1l-1 -3l2 -2l2 0l2 2l-2 2l-3 -1l-3 -2M1195 1401l1 2l-1 3l-2 1l-3 1l-3 2l-2 -1l-2 -2l-2 -2l-1 -2M1154 1467l3 -1l2 -1l2 -2l1 -3l2 -2l0 -2l2 -2l2 0l0 2M1080 1646l-1 3l0 4l0 3l-3 2l-2 2l2 2l2 2l-2 2l-3 1M1018 1411l3 -1l2 1l1 3l-1 3l-2 2l-3 0l-3 -2l0 -3l-2 -2M1128 1441l0 -3l2 -2l2 -3l2 0l3 2l0 3l-1 3l-2 2l-2 -2M1021 1612l3 2l1 4l-1 2l-3 0l-2 0l1 3l1 2l1 3l-2 3M1052 1624l-3 1l-3 -1l-3 0l-2 -2l0 -3l0 -2l1 -2l-1 -3l-2 -2M1179 1537l2 3l2 0l4 -1l3 -1l2 -3l-1 -3l0 -3l1 -3l3 -1M1092 1588l1 3l0 3l0 2l-2 2l1 2l0 3l1 2l2 2l2 1M1191 1410l2 0l2 -1l2 -2l1 3l-2 2l-2 -3l-2 -2l0 -2l3 -1M1172 1468l3 1l3 -1l2 2l2 3l-2 2l-3 1l-3 -1l-3 -1l2 -2M1215 1470l-2 1l-3 0l-3 -2l-2 -1l-2 -2l0 -3l0 -2l1 -2l2 -2M1066 1410l3 0l1 -3l-2 -3l-2 -1l-1 3l1 2l3 1l1 -2l-1 -3M1027 1621l-1 -3l1 -3l-1 -2l-3 -1l-2 -1l-4 0l-1 3l1 3l3 1M1203 1538l-3 2l-1 2l2 3l3 2l2 -2l1 -2l-1 -3l-3 -1l-3 -1M1029 1448l-1 2l-2 1l-1 2l-2 0l-3 1l-3 0l-4 0l-2 0l-2 1M1049 1548l3 0l2 -1l3 0l2 0l2 -2l0 -2l-3 -1l0 3l1 2M1015 1429l1 -2l-1 -2l-3 -2l-2 -1l-3 -1l-3 -1l-2 2l1 2l3 2M1075 1544l0 -3l2 -2l2 -2l-1 -2l-2 -2l-2 1l-3 -1l-3 -2l-2 0M1154 1646l3 -2l-1 -2l-3 -2l0 3l1 2l3 1l2 -1l1 -3l1 -3M995 1476l2 -2l2 -2l2 0l3 2l1 2l0 3l-2 2l-3 1l-2 -1M1111 1568l3 0l2 -1l3 -2l1 -3l1 -2l-1 -2l-2 -2l-3 -2l-3 -1M1080 1670l2 3l1 2l-1 2l-3 1l-2 1l-3 -1l-2 -2l0 -3l3 0M1180 1536l3 0l3 1l3 1l3 2l3 0l2 3l2 2l1 3l0 2M1104 1549l-3 1l-2 2l1 3l3 0l3 0l3 1l3 0l2 1l2 1M1019 1435l2 1l1 2l0 3l1 3l-1 3l3 1l0 4l2 1l3 0M1164 1565l-2 -1l-2 -2l0 -4l1 -3l0 -2l-1 -2l-2 -2l-3 -1l-2 -1M1105 1490l0 2l-1 2l-2 -1l-2 -3l0 -4l3 -1l1 -2l0 -3l-1 -3M987 1500l1 -2l1 -2l3 -2l2 -2l2 2l3 1l3 1l3 1l2 1M1056 1386l3 1l1 2l2 2l1 2l1 2l2 3l1 2l3 2l1 3M979 1535l-2 0l-3 1l-3 -2l-1 -2l1 -2l2 -2l1 -3l1 -3l3 0M1065 1495l-2 1l0 3l1 3l3 2l1 2l0 3l0 3l0 2l0 3M1137 1580l-1 3l0 2l1 2l3 1l3 0l3 1l3 0l3 0l3 -1M1160 1568l-3 1l-2 0l-3 0l-3 -1l-3 0l-2 2l-1 2l-2 -2l0 -2M1122 1550l3 -2l2 0l3 1l1 -2l-1 -3l-3 -1l-3 1l-2 2l-3 2M1158 1621l0 3l0 3l-2 3l-3 1l-3 -1l-3 -2l-2 -3l-1 -3l2 -2M1173 1510l-1 3l-2 2l-3 -2l-3 -2l-3 1l-2 0l-3 -1l-3 0l-3 -2M1155 1671l-3 -2l-1 2l-2 0l-3 2l-3 -1l-2 -2l-3 2l-1 2l-3 1M1123 1620l2 -3l2 -3l1 -3l-1 -2l-3 -1l-3 1l-2 2l0 2l-1 2M1115 1515l1 -2l3 1l2 1l-1 3l-3 1l-3 -1l-1 -2l0 -2l3 1M1002 1424l-2 -3l-1 -2l-1 -2l-2 -2l-2 -2l-1 -2l-3 -1l-3 1l-2 -3M1081 1412l-3 -2l-3 -2l-2 -2l-2 -2l0 -2l0 -3l-3 -1l-2 -1l-2 -1M1051 1570l-3 2l0 3l3 2l3 2l3 -1l0 -3l-2 -2l-1 2l1 3M1018 1445l0 2l1 3l-3 3l-2 1l-2 3l-3 2l-2 -2l2 -3l2 -2M1097 1435l2 2l2 2l2 2l-1 3l-1 2l-3 1l-2 0l-2 2l-2 3M1168 1571l3 0l3 -2l2 2l1 2l2 2l2 0l2 -2l1 -3l-1 -2M1075 1403l3 0l1 -3l3 0l-2 1l-2 -3l-2 1l3 2l3 -1l0 -2M1017 1424l1 -2l2 -1l2 1l3 2l-1 3l0 3l-2 2l-1 3l-2 0M1089 1479l-3 -2l-2 2l-3 0l-2 -2l-1 -3l1 -3l2 -2l-1 -2l1 -2M963 1455l1 -3l0 -2l-3 -2l-2 -2l1 -3l0 -3l2 -1l3 -1l2 -3M1140 1432l-2 0l-1 -3l3 0l0 2l-2 3l1 2l0 2l-1 3l-1 3M1187 1389l0 -3l-1 -2l-2 -1l-2 -1l-3 1l-2 1l0 3l-1 3l-1 2M1087 1661l1 3l3 1l3 1l1 -3l0 -3l-2 -3l-1 -3l-2 -2l-2 -2M1094 1513l0 2l-2 2l-3 2l-2 2l-2 1l-3 1l0 3l2 1l3 2M1158 1517l-2 -1l-2 -1l-3 -1l0 -3l3 0l3 -1l2 2l2 2l3 -1M1096 1603l-2 3l-3 0l-2 -1l-2 2l-2 3l-3 1l-3 -1l-3 0l-2 -2M1060 1590l1 2l2 2l1 2l1 2l-1 3l0 3l1 3l1 2l1 2M1120 1538l-1 -2l0 -3l2 -3l3 -1l3 -1l2 -2l3 0l-1 3l-3 1M1057 1443l2 -2l3 -1l2 -1l2 3l3 1l1 3l1 2l1 2l0 3M1123 1378l1 3l-3 1l-2 2l-2 3l2 2l2 2l-1 2l-3 2l-2 3M991 1414l-3 0l-3 1l-3 1l-3 0l-2 0l-2 -1l-2 -1l-2 -1l-2 -1M1175 1577l0 3l3 1l1 -2l-1 -3l-3 0l-3 2l0 3l3 1l2 -2M1008 1562l-1 3l-2 3l1 3l1 3l2 3l3 2l3 1l2 2l-1 2M1143 1559l-3 1l-1 2l-3 0l-3 -2l-2 -3l-2 -3l1 -3l1 -3l0 -3M1160 1539l2 2l0 3l-1 2l1 3l2 -2l2 -3l3 0l3 2l2 2M1167 1427l3 -1l-2 -3l3 0l1 2l0 3l-2 -1l-3 0l-2 -2l0 -3M1029 1626l-2 1l0 2l1 3l3 1l2 2l3 1l2 -1l2 -3l-3 -1M1081 1500l2 -2l2 -3l1 -2l-1 -3l-1 -3l-3 -1l-1 2l-1 2l1 2M1041 1594l-1 -3l1 -2l2 -2l3 0l2 2l0 2l-2 0l0 -3l2 -3M1151 1585l-1 2l1 3l1 2l-2 2l-2 2l1 3l1 2l2 2l1 3M1092 1602l2 2l2 3l-1 2l2 3l3 1l2 -2l1 -3l1 -2l2 -2M1106 1370l3 1l2 -2l3 -1l1 -2l1 -3l-1 3M1091 1572l-2 1l-3 1l-3 -1l-2 -3l-2 -1l-3 -2l-2 -3l-1 -3l1 -3M1163 1564l-1 3l2 2l2 -2l2 -3l-1 -2l-3 1l-2 2l0 2l2 1M1010 1599l2 -2l3 1l3 1l3 2l3 -1l0 -3l0 -3l-2 -1l-3 1M1158 1510l0 3l-1 3l-1 3l-3 2l-2 1l-2 0l-2 -2l-1 -3l-1 -3M1208 1541l3 1l2 1l2 2l2 2l1 -2l-1 -3l-2 3M1037 1599l3 -2l2 -1l3 1l3 1l1 -2l-3 0l-3 -1l-3 -1l-2 -2M1015 1491l2 3l3 -1l1 -3l1 -3l-2 -3l-2 -2l-3 0l-3 -2l-2 -2M1071 1597l-1 -2l3 -2l3 0l3 1l2 3l1 3l-1 3l0 2l-2 1M1152 1669l2 -2l2 1l-1 2l-3 0l-3 -1l-3 -2l-2 -1l-2 1l0 2M946 1464l-2 -1l1 -3l3 0l2 3l2 2l-1 2l-3 2l-2 1l-3 -2M1150 1474l2 -3l1 -3l-2 0l-3 1l-3 0l-3 -2l0 -3l-2 -2l-1 -3M1065 1536l1 3l-1 3l-3 2l-3 -1l1 -3l2 0l2 -1l3 1l3 0M1117 1470l2 2l2 3l1 2l1 2l1 2l0 4l0 3l2 1l3 -2M1149 1552l2 0l2 -1l1 3l0 3l-1 2l-1 3l-1 2l-1 2l-1 2M1167 1415l-2 2l-3 -1l-1 -3l1 -3l2 -2l3 0l2 -1l2 -1l3 -1M1115 1422l1 3l2 2l3 0l2 2l2 2l2 -1l2 -2l3 0l3 2M1128 1476l3 -2l3 1l2 1l0 3l1 2l1 3l-1 3l-1 2l0 3M1092 1530l-2 -1l-1 3l3 1l1 -2l2 1l3 1l0 2l1 3l3 0M1088 1504l-1 -2l0 -4l-3 -1l-3 -1l-2 -2l-2 -3l-3 1l-1 2l-2 2M1104 1664l0 2l-1 3l0 3l-1 3l1 2l-1 2l-2 2l-2 2l-1 3M1156 1390l3 2l3 2l2 -1l2 -1l3 -2l2 -1l1 -3l0 -3l-1 -3M1159 1378l2 -3l-1 -3l-3 -1l-1 -3l-3 2l-2 1l-2 -2l1 -2M1042 1389l1 3l2 2l2 3l2 2l3 2l2 0l2 -2l2 -2l0 -3M1110 1687l-3 0l-2 -1l-1 -2l-2 -2l-2 -1l-3 0l-2 -1l-3 -2l-3 1M1003 1478l-3 1l-3 -1l-2 -3l-2 -2l0 -3l-1 -3l1 -3l3 -1l3 0M990 1484l2 1l3 1l3 -2l2 -2l2 -1l2 -1l2 -2l-1 -2l-3 -1M958 1408l0 2l2 1l2 2l3 -1l1 -3l-1 -2l-1 -2l-2 -1l-3 2M1139 1676l2 3l1 2l1 2l1 2l2 2l-2 -3l1 -3l-3 -1M1018 1568l2 1l3 2l3 2l1 3l2 2l3 3l3 1l-1 3l0 2M1163 1561l0 -3l2 -2l1 -2l-1 -3l0 -3l0 -3l0 -2l-2 -2l-1 -2M1104 1547l2 2l2 -2l1 -2l-1 -3l-2 1l-1 3l0 3l2 2l0 3M1047 1399l-3 1l-1 2l-1 2l-1 2l-1 2l-2 1l-2 1l-2 0l-2 -1M1060 1396l2 1l2 -2l1 -2l0 -3l0 -2l-1 -2l-3 -2l-3 2l0 2M1120 1433l-2 0l-3 0l-3 0l-3 -1l-3 2l-3 1l-1 2l0 3l1 2M1068 1669l0 -3l0 -2l-2 -2l-2 -3l-1 -3l-2 -1l-3 -1l-3 -2l-2 0M1138 1470l0 2l2 2l3 1l2 -2l-1 -3l-2 -2l-3 -1l-3 1l2 2M973 1467l1 3l-3 2l-2 2l-2 1l-3 1l-3 1l-3 -2l0 -3l3 -2M1192 1477l-3 1l-2 2l2 3l3 1l2 -3l1 -2l3 -2l-1 -3l-2 -1M1060 1461l2 2l0 2l-1 3l-1 3l-1 2l1 2l2 2l2 -2l1 -3M1188 1387l-1 3l0 3l2 3l1 2l-3 0l-3 0l-2 -2l-1 -3l0 -3M971 1444l-2 -2l-1 -3l-1 -3l2 -2l3 0l2 2l3 -2l3 -1l3 0M1079 1452l-1 2l-3 1l0 -4l2 -2l3 0l3 0l2 3l-2 0l1 -3M1157 1394l3 1l3 0l2 -3l-2 -1l-2 1l1 3l2 1l0 2l-3 2M1029 1593l-1 2l-3 1l-3 0l-2 -2l-3 -1l-2 -1l-3 -1l-3 0l-1 2M1138 1508l-2 2l-2 3l-1 2l0 2l2 2l3 2l2 -1l2 -1l2 1M1038 1485l-1 3l0 2l-2 1l-2 2l-2 2l-3 -1l-2 -1l-2 -2l0 -3M1122 1448l-2 -1l-2 -1l-3 1l-1 3l0 3l-2 3l2 3l1 3l3 -1M1078 1409l1 -2l1 -2l2 1l1 3l3 0l3 2l3 2l3 1l0 3M1058 1621l0 3l3 2l2 2l1 2l0 3l-1 3l0 2l-2 2l-1 2M1071 1444l2 1l2 1l1 3l0 2l2 2l1 3l2 1l3 -1l3 -1M1069 1393l0 3l0 3l0 3l-2 -1l2 -2l3 1l-1 3l-2 -2l-3 -1M1134 1609l3 1l3 1l2 -1l2 -2l0 -3l-2 -2l0 -3l-3 -2l-2 -1M1174 1560l-2 3l-3 -1l-1 2l1 3l2 0l2 -3l-2 -2l-3 1l-2 2M1081 1634l3 2l2 2l2 2l3 2l-1 2l-3 1l-3 0l-1 -3l-2 -2M969 1504l2 0l3 1l3 0l2 -2l2 0l2 2l1 2l2 2l2 0M975 1505l-1 -3l1 -3l0 -3l-2 -3l-3 -2l-3 -1l-3 -1l-3 -1l-2 2M1087 1469l3 0l-1 3l-3 -1l0 -3l1 -2l2 1l3 0l2 1l2 0M1008 1598l2 0l2 0l3 1l2 2l0 2l-1 3l-2 1l-2 1l-2 0M1119 1369l3 2l2 1l3 2l1 -2l-3 0l-3 1l1 3l2 0l3 -1M1164 1484l2 -2l1 -3l0 -2l-2 -1l-2 -1l-3 -1l-2 2l0 3l2 1M1080 1566l2 -2l2 -1l1 2l2 2l2 2l1 2l0 3l2 2l3 2M1155 1616l1 -4l-1 -3l1 -2l0 -2l-1 -2l-1 -2l-1 -2l-1 -3l-1 -2M1067 1451l-1 -3l-1 -3l-2 0l-3 0l-3 -1l-3 0l-3 -1l-2 0l-1 -2M1032 1460l-3 0l-3 -1l0 -3l2 -2l3 0l2 0l3 0l2 -3l1 -3M1156 1613l1 2l3 1l2 0l1 -2l-1 -2l-2 -2l-3 1l-2 -2l-3 0M1176 1540l1 -3l2 -1l3 0l2 0l3 0l3 0l3 -1l2 -1l2 -2M1140 1579l2 -1l4 0l2 0l3 -1l1 -3l1 -3l2 -3l2 -2l2 -1M996 1570l-2 0l-3 2l-2 2l0 2l2 3l3 0l2 0l2 -1l2 -1M1076 1568l-2 -1l-3 1l-2 3l0 2l-2 3l0 3l0 3l0 3l1 2M1153 1396l0 3l-2 2l-2 0l-2 -3l-1 -3l0 -3l1 -2l2 2l1 3M1105 1465l-2 1l-3 -1l2 -2l3 -2l3 1l0 3l-1 2l-3 -1l1 -3M970 1495l0 -3l1 -2l1 -2l0 -3l0 -3l1 -3l1 -2l2 -2l3 -2M977 1409l2 -1l3 1l1 2l0 2l-3 2l-3 1l-3 0l-1 2l0 3M936 1446l-2 2l-1 3l-1 3l-2 2l2 -3l2 -2l0 -3l1 -2M1150 1592l2 1l3 -1l3 0l3 2l2 1l3 -1l1 -3l0 -2l3 -2M1034 1610l-2 -2l-3 1l-3 0l-1 2l-1 2l-1 3l2 3l2 2l-1 3M1141 1580l3 0l3 1l2 2l1 2l-1 3l-1 2l-1 3l-1 2l-1 2M1070 1417l0 3l-1 2l0 2l1 2l2 3l3 1l1 3l0 3l-1 3M1212 1448l-1 3l-1 2l0 3l3 2l3 0l2 -2l1 -2l0 -3l-3 -1M1101 1518l3 -2l0 -3l-1 -3l-3 0l-3 1l-1 3l2 2l2 0l3 -1M1148 1679l-1 -2l1 -2l2 -2l3 0l2 1l2 2l-3 1l-2 -2l1 -3M1059 1480l3 0l3 1l2 1l3 1l1 3l1 3l-2 2l-2 1l-1 -2M1000 1490l1 -2l3 0l1 2l-2 1l-2 -3l1 -2l1 -2l3 0l2 2M1169 1588l1 3l1 3l2 2l2 1l3 0l3 1l3 1l3 0l3 2M1110 1657l2 -1l1 2l1 2l-2 2l1 3l0 3l2 2l1 -3l0 -3M1056 1560l3 2l2 -3l-1 -3l-2 -1l-3 0l-2 3l2 2l3 0l1 -2M1075 1460l-2 -1l-2 -2l-2 0l-2 -3l-3 0l-1 2l-1 2l0 2l2 1M1177 1542l-1 2l-1 3l2 2l3 1l3 2l3 0l2 -2l0 -2l-1 -2M1180 1370l-1 3l2 3l-1 3l-3 1l-2 -1l-3 -2l-2 -2l0 -3M1107 1613l1 3l1 3l-1 2l2 2l2 2l0 3l2 1l0 3l-3 2M1007 1528l1 2l2 2l2 2l2 0l2 -1l1 -2l1 -2l1 -2l-1 -2M954 1469l-3 2l-3 -1l-3 1l1 2l3 2l3 2l3 -1l2 -1l-3 -2M1215 1450l1 3l1 3l2 0l3 -2l-1 -3l-1 -3l-2 -2l-2 -3l-1 -3M1122 1534l1 3l2 2l2 2l3 2l2 1l3 1l3 0l3 0l3 1M1087 1488l-2 2l-3 -1l-1 -3l1 -3l2 -1l1 3l1 3l-1 3l-1 3M1049 1466l-2 0l-1 -2l-3 -2l-2 -2l-3 -2l-3 1l-2 1l-3 2l-3 1M1166 1388l1 3l-3 1l2 1l0 -3l2 -3l2 2l-3 2l-2 -1l0 -4M1038 1518l1 2l3 -1l2 -3l3 0l1 -3l1 -2l0 -2l-1 -2l-3 -1M1050 1568l-3 0l-2 3l-2 3l0 2l2 3l3 1l3 1l2 0l2 -2M1120 1594l1 2l1 2l1 3l1 2l-3 1l-3 -2l0 -2l-1 -3l-3 -2M1118 1676l-3 -1l-2 -3l-3 0l-2 1l-3 1l-2 1l-1 3l-2 3l-2 3M1165 1641l-2 3l-3 2l-1 3l-3 1l-3 2l-2 1l-2 3l-3 0l-1 3M1032 1596l-1 -2l-2 -3l-2 -1l-2 0l-3 2l1 3l2 2l3 0l3 0M1185 1537l-2 -2l-3 -2l-2 -3l2 -2l2 -3l2 -2l2 1l2 2l0 3M1172 1540l0 -2l0 -3l-2 -3l-1 -3l1 -2l1 -3l1 -2l-1 -3l-2 -2M1078 1567l0 3l-1 3l-3 2l-2 1l-3 1l-2 2l-1 3l-1 3l-3 2M1056 1471l-2 -2l-3 0l-3 1l-2 2l2 3l2 1l2 2l3 -1l1 -2M1155 1472l-3 -1l-3 0l-2 2l0 3l2 2l-2 2l-3 1l-2 -1l0 -3M1166 1539l-3 0l-1 2l0 3l3 -1l3 -2l0 -2l-2 -3l-3 0l0 -3M1032 1511l0 -3l2 -3l3 -2l1 -3l2 -2l1 -2l1 -3l0 -3l-2 -3M1096 1553l-2 -1l-3 1l-2 2l-2 2l-3 2l-2 2l0 3l2 3l1 3M1018 1568l-2 -2l3 -1l2 -2l3 0l3 -2l1 -3l2 -2l3 -1l1 3M1006 1585l2 -2l3 0l3 1l2 -1l-1 -3l-2 -2l-2 -2l-2 -2l-2 -3M1179 1525l-1 -2l-2 -2l-1 -2l-1 -2l-1 -3l-3 -1l-2 -1l1 -2l3 0M1174 1445l-3 -2l-2 -2l-1 -2l-1 -2l0 -3l-2 -1l-3 -1l-2 1l-3 -1M981 1540l-1 3l-3 -1l-1 -3l-1 -2l-3 1l0 -3l0 -2l2 -1l3 2M1154 1567l0 3l1 3l0 3l1 3l-2 2l-2 0l-4 0l-3 1l-2 2M1116 1645l4 0l2 1l2 2l2 1l3 0l3 1l2 -2l-3 -1l-3 1M1103 1627l0 -3l-3 -1l-1 -3l-3 -1l-3 0l-3 1l-3 -1l-1 -3l0 -4M1134 1411l3 -1l2 1l0 3l-2 2l-2 2l-2 1l-2 0l-2 1l-2 2M1046 1460l2 2l3 2l3 2l3 1l2 2l0 3l0 3l-2 3l-2 2M1124 1629l-2 3l-2 2l-3 2l-2 3l-2 2l-1 3l-3 0l-2 -1l-1 -3M1091 1557l2 -2l2 -1l3 2l0 2l1 3l2 2l2 -1l3 0l1 -2M1079 1462l-2 1l-2 2l-3 -1l-2 -2l0 -3l-1 -3l1 -3l3 -1l3 1M1186 1514l-2 -1l-2 -2l1 -2l2 1l2 -2l1 -3l1 -3l-1 -3l0 -3M1058 1383l-2 3l0 3l-1 3l2 1l3 2l1 2l3 2l3 -1l2 -2M1059 1631l0 -3l3 -1l0 -3l-3 0l-2 0l-3 1l-2 2l1 2l1 3M1016 1476l-2 -2l-2 -2l-3 -1l0 -3l2 -1l3 0l3 1l2 2l2 1M1097 1639l2 3l1 2l3 1l2 1l3 1l1 -2l2 0l2 -1l0 -3M967 1477l-2 1l-2 0l-2 -2l-3 0l-2 1l-3 1l-2 -1l-2 2M1037 1631l2 2l1 2l-2 3l-3 0l-2 1l-4 0l-2 3l1 3l3 -1M1203 1536l0 -3l-3 1l1 2l2 1l3 0l0 -2l3 -1l2 2l1 2M1144 1526l-1 -3l-1 -3l3 -1l2 2l1 3l-1 3l-1 3l-3 -1l-1 -3M1076 1665l2 3l3 2l2 2l1 2l1 2l2 1l2 -2l3 -1l2 -2M1033 1442l2 1l3 1l3 0l2 -2l2 1l3 1l2 1l0 3l-1 3M1176 1558l2 1l3 1l-1 2l-1 3l-1 2l0 3l0 3l1 2l-1 2M1049 1601l3 0l3 0l3 0l3 2l2 3l0 2l3 0l2 -2l0 -4M1178 1405l3 -2l2 2l-2 2l0 3l-3 1l-3 -2l-1 -3l3 1l2 2M1111 1692l-2 -2l-2 -2l-1 2l1 2l3 -1l3 -2l1 -3l-1 -3l-1 -3M1100 1598l-2 2l-3 -1l0 -3l0 -3l-2 -2l-2 -2l-2 -2l-3 -1l-3 2M1104 1455l0 -3l0 -3l0 -2l2 -2l-1 -3l-1 -3l2 -3l0 -3l0 -3M1118 1543l0 -2l-1 -2l2 -3l0 -3l-3 -1l-3 1l-3 2l-1 3l1 2M1171 1649l-2 2l2 2l3 1l-2 3l-2 2l0 3l2 3l1 2M1117 1406l1 3l-2 3l-1 2l-1 3l-2 0l-2 2l1 3l3 1l3 1M1151 1561l3 -1l3 0l1 -3l2 -3l3 0l3 0l3 2l2 2l1 3M1155 1542l0 -2l0 -3l-2 -2l-2 -1l-3 -1l-2 -3l1 -3l1 -3l1 -3M1120 1479l-2 2l0 3l0 3l3 1l1 3l1 3l0 2l1 2l-2 2M1104 1411l0 2l0 3l1 2l1 3l-1 2l-3 1l-3 -1l-1 -3l0 -2M1030 1560l3 0l3 0l3 0l2 0l3 -1l2 -2l2 -1l4 0l2 2M1098 1685l2 -2l3 -1l3 -2l2 0l3 1l2 2l2 3l2 1l3 0M962 1423l-2 -2l-2 0l-2 1l-2 3l-2 2l-2 1l-2 1l-1 2l-1 3M1117 1634l1 -2l3 -2l3 -1l-1 -3l-1 -3l-3 -1l-2 2l0 3l1 2M1082 1400l2 3l1 2l0 3l0 2l-1 2l-2 3l1 2l0 2l1 3M1009 1521l0 3l1 2l0 3l3 1l3 0l2 -1l2 -1l-2 -3l2 -2M1155 1513l1 3l1 2l2 2l2 2l1 3l1 3l1 3l3 0l2 -2M1009 1447l3 0l2 1l2 2l3 1l2 1l2 1l3 1l3 2l0 2M1204 1452l0 -3l1 -3l3 -2l2 -3l3 1l3 0l3 2l-1 3l0 2M1115 1691l0 3l2 1l2 -3l-1 -3l-3 -1l0 3l2 -1l1 -3l-1 -2M1215 1454l2 2l-1 3l-2 3l-1 3l2 2l1 3l2 2l-2 0M1121 1483l3 -2l3 1l2 -2l3 0l3 -1l2 0l3 1l3 2l1 2M1103 1427l-2 2l-2 0l-3 -1l-2 -2l-2 -2l2 -3l3 0l2 0l2 1M1116 1573l1 -2l2 -3l0 -2l-2 -2l-2 -1l-1 -3l0 -3l1 -3l-2 -3M1110 1385l0 3l2 1l2 -1l1 -3l-3 -1l-3 0l-3 2l2 1l2 -2M1156 1449l-3 1l-3 1l-1 -3l-2 1l-1 3l-1 2l3 2l3 2l3 1M1071 1567l2 3l2 1l3 0l2 0l2 1l1 3l-1 3l0 4l-2 2M1183 1468l-1 -2l2 -2l2 1l2 0l1 -3l3 -1l2 -2l2 -2l0 -4M1137 1556l-3 0l-1 -2l-1 -3l-1 -2l-1 -3l0 -2l-1 -2l-2 -1l-3 0M1025 1415l0 3l1 2l1 2l-2 2l-3 2l-2 1l-1 -2l0 -3l-1 -2M1065 1633l3 -2l3 2l1 3l-2 2l-2 2l-2 1l-1 -3l-1 -3l2 -2M1015 1608l0 4l-2 2l-3 0l-2 1l1 4l3 1l3 0l2 -2l1 -3M1118 1441l1 -2l3 0l2 2l-1 3l-2 2l-3 1l-2 2l-3 -1l-1 -2M1168 1541l3 -2l3 0l2 2l1 2l1 3l1 3l-1 3l-1 4l-4 0M1167 1437l1 -3l1 -2l3 -1l2 2l2 1l3 2l3 -2l3 -1l3 1M1009 1507l2 0l3 0l3 -1l2 2l2 3l2 1l2 2l3 1l3 2M1131 1658l-3 -1l-3 1l-2 1l-1 3l1 2l0 3l1 3l-1 2l1 3M1125 1654l2 2l-1 3l-3 0l-3 -2l1 -3l3 0l1 2l-1 3l-2 2M1099 1506l-1 3l0 2l-2 2l-3 0l0 2l-2 2l-2 3l-2 -1l-2 -3M993 1558l0 3l-1 2l-3 1l-3 0l1 -3l1 -3l1 -2l2 0l2 0M1008 1526l0 -3l-1 -4l2 -3l2 -2l2 -2l3 -1l1 -2l2 -2l3 -1M1071 1608l-1 -2l-1 -3l-3 -1l-2 2l-1 2l-1 3l-1 3l-3 1l-2 2M1021 1628l2 2l2 0l3 -1l3 -1l2 -2l2 0l2 -1l1 -2l1 -3M1103 1432l2 -1l3 0l2 -2l0 -3l-1 -3l-1 -2l-1 -2l-2 -1l-1 -3M1123 1511l-2 2l2 2l4 0l3 -1l2 -3l0 -3l-2 -2l-3 1l-3 1M1053 1594l-3 0l-1 -2l-1 -2l1 -3l2 -2l2 1l3 0l3 -1l0 -3M1140 1616l-1 3l3 0l3 0l1 3l-1 2l-1 3l-3 1l-2 -2l1 -3M1129 1453l-3 1l1 3l-2 2l1 3l2 2l3 -1l2 0l1 3l0 3M1122 1461l0 3l2 2l3 0l2 0l3 0l0 -2l-2 -2l0 -3l0 -3M1165 1521l0 -3l0 -3l3 -1l3 0l3 -1l2 -2l2 -1l3 -1l3 1M984 1516l-2 2l-1 3l3 1l2 -1l-1 -2l-2 -2l-2 2l-2 1l-2 -2M1082 1433l-1 2l-1 3l1 2l2 2l2 -1l2 0l2 1l3 0l3 -2M1024 1437l-2 2l-3 -1l1 -3l3 -2l3 -1l3 1l0 2l-2 2l-3 2M1073 1628l0 -4l-1 -3l-2 -2l1 -3l3 0l1 3l-2 2l-3 -1l-2 -2M1113 1560l-3 0l-2 0l-2 -1l-1 3l2 2l-2 3l-1 3l2 3l-3 2M1082 1372l-2 2l-2 -2l2 -2l1 2l-2 1l0 -3l1 -2l2 -1l3 0M1017 1446l-3 -1l-3 -1l0 3l3 1l2 1l3 -1l2 -2l-2 -2l-1 -3M1017 1571l-2 1l-2 1l-2 0l-2 3l1 2l2 3l3 1l2 -1l2 -2M1026 1377l0 3l-3 2l-2 2l-3 1l-3 0l-3 -2l-3 2l-2 1l-1 2M936 1444l1 -2l0 -3l-1 -3l-2 -3l-2 -2l-2 2l3 1l2 2M1103 1436l-1 -3l-1 -3l-1 -2l-2 -3l-2 -2l-2 -2l-3 0l0 2l1 3M1103 1576l-3 1l-2 -1l-1 -3l0 -3l0 -3l0 -3l-1 -3l0 -2l-2 -3M1006 1467l-3 0l-2 1l-2 2l-3 1l-2 1l-2 3l-1 2l-1 3l-2 3M993 1516l-1 2l-1 2l0 3l-1 3l3 1l3 -1l2 -2l3 -2l1 -3M1095 1572l-2 -3l-1 -3l0 -3l-3 0l-2 -1l-3 1l-1 3l1 3l2 2M1043 1571l1 2l2 3l1 2l-2 3l-1 2l-2 1l-1 2l1 3l-1 3M977 1523l-3 1l-3 1l-2 1l-3 0l-3 -2l1 -3l3 0M1052 1425l0 -2l-2 -2l-3 -1l0 -2l-2 -3l-2 1l1 2l1 3l1 2M1129 1427l-3 0l-2 -3l3 -2l2 2l1 2l1 2l1 3l3 2l3 -2M1007 1486l0 3l1 2l3 1l3 -2l2 -3l-1 -3l-3 -2l-3 -1l-3 2M1155 1554l1 -3l2 -3l-1 -3l-2 0l-2 1l-1 3l-2 1l-1 -2l1 -3M1002 1435l3 1l1 3l1 2l1 3l-1 3l-1 3l-1 2l0 3l-2 2M1083 1418l-2 2l-1 3l-1 2l-2 1l-2 1l-1 3l-2 2l-1 2l-2 2M1031 1419l0 2l1 2l1 3l2 2l2 1l3 -2l3 -1l2 -2l3 1M1041 1480l0 -3l0 -3l3 -1l3 2l3 2l3 0l0 3l-2 -1l-3 -1M969 1529l0 2l2 3l0 2l0 3l2 2l0 3l-2 1l2 0M1051 1595l2 -1l1 -3l-1 -3l0 -3l-1 -3l-3 1l-1 3l1 2l0 2M1150 1596l-2 -1l-3 -1l1 -3l0 -4l-1 -3l0 -3l0 -3l2 -2l3 -1M1143 1592l3 0l1 2l0 3l-3 -1l-3 -2l1 -3l2 -2l2 -1l3 -1M988 1434l-4 1l-2 -1l-2 -2l-3 -1l-2 -1l-3 -2l-1 -3l-3 0l-2 0M963 1463l-1 2l2 2l2 2l1 2l2 3l2 2l1 2l-2 2l-3 1M1065 1381l2 -1l3 0l3 0l3 0l3 -1l3 -1l1 -3l2 -2l1 -3M1128 1407l2 -3l0 -3l2 -2l1 -3l3 0l3 1l2 0l2 2l3 1M1009 1453l-2 -3l-3 0l-3 -2l-2 -2l-3 0l-3 -1l-2 -1l-2 -2l0 -3M967 1412l1 -2l2 -3l2 0l1 2l3 0l2 1l3 1l2 1l3 1M1151 1486l-2 -2l-3 2l-2 2l0 2l2 1l3 0l1 -2l1 -3l0 -2M1153 1432l1 -3l2 -2l2 -1l2 0l2 1l2 2l2 1l2 1l0 3M1092 1671l3 -1l1 -2l1 -2l-1 -3l-3 0l-2 -1l-2 2l-1 2l1 3M1063 1579l-1 -2l-1 -2l-1 -2l-3 -1l-3 0l-2 0l-3 -1l-4 0l-3 -2M1132 1606l2 2l3 0l-1 -3l0 -3l-2 -2l-3 -1l-2 0l-3 0l-3 0M1000 1589l0 -3l0 -2l0 -3l2 -2l2 -1l1 2l2 1l2 0l3 0M1150 1419l-2 -2l-3 1l-2 2l-3 1l-3 1l-3 1l-3 2l0 3l-2 2M1116 1429l0 2l-2 2l-1 2l-3 1l-2 -1l-2 -3l-1 -3l-3 0l-1 -2M1216 1441l-2 1l2 2l2 -1l2 -2l2 -2l-1 -3l-2 -1l-3 -1l-3 -1M1152 1382l-3 0l-2 0l-1 -2l1 -3l0 -2l2 -3l-1 -2l-1 -3M1017 1631l0 3l0 -3l1 -3l-1 -3l-3 2l-2 0l-2 -1M1142 1584l1 -2l2 -3l1 -3l2 0l2 1l2 -2l3 -2l2 -2l1 -2M1048 1625l-1 -3l-3 -2l-3 0l-2 1l-3 -1l-2 -2l1 -3l-2 -3l-2 -2M1054 1414l1 2l3 -1l0 3l-2 2l-2 0l-1 -2l0 -3l0 -3l-3 -2M1150 1604l2 -2l2 -1l1 3l2 2l3 -1l0 -3l0 -2l-3 2l1 2M1056 1413l-1 3l-1 3l1 3l0 3l2 3l2 2l1 2l2 2l1 3M1095 1367l2 -2l2 -1l3 0l2 -1l3 1l3 2l2 2l2 2l3 1M1074 1410l2 0l2 -3l-1 -2l-1 -2l-3 1l-2 1l-3 2l-1 3l0 3M1141 1661l2 -3l-2 -1l-3 0l-1 3l2 3l2 2l3 -1l-1 -3l-2 -3M972 1412l1 3l1 3l2 2l3 2l2 3l2 2l2 0l2 -1l-1 -3M1115 1459l1 2l2 2l3 1l2 3l3 2l2 2l1 2l-2 2l-3 -1M1019 1616l2 2l3 1l2 2l2 2l2 1l-1 3l-2 2l-3 0l0 -4M1032 1405l0 -4l0 -2l-1 -2l1 -2l-1 -2l0 -2l0 -3l2 -3l3 0M1041 1489l-2 2l-2 2l0 3l-1 3l-3 1l-2 0l-3 -2l1 -3l2 -3M993 1575l0 -3l-2 -2l-2 1l0 3l3 -1l2 -2l0 -3l0 -3l0 -3M1018 1461l-2 -2l-2 -2l-3 -1l-2 3l-1 2l1 2l1 3l2 2l3 2M992 1416l-2 -2l-2 0l-2 3l-3 0l-2 2l-1 2l-1 3l-2 1l-2 -1M1164 1578l-1 -3l2 -2l2 -1l2 0l-1 2l0 3l3 -1l2 -1l0 -3M997 1423l0 -3l1 -2l-2 -2l-3 -1l-2 -2l0 -2l1 -3l2 -2l2 -2M1029 1480l2 -1l3 0l3 -1l3 1l0 3l2 2l1 2l1 3l2 2M1106 1558l2 -1l3 -1l3 0l2 2l2 2l2 2l1 2l2 2l2 2M1043 1637l3 -2l2 0l3 -1l-2 -2l-3 -1l-3 0l-2 -1l-3 0l-2 0M1201 1570l-2 -1l1 -3l3 -1l4 1l3 -2l1 -2l1 -3l-1 -3l-3 -2M1085 1588l2 -2l3 -1l0 -3l2 -2l2 -2l-2 -3l-1 -3l-3 -1l-2 -3M1043 1449l-2 3l-2 2l-2 3l-3 1l-2 1l-3 -2l-2 -1l-3 0l-2 -2M1085 1488l0 3l-1 3l-3 2l-2 -2l-1 -2l2 -1l1 -2l2 -2l0 -3M970 1483l-3 0l-2 -1l-3 0l0 2l-1 3l-3 0l-3 0l-3 -1M1070 1575l-1 3l1 3l1 3l2 0l3 -1l2 -2l-1 -2l-3 0l-2 0M1181 1597l2 1l1 2l2 2l2 2l3 -1l0 -3l-2 -2l-3 -1l-3 1M1120 1402l-1 3l-3 0l-1 -3l2 -3l2 0l1 3l-1 3l-2 2l-3 2M1094 1637l-1 -3l-1 -2l-4 0l-2 2l1 3l4 0l3 1l3 2l2 0M1122 1664l-1 -2l2 -1l2 -1l3 -1l2 0l3 -2l2 1l2 3l0 2M1162 1373l2 0l0 3l-3 2l-3 2l-3 0l0 -2l3 -1l3 0l0 3M1188 1395l3 0l2 -2l1 -2l2 -3l2 -2l2 -2l0 -3M1081 1408l-2 3l-2 2l-2 3l1 2l3 -2l1 -2l1 -3l-2 -2l-3 1M963 1435l2 1l2 0l2 -2l-2 -2l0 -3l2 -2l-1 -2l-3 1l-1 2M1057 1451l3 0l0 -3l-1 -3l-1 -3l-1 -3l2 -2l0 -3l0 -3l2 -3M1055 1549l3 0l2 -2l-1 -3l-2 -2l-2 -2l-2 -2l-2 -2l-2 -2l-2 -2M994 1549l3 0l4 0l0 3l2 1l3 -1l3 0l2 1l2 2l2 2M1000 1559l3 0l4 0l3 1l3 0l3 1l3 0l2 1l1 2l0 3M1049 1460l-1 -3l-1 -3l-1 -2l-3 -1l-2 2l-1 2l1 3l2 3l3 1M1027 1509l0 2l3 2l1 3l2 2l-2 3l-1 2l-1 3l-2 3l-2 1M1096 1408l4 0l2 -1l0 -3l-1 -2l-3 -1l-3 1l-3 1l-1 3l0 3M1123 1450l-2 1l0 4l-2 3l-2 1l-1 3l2 2l0 3l2 2l2 1M1030 1488l-1 2l1 2l2 2l2 2l3 1l2 2l0 2l-1 3l1 2M1037 1405l0 3l-1 2l0 3l0 3l0 4l0 3l1 2l0 3l1 2M1106 1414l2 1l3 0l-1 -3l0 -2l0 -3l3 -1l3 0l3 1l3 -1M972 1515l3 0l2 0l3 0l2 -1l-1 -2l-1 -2l0 -3l3 -1l3 1M1037 1629l-1 3l-3 0l0 -3l0 -3l-1 -3l1 -2l-1 -3l-2 -3l-2 -1M1199 1471l-3 1l-2 1l-2 1l-2 2l-2 2l-1 3l1 3l0 3l-3 1M1030 1597l-2 -3l-3 -1l-2 1l-3 0l-3 1l-3 2l-2 2l0 3l1 2M1158 1426l0 3l0 3l0 2l1 3l-2 3l-3 1l-3 1l-1 -2l-2 1M1122 1505l-3 -1l-3 1l-1 2l1 3l-1 3l1 2l0 3l2 3l0 2M1128 1539l3 -1l2 1l3 -1l2 -1l2 -2l2 -2l1 -3l0 -3l1 -3M1038 1443l2 -2l2 -2l3 1l1 3l0 2l-2 1l-3 -1l-3 -2l-3 0M1020 1542l1 -2l2 -2l2 -3l-1 -3l0 -2l-1 -2l0 -2l2 -1l3 0M1145 1522l0 3l1 3l2 2l-1 3l-1 3l-1 2l-3 1l-3 0l-2 -1M1144 1645l0 -4l0 -3l-1 -2l-1 -2l-2 -2l-3 1l-3 0l-1 -3l3 -1M1063 1480l2 -3l1 -3l0 -3l-2 -1l-2 -3l-3 0l-2 -2l-1 -3l-2 -3M1167 1532l1 -3l2 -3l3 -1l3 0l2 0l3 0l1 2l-3 2l-2 -1M1028 1471l-2 1l-3 -1l0 -2l2 -1l3 -1l3 2l-1 2l1 3l-2 3M1085 1692l-1 -2l-2 -2l-3 -2l-2 -2l-1 -2l-2 0l-2 3l0 3l0 3M970 1476l1 -3l-3 -2l-2 2l2 2l3 1l1 -3l0 -3l-1 -2l-3 -1M1047 1556l0 2l-2 0l-3 0l-1 -2l2 -2l0 -3l1 -2l1 -3l2 -2M1194 1472l1 4l1 2l2 3l1 2l1 2l1 3l0 3l1 2l-1 3M1070 1390l0 -3l0 -2l-3 1l-2 3l-2 2l-3 1l-3 0l-1 -3l1 -3M1074 1407l-3 0l0 -3l1 -3l3 -1l1 -3l2 -1l3 1l1 4l0 4M1058 1605l-1 -2l-1 -3l-1 -2l-1 -2l0 -3l0 -3l0 -2l1 -3l0 -3M1108 1556l2 0l3 0l4 0l2 -1l3 -1l3 -1l2 -1l1 -2l-1 -3M1111 1638l-2 -3l-3 -1l-2 1l-2 2l-1 3l-2 2l-2 2l0 3l-1 2M1034 1565l0 3l1 2l3 -2l2 -3l2 -3l0 -3l-2 -1l-1 -3l-1 -3M1186 1588l-1 -3l-1 -3l-2 -3l-2 1l-2 0l-3 -2l-3 -1l-3 -2l-2 -1M1087 1533l1 -3l-1 -3l-2 -1l1 -3l0 -3l-1 -3l-1 -3l1 -3l2 -2M1121 1585l-1 -2l-3 0l-2 -1l-3 0l-3 2l-1 3l0 3l0 3l1 3M1041 1624l2 -3l-2 -3l-3 -1l-2 -2l-3 -1l-4 0l-2 -1l-1 -3l1 -2M1176 1579l0 -3l1 -3l1 -3l3 0l2 2l2 3l-1 3l-1 3l3 1M1158 1558l-1 -3l-1 -2l1 -2l-1 -3l-2 -2l-3 0l-2 1l-2 1l-3 2M1064 1596l-3 1l-3 1l-3 1l-1 3l2 1l2 -1l-1 -2l-3 1l-3 2M1021 1506l-2 1l-3 -2l-2 -1l-2 -1l-1 -2l1 -2l3 0l2 1l3 -1M1125 1448l1 -2l3 -1l3 -1l3 0l1 -2l1 -2l2 -1l2 1l1 3M977 1485l-1 -2l-2 -2l-1 -2l-3 2l0 2l2 1l3 1l3 1l-1 2M1122 1431l1 3l0 3l-4 0l-2 -2l-2 -2l2 -2l2 -2l0 -3l-3 -1M1183 1473l1 -2l1 2l0 3l-2 3l-3 -1l0 -3l0 -3l2 -3l3 1M1076 1378l-2 -3l-3 -2l-2 3l1 2l2 2l3 2l2 -2l3 1l3 -2M1045 1545l1 -3l-2 -2l-3 2l-1 3l-1 2l-1 2l-2 2l0 3l3 0M1097 1495l-2 -2l-2 -1l-2 -2l-3 0l-3 -1l-1 3l1 3l1 3l0 3M1098 1606l2 -3l0 -3l2 -2l3 1l1 2l3 2l1 2l2 2l3 1M1203 1453l0 -3l2 -2l1 -2l-1 -2l1 -2l3 -1l3 0l3 1l-1 3M1072 1454l-1 3l-3 0l-2 -2l0 -3l2 1l2 2l3 1l3 -1l-2 -3M1070 1400l1 2l2 3l1 3l1 3l2 2l3 2l2 2l-2 2l-4 1M1109 1640l-2 0l-3 0l-1 2l-1 3l0 3l-1 3l-2 2l-3 2l-1 2M1036 1627l3 -1l2 -2l3 1l-2 1l-2 -1l-3 -2l1 -3l2 -3l2 2M957 1475l2 -2l1 -2l0 -2l0 -2l-2 -2l2 -2l3 1l3 2l2 2M1060 1662l3 -2l3 1l3 0l3 0l3 -1l3 0l3 1l2 -2l1 -2M1100 1657l-2 -3l-4 0l-2 1l-3 2l-2 2l-1 3l-2 0l-3 2l-4 0M974 1446l-3 -1l-3 -1l-3 1l-3 1l-3 1l-2 -2l-3 -1l-1 -3l0 -3M1049 1582l-3 -1l-3 0l-3 -1l-2 1l1 2l1 3l0 3l0 3l-3 0M1059 1584l1 -3l-3 -2l-2 -2l-1 -2l-3 0l-2 2l-1 2l1 2l1 3M1078 1420l-1 2l-2 2l0 2l1 2l3 1l2 2l3 2l3 -2l1 -2M1148 1518l-2 3l-1 3l-2 2l-2 2l-2 3l-3 -1l-3 -1l-3 0l-2 -2M1120 1559l3 2l0 3l0 3l-1 2l-3 0l-1 -3l0 -3l1 -3l3 -2M1005 1381l-3 2l0 2l3 0l2 -1l1 -3l-1 -3M1091 1580l2 -3l3 2l2 2l2 2l2 2l2 1l0 2l2 3l0 2M1019 1520l1 3l3 1l3 -1l3 -1l2 1l2 3l0 3l-1 3l-2 3M1064 1396l1 -3l0 -3l3 -1l2 -2l2 -2l4 1l3 1l0 3l-1 2M1120 1468l-3 -1l-2 -2l-3 -2l-2 -3l-1 -3l-1 -3l0 -3l0 -2l0 -2M1068 1395l3 2l2 -3l-1 -3l-1 -2l-3 -1l-3 0l0 -2l2 -2l2 0M1007 1517l1 3l-1 3l-3 0l-3 1l-2 -2l2 -2l2 -2l2 1l2 1M1108 1412l-2 -2l-2 -1l-2 -2l-3 -2l-3 -1l-2 1l-2 3l-2 1l-3 2M1053 1394l2 -2l3 -1l2 2l1 3l2 3l2 1l2 -1l1 -3l2 -2M1030 1607l2 2l1 3l-1 2l0 3l1 2l1 3l3 -2l2 -2l3 -1M1154 1636l1 3l0 3l1 3l0 3l-1 2l-3 1l-1 -2l0 -2l-1 -2M955 1451l3 0l2 0l2 1l2 2l1 2l0 2l-3 1l-4 0l-3 -1M1128 1676l3 -1l2 -2l0 -3l-1 -2l-1 -3l-1 -3l-1 -3l1 -3l1 -3M1118 1433l2 2l-1 3l0 3l-2 3l-3 1l-1 -3l-1 -3l-1 -3l-1 -3M1068 1427l2 3l2 3l0 3l1 3l-1 3l1 3l1 3l1 3l1 3M1154 1590l-1 -3l2 -1l4 0l3 1l0 2l0 2l0 3l-2 2l-2 -2M1110 1633l-2 -1l-2 1l-1 2l-2 3l-3 2l-2 1l-3 2l-2 1l-2 2M982 1479l-1 -3l-3 -1l-3 0l-3 -1l0 -4l0 -3l3 0l3 1l1 2M1013 1527l3 1l2 0l3 -2l3 -2l2 -2l2 -1l1 -3l2 -3l2 -1M1108 1600l1 -3l3 -1l2 -1l3 -1l2 -2l3 -2l2 -1l2 -2l3 -1M1089 1609l-1 -3l0 -3l-2 -1l-3 -2l-2 -1l-1 -2l-2 -3l-1 -2l1 -3M1086 1531l-1 2l-3 0l-3 -2l-2 -2l-2 -2l-3 -2l1 -2l3 -1l2 2M1200 1406l2 2l2 0l3 -1l1 -3l3 -1l1 -3l-2 -2l-3 0l-1 2M1081 1498l0 -3l-2 -1l-2 1l-2 2l-1 3l2 2l3 0l3 -1l1 -3M1098 1627l2 3l1 -2l0 -2l-2 -2l-2 1l0 2l3 1l1 -3l-3 -2M1036 1531l1 3l3 -1l1 -2l-1 -2l-3 1l-2 3l0 3l1 2l2 1M1052 1514l2 -3l2 -2l2 -1l3 0l2 -2l2 -1l3 -2l2 0l1 3M982 1435l2 -3l3 1l2 1l0 3l0 3l0 3l-2 1l-2 -1l-2 -2M1050 1614l1 2l3 0l2 -2l-1 -3l-3 0l-3 0l-2 -2l1 -2l3 -2M998 1476l0 -3l2 -1l3 0l3 -2l0 -2l-1 -2l-3 -2l-2 -2l-1 -3M1153 1668l1 -2l1 -2l-2 -2l-3 -2l-2 -3l-2 0l-3 1l-2 -1l-2 -2M1119 1400l-1 -2l2 -2l0 -3l-1 -3l-2 -1l-1 -3l-2 -2l-2 -2l-3 -2M1101 1419l0 -3l0 -3l1 -3l1 -2l1 -3l0 -3l0 -3l-1 -2l1 -2M1009 1588l3 0l2 -3l2 -2l-1 -3l-2 -2l-2 -2l-3 -1l-2 0l-3 1M1041 1643l3 0l2 -3l0 -3l-2 -1l-3 1l-2 3l3 0l1 -3l-3 -2M979 1473l-2 2l-1 2l-1 3l-1 3l2 1l3 -1l2 -3l1 -2l1 -2M1059 1382l2 2l1 3l0 3l2 3l0 3l0 2l-1 3l-1 2l-2 2M1006 1499l-2 -2l-1 -3l0 -2l-2 -3l-1 -2l-1 -2l0 -3l-2 -1l-3 0M1056 1585l0 -3l-3 -2l-2 1l-3 1l-2 -3l-3 -2l0 -3l1 -2l1 -2M1100 1487l3 2l2 1l3 -1l0 -3l1 -2l2 -3l3 0l3 1l2 0M1054 1458l2 -3l1 -2l-2 -2l-2 0l-2 -1l-1 -2l-2 -1l-3 -1l-2 -3M1105 1661l-1 -3l-2 0l-3 2l0 3l1 2l1 2l1 2l1 3l3 0M1078 1520l0 -3l-2 -3l2 -2l2 1l0 3l-2 0l-3 -2l-1 -3l-1 -2M1052 1437l2 -2l3 -1l3 -1l3 0l3 0l3 1l1 3l3 1l2 -1M1095 1557l2 -1l3 -2l3 -1l3 1l2 1l2 2l0 3l1 3l2 2M1095 1617l-3 1l-3 1l-2 -1l-1 -2l-3 -3l-3 -1l-2 0l-2 0l-2 0M1074 1431l0 -3l-2 -2l-2 -2l-2 -1l-2 -1l-3 1l-3 1l-2 0l-3 -2M1179 1600l2 -2l2 -1l2 -2l0 -3l-1 -3l1 -2l1 -3l3 1l3 1M1078 1389l-2 -2l-2 -3l0 -2l3 -1l2 1l1 3l-1 3l1 2l2 -2M1134 1586l0 4l0 3l-3 1l-2 1l-1 3l-2 3l-3 2l-2 2l-3 -1M1079 1532l2 1l2 -2l-1 -3l-3 0l-3 2l-3 1l-1 3l3 2l2 -3M1096 1551l1 -3l-3 -1l-2 2l-2 3l1 3l1 3l2 1l3 -1l3 -1M1150 1618l2 1l0 3l0 3l0 2l-1 3l-2 0l-3 2l-3 0l-1 2M1155 1556l2 -3l3 -2l-2 -2l-1 -3l-3 0l-3 1l-3 0l-1 2l-2 2M1009 1505l-3 -1l-2 -2l-2 -1l-3 0l-3 0l-3 1l-2 1l-2 0l-2 1M1209 1449l-2 -2l-2 -3l-2 -1l-3 0l-2 -2l-3 -1l-3 -2l-1 -3l0 -3M1124 1428l-2 1l-3 1l-3 0l-3 1l-3 1l-3 2l-3 0l-3 0l-1 3M1093 1541l0 -3l1 -3l2 -2l3 1l3 -1l3 -1l3 0l3 0l3 0M1180 1528l3 1l2 0l4 0l1 2l0 3l-2 2l-3 1l0 3l2 3M980 1471l-1 3l0 2l2 3l3 0l3 0l3 -2l-1 -3l0 -2l0 -3M1148 1522l-2 1l-1 3l0 3l-3 -1l0 3l-1 2l0 2l3 0l3 -2M1063 1476l0 -2l-1 -3l-1 -2l-3 -1l-3 -1l-2 -2l-2 -2l-3 -1l-3 -2M1068 1616l0 -4l1 -2l2 -2l3 -2l1 -3l0 -3l-2 -2l-3 1l-2 2M1204 1442l3 2l0 3l-2 1l-2 -2l0 -2l-2 -2l0 -2l-3 0l-1 3M1022 1460l0 3l-1 3l1 3l1 3l-1 3l0 2l-1 2l-3 2l-2 2M998 1432l1 3l3 0l-3 -1l-3 -2l-2 -3l2 -2l0 -4l-3 0l-2 2M1027 1569l2 -2l1 -3l1 -2l3 -1l2 -2l2 -1l2 1l3 -1l0 -3M1195 1407l2 -2l1 -3l-1 -2l1 -3l2 -2l1 3l-1 2l1 3l2 1M1061 1447l2 -2l3 0l2 1l2 -1l3 -1l3 2l0 2l-2 3l-1 2M1092 1403l-2 2l-3 2l-2 0l-2 -1l-3 -1l0 -2l0 -4l2 -2l1 -3M1072 1494l-2 -3l-1 -2l-3 0l-3 -1l-2 -2l-1 -3l-1 -2l-2 -1l-2 2M1095 1668l2 2l2 0l3 -1l1 -2l3 -1l2 3l1 2l-2 2l-2 1M1046 1607l2 0l3 0l3 0l3 0l1 3l0 2l-3 1l-2 2l1 3M1096 1680l1 3l-1 3l-1 3l-2 2l-3 0l-3 0l-2 -2l-1 -3l-1 -2M955 1447l-3 -1l-2 -2l-2 -1l-3 -1l-3 -1l-3 0l-1 -3l-1 -3l0 -3M1030 1431l-3 1l-2 1l-3 1l-1 2l0 2l-2 2l-2 3l-3 1l-2 1M1051 1466l4 0l2 1l3 1l3 0l3 1l3 1l3 1l3 -1l3 1M1049 1576l1 -2l1 -2l0 -2l-1 -2l-2 0l-3 -1l-3 0l-2 -1l-3 -1M1021 1622l2 -2l3 0l2 2l3 1l3 1l2 1l3 0l3 -1l3 -1M1080 1642l3 -2l3 0l2 0l-2 2l-2 -1l-3 -1l1 -3l2 -1l3 2M1076 1480l3 -1l1 -2l0 -3l-1 -2l0 -3l-2 -2l-3 -1l-2 1l-3 1M1059 1411l2 -1l-2 -1l-3 0l-2 2l0 3l2 1l3 -1l1 -3l3 -2M1189 1520l0 3l-1 3l-1 2l-2 2l-2 -2l-2 -1l0 -4l1 -3l-1 -3M995 1401l2 -1l1 -3l1 -2l1 -3l-1 -2l-2 -1l-2 2l-2 2l-3 3M1091 1508l3 -2l3 -2l3 0l3 -2l3 -1l2 -3l3 -1l1 2l0 3M1188 1540l1 2l-1 2l-3 1l-3 -1l-1 -3l3 0l4 0l1 2l2 1M1095 1454l-2 -2l0 -3l-2 -2l0 -3l1 -3l-2 -3l0 -3l-1 -3l0 -2M1093 1611l3 0l3 -1l2 -1l2 -2l2 -1l2 -1l2 -1l2 -1l2 -2M1133 1606l2 -2l3 -2l0 -3l-1 -3l-2 0l-3 0l-4 0l-2 2l-3 0M1186 1534l3 1l3 1l1 2l-2 3l-3 1l-2 1l-2 -2l2 -3l2 1M957 1435l-2 1l-2 0l-2 -2l-1 -3l0 -3l3 0l3 0l2 2l0 3M1052 1410l-3 0l-2 1l1 3l2 2l2 3l3 1l1 3l2 2l2 -2M1126 1554l1 2l0 3l2 2l-1 3l-1 3l-3 0l-3 0l-2 -1l-3 0M1016 1547l2 2l3 2l2 2l3 -1l4 0l2 1l3 -1l2 1l2 0M1169 1538l0 3l-3 1l-3 -1l-1 -3l-1 -3l2 -2l1 -3l1 -3l2 -2M1070 1657l2 0l2 1l0 3l-1 3l1 3l-1 3l-3 1l-3 1l-3 0M1113 1460l2 -1l2 0l3 -2l3 1l2 2l2 2l3 0l0 3l0 3M1094 1574l-2 0l-2 -2l1 -3l1 -2l3 -1l1 2l0 3l0 2l-3 2M1082 1524l3 1l3 -2l3 1l3 0l3 0l0 -3l-1 -2l-1 -2l-3 -1M1130 1590l-2 3l-2 2l-2 -3l-3 -2l-3 1l-2 1l3 2l3 -1l1 -3M1077 1586l2 -1l3 1l3 2l1 2l-2 2l-2 0l-2 2l1 3l3 -2M1155 1612l1 3l1 2l2 2l3 0l3 1l3 1l2 2l0 3l1 3M1123 1430l3 0l3 -2l1 -3l0 -3l-2 -2l-2 -2l-3 -2l-2 -3l-2 1M1157 1562l-3 0l-3 0l1 3l1 3l0 2l0 3l0 3l0 2l-1 3M1054 1415l3 -1l3 -2l2 0l3 1l2 1l3 -2l2 2l2 1l-1 2M1158 1546l-2 3l-2 2l-2 3l-2 -2l2 -3l2 -1l2 0l2 1l-3 2M1145 1379l2 -1l3 0l3 0l3 0l3 0l2 -2l2 -1l3 -1l2 1M1043 1575l-3 1l0 -2l2 0l2 2l-1 3l2 2l3 -1l1 -2l-1 -2M1069 1614l-1 -2l2 -2l3 0l0 3l-2 2l1 2l2 1l2 -2l1 -3M1132 1478l-2 3l-2 3l2 2l2 0l0 -3l-1 -2l-2 -1l-2 -1l-3 0M1177 1520l-2 -1l-3 -1l-1 2l-2 2l-1 3l0 3l-1 3l0 3l0 2M1111 1445l2 2l-1 3l-3 0l-2 -2l1 -3l3 -1l3 0l3 2l3 2M1067 1677l-3 -1l2 -2l-1 -3l-1 -3l-2 -3l-2 -1l-2 2l-3 0M1060 1440l3 0l3 1l2 0l2 -2l0 -4l-1 -2l-2 -2l-3 -2l-3 0M1076 1601l-3 -1l-3 -1l0 -4l2 -1l2 1l2 1l2 1l2 -1l2 -2M1145 1420l-2 -3l-2 -3l-2 -2l-3 -2l-2 1l-2 0l-3 1l-3 0l-2 -1M1023 1612l1 -2l2 -3l2 -2l2 -3l0 -3l-1 -2l-1 -3l0 -3l2 -2M1038 1627l2 -2l3 1l1 2l0 2l-1 3l-2 0l-4 0l-1 2l-1 3M1132 1673l-3 -1l-3 2l-3 1l-2 1l-2 0l-3 0l-2 0l-3 -1l-3 1M983 1454l1 -3l0 -3l0 -3l2 -2l3 -1l1 -3l1 -3l2 -3l2 -1M996 1572l-1 -3l1 -3l2 -2l3 -1l3 1l2 0l3 1l3 1l1 2M1097 1532l1 3l-1 2l-2 1l-3 -2l-3 -1l-1 -2l2 -3l3 1l3 0M1179 1630l1 2l1 2l2 3l2 -3l2 -1l-3 0l-3 0M1012 1471l2 1l2 -3l1 -2l2 -2l2 2l-2 2l-2 2l-3 -1l0 -3M973 1425l-3 -1l-2 -1l-2 1l-3 2l-2 2l-2 2l1 3l3 2l2 2M1133 1689l-3 -2l-3 -1l-2 1l2 3l1 3l-3 -1l-2 0l-3 0M994 1429l2 -1l3 1l2 2l2 -1l3 -1l2 2l2 2l1 3l3 1M1005 1391l-3 -2l-3 0l-3 0l-2 2l-2 2l-2 3l-1 4l2 3l2 -2M1076 1581l2 -2l-2 -3l-3 1l1 3l0 3l0 2l2 2l0 2l-2 0M1108 1682l1 2l1 2l3 0l2 -2l-2 -2l-3 0l1 2l2 1l3 1M1129 1589l2 3l1 3l-3 1l-3 -1l-1 -2l3 -1l3 1l3 1l1 2M1203 1545l1 3l2 -1l2 0l1 2l1 2l-1 3l2 1l1 -2l3 2M990 1425l-2 -2l0 -3l1 -2l2 0l1 -3l2 0l2 -2l-1 -2l-2 0M1127 1554l-2 2l-3 0l-3 -2l1 -2l1 -2l3 -1l2 2l-1 3l-3 0M1061 1511l0 3l2 2l3 1l0 -2l-2 -2l0 3l1 3l3 1l1 -3M956 1449l2 1l2 -1l3 2l3 -2l1 -2l0 -3l-2 -2l0 -3l-1 -3M1192 1392l1 2l1 2l2 3l2 1l3 0l2 -1l2 2l-1 2l1 2M1059 1637l0 2l3 1l3 1l1 -2l-2 -2l-2 -1l-3 -1l-1 2l-2 1M1083 1680l-2 0l-2 0l-1 -3l-2 -2l-1 -3l0 -2l2 -3l3 -1l2 0M1150 1627l-3 0l-2 2l1 2l3 -1l1 -3l4 0l2 1l2 2l-3 1M1057 1564l-2 -3l-3 -2l-2 -3l2 -1l3 0l3 1l2 2l2 2l3 1M1204 1414l0 2l-2 2l-3 0l-3 0l-3 1l-3 -1l-2 3l-2 2l1 3M1167 1392l3 0l3 -1l2 -1l2 1l0 3l1 3l3 0l2 -2l-2 -2M1077 1600l0 3l-3 2l-1 2l-1 3l0 2l-1 2l3 2l-1 3l0 3M1133 1527l3 -1l3 0l3 2l-1 2l-2 0l-2 0l-2 -1l-1 -3l-1 -3M1049 1556l2 -2l0 -2l3 0l2 -1l3 -1l-1 -3l-2 -2l3 -2l3 -1M978 1438l-2 0l-3 -1l-2 -1l1 -3l3 -1l3 -1l3 0l0 3l-2 2M1003 1452l2 0l2 -1l1 -2l2 -2l1 -2l-2 -1l-2 0l-3 2l0 3M977 1477l-1 3l-1 3l-1 2l-2 3l0 3l0 2l1 3l2 3l3 1M994 1562l1 -3l2 -1l1 2l1 3l2 2l2 2l-1 2l1 3l3 2M1178 1555l-3 -1l-3 0l-2 -3l1 -3l2 -2l3 0l3 1l3 1l3 2M1208 1451l-3 -1l-2 -2l-2 -2l0 -3l3 1l3 -1l2 0l3 0l2 -2M1032 1573l-3 0l-1 -3l-2 -1l-3 -1l-1 -2l0 -3l2 -3l3 -2l2 -2M1185 1495l-3 1l0 2l3 2l2 0l1 -2l-1 -2l-3 -1l0 -2l2 -2M1157 1604l0 3l0 2l2 3l1 3l-1 3l-1 2l1 3l3 0l1 -3M1167 1443l1 3l0 2l0 3l-1 2l-3 -1l-3 0l-3 -1l-2 -2l0 -3M1153 1523l3 -2l2 -2l1 -2l2 -2l2 -2l1 -3l1 -2l3 -1l2 0M1179 1405l-3 2l-2 3l0 2l-3 1l-2 2l-3 -1l-2 -1l-1 -3l3 1M1063 1646l3 1l2 2l1 3l-2 2l-1 2l-3 2l-3 -2l-1 -3l3 -1M1134 1688l3 1l2 0l3 1l3 -1l1 -3l-1 -3l1 -3l0 -3l-2 -3M1090 1626l-3 -1l-3 0l-3 1l-1 -3l1 -2l-2 -2l-3 -1l-3 1l-3 1M1056 1474l0 -3l-1 -3l0 -2l2 -3l1 -3l-1 -3l-1 -2l-3 -2l-2 2M1012 1547l-2 3l-3 1l-2 -1l-2 -2l3 -2l2 -1l1 2l1 3l4 0M1108 1491l-3 -1l-1 -2l-3 0l-2 0l-3 1l-3 0l-3 0l-3 0l-4 1M1100 1635l-2 0l-3 0l-1 -2l1 -2l2 -3l3 0l3 0l0 2l3 -1M977 1526l0 -3l0 -3l-2 -2l-3 -1l-2 -2l0 -2l0 -3l-1 -2l-3 -2M981 1484l3 1l1 3l0 2l-2 2l-3 1l-2 0l-2 0l-2 1l-1 2M1220 1434l1 -3l1 -3l0 -3l2 -3l-3 -1l-3 -2l-1 -3l0 -4M1009 1477l3 1l3 -1l1 -2l-1 -2l2 -2l1 2l2 2l3 2l-1 3M1004 1531l1 3l-1 3l2 2l1 2l3 2l2 -1l3 -2l2 -1l1 2M1077 1626l2 -2l-2 -1l-2 2l-2 1l1 2l2 1l3 1l2 -1l0 -3M1051 1447l2 -2l0 -2l3 -2l3 1l2 0l3 -1l0 -3l-3 -1l-2 2M1167 1507l0 -2l0 -3l-2 -1l-1 3l-1 3l2 2l2 3l0 2l-2 1M1105 1413l-1 3l-1 3l2 3l1 3l-3 2l-3 -1l-2 -3l-2 -2l-1 -3M946 1435l3 0l3 0l3 -1l2 0l3 -2l0 -3l-2 -3l-2 -3l-3 -2M1040 1526l3 -1l2 3l2 2l1 3l-1 3l2 3l0 2l1 2l-1 3M1097 1682l1 2l3 -1l0 -3l-1 -3l-3 0l-3 1l1 3l-1 2l-3 -1M1166 1663l-1 -2l3 -2l3 0l2 1l0 2l0 3l-2 0l-2 2M1114 1594l-3 -1l-2 -3l-3 0l-2 3l0 3l1 3l1 3l-3 1l-1 -3M1081 1643l-1 2l-2 2l-3 1l-2 2l2 2l3 1l3 0l1 -2l-2 -2M953 1465l-1 -2l2 -1l0 -3l-1 -3l-2 -2l-2 2l0 4l2 2l0 2M994 1536l2 3l-1 2l-2 2l-3 2l-2 -1l-2 -1l-2 -3l-1 -3l1 -3M1073 1540l2 0l0 3l3 0l1 -3l1 -3l3 -2l3 1l-2 2l-2 2M1122 1385l3 2l3 1l0 2l0 2l-1 3l-2 2l-3 0l-2 -2l-2 -2M991 1550l-2 2l-1 -2l-2 -3l1 -2l2 -2l2 1l2 1l-1 3l-1 3M1017 1470l2 -2l1 -3l1 -3l3 -1l3 -1l3 0l3 -1l2 3l-1 3M1013 1418l2 0l2 -2l2 -1l3 1l3 2l3 1l3 0l3 -2l2 -1M1062 1499l3 0l3 1l3 1l3 0l3 -1l2 -3l0 -2l-1 -3l0 -3M997 1499l1 2l2 0l2 -2l-1 -3l-2 -3l-1 -2l-2 -2l-3 0l-3 -1M1051 1524l3 0l3 0l3 0l2 -2l2 -2l1 -3l2 -3l0 -2l-2 -2M1124 1654l3 -2l2 1l3 1l2 -2l3 -2l2 -2l2 -2l2 -2l1 -3M1172 1394l1 2l-2 3l-3 1l-3 1l-3 2l-2 -2l-2 -2l-1 -3l2 -3M1199 1546l-2 2l-1 2l-3 -1l-3 2l-2 -1l-3 -2l1 -2l2 -2l2 -2M1011 1578l-2 2l-3 -1l-3 0l-3 -1l-3 0l-2 -1l-2 -2l-2 -2l-1 -2M1197 1583l1 2l0 3l-2 2l-3 1l-3 -1l-2 -2l-2 1l-2 2l-3 1M1086 1450l3 1l1 3l-1 2l-2 -1l-2 -3l0 -3l1 -3l3 0l0 3M964 1538l3 0l3 0l1 3l0 4l-1 2l0 -3l-2 -3M966 1475l2 -2l2 -2l2 -2l2 -2l1 -3l-1 -2l-2 -2l-3 -2l-2 -2M1195 1414l0 -3l0 -3l-2 -3l-3 2l-2 2l-1 2l-1 3l1 3l2 2M1152 1650l-2 -1l-1 2l2 2l3 -1l2 -2l2 -1l3 -2l3 0l-1 3M1042 1563l-3 -2l-3 -2l-3 2l-3 -1l0 -2l2 -3l1 -2l1 -2l1 -3M1017 1582l-2 -3l-3 1l-2 3l1 2l2 -3l-2 -2l-3 -1l-2 2l0 3M1071 1556l0 -3l-3 -2l-3 1l-2 1l-1 2l-3 1l-3 0l-3 2l-3 0M985 1409l-2 1l-1 3l-2 3l1 3l2 2l3 1l3 2l1 -2l1 -3M1016 1544l-3 0l-3 -1l-2 -1l-2 -2l-2 -3l-1 -3l2 -1l-1 -3l0 -3M1044 1379l0 -3l1 -3l-2 -2l-1 3l-1 3l1 2l0 3M1105 1481l2 -1l2 0l2 2l1 3l2 0l3 1l-2 3l-3 0l-3 0M1129 1419l1 3l2 0l0 2l3 1l1 -2l2 0l2 1l1 3l-2 2M1200 1528l1 2l-2 2l-3 1l-3 1l0 3l0 2l3 1l3 -1l1 -3M1194 1519l3 2l3 1l2 -2l1 -2l0 -2l2 -3l2 2l3 0M1111 1560l2 -2l3 0l2 -2l0 -2l0 -3l-2 -2l-3 1l-3 2l-2 2M1122 1476l-2 2l-2 1l-2 3l-1 -2l1 -3l0 -3l2 1l-2 2l-3 0M1100 1507l2 -1l2 -2l0 -3l0 -2l-1 -2l-2 -2l-2 2l0 3l3 0M1153 1573l-3 0l-3 -1l-3 2l-4 0l-2 0l-4 0l-3 0l1 3l2 2M1041 1596l1 -2l-2 -1l-3 -2l0 -3l1 -3l3 -1l3 1l3 0l2 0M1121 1628l1 -3l1 -3l1 -2l0 -3l1 -3l0 -2l1 -2l2 -2l1 -2M1182 1429l-3 1l-2 1l-1 3l1 2l0 2l-1 3l-3 0l0 -2l2 -2M1086 1568l3 1l2 1l0 2l-1 2l-3 2l-2 1l-1 2l2 2l1 3M1142 1528l-2 1l-2 -3l-3 0l-3 -1l-2 -2l-3 0l-2 -2l2 -3l2 -2M1066 1563l1 -3l2 -1l2 -1l3 1l2 3l2 2l1 2l2 1l3 1M1187 1419l0 -3l0 -3l0 -3l1 -3l1 -2l1 -3l0 -3l-2 -3l-2 0M1202 1455l1 2l1 2l0 3l1 3l-1 3l-1 3l-1 2l-3 2l-1 -2M963 1444l-1 3l1 3l-3 1l0 -2l1 -3l3 1l-1 3l-2 1l-3 -1M1036 1456l2 -2l2 -1l1 -2l3 -1l3 0l2 2l3 0l2 -3l3 0M1156 1669l3 1l1 -3l-3 -2l2 -3l-3 -1l-2 -2l0 -3l2 -1l3 2M1148 1588l-3 0l-2 1l-2 -3l0 -2l-1 -2l1 -2l0 -3l1 -2l2 -1M947 1462l-1 2l-2 3l-1 2l-2 -1l-1 -2l1 -3l0 -3l-1 -3l1 -3M1053 1510l3 2l2 2l1 2l-1 2l1 3l1 2l0 3l-3 0l-2 1M1182 1611l0 -3l-2 -3l-3 0l-4 0l-3 0l2 2l2 2l3 2l2 2M974 1519l-2 -2l0 -3l2 -2l2 1l-1 3l-3 -2l1 -3l3 1l2 3M1159 1658l2 2l1 2l3 0l3 1l2 -1l0 -2l-2 -1l-1 -3l1 -2M1105 1693l-1 2l-1 -3l-2 -2l-2 -2l-1 -2l2 -1l2 -2l3 0M1157 1591l2 -1l3 -1l3 -2l0 -2l-1 -2l0 -3l-2 -2l-3 -1l-3 2M992 1446l1 2l-1 3l-2 1l-3 2l2 2l3 0l3 0l1 -3l1 -2M1046 1541l0 2l2 1l2 -1l1 -3l2 -2l1 -2l-1 -3l0 -3l-2 -1M983 1539l3 -1l2 -3l1 -3l-1 -2l0 -2l-2 -1l-3 2l-3 -2l-1 -2M1051 1557l-1 3l-2 2l-2 0l-2 2l-3 1l-3 0l-2 0l-3 1l-3 0M1049 1414l-3 -1l-2 -2l2 -2l3 1l1 3l-3 1l-2 -2l-2 -3l-2 -1M1055 1479l-3 2l-3 0l2 -3l0 -3l0 -3l-1 -3l-3 -1l-2 -1l-3 -1M1155 1405l-2 3l-2 1l-3 -1l-2 1l0 3l0 2l0 2l-1 3l-2 3M1207 1444l2 -2l3 0l3 1l3 1l2 2l-3 1l-2 -2l-1 -2l3 -1M1071 1536l0 -2l1 -2l0 -3l-2 -3l1 -2l1 -3l-1 -2l0 -3l1 -3M1112 1561l3 0l2 -1l2 -1l1 -3l2 -3l0 -3l1 -2l1 -3l2 -3M1085 1572l3 0l3 0l3 0l2 2l2 1l-1 3l-2 1l0 3l1 3M1027 1628l-3 -2l-3 -1l-3 -1l-3 1l-2 -1l-3 1l0 3l-2 -3M1085 1450l3 -1l1 -2l0 -3l-2 -1l-3 -2l-3 -1l-3 1l-3 -1l-3 0M1073 1677l2 -3l3 1l3 -1l3 1l0 3l-1 2l-4 0l-2 -2l2 -2M1026 1514l-3 -2l-3 1l1 3l2 -2l-1 -2l-3 0l-1 3l-1 3l0 3M1097 1389l2 1l2 2l2 1l2 1l0 3l1 3l2 3l3 1l3 1M1111 1674l2 1l2 3l2 2l3 1l3 1l3 0l3 0l3 -1l2 3M1071 1621l2 -3l0 -3l-2 -2l-2 -2l-3 1l-2 3l-3 2l-2 2l-2 1M1046 1633l-1 3l0 3l2 1l1 2l-3 2l-3 1l0 -2l0 -3l-2 -2M1047 1505l2 3l-2 3l-2 -2l0 -3l-3 -1l-3 0l-2 1l2 2l3 1M1058 1644l4 0l3 1l2 3l3 1l0 2l1 2l2 -1l-2 -2l-3 -1M1138 1663l-2 -1l-3 0l0 3l2 3l3 1l3 -2l-1 -3l-1 -2l-3 -1M1176 1541l-3 -1l-4 -1l-3 1l-3 -1l-2 0l-2 2l1 2l-1 3l1 3M1113 1584l2 1l3 1l2 1l3 1l1 2l-1 3l0 2l0 3l0 3M1096 1444l-1 3l1 2l1 2l1 3l3 2l3 -1l2 -2l0 -3l-2 -2M1000 1557l3 2l3 0l3 1l2 -2l2 -3l2 -1l2 -2l1 -3l0 -3M1015 1616l1 -3l1 -2l0 -3l2 -2l2 -2l3 -1l3 2l1 2l-1 2M1066 1459l2 -2l2 1l2 2l-1 2l-2 2l-1 2l1 2l-1 3l-2 0M1046 1632l0 3l0 2l-2 2l-2 2l-2 0l-3 1l-3 1l-3 1l-3 1M1075 1386l3 0l3 0l2 1l2 1l2 2l1 3l-1 3l2 2l2 0M964 1402l3 2l1 2l1 3l1 3l0 3l2 2l2 -1l1 -3l-1 -3M1074 1564l1 3l2 3l1 3l-1 2l-1 2l0 3l0 2l1 2l2 2M1029 1512l1 -3l-2 -2l-1 -4l1 -2l1 -3l0 -3l1 -3l2 -3l3 -1M1194 1535l-3 0l-2 2l-3 2l1 2l-1 3l-1 3l0 3l-2 3l0 3M1063 1387l2 -3l2 -1l1 -3l1 -3l1 -3l2 -2l0 -3l0 3M1125 1610l0 3l-1 3l-1 3l-1 3l2 1l3 1l2 2l3 2l3 1M1133 1650l3 -2l4 0l3 2l1 2l1 3l2 1l2 1l2 -1l2 -1M1084 1511l2 1l0 3l-1 3l-2 2l0 2l3 1l2 -1l0 -3l-2 0M1140 1376l0 2l-2 1l-3 1l-3 -1l-2 -1l-1 -3l0 -3l3 1l3 2M1066 1445l-2 3l-3 0l-3 0l-2 0l-2 -2l-3 -1l-2 -2l-1 -3l0 -2M1204 1484l2 -1l1 -2l1 -2l1 -2l2 1l1 3l-3 1l-3 1M1141 1588l-1 3l0 4l1 3l0 3l2 3l2 0l-2 3l-3 1l-3 1M1176 1565l-3 -1l-2 -3l-2 -2l-2 -2l0 -3l0 -3l0 -2l3 -2l2 2M986 1543l-2 1l-3 2l0 2l-3 1l-3 -2l-1 -2l-2 -2l-1 -3l0 -3M1096 1512l-3 -1l-1 3l-1 2l1 2l3 -1l0 -3l-3 0l-2 2l-2 2M1036 1538l2 -2l-1 -3l-1 -2l-3 0l-1 2l2 3l2 3l-3 1l-3 0M1097 1573l3 1l3 -1l3 -1l3 -1l3 0l2 1l2 1l0 3l1 3M1077 1652l1 -3l2 -3l3 -2l3 2l3 -2l0 -3l-3 -2l-1 -2l2 -2M1163 1590l2 -2l2 -3l1 -3l0 -3l0 -3l0 -4l2 -1l1 -3l3 -2M1053 1452l-1 -3l1 -2l1 -3l-2 -1l-3 1l0 3l1 2l3 0l3 0M1043 1544l2 0l-2 3l-1 2l0 3l2 2l3 0l1 -2l-1 -2l-1 -3M1151 1433l1 2l0 2l-1 3l-3 2l-2 2l-3 0l-2 0l-3 1l-2 2M1186 1602l0 -3l0 -2l-1 -2l-2 -2l-3 -1l-2 -1l-3 1l-3 1l-2 2M1072 1516l1 -2l2 -1l3 0l2 1l3 -1l3 1l2 2l-3 2l1 3M1089 1687l-3 -1l-3 0l-3 0l-1 -3l1 -3l1 -3l1 -3l1 -3l0 -3M1171 1518l-2 0l-1 -2l0 -3l-1 -3l-2 -2l-3 -1l0 2l2 3l4 0M1047 1387l1 3l1 3l2 3l3 1l3 0l2 -1l1 -2l-3 -1l-3 0M1124 1414l1 -3l1 -3l-2 -3l-2 -2l-3 -1l-3 -1l-2 1l-1 2l0 4M1048 1533l3 -1l3 -1l3 0l3 2l0 2l2 3l-1 3l-1 2l-3 0M1179 1479l-2 -1l-3 0l-3 -2l-2 -2l-2 -1l-3 0l-2 -3l-3 0l-3 -1M1178 1546l-3 -2l-3 1l-2 1l-3 1l-2 2l-1 2l-2 3l0 3l0 3M1178 1552l0 3l2 2l3 2l3 0l2 -3l-3 -1l-3 2l-2 3l-1 3M1073 1425l3 0l2 -1l3 0l3 1l3 0l2 1l3 1l3 1l0 3M1206 1422l-2 1l-1 -3l1 -2l2 0l3 2l-1 2l0 -2l1 -3l1 -3M1032 1456l0 -2l3 -1l1 -3l1 -3l-3 -2l-3 -2l-3 -1l-3 -1l-3 1M1071 1438l-3 -1l-3 1l0 3l3 2l2 -2l0 -3l-1 -2l-3 0l0 3M1128 1451l3 0l2 2l-1 3l-2 1l-2 1l-2 2l-2 2l-3 1l-2 0M1147 1409l0 2l-1 3l0 3l-2 0l-2 -1l0 -3l1 -3l2 -3l3 2M1048 1559l-1 2l0 3l2 2l2 0l2 -2l4 0l2 2l0 2l-2 2M935 1448l2 1l2 3l1 2l-3 2l-2 -1l-1 -2l-2 -2l-3 0M1064 1468l2 1l2 1l1 2l0 4l2 2l2 2l2 3l2 3l0 3M1004 1596l2 -3l-1 -2l0 -3l3 -2l3 0l1 2l1 3l-2 2l-3 0M1100 1624l-2 0l1 3l0 3l0 4l3 0l1 -3l1 -3l-2 -2l-3 0M1174 1412l-3 -1l-3 1l-1 3l-1 3l-1 3l2 3l1 3l3 0l2 0M1078 1628l1 3l1 2l2 2l2 2l1 3l-1 3l-2 3l0 3l2 2M1125 1587l-1 2l0 3l1 3l2 3l0 2l0 2l2 2l0 2l-1 2M1156 1640l2 -2l2 -2l2 -2l0 -3l-3 -2l-2 0l-3 -1l-2 -3l0 -2M1062 1456l3 -1l3 1l0 2l3 -1l1 -3l-2 -1l-2 3l1 2l-2 0M1076 1548l-3 0l-2 1l-2 1l-2 -2l-1 -3l-2 -3l-1 -2l0 -2l1 -2M1074 1537l-2 2l-3 2l-3 0l0 3l3 1l3 -1l0 -3l-2 -2l-2 -1M1084 1464l-1 2l-1 3l-3 1l0 3l2 2l2 2l1 2l-1 2l-2 2M1060 1440l1 -3l1 -3l2 -2l2 0l1 2l2 2l-1 2l-2 2l-4 0M1075 1609l3 0l3 0l3 -1l2 -2l3 -1l3 0l2 -1l2 -3l0 -2M1005 1566l3 1l2 2l-1 3l-1 3l-2 2l-2 2l1 2l-1 2l-2 3M1011 1469l-2 0l-3 0l-3 1l-2 0l-2 1l-2 -1l-2 -2l0 -3l-1 -2M1161 1426l-2 -3l0 -3l3 -3l2 1l1 3l-2 2l-3 -1l-3 -2l-2 -2M1123 1502l3 1l2 -2l2 -2l2 1l2 1l2 2l3 1l3 2l0 3M1170 1549l0 3l-1 2l0 3l-1 3l2 2l2 2l2 -2l0 -3l-2 -3M1114 1473l-3 1l-3 -2l-2 -2l0 -3l3 -2l-2 -1l-3 0l1 2l2 -3M1063 1648l-3 -1l-3 0l-3 2l-2 3l-1 2l3 1l0 -3l-3 -2l-3 -1M1209 1421l-3 0l-2 -1l-2 -1l-2 -1l-1 -3l-2 -2l0 -2l0 -2l-2 -1M1021 1588l1 -3l-2 -2l-2 -2l-2 1l-3 1l-3 -1l-3 0l-2 2l-2 1M1064 1487l3 1l1 3l-2 2l-2 -2l2 -2l3 -2l2 3l2 2l-1 2M1064 1581l-2 1l-3 0l1 3l3 2l2 1l2 -1l-1 -2l0 -3l2 -3M1015 1560l3 -1l2 -2l1 -2l2 -3l1 -3l-1 -2l-3 0l-3 0l-2 3M1020 1557l3 0l3 0l1 -3l0 -4l-1 -3l1 -3l-1 -2l0 -2l3 -1M990 1523l0 3l-3 2l-2 2l2 3l-2 3l1 3l3 1l2 1l2 -1M1008 1503l3 -1l2 -3l2 0l3 1l0 3l0 3l1 3l-1 3l-2 3M998 1460l-3 -1l-2 -2l1 -3l4 1l2 1l3 0l2 -2l1 2l3 2M1075 1405l0 2l-2 1l-1 -3l0 -3l3 0l3 2l2 2l1 3l1 3M1147 1417l3 -2l2 -1l2 0l3 1l3 -1l1 -3l-2 -1l-2 2l2 3M984 1450l3 -1l2 2l1 3l-1 3l0 2l-1 2l0 3l3 0l3 0M1084 1680l-1 3l-1 2l0 3l2 3l-3 -1l-1 -2l2 -1l3 -2l1 2M1137 1491l0 4l3 1l1 -3l2 -3l1 -2l-1 -2l-1 -2l-2 -1l-3 1M1155 1674l3 0l1 -3l3 -2l1 -3l0 -3l0 -4l-3 0l0 4l1 2M980 1532l-3 2l3 1l3 0l3 -1l3 1l1 3l-1 2l-2 1l-3 1M1177 1487l0 -3l0 -3l-2 -2l-1 -2l-2 -1l-2 -1l-3 0l-3 -1l-3 -1M1121 1516l1 3l2 2l3 2l3 0l3 -1l3 -2l1 -2l-1 -3l-2 -2M1067 1523l-1 -3l3 -1l1 3l-2 2l-3 -2l-1 -3l0 -3l2 0l3 -1M1114 1514l-2 -2l-2 -2l-3 0l-1 2l2 1l-1 3l0 2l-2 1l-3 1M991 1547l-1 3l3 1l1 -3l-1 -3l2 -3l3 -1l2 -1l2 -2l-2 -3M1048 1423l-1 2l-3 1l-3 1l-2 2l-2 -1l-2 -2l-2 -3l-2 -2l-3 2M1175 1622l2 2l1 2l3 1l3 0l3 -1l2 1l-2 -1l0 -3M1169 1537l-2 0l-3 -1l0 -3l2 -3l3 -1l-1 -3l-2 0l-3 0l-2 -2"/>
<path stroke="#ffffff" stroke-opacity="0.85" stroke-width="1.6" d="M960 1424l-2 2l-1 2l-2 2M1034 1470l-3 0l-1 -2l1 -2M1049 1516l2 1l1 -2l-1 -1M1030 1604l1 1l2 0l2 -2M1158 1475l-1 2l-3 0l-2 0M1098 1527l-1 2l-3 0l-2 0M1040 1560l-1 2l-2 0l-2 -2M978 1410l1 -3l1 -2l2 -1M1069 1653l0 3l1 2l1 2M1028 1453l-1 -2l-2 -1l-1 -3M1025 1467l0 3l-1 2l0 2M1128 1387l-1 -2l-1 -1l-1 -2M999 1514l-1 -2l0 -3l1 -2M1201 1470l0 2l-2 2l-2 0M1141 1591l-1 -2l-2 1l0 2M1165 1523l1 2l3 1l2 -2M1186 1441l-2 0l-1 -1l-2 0M1118 1424l-3 0l-2 -1l-2 0M1050 1635l2 -2l2 -2l2 -1M1176 1439l1 2l1 2l0 3M1111 1607l2 1l2 1l1 3M1111 1398l0 3l3 0l1 -1M990 1494l2 0l2 1l3 0M958 1468l3 1l3 1l1 2M1029 1598l1 -3l0 -2l-2 -1M1148 1477l3 -1l2 1l3 2M1026 1485l1 3l3 1l2 -2M1034 1570l0 3l-1 2l-3 1M1099 1554l1 -2l3 1l2 2M1157 1600l2 1l3 0l2 -2M1168 1555l2 2l2 1l2 -1M1022 1609l2 -1l1 -3l-1 -2M986 1479l3 0l1 3l1 2M1098 1578l-1 1l-2 2l-3 0M1127 1535l-1 -2l1 -2l2 -1M1182 1390l1 -2l2 -2l1 -2M1077 1449l-1 -2l-2 -2l-1 2M1158 1409l0 2l0 3l1 2M1117 1467l-3 -1l-1 -1l-2 -2M1045 1397l0 -3l2 -2l2 -1M1059 1637l-2 -1l-2 -1l-2 1M1080 1538l0 -2l-2 0l-2 2M1129 1569l-2 -3l1 -3l3 -1M986 1498l2 2l2 2l2 3M1109 1672l-2 2l-1 2l-2 2M1084 1471l3 1l2 1l1 1M949 1447l-1 -3l-2 -2l-3 0M1073 1594l-1 -2l-2 0l-3 0M1192 1553l-2 1l-3 1l-3 1M1169 1397l-1 2l0 2l-2 2M1061 1569l-2 2l-2 2l0 2M1206 1457l-1 2l0 2l2 2M990 1460l2 0l2 -2l-1 -2M1037 1612l2 0l0 -2l-2 -2M1115 1540l1 2l2 1l2 0M1165 1513l1 3l0 2l2 2M1097 1494l1 -2l0 -3l1 -2M1120 1582l-1 2l-1 2l-2 2M1072 1436l-1 2l0 3l1 2M1139 1441l-2 0l0 -3l2 -3M1131 1590l-1 1l-3 0l-1 3M1131 1419l0 2l1 3l3 1M1119 1406l2 -1l0 -2l-2 0M1156 1505l0 -3l-1 -2l-2 -1M963 1417l-1 2l-3 0l-2 0M1102 1420l-2 1l-2 1l-3 0M1056 1428l-1 -2l-1 -2l2 -1M1197 1471l-3 0l-3 0l-3 1M1187 1385l0 -2l3 -2l2 -2M1134 1499l3 -1l2 -1l2 -1M1116 1417l1 3l0 3l1 3M1191 1407l-1 3l2 2l2 0M1129 1680l1 -3l2 0l2 -1M1108 1568l-2 2l0 2l2 2M1024 1406l-1 -2l-2 -1l-2 1M1143 1674l-1 -2l-2 -2l-3 -2M1036 1527l-2 1l-2 -1l-2 0M1082 1545l-1 2l-1 2l-1 3M989 1486l-2 3l1 1l2 0M1010 1433l2 2l-1 3l-3 -1M1089 1416l3 0l3 -1l1 -2M1085 1422l3 0l2 -2l0 -3M1161 1558l-1 -2l-1 -2l-2 -1M1008 1594l-2 -2l-1 -3l-1 -3M998 1521l-2 -1l-2 0l-1 2M1073 1564l0 -3l2 -3l0 -2M1080 1410l0 2l2 2l1 2M1070 1631l2 2l3 0l2 -1M1010 1395l2 2l2 1l3 -1M1149 1521l-1 -2l1 -2l1 -2M1116 1475l2 -1l2 -1l0 -2M1179 1582l1 -2l2 -2l2 -1M1117 1396l1 3l1 2l0 2M1004 1453l-2 -2l-1 -2l0 -3M1019 1404l-1 -3l-2 -2l-2 -1M1020 1385l-1 2l1 2l3 2M1111 1662l2 -1l2 -1l0 -3M1112 1526l3 -1l2 1l1 2M1156 1629l2 -1l3 0l3 0M1107 1478l2 1l1 3l-2 1M1064 1438l2 -2l1 -3l0 -3M1109 1630l1 2l-1 2l-1 2M1141 1441l-1 -2l0 -2l0 -3M1141 1620l-3 0l-2 1l-1 3M1159 1647l-2 0l1 2l2 1M1157 1420l0 -3l1 -2l3 0M1108 1389l0 -3l0 -2l0 -2M1102 1635l1 -3l-1 -2l-2 -2M1088 1380l3 0l2 -1l1 -3M1051 1542l-2 1l-2 2l-1 3M1151 1546l2 1l2 1l2 0M1144 1380l2 2l0 3l-1 3M1100 1472l1 -2l-2 -2l-2 -2M1004 1504l-1 -2l-3 0l-2 1M1154 1461l-1 -2l-2 -1l-3 1M1014 1614l-1 -2l-3 -2l-2 0M1150 1607l0 2l1 2l3 1M1000 1539l3 1l2 2l-1 2M1097 1617l-1 2l-1 2l-2 2M1193 1539l2 -2l2 -2l3 1M1091 1498l0 -3l-2 -1l-2 0M1121 1578l3 1l3 1l2 0M1111 1492l0 -3l0 -3l-1 -2M1125 1433l-2 1l-1 2l0 2M1073 1570l-1 3l-2 3l-2 0M1031 1419l1 -2l2 -1l3 -1M1029 1444l1 -1l0 -2l-3 0M1091 1385l0 2l3 1l2 1M1019 1390l1 -2l-1 -2l1 -2M1117 1403l-2 2l-3 -1l0 -2M1083 1685l-3 2l-3 0l0 -3M1123 1409l2 -2l2 -1l2 1M954 1432l3 1l2 -1l0 -2M1017 1507l-2 -1l-3 0l-3 1M1021 1567l1 -2l-2 -2l-2 0M1007 1464l-1 -3l-1 -2l-3 -1M1084 1647l-1 3l-3 1l-3 0M1159 1459l-1 2l-1 2l0 2M968 1446l1 3l1 2l0 3M1129 1464l2 -1l0 -2l1 -2M1198 1588l1 2l3 0l2 -1M1035 1517l1 2l1 1l3 -1M1109 1626l2 0l3 0l2 1M1131 1475l0 3l-1 2l-1 2M1061 1609l3 1l3 0l2 1M1144 1460l1 -2l0 -2l-1 -3M1079 1612l-1 3l0 2l-1 3M1104 1631l-3 0l-1 -3l0 -3M1011 1403l-1 2l-2 2l-1 2M1031 1598l-1 2l0 3l2 2M1116 1405l1 2l1 2l1 2M1035 1467l2 -3l2 -1l2 0M1177 1574l2 1l3 1l2 1M1196 1587l2 2l1 -2l-1 -3M991 1505l-2 -2l-3 -1l-1 2M1015 1586l-1 2l-2 3l-1 1M1043 1569l1 -2l-2 -2l-2 0M1119 1544l2 1l1 2l2 3M1002 1440l2 2l0 2l-2 1M1114 1682l-3 -2l-2 0l-1 -2M1130 1663l0 -3l3 0l1 2M1155 1659l1 -2l2 -1l2 2M1143 1490l3 -1l3 -1l2 -2M1148 1408l0 3l-2 1l-2 2M1084 1535l-1 -2l-3 -2l-3 1M964 1435l-2 0l-3 0l-2 -1M1190 1405l1 2l-1 2l0 3M1152 1405l-2 1l-2 3l-1 2M988 1431l0 -2l1 -3l0 -3M1030 1445l-3 1l0 3l0 2M960 1419l-2 2l-2 1l-2 1M1118 1532l-2 1l-3 0l-1 2M1112 1549l3 -1l2 0l1 2M1113 1671l1 2l2 2l2 2M1161 1639l1 -2l3 -2l2 1M1060 1590l3 0l2 -2l-1 -3M1129 1669l-1 -2l-2 -1l-2 0M1047 1457l-2 1l-3 1l-2 -1M1078 1598l-2 -3l-2 -2l-3 0M1119 1554l2 2l1 2l0 2M1084 1505l3 0l2 1l2 -2M1006 1395l1 -3l2 -2l1 -2M1059 1446l-2 -2l-2 2l-2 1M1023 1537l-2 1l1 3l-2 1M1117 1498l0 3l2 1l2 1M1103 1653l0 -2l-2 -1l-2 0M1049 1447l1 -1l3 0l1 -2M1175 1417l-2 -3l1 -2l1 -2M1076 1528l-2 -2l-3 0l-2 -1M1134 1584l2 3l2 2l2 -1M1010 1525l-2 1l-3 1l-2 1M1124 1565l-3 0l-2 0l-3 -1M1160 1609l-1 3l2 2l3 0M1030 1551l1 2l0 3l1 2M985 1422l-1 2l2 2l2 -2M1163 1459l1 -2l1 -1l2 -1M966 1420l-1 2l-1 2l-1 2M1149 1578l-1 2l-2 1l-3 -1M1078 1524l1 -3l-1 -3l-2 -1M1071 1444l0 -3l1 -2l3 0M1047 1557l2 2l3 1l2 1M1170 1575l-1 -2l-2 -1l-3 -1M1049 1586l2 -1l0 -2l-1 -2M1049 1515l0 -2l0 -3l-2 -2M1035 1555l-2 0l-2 -1l-1 -2M944 1441l2 0l1 2l0 2M1046 1433l2 -2l2 -2l0 -3M1140 1645l-1 -3l0 -3l-1 -3M1138 1416l-2 0l-2 -1l-2 -1M1074 1454l2 -2l0 -2l-1 -2M1118 1515l1 3l2 1l2 1M1160 1611l-3 1l0 3l0 3M1197 1399l1 -2l0 -2l0 -2M1159 1569l-2 2l-2 2l-2 0M1034 1509l2 1l1 -2l3 -1M1048 1563l3 -1l3 -1l2 -1M1123 1384l0 -2l0 -2l-1 -2M1091 1660l0 -2l-2 -2l0 -2M1036 1387l-1 1l0 2l2 2M1054 1451l1 1l-1 2l-2 1M1114 1425l0 -3l-2 -1l0 -3M1178 1494l-2 -2l-3 1l-3 0M994 1474l0 -2l1 -2l3 1M1056 1525l1 3l2 1l2 2M1160 1608l-1 -3l-3 -1l-2 1M1172 1557l-1 -2l1 -3l3 0M1089 1395l0 -2l1 -2l2 0M1037 1470l1 -2l0 -2l-2 -2M1100 1480l-1 -2l1 -2l2 -2M1027 1543l2 2l1 2l2 1M1083 1633l1 -2l1 -2l0 -2M1188 1499l2 -1l2 0l1 3M1047 1529l-1 2l0 2l1 2M1178 1423l2 -1l2 -2l1 -2M993 1475l0 -2l1 -2l-3 -2M977 1532l-2 2l1 3l0 2M1157 1388l3 -1l3 -2l3 0M1153 1596l1 2l0 3l1 3M1032 1477l-2 -1l0 -2l1 -2M1103 1680l0 2l-1 2l0 3M1128 1447l-2 3l-1 3l-1 3M1070 1425l2 -1l1 -2l1 -1M1040 1578l1 3l0 2l1 2M1181 1536l1 2l3 1l3 1M1164 1605l2 1l2 -1l0 -3M1041 1602l2 -2l1 -2l-2 -2M1103 1450l-2 1l-1 -1l0 -3M1097 1660l-2 -1l-1 1l0 2M1140 1415l3 -1l2 2l2 1M1053 1603l0 -2l-1 -2l0 -3M982 1426l-2 1l-1 2l-2 1M1072 1653l-2 -1l-2 -2l-1 -2M1027 1508l-2 2l-2 1l-3 0M1082 1482l2 -1l2 0l2 0M1163 1459l-3 -1l-2 0l-3 2M1134 1675l3 -1l1 -1l3 -2M1145 1577l-2 -2l-3 1l-1 2M1106 1438l-1 -3l-1 -1l-3 1M962 1451l-2 0l-2 1l0 3M1131 1576l2 -1l2 -1l0 -2M1132 1432l1 -2l2 -2l2 -1M1029 1515l-1 -2l-2 0l-2 -2M1111 1569l-2 0l-1 3l2 1M1121 1660l-2 2l-2 0l-1 -2M1029 1528l-2 0l-2 -3l0 -3M1050 1508l3 -1l3 -1l3 -1M1019 1569l1 3l0 2l1 2M971 1473l-2 -2l-3 -1l-2 -1M1004 1416l-1 -3l1 -2l0 -3M1196 1398l-2 2l-2 1l0 3M1015 1482l-1 2l-1 2l-1 2M1018 1408l0 -2l0 -2l2 -1M1089 1390l-3 1l1 2l3 -1M1163 1620l2 -1l3 0l2 1M1023 1388l-3 0l-3 1l-3 1M1068 1523l-2 -1l-1 -2l2 -1M1188 1475l1 -2l1 -2l1 -2M1015 1543l1 2l3 0l1 3M1120 1581l-3 1l-2 1l-3 2M1206 1471l-1 -2l-2 -1l-3 -1M1156 1553l-2 -3l-2 -1l-2 0M954 1428l0 -2l0 -2l3 -1M1099 1447l-2 -3l-2 0l-3 0M1212 1450l1 3l1 2l3 0M1082 1600l2 -2l3 -1l1 2M1012 1394l2 3l-2 2l-2 1M1082 1424l-3 0l-2 0l-1 -3M1107 1668l0 -2l-2 -2l-2 2M1148 1389l-1 2l1 2l2 -1M1134 1561l2 -1l2 -1l3 0M1035 1398l0 3l-1 3l-1 2M1174 1445l-3 0l-2 0l-1 3M1086 1466l2 -1l1 -1l2 0M1204 1436l2 1l2 1l2 -1M943 1457l2 -2l0 -2l-3 -1M1050 1422l-3 0l-1 -1l-2 -1M1024 1601l2 1l3 1l1 2M1032 1631l-2 0l-2 2l1 2M1122 1677l2 1l3 1l1 2M1002 1476l2 -1l3 0l1 -2M1076 1491l-1 2l0 2l0 3M996 1529l-3 -1l-2 -2l-2 -1M1137 1643l0 -2l1 -2l1 -3M1096 1436l-1 -2l0 -2l2 -1M1005 1570l1 2l0 2l-2 2M1089 1668l2 1l1 2l-2 1M1045 1409l1 2l1 2l2 1M1140 1558l3 -1l1 3l-1 2M1168 1504l1 -2l0 -2l-3 -1M1124 1633l-1 2l-2 0l-2 0M1200 1456l1 3l1 3l0 2M1125 1594l1 -2l-2 -2l-2 1M1029 1478l-2 -2l-3 -1l-2 -1M1156 1594l2 0l2 2l0 2M1141 1436l-2 1l-2 0l-2 1M1029 1474l0 -3l1 -3l-1 -3M1148 1551l-1 2l-2 2l-2 1M1064 1600l-1 -3l2 -2l2 -1M1090 1568l-2 1l0 2l2 2M1029 1470l-2 2l-1 2l3 2M1142 1652l-1 -3l0 -2l2 -2M1172 1627l-2 2l-2 0l-1 -2M1087 1593l-1 2l0 2l0 3M1020 1582l2 0l1 2l2 2M1096 1396l-2 -2l-3 1l-3 1M1181 1530l1 -2l2 -2l3 -1M1023 1595l1 2l-2 3l-3 -1M1157 1462l-3 0l1 -3l2 -1M984 1417l-2 0l-1 2l0 3M996 1518l3 0l2 0l2 0M1156 1532l-2 -1l-3 -1l-2 -1M1152 1546l1 2l2 1l3 0M1128 1682l2 0l2 -1l0 -2M1095 1523l-3 0l-1 -1l-1 -2M1214 1422l-2 -2l-2 -2l-3 -2M1027 1598l0 -2l1 -3l1 -2M1049 1469l2 2l3 0l2 -2M1147 1584l2 -2l2 0l0 -2M999 1501l2 0l0 2l-1 2M1125 1609l-3 1l-2 0l-2 1M1167 1518l2 2l3 0l1 2M1001 1592l-2 0l-3 0l-2 -1M1102 1606l-3 1l-2 1l-2 0M1009 1475l-1 2l-2 2l-3 0M1172 1555l2 -1l1 -2l-2 -1M1000 1410l2 2l2 1l3 0M1133 1410l-1 -2l-1 2l-3 0M1128 1418l1 2l0 2l2 2M1057 1522l1 -2l2 -1l3 -1M1127 1481l-2 1l-2 1l-1 3M1156 1564l-3 0l-3 -1l-1 2M1113 1593l-3 -1l-3 1l-2 2M1139 1607l0 -2l-3 -2l-2 1M1178 1433l2 2l3 0l1 -2M1039 1434l2 1l1 2l1 1M1109 1493l-2 0l-3 0l-2 -1M1052 1609l-2 -1l-1 -1l-2 -2M1117 1452l1 -2l0 -2l1 -3M1089 1409l3 0l2 -2l2 -2M1088 1451l-2 2l-2 0l-2 1M1082 1573l-2 0l-3 0l-3 0M1066 1642l1 -3l2 -1l3 -1M1151 1507l-2 2l-3 1l-2 1M1061 1427l-2 1l0 2l2 2M1090 1437l2 -2l2 0l2 1M1033 1391l-2 0l-3 1l-2 2M1101 1458l2 -2l2 1l2 0M1039 1621l0 3l1 2l0 3M1012 1448l-2 1l-3 0l-1 -1M1048 1478l2 -2l2 -2l2 -2M1139 1613l0 -3l3 -1l1 2M1101 1652l2 0l2 -1l1 -3M1050 1556l-2 1l-2 -1l-3 -1M1098 1617l0 2l0 3l-2 2M1038 1572l-1 2l-2 0l-3 1M1171 1511l0 3l-1 3l-3 0M1063 1394l0 2l1 2l2 1M1009 1539l1 1l0 2l-3 1M1104 1448l1 2l-3 1l-1 -2M1075 1412l-2 -1l0 -3l2 -2M1118 1612l2 0l3 1l-1 3M1108 1596l3 1l1 2l2 2M1169 1557l3 -1l3 1l2 2M1171 1505l-3 -2l0 -2l0 -3M1200 1527l0 -2l1 -2l2 0M1179 1437l-3 0l-2 -2l0 -2M1121 1545l0 3l3 1l2 1M1167 1590l2 -3l3 0l2 0M1153 1636l-2 -1l-2 1l-2 2M1053 1426l1 2l1 3l1 3M1150 1526l-3 0l-1 -2l-1 -2M1113 1397l1 -3l2 -1l2 0M1055 1383l-1 -2l-1 -3l0 -2M1082 1566l2 0l2 0l1 -2M1188 1575l-1 2l-2 1l-3 -2M1030 1559l2 -1l1 -2l1 -2M1020 1496l-2 2l-2 2l-2 0M1170 1581l2 -1l1 -1l1 -2M1010 1558l-1 3l0 2l2 3M1107 1564l-1 -2l-1 -2l-1 -3M1199 1456l1 -1l1 -3l-2 -1M973 1444l-2 0l-1 2l0 3M1110 1600l-2 -2l-2 2l0 3M1124 1419l-2 1l-2 2l0 2M1111 1669l-2 2l-2 -1l-2 2M1143 1603l1 -3l2 -1l3 0M1093 1541l0 3l0 2l-1 2M1120 1578l2 2l0 2l-2 1M1057 1514l-1 -2l-2 -2l-2 -2M1111 1455l-2 0l-3 -1l-3 -1M982 1480l2 1l2 1l3 0M1123 1565l1 -2l1 -3l0 -2M1142 1397l2 1l2 1l3 -1M1024 1505l1 2l-2 1l-3 -2M1106 1619l0 2l1 1l2 1M978 1523l1 -2l2 0l3 -1M1149 1446l-1 2l-2 0l-1 -2M1090 1412l-2 -2l1 -2l2 -2M1052 1491l2 -1l0 -3l2 -1M1144 1446l-2 -1l-1 -2l0 -2M1156 1596l1 -1l3 -2l3 -1M1135 1663l2 -2l3 1l1 1M1151 1378l-3 2l0 2l0 2M1121 1508l3 1l1 2l3 0M1137 1617l0 3l2 2l2 1M1019 1403l0 3l0 2l2 1M1197 1445l0 3l0 2l2 1M1101 1530l-1 -1l-3 0l-2 2M1088 1562l2 1l2 2l3 0M1196 1391l2 -1l1 -2l-2 -1M1173 1552l-1 2l-2 -1l1 -2M1042 1434l-2 -2l-3 -1l-3 0M1066 1533l-2 -2l-2 -2l1 -3M1067 1573l-2 2l-2 -2l1 -1M1122 1603l1 2l0 3l1 2M1163 1629l0 3l1 2l2 2M1032 1463l-1 -2l-2 -1l-2 -1M1135 1559l1 2l0 3l-2 1M1199 1568l2 1l2 -1l3 0M1121 1423l0 2l-1 2l-2 1M967 1486l-2 1l-2 0l-2 0M1160 1501l3 0l2 2l1 2M1079 1643l1 -2l2 -2l3 0M966 1430l1 2l1 3l1 2M1063 1545l-1 -2l0 -2l-2 -1M1066 1427l-2 -1l-2 -1l-2 -2M1052 1484l0 -2l1 -2l0 -2M1028 1450l-1 -3l2 -2l2 0M1184 1389l1 2l-2 1l-2 0M988 1514l-1 -2l-2 1l-2 0M1171 1604l2 -1l1 -2l0 -3M1114 1572l3 -1l2 -2l2 2M1171 1506l1 2l-1 3l-3 1M1157 1494l-2 2l-2 1l0 2M1092 1562l-3 1l-2 2l-1 2M1086 1545l-2 -2l0 -2l2 -1M1106 1417l-1 2l-1 2l1 1M1080 1590l-2 0l-1 2l1 2M1169 1629l-2 0l-1 -2l0 -2M1150 1394l0 -3l1 -2l1 -2M1119 1412l-3 1l-2 2l-1 3M1183 1567l-1 2l-3 -1l-3 -1M1120 1681l0 2l-2 1l-2 1M1031 1592l-1 3l-3 1l-3 -1M1130 1656l-1 2l-3 0l-2 -2M1030 1580l-2 1l-2 0l-2 1M1113 1592l3 -1l2 -2l0 -2M1097 1413l3 -1l3 -1l-1 -2M1167 1636l-2 -2l-1 -3l-2 -2M1016 1583l-2 -2l-1 -2l0 -2M1057 1449l2 0l1 -1l-1 -3M1032 1470l1 3l-2 1l-2 1M1106 1630l3 1l2 2l3 1M1175 1575l-2 -1l-2 -1l-3 -1M981 1478l-1 -1l-3 0l-2 0M1061 1517l2 1l-1 2l-1 2M1060 1608l2 2l0 2l2 2M1084 1574l2 -1l1 -2l1 -3M1182 1388l-2 0l-2 -2l-2 -1M1020 1522l3 0l0 -2l-2 -1M1158 1661l-2 0l0 -3l2 -2M1094 1640l-2 0l-3 0l-3 1M1057 1528l1 2l0 3l-2 2M988 1402l-2 -1l-1 -2l-2 0M1134 1553l0 -2l1 -2l0 -3M1152 1533l-2 1l-2 1l-2 0M1131 1590l0 2l-2 2l-3 0M1099 1412l2 -1l3 0l3 1M1018 1608l0 -3l1 -2l-3 1M1078 1683l-2 2l-3 0l-1 -2M1065 1381l-2 2l0 3l-2 1M979 1521l0 -3l-1 -3l1 -3M1160 1666l2 1l2 0l3 0M1103 1562l2 -2l2 0l1 3M1140 1619l-2 2l-3 -1l0 -3M1175 1449l-3 0l0 -3l-1 -3M977 1421l0 -3l0 -3l0 -2M1148 1614l2 -2l2 -1l3 -1M1042 1617l-3 0l-3 1l-2 1M1157 1560l-2 2l-2 -1l-3 0M1065 1618l-2 3l-3 1l-2 -2M1033 1416l0 -2l1 -2l2 2M1061 1576l-2 2l-2 1l-2 2M1097 1377l2 2l-1 2l-1 3M1161 1599l2 1l2 2l0 3M1099 1629l2 -2l2 -1l2 -1M969 1422l2 0l3 0l2 0M1010 1506l0 2l-2 1l-1 2M1009 1454l-3 1l-2 2l0 2M1029 1463l3 -2l2 -2l-1 -3M1180 1419l1 -2l2 -1l2 -1M1066 1616l-3 -1l-2 0l-3 0M1089 1449l2 0l3 0l2 0M1025 1616l2 0l1 2l-2 3M1201 1425l-3 -1l0 -2l-1 -3M1140 1643l2 0l2 2l2 -1M1159 1612l1 2l-1 2l-3 0M1075 1650l2 -1l2 0l1 -3M1164 1400l3 0l2 -2l1 -3M1187 1460l0 2l-2 1l-2 0"/>
<path stroke="#7a7a7a" stroke-width="0.9" d="M1007 1425l3 0l1 -2l1 -2l-1 -2l-2 0l-2 2l-1 3M1168 1540l1 -2l-2 -1l-1 3l-2 2l-1 2l0 2l1 2M1102 1434l2 -2l-1 -2l-2 0l-2 2l0 3l1 3l3 0M1131 1553l3 0l1 -2l0 -2l-2 0l-1 2l-2 -1l-2 -2M1114 1463l0 -2l1 -2l1 -1l3 1l2 2l0 3l-2 2M1012 1463l1 2l2 1l3 1l2 0l2 -2l-1 -3l-1 -2M1182 1439l2 2l1 2l3 2l3 0l2 -2l2 0l3 -2M1079 1470l-2 -2l-1 -3l-1 -2l1 -2l3 -1l3 -1l3 -1M1024 1469l-3 -1l-2 -2l-2 -1l-2 -2l-2 -2l-3 0l-1 -2M1115 1543l1 -3l1 -2l-1 -3l1 -2l0 -2l1 -2l3 1M1089 1535l1 -2l1 -2l-1 -3l-2 -1l-2 -1l-3 0l-2 1M1047 1647l3 1l3 1l0 3l-2 1l-3 1l-2 -1l-2 1M1038 1515l-2 -2l-2 -1l-2 0l-2 1l0 3l3 0l1 2M1016 1550l-2 -1l-2 -1l-1 2l0 3l-3 2l-2 2l-2 0M1149 1595l-2 -2l-3 0l-1 2l0 3l1 2l3 0l3 -1M1098 1390l-2 -2l0 -2l-1 -2l-1 -3l1 -2l1 -2l3 -1M1119 1431l-1 -2l1 -2l2 0l1 2l2 2l3 1l2 0M1058 1598l2 2l1 2l-1 3l1 2l2 2l3 -1l2 1M1082 1527l-2 2l1 3l-2 2l0 2l1 2l1 3l2 2M1030 1545l-1 -3l-2 0l-3 0l-3 1l-2 2l-1 3l0 3M1108 1472l2 -1l2 -2l1 -2l1 -3l1 -3l1 -2l0 -2M1086 1523l-2 1l-3 2l-2 1l-2 2l-3 1l-2 1l-2 2M1060 1567l-2 2l-3 0l-1 -2l1 -3l2 -1l2 -2l2 0M1040 1615l2 -1l0 -3l0 -2l1 -3l-1 -2l-2 -3l-2 -1M1119 1548l-2 -2l-3 0l-2 0l-3 2l-1 2l-1 2l0 3M1032 1621l1 2l3 1l3 0l2 1l1 2l0 3l2 2M1080 1577l-3 1l-3 1l0 3l-1 2l-1 3l3 1l1 -2M1148 1594l2 2l3 0l2 -1l3 -1l3 0l2 -2l0 -3M1060 1622l1 2l2 2l2 1l2 -2l2 -1l2 -1l2 0M1102 1427l-2 2l-2 1l-3 0l-2 1l-1 2l-1 3l0 3M1154 1457l2 -1l1 -3l2 -2l1 -2l2 -1l0 -2l1 -2M1105 1614l1 3l-1 3l0 2l-2 0l-3 1l-2 0l1 -2M983 1439l-1 3l-1 3l2 2l1 2l2 2l-2 3l-1 3M993 1522l-2 -1l-3 -1l-2 -1l0 -2l0 -2l1 -2l1 -3M1071 1433l2 0l2 -1l0 -2l-2 -2l-2 1l-2 1l-1 2M1145 1445l-1 2l0 2l-2 1l-2 2l-2 1l-2 1l-2 1M1128 1401l2 1l2 0l1 2l3 1l1 3l2 1l3 1M992 1464l-2 -2l-1 -2l1 -2l-1 -2l-1 -2l-2 -3l-2 -1M1204 1449l-2 2l-3 0l-2 -1l-3 -1l-2 -1l-2 0l-3 0M1054 1593l-1 2l-1 2l-2 2l-2 1l-2 -1l-2 1l-2 2M1142 1477l-2 -1l-3 -1l-3 -1l-2 1l-2 0l-1 2l-2 1M1085 1473l2 -1l1 -2l1 -2l2 -1l1 -3l2 -2l2 -3M1098 1606l-1 1l1 3l2 2l-1 3l-2 1l0 2l1 3M1011 1541l-2 2l2 2l1 3l0 2l0 3l1 2l1 2M1083 1659l0 -3l-1 -2l-2 -3l0 -2l2 -2l3 -1l2 0M1058 1504l1 -2l-1 -3l-2 -2l-2 -2l-2 -1l-3 -1l-1 -3M1047 1400l0 -3l1 -3l0 -3l0 -3l-1 -2l-1 -2l1 -2M1018 1489l0 2l-1 2l0 3l-1 2l3 1l2 2l2 2M1199 1464l-1 -2l2 -2l1 -3l2 -2l2 -1l1 -3l-1 -2M1192 1601l-1 -2l-2 0l-2 0l-3 0l-2 0l-2 0l1 3M1142 1435l3 1l2 0l2 -2l2 0l3 -1l2 0l3 -1M1108 1584l3 1l0 3l-2 1l-2 2l1 3l0 3l1 2M975 1412l-1 -3l-2 -2l2 -1l2 2l1 2l-2 0l-3 0M1092 1522l2 2l0 3l-1 2l-2 2l-2 1l0 -2l-1 -2M1183 1411l0 -3l1 -2l2 -1l3 -1l1 -3l0 -3l1 -3M1018 1620l3 1l3 -1l0 -3l-1 -2l1 -2l1 -3l1 -2M1166 1532l2 1l2 2l2 -1l2 -2l2 1l2 -1l3 0M1043 1416l-2 0l-2 -1l-1 -1l-2 1l-3 0l-1 -2l2 -2M1150 1641l1 2l0 3l-1 2l-3 -1l-2 -1l2 -1l3 0M1123 1572l1 2l2 2l3 1l2 -2l1 -3l-2 -2l-2 -2M1106 1562l2 0l2 -1l2 1l2 2l2 1l0 3l-2 1M1017 1529l1 -3l3 1l0 2l-2 1l-2 -1l1 -2l1 -3M1174 1626l-1 -3l0 -3l0 -3l1 -2l1 -3l2 -2l2 -1M1040 1629l-2 2l-3 -1l-1 -3l2 -1l1 -3l-2 -2l-3 0M1006 1408l2 0l2 -1l0 -2l-1 -2l0 -3l0 -2l-1 -3M1183 1569l3 1l3 1l2 -3l1 -2l3 1l3 0l2 2M1015 1436l3 -1l2 0l2 -1l2 0l2 -2l2 -2l2 -2M1149 1679l3 0l2 -2l-1 -2l-2 -2l-2 -1l-1 -2l-3 0M1177 1410l1 3l1 2l1 3l2 1l2 0l2 -1l0 -3M1041 1477l2 1l2 1l2 0l3 1l2 1l2 -2l1 -2M1101 1559l1 3l-1 3l-2 1l-3 -1l0 -2l2 -2l2 -1M1154 1614l-1 2l-2 2l-1 2l-1 3l-1 3l-2 1l-2 -2M1119 1398l2 -2l2 -1l2 2l1 2l3 1l3 0l2 -1M1187 1566l1 3l2 -1l-1 -2l0 -3l-1 -2l0 -2l2 -1M1017 1418l-1 -3l-2 -3l-2 -2l-3 -1l-2 -1l0 -3l1 -2M1177 1515l-2 0l-2 1l-2 1l-2 2l-2 2l-3 -1l-2 2M1011 1438l2 -1l2 1l0 2l-3 1l-3 0l-2 -1l-1 -3M1154 1585l-2 -2l-2 2l-3 0l-2 1l-2 1l-2 1l-1 3M1051 1477l3 -1l1 -2l1 -3l-1 -3l2 -2l0 -3l0 -3M1042 1579l-1 -2l-2 -2l-1 -2l0 -2l-1 -2l-1 -2l1 -2M1073 1577l-2 -1l-2 -1l-1 -1l2 -2l2 1l-1 2l-3 1M1035 1507l2 2l2 1l2 2l0 2l1 2l1 2l3 1M1016 1511l2 -3l3 -1l0 -3l3 -1l3 1l0 3l-2 2M1090 1527l-1 2l2 2l2 0l-1 3l-2 1l-2 0l-2 -2M977 1449l-2 -1l-3 1l-1 2l0 3l2 1l2 1l2 -2M1108 1471l-2 -2l-2 -1l-2 2l-2 2l-2 0l-2 -1l-1 -3M1063 1563l1 -2l1 -3l2 -2l2 -1l1 -2l3 -1l3 1M1121 1517l-2 1l-1 3l2 1l3 -1l-1 -3l-2 -2l-2 -2M1082 1653l2 2l2 2l-2 1l-2 2l-1 2l-2 2l1 2M1136 1595l2 0l1 2l2 0l2 -2l2 1l0 3l-1 2M995 1401l-2 -3l-2 0l-1 2l-2 2l-1 2l0 2l1 2M1201 1547l-1 1l-1 3l1 3l-1 2l-2 1l-3 0l-2 0M1175 1568l3 -1l3 1l0 2l-1 3l1 3l1 3l2 3M1163 1415l2 1l2 2l0 3l0 2l1 3l1 2l1 2M1025 1423l-1 2l-2 1l-3 0l-2 2l-1 2l-1 2l1 2M1120 1545l1 -2l1 -3l1 -2l-1 -2l-2 -1l-2 -1l-3 0M1191 1473l2 -1l2 -1l0 -2l-2 -2l-2 0l-3 0l-2 -2M1054 1525l1 3l1 2l2 -1l1 -2l1 -2l2 1l3 1M1073 1557l-1 2l2 2l1 -2l0 -2l-3 -1l-2 1l-1 3M1193 1431l1 2l0 2l0 3l2 2l0 2l2 2l2 0M1012 1612l2 -1l-1 -3l-2 -1l-3 0l-3 0l-3 0l-2 2M1019 1593l-1 2l-2 1l-3 -1l0 -3l-1 -2l1 -3l2 -2M1109 1580l-1 3l-2 1l-2 1l-1 -2l-1 -2l2 -1l2 1M1084 1614l-2 2l-2 -1l1 -2l2 -2l2 1l2 1l3 0M1066 1494l0 -2l-1 -3l-2 -2l-2 -1l-1 2l1 3l2 1M1182 1586l3 0l0 -2l2 -2l2 1l2 2l-1 3l-2 2M981 1516l3 1l2 -2l1 -2l-1 -2l0 3l1 3l2 1M1034 1406l-1 2l0 2l1 2l1 2l2 0l3 0l2 -2M1044 1408l1 2l3 2l3 1l2 -1l1 -2l-1 -3l-2 -2M1094 1377l2 -2l-1 -2l-2 -2l-2 -1l-2 -2l-1 -2l0 -2M1109 1668l2 0l2 -2l2 -2l3 -1l2 -1l2 -1l1 -2M1067 1457l2 1l2 -1l1 -3l0 -3l-1 -2l2 1l1 2M1069 1545l0 -2l1 -3l2 -2l3 -1l2 2l3 0l3 -1M1169 1398l-1 3l1 2l2 2l2 2l1 3l2 0l2 2M1167 1515l2 1l2 0l2 1l2 1l1 2l-1 2l0 3M1063 1538l-1 3l1 3l0 3l0 3l-2 2l-2 2l1 3M1174 1457l-2 2l0 3l2 2l3 -1l0 -2l-2 0l-2 1M1082 1464l-2 0l0 2l1 3l1 3l3 1l2 0l3 -1M1158 1592l0 -2l2 -2l0 -3l2 -1l0 -2l1 -2l1 -3M1131 1665l0 3l0 3l-2 1l-3 1l-2 -3l2 -1l3 1M1195 1549l-2 -1l0 -3l-2 -1l-1 -2l0 -3l-3 -1l-3 0M1108 1450l2 -1l2 1l2 1l1 2l1 2l1 2l2 1M1177 1564l-1 1l0 -3l0 -3l-2 0l0 3l0 2l2 2M1146 1570l-1 -2l-3 0l-3 1l-2 0l0 -2l0 -2l1 -2M1092 1656l-3 -1l-1 -3l2 -1l2 1l-2 2l-1 3l-2 2M1100 1422l3 0l2 0l2 1l2 1l2 0l2 1l2 1M1081 1381l-1 -2l-1 -2l0 -2l-2 -1l-1 -2l-2 -2l-2 1M1075 1425l1 -1l3 -1l2 2l-1 2l-1 3l-1 2l1 2M1070 1636l1 2l2 2l3 1l3 -1l3 -2l1 -3l2 -1M1106 1439l3 0l0 -3l-2 -2l0 -2l1 -2l3 0l2 -2M1065 1505l-2 -2l-1 -3l-1 -3l-2 -1l-2 -2l-2 -2l-3 -1M1129 1431l3 2l0 3l3 -1l-2 -1l-2 -2l-1 -3l-1 -2M1130 1495l1 -2l1 -2l-2 -1l-2 0l-3 0l-2 0l-1 -2M1189 1523l1 2l1 3l1 3l-1 3l-1 3l-1 2l0 3M1136 1505l0 -3l-2 -1l-3 1l-2 2l-2 2l0 3l1 2M985 1541l-2 2l-1 2l0 3l-1 3l-2 1l-2 0l-2 -2M1053 1529l-2 2l-2 2l-1 -2l1 -2l2 0l1 2l-1 2M1150 1595l2 2l2 1l2 0l1 2l3 0l3 1l0 3M1034 1506l-2 0l-3 0l0 2l0 3l0 3l3 0l-1 -3M1200 1443l-1 -2l-1 -2l-1 -2l1 -2l-2 -2l-2 0l-2 3M1164 1529l-1 2l-3 -1l-2 -2l0 -3l3 -1l2 2l1 2M1004 1556l2 0l3 -1l2 0l2 0l2 1l3 1l-1 2M1128 1634l1 3l-2 2l-2 0l-1 2l-1 3l1 3l0 2M1053 1442l3 -1l-1 -2l-1 -2l-2 -1l-2 -1l-2 2l-1 2M1074 1624l-1 -2l-2 -2l-2 -2l-1 -3l1 -3l1 -2l0 -3M1107 1468l-1 -2l-2 -1l0 -2l2 -2l2 0l3 0l2 1M1065 1623l0 3l-1 3l1 2l2 1l2 -1l-2 -2l-2 1M1061 1448l3 -1l2 -2l-1 -3l-1 -2l2 -3l2 -2l2 2M1055 1451l2 0l2 1l2 1l1 2l-1 2l1 3l3 1M1197 1584l1 -1l2 -2l1 -3l2 -1l3 -1l2 -1l3 0M1131 1404l2 1l2 1l2 2l2 2l2 0l1 -2l3 0M1051 1509l1 1l3 0l1 -2l-1 -2l-2 -1l1 -3l-2 -2M1094 1402l2 -3l2 -1l0 -3l1 -2l-1 -2l-2 -2l1 -2M995 1541l-2 1l-2 0l-2 -1l0 -3l1 -3l2 -2l3 1M1028 1440l-3 -1l-2 -1l-1 -2l-2 -1l-2 -2l-2 0l-3 1M969 1465l-2 -2l-1 -2l-1 -3l-1 -3l-1 -2l1 -3l-2 0M1075 1612l-2 -1l-1 -2l-1 -2l1 -3l-1 -3l-3 -2l-2 -1M1165 1493l3 -2l0 -2l0 -2l-1 -2l-1 -2l0 -3l0 -3M1069 1605l-3 0l-2 1l-2 2l1 2l-2 1l-2 2l-2 1M1067 1655l2 1l2 2l2 1l2 2l2 1l0 2l1 2M1072 1553l-2 0l-2 0l-3 0l-1 2l-1 3l0 2l2 1M1001 1559l0 3l0 2l0 2l1 2l2 1l2 1l3 -1M1059 1509l-1 3l1 3l2 2l2 2l3 2l1 2l3 1M1028 1588l-2 -2l-1 -3l-1 -3l-2 -3l-3 -1l-3 0l0 3M1191 1395l1 -2l0 -2l-1 -3l-3 -1l-2 1l-2 2l1 3M1094 1530l-1 -2l-3 -1l-2 -2l-3 -1l-2 -1l-2 1l-2 1M1038 1582l2 -2l3 1l1 3l0 3l2 2l3 1l2 -2M1024 1596l-2 2l-1 2l1 3l-1 2l-1 2l1 2l2 1M1197 1575l2 2l2 1l3 -1l1 -3l-1 -2l-2 1l-1 2M976 1479l1 -2l2 -2l3 -1l1 2l-1 2l-2 2l-3 1M1000 1471l0 -3l-1 -2l-1 -2l-2 -1l-1 -2l-1 -2l-2 -1M1189 1433l-1 -3l-2 -1l-3 1l-3 1l-1 3l0 2l-2 2M1018 1420l0 2l2 1l2 1l-1 3l-1 2l-2 -2l-2 0M1091 1442l1 2l2 1l2 1l2 2l3 0l2 -3l1 -3M1011 1547l-1 2l-3 -1l-2 -2l0 -2l-2 -2l-2 1l-3 1M1171 1415l0 -2l2 -2l3 0l0 -2l-1 -2l-2 0l-1 -3M1105 1457l-1 -2l0 -2l2 -1l2 1l3 1l-3 0l0 -2M1202 1466l3 1l2 -1l2 0l3 1l1 2l3 2l3 -1M1107 1639l2 1l1 3l-1 3l-2 2l-3 1l-2 1l-3 0M1035 1417l2 2l2 1l2 -1l-2 -2l-2 -1l-2 -2l-2 0M1068 1662l-1 3l-1 3l-1 3l-3 0l0 -2l-1 -2l1 -3M1135 1407l2 -1l2 -3l3 -1l0 -2l1 -2l2 -1l2 -1M1089 1619l0 -3l1 -3l0 -3l2 0l3 0l2 -2l0 -2M1035 1568l-1 2l-2 1l-2 1l-2 -2l-2 -1l0 -2l1 -2M1136 1571l3 0l2 -1l2 -1l-1 -2l-2 -1l-3 -1l-2 1M1025 1558l0 2l1 3l0 2l1 3l0 3l-1 3l1 2M1053 1400l-2 1l0 -2l2 -1l3 0l3 2l-1 2l-3 0M1062 1480l1 3l1 3l-1 2l-2 -1l3 1l-2 2l1 3M1097 1683l-2 1l-1 -3l1 -2l1 -3l1 -1l1 -2l2 -1M1113 1553l0 3l0 3l2 1l1 -2l1 -2l2 -2l2 -1M1166 1452l1 -2l1 -2l0 -3l-2 -1l-2 0l-3 -1l-2 2M1125 1456l0 -3l1 -3l-1 -2l-1 -2l-2 -1l-2 2l-2 3M1196 1517l1 -3l1 -3l1 -2l2 -2l3 1l-2 2M1041 1520l-2 1l-2 2l1 3l1 3l2 2l0 2l2 2M1071 1465l1 3l1 2l2 2l1 2l0 2l3 0l2 3M1038 1403l3 -1l3 -2l2 -2l1 -2l0 -3l-1 -3l0 -3M1128 1534l-2 0l-1 -2l-2 -2l-1 -2l0 -2l-1 -3l-3 0M1125 1657l-2 2l-1 3l0 2l2 2l3 0l2 0l2 -2M1135 1575l1 2l-1 2l2 2l-1 2l2 1l3 1l2 2M1093 1474l1 3l2 1l1 2l0 3l0 3l-1 2l-1 3M1135 1511l3 -1l3 1l1 2l2 -2l1 -3l-1 -2l-2 -2M1096 1590l3 1l0 3l2 1l3 -2l3 -1l2 0l1 2M1172 1552l3 -1l2 0l1 -2l2 -2l2 0l2 -1l2 -1M1137 1395l0 2l1 2l2 2l2 2l2 0l3 -1l3 1M1175 1397l-2 0l-1 2l3 0l2 -2l0 -3l-1 -2l-2 -1M1191 1570l-2 0l-2 1l-1 3l-2 2l-1 2l2 2l1 3M1070 1657l0 -3l1 -2l2 0l2 1l3 0l2 2l1 2M1124 1452l2 2l2 1l3 -1l3 1l3 1l2 0l1 2M1030 1392l-1 3l-2 2l-2 -2l-1 -2l-1 -2l2 -2l2 2M1097 1481l2 -1l-3 -2l-3 0l-2 2l1 2l-2 2l-1 -2M1185 1557l1 -2l1 -2l-2 -3l0 -3l1 -2l-1 -2l1 -3M1159 1591l2 0l3 -1l1 -2l1 -3l-2 -2l-1 -2l1 -3M1092 1520l3 -2l3 0l2 -1l-2 -2l-2 2l0 3l-1 2M1149 1460l2 2l0 3l-1 3l-2 2l-2 1l-2 0l-1 3M1017 1594l-2 0l-2 -1l-1 -3l-2 -1l-2 -1l-1 -3l1 -2M1192 1451l0 3l-1 2l-3 0l-2 0l-3 0l-2 2l0 2M1154 1677l-2 1l0 2l3 1l1 1l3 0l2 -1l2 -1M1103 1684l2 2l1 2l0 3l-2 2l-1 2l-2 -1M1025 1393l-2 2l0 2l2 3l2 2l3 1l1 2l2 1M977 1457l0 2l-2 2l1 3l2 2l2 -1l-1 -3l1 -2M1071 1484l0 2l1 2l2 1l2 -1l2 -1l2 -1l2 0M1169 1545l2 1l2 2l2 -1l1 -2l1 -3l2 -1l1 -2M1136 1427l0 2l2 1l3 0l2 1l2 0l1 2l2 3M1185 1441l2 -1l2 0l2 0l3 2l0 3l-2 2l-2 1M1117 1610l-1 -2l-3 -1l-1 2l0 2l3 -1l3 1l3 0M1174 1533l-2 -2l-1 -2l1 -3l2 0l3 1l3 2l1 2M1174 1508l-2 0l-3 0l-2 -2l-2 -1l-3 0l0 3l2 1M1007 1558l1 3l0 3l2 0l2 -1l2 -3l1 -3l2 -1M1011 1443l2 -2l2 -1l2 0l2 1l1 2l0 2l0 3M1168 1601l0 -2l3 -2l3 1l1 2l-1 2l-2 0l-2 -1M1148 1541l-1 2l0 2l-1 2l0 3l1 3l2 2l0 2M1034 1569l3 0l3 0l2 1l3 -1l2 1l1 3l2 0M1158 1605l-3 -1l-3 -1l-1 -3l0 -2l-2 -2l-2 -1l-2 -1M1139 1670l-3 -2l-3 -1l-2 -1l-1 -2l-2 -1l-3 -1l-2 -1M1092 1387l-1 -3l-3 0l-2 2l-1 2l-1 2l-2 2l0 3M1155 1469l2 1l2 1l-1 3l1 3l-2 2l-2 1l-2 0M1156 1641l-3 0l-3 0l-2 -1l-2 0l-3 1l-2 -1l-3 1M1143 1530l3 -2l1 -2l-2 -2l-3 0l-2 2l1 3l3 0M1129 1428l1 2l1 2l1 2l1 2l3 1l2 -1l3 0M1012 1532l-1 -3l-1 -3l2 -2l2 1l3 1l1 3l-1 3M1153 1662l0 3l1 3l2 3l1 3l2 1l1 3l2 -1M1088 1653l3 -1l2 0l2 2l0 3l-1 3l0 2l2 1M983 1453l-1 3l-2 2l-2 1l-2 1l-3 -2l-2 -2l-3 -1M1087 1583l-2 1l-3 -1l-3 0l-2 0l-3 1l-3 2l-2 1M1188 1612l3 -1l1 -2l-2 -2l-3 2l1 3l2 1l3 0M1045 1394l0 2l-1 2l-3 1l-2 -2l-2 0l-2 1l0 3M1068 1566l2 2l2 1l2 -1l2 1l1 3l0 3l1 2M1117 1599l-3 0l-2 1l-2 1l-2 2l-1 3l0 2l2 1M1021 1453l1 2l2 1l3 -1l2 -1l3 -1l1 -2l3 -1M1090 1478l3 -1l3 0l2 -2l2 -2l1 -3l0 -3l0 -2M1150 1463l1 -2l2 -1l3 0l-2 1l-3 1l-2 0l-1 -2M1030 1414l-2 3l-1 2l-1 3l1 2l1 3l1 2l2 2M1127 1653l1 -2l-2 -1l-2 0l-2 2l-2 2l0 3l-2 2M1028 1530l2 -2l2 -1l-1 -3l-3 -1l0 -3l0 -2l1 -3M1177 1532l2 0l1 2l-2 2l-1 2l-2 -3l2 -2l2 0M1132 1637l1 2l2 2l1 3l1 2l-1 3l-3 -2l-2 1M1144 1642l0 2l2 2l2 2l2 1l2 0l2 -1l3 0M1045 1438l-2 3l-3 1l-1 -2l0 -3l2 -1l2 -1l2 1M1071 1621l0 3l-2 1l-2 2l-1 3l0 2l0 2l0 2M1198 1465l-1 2l-2 1l-2 -1l2 -1l2 -2l3 -1l2 2M1160 1377l0 2l2 1l1 2l1 3l0 3l0 2l-1 2M1186 1557l2 -2l2 -2l2 -1l3 -1l2 0l2 -2l1 -2M994 1442l-1 3l0 2l0 3l1 2l2 2l2 2l2 1M1090 1667l-1 3l-2 2l-1 2l0 2l-2 2l-2 3l-3 0M1015 1535l-3 0l0 3l3 0l1 -2l0 -3l-3 0l-3 1M1154 1640l-3 -1l-2 -2l-1 -2l2 -1l2 2l-1 3l-1 3M1055 1508l1 2l1 2l2 3l1 2l2 2l2 2l3 1M1180 1444l2 -1l2 -1l2 -1l0 -3l1 -2l1 -2l1 -2M1111 1619l-1 -3l0 -3l1 -2l0 -2l2 -1l2 0l3 -1M1103 1438l-1 -3l2 -2l2 0l2 2l2 2l1 1l2 1M1056 1457l0 -2l2 -1l3 0l2 1l2 1l1 2l-1 3M1103 1387l-1 3l2 2l2 1l0 3l3 1l3 0l2 -1M1063 1528l-1 -3l-2 -2l-3 0l-2 -2l-3 0l-2 0l-3 1M1133 1515l0 -3l0 -3l-1 -2l0 -3l0 -2l0 -3l-1 -3M1003 1523l-2 2l-2 1l-1 -2l0 -3l3 1l1 2l-2 2M1078 1449l3 -2l2 0l2 1l2 1l1 2l3 1l2 1M1044 1537l2 0l1 2l-2 2l-3 -1l-2 -1l-2 -2l0 -3M1119 1528l-1 2l2 2l1 2l1 2l1 2l1 2l3 1M1134 1396l2 -1l3 -1l2 1l3 0l1 2l1 2l0 2M966 1426l-3 1l-2 0l-3 0l-2 0l-3 1l-2 0l-2 1M1198 1534l-1 -2l-3 0l-2 0l-2 -2l-2 -2l-2 -1l-2 -1M1017 1617l1 -3l-2 -2l-3 0l-2 -1l-1 -2l-3 -1l-2 0M1179 1537l1 2l2 2l3 2l0 3l1 2l3 0l2 1M1164 1467l-2 -1l-2 0l-2 1l0 2l2 1l2 -1l0 -2M1053 1480l-1 2l1 2l2 3l2 2l1 2l2 1l3 0M1004 1431l2 -2l2 -1l1 -2l2 -2l2 -1l0 -2l2 -1M1117 1506l-1 2l-2 2l-2 -1l-2 -1l-1 -2l-2 -2l-2 -1M1171 1427l2 2l-2 2l-2 0l-2 -1l-2 1l-2 0l-2 0M1152 1658l2 -1l2 0l-2 1l-3 -1l-3 0l-3 0l-1 -2M1104 1593l1 2l3 2l2 2l-1 2l0 3l-2 2l-2 1M1075 1429l-2 -1l-1 -3l1 -2l0 -2l2 -1l3 -2l2 0M1071 1629l-2 -2l0 -3l2 -2l0 -3l1 -2l2 0l1 -2M1076 1486l1 2l0 2l2 1l0 2l3 -1l0 -2l0 -2M971 1478l-1 -2l-2 -1l-3 -1l-2 -2l-2 -2l-3 -1l-2 1M1042 1405l3 -1l3 -1l2 -1l0 -3l-2 -2l-2 -1l-1 -2M1107 1525l2 -1l2 1l3 0l2 0l2 2l3 1l0 2M1151 1593l2 0l2 2l-1 3l-2 2l-2 -2l-3 1l-2 -1M1133 1380l-2 -2l-2 -2l-3 -1l-2 -1l-1 -1l-1 -2M1162 1561l0 3l-2 1l-2 -1l-3 0l0 -2l3 0l1 3M1066 1557l-1 2l0 2l0 3l0 2l-1 3l-2 1l-2 2"/>
</g>
<ellipse cx="495.0" cy="722.9" rx="2.53" ry="2.07" fill="#2b4aa2"/>
<ellipse cx="496.0" cy="722.3" rx="0.8" ry="1.2" fill="#2b4aa2"/>
<ellipse cx="493.8" cy="722.8" rx="1.0" ry="1.1" fill="#2b4aa2"/>
<ellipse cx="512.6" cy="707.7" rx="1.84" ry="2.07" fill="#2b4aa2"/>
<ellipse cx="511.5" cy="708.1" rx="1.0" ry="1.2" fill="#2b4aa2"/>
<ellipse cx="511.1" cy="709.2" rx="0.8" ry="1.2" fill="#2b4aa2"/>
<ellipse cx="523.1" cy="706.5" rx="1.84" ry="2.30" fill="#2b4aa2"/>
<ellipse cx="523.1" cy="707.6" rx="0.8" ry="0.9" fill="#2b4aa2"/>
<ellipse cx="521.8" cy="707.4" rx="1.0" ry="0.8" fill="#2b4aa2"/>
<ellipse cx="522.6" cy="712.4" rx="2.07" ry="1.84" fill="#2b4aa2"/>
<ellipse cx="521.6" cy="711.1" rx="0.8" ry="1.0" fill="#2b4aa2"/>
<ellipse cx="522.4" cy="713.1" rx="0.7" ry="1.2" fill="#2b4aa2"/>
<ellipse cx="521.9" cy="724.1" rx="2.30" ry="1.84" fill="#2b4aa2"/>
<ellipse cx="523.4" cy="724.9" rx="1.1" ry="1.2" fill="#2b4aa2"/>
<ellipse cx="520.6" cy="724.0" rx="0.7" ry="1.2" fill="#2b4aa2"/>
<ellipse cx="516.1" cy="734.6" rx="5.17" ry="1.95" fill="#2b4aa2"/>
<ellipse cx="516.2" cy="733.3" rx="1.0" ry="1.2" fill="#2b4aa2"/>
<ellipse cx="516.3" cy="733.4" rx="1.3" ry="0.7" fill="#2b4aa2"/>
<ellipse cx="524.3" cy="742.8" rx="1.61" ry="1.61" fill="#2b4aa2"/>
<ellipse cx="525.4" cy="744.3" rx="1.2" ry="1.3" fill="#2b4aa2"/>
<ellipse cx="524.4" cy="741.9" rx="1.0" ry="1.1" fill="#2b4aa2"/>
<ellipse cx="543.6" cy="718.2" rx="1.61" ry="2.30" fill="#2b4aa2"/>
<ellipse cx="544.5" cy="717.8" rx="1.3" ry="0.7" fill="#2b4aa2"/>
<ellipse cx="543.6" cy="716.7" rx="0.9" ry="1.3" fill="#2b4aa2"/>
<ellipse cx="562.1" cy="720.6" rx="1.49" ry="2.64" fill="#2b4aa2"/>
<ellipse cx="560.9" cy="722.2" rx="1.2" ry="1.1" fill="#2b4aa2"/>
<ellipse cx="560.7" cy="720.5" rx="1.1" ry="0.8" fill="#2b4aa2"/>
<ellipse cx="570.3" cy="719.4" rx="2.30" ry="2.30" fill="#2b4aa2"/>
<ellipse cx="569.7" cy="718.1" rx="1.2" ry="1.2" fill="#2b4aa2"/>
<ellipse cx="571.7" cy="720.2" rx="1.0" ry="0.7" fill="#2b4aa2"/>
<ellipse cx="582.0" cy="719.9" rx="2.53" ry="1.84" fill="#2b4aa2"/>
<ellipse cx="581.9" cy="720.7" rx="1.2" ry="0.7" fill="#2b4aa2"/>
<ellipse cx="580.4" cy="718.6" rx="1.3" ry="0.8" fill="#2b4aa2"/>
<ellipse cx="588.0" cy="703.0" rx="1.61" ry="1.38" fill="#2b4aa2"/>
<ellipse cx="587.6" cy="702.9" rx="1.2" ry="0.8" fill="#2b4aa2"/>
<ellipse cx="587.2" cy="703.9" rx="0.8" ry="0.8" fill="#2b4aa2"/>
<ellipse cx="594.3" cy="708.9" rx="2.07" ry="1.84" fill="#2b4aa2"/>
<ellipse cx="592.8" cy="710.4" rx="0.8" ry="1.0" fill="#2b4aa2"/>
<ellipse cx="593.9" cy="710.4" rx="1.1" ry="1.1" fill="#2b4aa2"/>
<ellipse cx="581.5" cy="710.0" rx="1.15" ry="1.38" fill="#2b4aa2"/>
<ellipse cx="581.5" cy="709.3" rx="1.2" ry="0.8" fill="#2b4aa2"/>
<ellipse cx="581.9" cy="709.3" rx="0.9" ry="1.0" fill="#2b4aa2"/>
<ellipse cx="549.5" cy="751.0" rx="1.84" ry="2.30" fill="#2b4aa2"/>
<ellipse cx="548.5" cy="751.3" rx="0.7" ry="0.7" fill="#2b4aa2"/>
<ellipse cx="548.4" cy="749.7" rx="1.2" ry="1.0" fill="#2b4aa2"/>
<ellipse cx="535.9" cy="755.6" rx="2.07" ry="1.84" fill="#2b4aa2"/>
<ellipse cx="536.5" cy="756.5" rx="0.8" ry="1.3" fill="#2b4aa2"/>
<ellipse cx="535.5" cy="755.5" rx="1.0" ry="1.1" fill="#2b4aa2"/>
<ellipse cx="553.5" cy="755.6" rx="1.61" ry="2.07" fill="#2b4aa2"/>
<ellipse cx="554.4" cy="754.6" rx="1.2" ry="1.0" fill="#2b4aa2"/>
<ellipse cx="552.7" cy="756.8" rx="1.2" ry="1.2" fill="#2b4aa2"/>
<ellipse cx="525.0" cy="760.3" rx="2.53" ry="2.30" fill="#2b4aa2"/>
<ellipse cx="524.4" cy="761.6" rx="1.2" ry="1.3" fill="#2b4aa2"/>
<ellipse cx="525.8" cy="761.9" rx="1.0" ry="1.1" fill="#2b4aa2"/>
<ellipse cx="526.1" cy="766.5" rx="2.53" ry="2.99" fill="#2b4aa2"/>
<ellipse cx="527.0" cy="766.6" rx="1.0" ry="0.9" fill="#2b4aa2"/>
<ellipse cx="527.3" cy="766.1" rx="1.1" ry="1.0" fill="#2b4aa2"/>
<ellipse cx="503.2" cy="762.6" rx="1.61" ry="1.61" fill="#2b4aa2"/>
<ellipse cx="503.9" cy="762.0" rx="0.7" ry="1.1" fill="#2b4aa2"/>
<ellipse cx="502.1" cy="762.2" rx="1.2" ry="0.7" fill="#2b4aa2"/>
<ellipse cx="586.9" cy="755.6" rx="1.38" ry="1.84" fill="#2b4aa2"/>
<ellipse cx="588.2" cy="755.9" rx="1.0" ry="1.1" fill="#2b4aa2"/>
<ellipse cx="585.5" cy="754.1" rx="1.1" ry="1.1" fill="#2b4aa2"/>
<ellipse cx="553.0" cy="767.3" rx="1.38" ry="1.38" fill="#2b4aa2"/>
<ellipse cx="553.4" cy="768.3" rx="0.9" ry="0.8" fill="#2b4aa2"/>
<ellipse cx="554.5" cy="765.9" rx="1.0" ry="1.1" fill="#2b4aa2"/>
<ellipse cx="509.6" cy="779.7" rx="1.61" ry="1.61" fill="#2b4aa2"/>
<ellipse cx="511.1" cy="778.4" rx="1.1" ry="0.7" fill="#2b4aa2"/>
<ellipse cx="509.5" cy="780.1" rx="1.2" ry="0.7" fill="#2b4aa2"/>
<ellipse cx="503.1" cy="786.3" rx="2.07" ry="1.84" fill="#2b4aa2"/>
<ellipse cx="503.9" cy="785.2" rx="0.9" ry="1.3" fill="#2b4aa2"/>
<ellipse cx="504.2" cy="784.9" rx="0.7" ry="0.7" fill="#2b4aa2"/>
<ellipse cx="517.5" cy="791.5" rx="3.22" ry="1.84" fill="#2b4aa2"/>
<ellipse cx="518.4" cy="790.0" rx="1.2" ry="1.2" fill="#2b4aa2"/>
<ellipse cx="518.5" cy="792.9" rx="1.1" ry="1.2" fill="#2b4aa2"/>
<ellipse cx="529.3" cy="787.6" rx="2.07" ry="2.53" fill="#2b4aa2"/>
<ellipse cx="529.4" cy="788.1" rx="0.7" ry="1.0" fill="#2b4aa2"/>
<ellipse cx="530.9" cy="787.2" rx="1.1" ry="0.8" fill="#2b4aa2"/>
<ellipse cx="541.2" cy="778.4" rx="1.84" ry="2.07" fill="#2b4aa2"/>
<ellipse cx="541.1" cy="778.5" rx="1.2" ry="0.9" fill="#2b4aa2"/>
<ellipse cx="541.1" cy="777.4" rx="1.0" ry="1.3" fill="#2b4aa2"/>
<ellipse cx="546.4" cy="794.2" rx="1.84" ry="1.38" fill="#2b4aa2"/>
<ellipse cx="546.0" cy="794.7" rx="1.0" ry="0.8" fill="#2b4aa2"/>
<ellipse cx="547.0" cy="793.3" rx="1.1" ry="1.3" fill="#2b4aa2"/>
<ellipse cx="537.2" cy="791.5" rx="1.61" ry="1.61" fill="#2b4aa2"/>
<ellipse cx="536.6" cy="792.0" rx="0.9" ry="1.1" fill="#2b4aa2"/>
<ellipse cx="536.2" cy="791.5" rx="1.2" ry="0.8" fill="#2b4aa2"/>
<ellipse cx="511.5" cy="740.0" rx="1.49" ry="1.49" fill="#2b4aa2"/>
<ellipse cx="511.0" cy="739.1" rx="0.8" ry="1.1" fill="#2b4aa2"/>
<ellipse cx="512.6" cy="740.1" rx="1.0" ry="0.9" fill="#2b4aa2"/>
<ellipse cx="533.0" cy="711.0" rx="1.38" ry="1.61" fill="#2b4aa2"/>
<ellipse cx="532.2" cy="712.4" rx="1.0" ry="1.1" fill="#2b4aa2"/>
<ellipse cx="532.3" cy="710.0" rx="0.7" ry="0.9" fill="#2b4aa2"/>
<ellipse cx="519.4" cy="769.8" rx="2.0" ry="1.8" fill="#c8202c"/>
<line x1="454.20" y1="800.30" x2="516.60" y2="771.00" stroke="#3a3a3a" stroke-width="0.7" />
<text x="427.00" y="810.80" font-size="9.9" fill="#2a1a12" text-anchor="start" font-weight="bold" >28S-4593</text>
</svg></body></html>
